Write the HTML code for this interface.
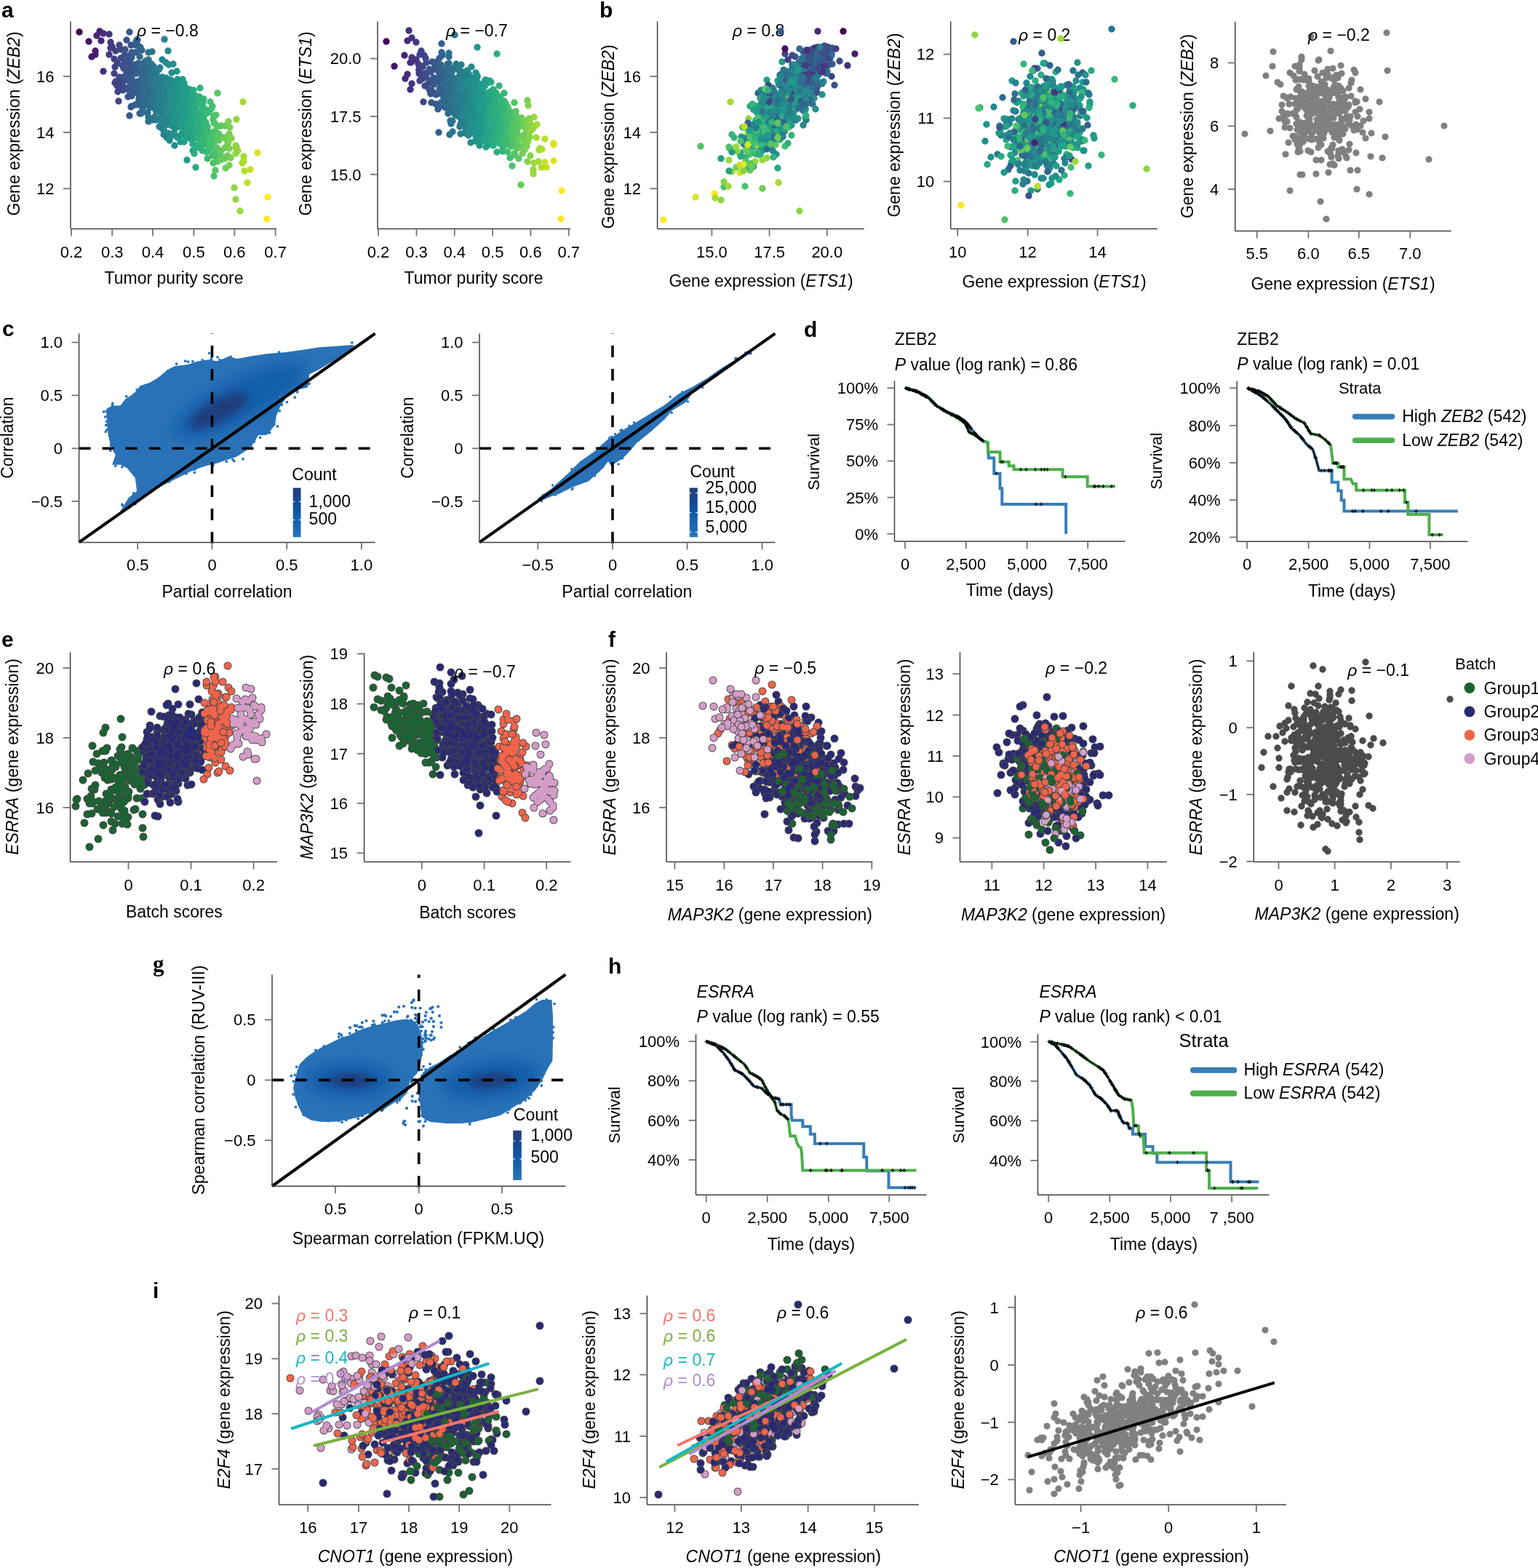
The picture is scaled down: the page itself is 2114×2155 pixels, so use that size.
<!DOCTYPE html>
<html><head><meta charset="utf-8"><title>Figure</title>
<style>html,body{margin:0;padding:0;background:#fff;}svg{display:block;}</style></head>
<body><svg width="2114" height="2155" viewBox="0 0 2114 2155" font-family='"Liberation Sans", Arial, Helvetica, sans-serif'>
<rect width="2114" height="2155" fill="#fff"/>
<defs><clipPath id="hc1"><polygon points="146.3,562 154.2,557.4 165.5,557.4 172.3,548.4 185.8,539.4 192.6,530.3 206.1,525.8 217.4,519 231,507.8 240,503.2 258.1,501 271.6,496.5 287.4,494.2 298.7,496.5 314.5,489.7 325.8,493.1 343.9,489.7 366.5,486.3 393.6,484 416.2,480.7 438.8,477.3 461.3,475.7 483.9,473.9 487.3,475 483.9,478.4 461.3,494.2 438.8,507.8 425.2,514.5 422.9,532.6 411.7,534.9 393.6,546.1 384.6,559.7 380,571 377.8,584.5 366.5,598.1 355.2,598.1 348.4,609.4 339.4,618.4 325.8,627.4 312.3,632 298.7,636.5 280.7,641 262.6,647.8 244.5,656.8 226.5,665.8 208.4,674.9 194.9,683.9 185.8,688.4 174.5,697.5 165.5,702 176.8,683.9 188.1,674.9 185.8,656.8 174.5,643.3 165.5,638.7 154.2,638.7 158.7,625.2 151.9,611.6 148.6,598.1 147.4,584.5 146.3,571"/></clipPath><filter id="hc1b0" x="-50%" y="-50%" width="200%" height="200%"><feGaussianBlur stdDeviation="9"/></filter><filter id="hc1b1" x="-50%" y="-50%" width="200%" height="200%"><feGaussianBlur stdDeviation="6"/></filter><linearGradient id="cb1" x1="0" y1="0" x2="0" y2="1"><stop offset="0" stop-color="#26397a"/><stop offset="0.45" stop-color="#0d56a3"/><stop offset="1" stop-color="#2a74ba"/></linearGradient><clipPath id="hc2"><polygon points="738.9,684.9 758.3,671.2 781.6,649.9 797.2,634.3 816.6,620.7 836,603.2 843.8,599.3 855.5,591.6 874.9,579.9 894.3,568.3 913.8,556.6 933.2,541 952.6,531.3 972.1,519.7 991.5,506.1 1010.9,494.4 1030.4,480.8 1030.4,484.7 1010.9,496.4 991.5,510 972.1,525.5 952.6,539.1 942.9,552.7 923.5,564.4 913.8,576 894.3,593.5 874.9,609.1 865.2,620.7 855.5,630.4 839.9,640.2 836,634.3 826.3,646 808.8,661.5 787.4,669.3 768,679 758.3,681.9 742.8,688.7"/></clipPath><filter id="hc2b0" x="-50%" y="-50%" width="200%" height="200%"><feGaussianBlur stdDeviation="4"/></filter><linearGradient id="cb2" x1="0" y1="0" x2="0" y2="1"><stop offset="0" stop-color="#26397a"/><stop offset="0.45" stop-color="#0d56a3"/><stop offset="1" stop-color="#2a74ba"/></linearGradient><clipPath id="hg"><polygon points="405.3,1484.4 408.6,1471.2 411.9,1462.4 420.7,1453.5 429.6,1446.9 440.6,1440.3 453.8,1433.7 467.1,1427.1 480.3,1422.7 493.5,1416 506.8,1411.6 524.4,1407.2 542.1,1402.8 557.5,1400.6 568.5,1402.8 575.2,1409.4 579.6,1422.7 581.8,1440.3 579.6,1453.5 577.4,1466.8 573,1475.6 564.1,1484.4 559.7,1502.1 550.9,1510.9 542.1,1515.3 528.8,1524.1 511.2,1528.5 493.5,1535.2 475.9,1539.6 458.2,1541.8 440.6,1541.8 427.4,1539.6 416.3,1533 409.7,1519.7 405.3,1506.5 403.1,1495.5"/><polygon points="577.4,1484.4 581.8,1473.4 590.6,1466.8 603.8,1460.2 617.1,1451.3 630.3,1444.7 643.5,1435.9 656.8,1429.3 674.4,1418.2 689.9,1409.4 705.3,1400.6 723,1389.6 736.2,1378.5 745,1374.1 758.3,1374.1 760,1396.2 760,1429.3 759.4,1458 753.9,1466.8 745,1484.4 736.2,1497.7 723,1510.9 705.3,1521.9 687.7,1533 670,1537.4 652.4,1541.8 634.7,1544 612.7,1544 590.6,1541.8 579.6,1535.2 577.4,1517.5 575.2,1502.1"/></clipPath><filter id="hgb0" x="-50%" y="-50%" width="200%" height="200%"><feGaussianBlur stdDeviation="8"/></filter><filter id="hgb1" x="-50%" y="-50%" width="200%" height="200%"><feGaussianBlur stdDeviation="5"/></filter><filter id="hgb2" x="-50%" y="-50%" width="200%" height="200%"><feGaussianBlur stdDeviation="8"/></filter><filter id="hgb3" x="-50%" y="-50%" width="200%" height="200%"><feGaussianBlur stdDeviation="5"/></filter><linearGradient id="cb3" x1="0" y1="0" x2="0" y2="1"><stop offset="0" stop-color="#26397a"/><stop offset="0.45" stop-color="#0d56a3"/><stop offset="1" stop-color="#2a74ba"/></linearGradient></defs>
<text x="2" y="24" font-size="30" font-weight="bold" >a</text>
<path d="M273 187h0M275 154h0" stroke="#2eb07e" stroke-width="9.4" stroke-linecap="round"/>
<path d="M261 145h0M260 154h0M258 183h0M261 150h0" stroke="#24a485" stroke-width="9.4" stroke-linecap="round"/>
<path d="M218 142h0M215 101h0M215 131h0M219 122h0M218 115h0M219 147h0" stroke="#297c8e" stroke-width="9.4" stroke-linecap="round"/>
<path d="M198 92h0M201 120h0M201 91h0M200 98h0" stroke="#2f6c8e" stroke-width="9.4" stroke-linecap="round"/>
<path d="M190 63h0M191 135h0M192 134h0" stroke="#33638d" stroke-width="9.4" stroke-linecap="round"/>
<path d="M236 135h0M234 128h0M233 159h0M234 139h0M232 129h0M234 147h0M236 145h0M232 148h0M233 113h0M235 120h0M236 137h0" stroke="#248c8c" stroke-width="9.4" stroke-linecap="round"/>
<path d="M169 124h0M169 118h0M171 87h0" stroke="#3d4d8a" stroke-width="9.4" stroke-linecap="round"/>
<path d="M258 154h0M257 170h0M256 174h0M257 169h0M256 163h0M256 182h0" stroke="#21a087" stroke-width="9.4" stroke-linecap="round"/>
<path d="M214 97h0M211 114h0M214 108h0M214 139h0M212 107h0M211 138h0M214 96h0M214 136h0" stroke="#2a788e" stroke-width="9.4" stroke-linecap="round"/>
<path d="M161 87h0" stroke="#404386" stroke-width="9.4" stroke-linecap="round"/>
<path d="M231 165h0M228 146h0M232 166h0M228 153h0M231 166h0M231 129h0M231 116h0" stroke="#25888d" stroke-width="9.4" stroke-linecap="round"/>
<path d="M239 182h0M239 161h0M236 132h0M240 151h0M237 153h0M238 151h0M238 139h0" stroke="#22908c" stroke-width="9.4" stroke-linecap="round"/>
<path d="M317 217h0M315 227h0M315 184h0" stroke="#7bd050" stroke-width="9.4" stroke-linecap="round"/>
<path d="M243 175h0M242 154h0M243 164h0M242 155h0M243 160h0M243 158h0" stroke="#21948b" stroke-width="9.4" stroke-linecap="round"/>
<path d="M223 163h0M226 121h0M224 152h0M223 165h0M224 148h0M225 124h0M224 135h0" stroke="#26838e" stroke-width="9.4" stroke-linecap="round"/>
<path d="M313 214h0M312 192h0" stroke="#71ce57" stroke-width="9.4" stroke-linecap="round"/>
<path d="M303 207h0M304 173h0" stroke="#5fc861" stroke-width="9.4" stroke-linecap="round"/>
<path d="M263 169h0M263 139h0M265 207h0" stroke="#28a883" stroke-width="9.4" stroke-linecap="round"/>
<path d="M284 186h0M284 209h0" stroke="#3dba74" stroke-width="9.4" stroke-linecap="round"/>
<path d="M253 150h0M251 171h0M253 127h0M251 132h0M252 170h0" stroke="#1f9d89" stroke-width="9.4" stroke-linecap="round"/>
<path d="M295 204h0" stroke="#4ec16b" stroke-width="9.4" stroke-linecap="round"/>
<path d="M142 46h0" stroke="#462f7b" stroke-width="9.4" stroke-linecap="round"/>
<path d="M221 119h0M221 113h0M220 136h0" stroke="#277f8e" stroke-width="9.4" stroke-linecap="round"/>
<path d="M208 101h0M209 132h0M207 127h0M208 124h0" stroke="#2c748e" stroke-width="9.4" stroke-linecap="round"/>
<path d="M173 95h0" stroke="#3b528a" stroke-width="9.4" stroke-linecap="round"/>
<path d="M194 119h0" stroke="#31688e" stroke-width="9.4" stroke-linecap="round"/>
<path d="M296 182h0" stroke="#57c466" stroke-width="9.4" stroke-linecap="round"/>
<path d="M203 123h0" stroke="#2e708e" stroke-width="9.4" stroke-linecap="round"/>
<path d="M280 170h0M280 167h0" stroke="#35b779" stroke-width="9.4" stroke-linecap="round"/>
<path d="M181 146h0" stroke="#375a8c" stroke-width="9.4" stroke-linecap="round"/>
<path d="M246 152h0M248 174h0M245 173h0M247 154h0" stroke="#20988a" stroke-width="9.4" stroke-linecap="round"/>
<path d="M335 221h0" stroke="#b0dd2e" stroke-width="9.4" stroke-linecap="round"/>
<path d="M267 211h0M268 145h0M267 150h0" stroke="#2bac80" stroke-width="9.4" stroke-linecap="round"/>
<path d="M278 197h0M278 187h0M275 181h0" stroke="#32b37b" stroke-width="9.4" stroke-linecap="round"/>
<path d="M166 107h0" stroke="#3e4888" stroke-width="9.4" stroke-linecap="round"/>
<path d="M325 164h0" stroke="#90d642" stroke-width="9.4" stroke-linecap="round"/>
<path d="M139 56h0" stroke="#482a79" stroke-width="9.4" stroke-linecap="round"/>
<path d="M154 64h0" stroke="#433980" stroke-width="9.4" stroke-linecap="round"/>
<path d="M180 126h0" stroke="#39568b" stroke-width="9.4" stroke-linecap="round"/>
<path d="M131 75h0" stroke="#471e6f" stroke-width="9.4" stroke-linecap="round"/>
<path d="M218 128h0M217 129h0M218 140h0M217 127h0M216 128h0" stroke="#297c8e" stroke-width="9.4" stroke-linecap="round"/>
<path d="M261 123h0M259 177h0M259 171h0" stroke="#24a485" stroke-width="9.4" stroke-linecap="round"/>
<path d="M253 165h0M253 165h0M252 161h0M252 173h0M251 142h0" stroke="#1f9d89" stroke-width="9.4" stroke-linecap="round"/>
<path d="M175 108h0M172 110h0M174 121h0" stroke="#3b528a" stroke-width="9.4" stroke-linecap="round"/>
<path d="M255 176h0M257 159h0M255 159h0M256 121h0M256 189h0M254 146h0" stroke="#21a087" stroke-width="9.4" stroke-linecap="round"/>
<path d="M225 163h0M227 129h0M226 149h0M224 136h0" stroke="#26838e" stroke-width="9.4" stroke-linecap="round"/>
<path d="M235 161h0M235 171h0M232 139h0M232 109h0M236 144h0M235 129h0M233 143h0M233 141h0" stroke="#248c8c" stroke-width="9.4" stroke-linecap="round"/>
<path d="M237 125h0M237 168h0M237 164h0M240 140h0M237 127h0M237 149h0M236 151h0M236 156h0M236 138h0M240 156h0M239 160h0" stroke="#22908c" stroke-width="9.4" stroke-linecap="round"/>
<path d="M272 199h0M274 184h0M273 154h0M271 165h0" stroke="#2eb07e" stroke-width="9.4" stroke-linecap="round"/>
<path d="M194 136h0M196 119h0M194 90h0" stroke="#31688e" stroke-width="9.4" stroke-linecap="round"/>
<path d="M268 185h0M268 133h0M270 153h0M268 145h0M267 162h0" stroke="#2bac80" stroke-width="9.4" stroke-linecap="round"/>
<path d="M279 147h0M281 198h0M283 168h0" stroke="#35b779" stroke-width="9.4" stroke-linecap="round"/>
<path d="M213 140h0M214 165h0M213 125h0M214 146h0M211 148h0M214 133h0" stroke="#2a788e" stroke-width="9.4" stroke-linecap="round"/>
<path d="M210 124h0M210 123h0M209 99h0M210 116h0M207 119h0M208 140h0" stroke="#2c748e" stroke-width="9.4" stroke-linecap="round"/>
<path d="M287 204h0M288 194h0" stroke="#3dba74" stroke-width="9.4" stroke-linecap="round"/>
<path d="M201 126h0M199 111h0M201 125h0M200 119h0M198 107h0" stroke="#2f6c8e" stroke-width="9.4" stroke-linecap="round"/>
<path d="M221 141h0M223 106h0M222 148h0M220 93h0" stroke="#277f8e" stroke-width="9.4" stroke-linecap="round"/>
<path d="M231 157h0M229 131h0M228 128h0M229 131h0M231 159h0" stroke="#25888d" stroke-width="9.4" stroke-linecap="round"/>
<path d="M188 100h0M186 144h0M185 89h0" stroke="#355f8c" stroke-width="9.4" stroke-linecap="round"/>
<path d="M278 184h0M275 160h0M278 161h0" stroke="#32b37b" stroke-width="9.4" stroke-linecap="round"/>
<path d="M262 176h0M265 198h0M264 180h0" stroke="#28a883" stroke-width="9.4" stroke-linecap="round"/>
<path d="M246 155h0M249 186h0M246 144h0M246 158h0M248 162h0M247 169h0M247 136h0" stroke="#20988a" stroke-width="9.4" stroke-linecap="round"/>
<path d="M293 164h0M294 169h0M296 185h0" stroke="#4ec16b" stroke-width="9.4" stroke-linecap="round"/>
<path d="M180 112h0M179 86h0M180 98h0" stroke="#39568b" stroke-width="9.4" stroke-linecap="round"/>
<path d="M181 79h0" stroke="#375a8c" stroke-width="9.4" stroke-linecap="round"/>
<path d="M203 140h0M205 138h0M204 90h0" stroke="#2e708e" stroke-width="9.4" stroke-linecap="round"/>
<path d="M158 114h0M157 101h0" stroke="#423e83" stroke-width="9.4" stroke-linecap="round"/>
<path d="M192 137h0M190 123h0M192 131h0M189 114h0" stroke="#33638d" stroke-width="9.4" stroke-linecap="round"/>
<path d="M168 115h0" stroke="#3d4d8a" stroke-width="9.4" stroke-linecap="round"/>
<path d="M290 197h0" stroke="#46be6f" stroke-width="9.4" stroke-linecap="round"/>
<path d="M164 106h0M164 118h0" stroke="#3e4888" stroke-width="9.4" stroke-linecap="round"/>
<path d="M159 112h0" stroke="#404386" stroke-width="9.4" stroke-linecap="round"/>
<path d="M285 176h0" stroke="#3dba74" stroke-width="9.4" stroke-linecap="round"/>
<path d="M235 120h0M234 139h0M236 153h0M235 124h0M234 155h0M234 160h0M235 153h0M236 156h0M235 110h0M235 140h0" stroke="#248c8c" stroke-width="9.4" stroke-linecap="round"/>
<path d="M256 128h0M258 126h0" stroke="#21a087" stroke-width="9.4" stroke-linecap="round"/>
<path d="M260 163h0M261 148h0M258 182h0M259 138h0M259 142h0M260 166h0M259 174h0" stroke="#24a485" stroke-width="9.4" stroke-linecap="round"/>
<path d="M243 132h0M244 121h0M241 165h0M243 175h0M243 137h0M244 138h0M244 111h0" stroke="#21948b" stroke-width="9.4" stroke-linecap="round"/>
<path d="M224 156h0M224 178h0M226 140h0" stroke="#26838e" stroke-width="9.4" stroke-linecap="round"/>
<path d="M183 128h0M181 72h0M183 92h0" stroke="#375a8c" stroke-width="9.4" stroke-linecap="round"/>
<path d="M207 126h0M209 108h0M208 88h0M210 131h0M210 92h0M209 94h0M209 110h0M206 131h0" stroke="#2c748e" stroke-width="9.4" stroke-linecap="round"/>
<path d="M223 127h0M222 134h0M221 152h0M219 144h0M219 145h0M219 174h0M220 125h0" stroke="#277f8e" stroke-width="9.4" stroke-linecap="round"/>
<path d="M185 126h0M189 55h0M186 62h0M187 58h0" stroke="#355f8c" stroke-width="9.4" stroke-linecap="round"/>
<path d="M200 107h0M201 102h0M200 124h0M200 84h0" stroke="#2f6c8e" stroke-width="9.4" stroke-linecap="round"/>
<path d="M247 138h0M248 155h0M249 126h0M248 141h0M246 164h0" stroke="#20988a" stroke-width="9.4" stroke-linecap="round"/>
<path d="M278 187h0M275 141h0M279 199h0M276 180h0" stroke="#32b37b" stroke-width="9.4" stroke-linecap="round"/>
<path d="M172 104h0" stroke="#3b528a" stroke-width="9.4" stroke-linecap="round"/>
<path d="M192 78h0M193 143h0" stroke="#33638d" stroke-width="9.4" stroke-linecap="round"/>
<path d="M313 197h0" stroke="#71ce57" stroke-width="9.4" stroke-linecap="round"/>
<path d="M228 108h0M231 139h0M228 162h0M230 125h0M232 126h0M229 151h0M231 126h0M231 183h0" stroke="#25888d" stroke-width="9.4" stroke-linecap="round"/>
<path d="M269 159h0M267 164h0M266 178h0M267 173h0M269 137h0M270 142h0M267 159h0" stroke="#2bac80" stroke-width="9.4" stroke-linecap="round"/>
<path d="M161 118h0" stroke="#404386" stroke-width="9.4" stroke-linecap="round"/>
<path d="M252 160h0M250 144h0M250 138h0M250 152h0M252 155h0" stroke="#1f9d89" stroke-width="9.4" stroke-linecap="round"/>
<path d="M240 143h0M237 142h0M236 128h0M240 200h0M238 123h0M238 147h0" stroke="#22908c" stroke-width="9.4" stroke-linecap="round"/>
<path d="M203 121h0M206 148h0M205 126h0M202 109h0" stroke="#2e708e" stroke-width="9.4" stroke-linecap="round"/>
<path d="M196 105h0" stroke="#31688e" stroke-width="9.4" stroke-linecap="round"/>
<path d="M265 165h0M264 172h0M265 152h0M262 179h0M263 141h0M265 184h0" stroke="#28a883" stroke-width="9.4" stroke-linecap="round"/>
<path d="M281 175h0M280 156h0" stroke="#35b779" stroke-width="9.4" stroke-linecap="round"/>
<path d="M178 94h0M178 90h0" stroke="#39568b" stroke-width="9.4" stroke-linecap="round"/>
<path d="M315 204h0" stroke="#7bd050" stroke-width="9.4" stroke-linecap="round"/>
<path d="M296 234h0" stroke="#57c466" stroke-width="9.4" stroke-linecap="round"/>
<path d="M158 92h0" stroke="#423e83" stroke-width="9.4" stroke-linecap="round"/>
<path d="M295 194h0" stroke="#4ec16b" stroke-width="9.4" stroke-linecap="round"/>
<path d="M273 156h0M272 203h0M273 143h0" stroke="#2eb07e" stroke-width="9.4" stroke-linecap="round"/>
<path d="M215 125h0" stroke="#297c8e" stroke-width="9.4" stroke-linecap="round"/>
<path d="M168 90h0" stroke="#3d4d8a" stroke-width="9.4" stroke-linecap="round"/>
<path d="M212 138h0M213 110h0M212 123h0" stroke="#2a788e" stroke-width="9.4" stroke-linecap="round"/>
<path d="M336 235h0" stroke="#b0dd2e" stroke-width="9.4" stroke-linecap="round"/>
<path d="M166 80h0" stroke="#3e4888" stroke-width="9.4" stroke-linecap="round"/>
<path d="M250 146h0M250 148h0M252 157h0M250 150h0M252 185h0M251 135h0M250 160h0M253 170h0M249 150h0M251 147h0M252 116h0" stroke="#1f9d89" stroke-width="9.4" stroke-linecap="round"/>
<path d="M289 151h0M290 184h0M291 203h0" stroke="#46be6f" stroke-width="9.4" stroke-linecap="round"/>
<path d="M236 136h0M238 173h0M237 164h0M237 164h0M237 142h0M237 120h0M236 168h0M240 175h0" stroke="#22908c" stroke-width="9.4" stroke-linecap="round"/>
<path d="M199 118h0M199 106h0M201 144h0M198 96h0M198 145h0M201 94h0M197 117h0M201 127h0" stroke="#2f6c8e" stroke-width="9.4" stroke-linecap="round"/>
<path d="M213 121h0M213 118h0M212 120h0M213 107h0" stroke="#2a788e" stroke-width="9.4" stroke-linecap="round"/>
<path d="M218 152h0M218 147h0M216 135h0" stroke="#297c8e" stroke-width="9.4" stroke-linecap="round"/>
<path d="M228 118h0M231 135h0M230 152h0M228 153h0M231 142h0M229 136h0M230 132h0" stroke="#25888d" stroke-width="9.4" stroke-linecap="round"/>
<path d="M245 164h0M241 129h0M241 131h0M241 125h0M241 186h0M242 151h0M244 151h0M241 128h0" stroke="#21948b" stroke-width="9.4" stroke-linecap="round"/>
<path d="M259 172h0" stroke="#24a485" stroke-width="9.4" stroke-linecap="round"/>
<path d="M335 215h0" stroke="#a6db35" stroke-width="9.4" stroke-linecap="round"/>
<path d="M281 158h0" stroke="#35b779" stroke-width="9.4" stroke-linecap="round"/>
<path d="M159 70h0" stroke="#404386" stroke-width="9.4" stroke-linecap="round"/>
<path d="M174 93h0M175 95h0M173 86h0M176 96h0" stroke="#3b528a" stroke-width="9.4" stroke-linecap="round"/>
<path d="M274 133h0M273 180h0M272 166h0M271 159h0M275 160h0" stroke="#2eb07e" stroke-width="9.4" stroke-linecap="round"/>
<path d="M191 138h0M193 65h0" stroke="#33638d" stroke-width="9.4" stroke-linecap="round"/>
<path d="M183 120h0M181 90h0" stroke="#375a8c" stroke-width="9.4" stroke-linecap="round"/>
<path d="M268 169h0M270 185h0M268 145h0" stroke="#2bac80" stroke-width="9.4" stroke-linecap="round"/>
<path d="M179 105h0" stroke="#39568b" stroke-width="9.4" stroke-linecap="round"/>
<path d="M195 106h0M197 87h0M195 138h0M195 109h0M194 113h0" stroke="#31688e" stroke-width="9.4" stroke-linecap="round"/>
<path d="M299 222h0M298 203h0M298 216h0" stroke="#57c466" stroke-width="9.4" stroke-linecap="round"/>
<path d="M315 193h0M316 175h0" stroke="#7bd050" stroke-width="9.4" stroke-linecap="round"/>
<path d="M185 94h0M185 124h0M186 72h0" stroke="#355f8c" stroke-width="9.4" stroke-linecap="round"/>
<path d="M245 152h0M246 155h0M249 173h0M248 128h0" stroke="#20988a" stroke-width="9.4" stroke-linecap="round"/>
<path d="M303 214h0" stroke="#5fc861" stroke-width="9.4" stroke-linecap="round"/>
<path d="M204 129h0M203 113h0M204 167h0M204 101h0M205 126h0M204 136h0" stroke="#2e708e" stroke-width="9.4" stroke-linecap="round"/>
<path d="M222 160h0" stroke="#277f8e" stroke-width="9.4" stroke-linecap="round"/>
<path d="M295 211h0" stroke="#4ec16b" stroke-width="9.4" stroke-linecap="round"/>
<path d="M235 164h0M234 120h0M235 149h0M232 164h0" stroke="#248c8c" stroke-width="9.4" stroke-linecap="round"/>
<path d="M224 133h0M227 132h0M227 150h0M223 149h0M227 161h0" stroke="#26838e" stroke-width="9.4" stroke-linecap="round"/>
<path d="M210 122h0M207 124h0M209 165h0" stroke="#2c748e" stroke-width="9.4" stroke-linecap="round"/>
<path d="M264 140h0M265 183h0M265 173h0M264 178h0" stroke="#28a883" stroke-width="9.4" stroke-linecap="round"/>
<path d="M279 177h0M277 172h0" stroke="#32b37b" stroke-width="9.4" stroke-linecap="round"/>
<path d="M327 207h0" stroke="#9bd83c" stroke-width="9.4" stroke-linecap="round"/>
<path d="M284 151h0M286 194h0" stroke="#3dba74" stroke-width="9.4" stroke-linecap="round"/>
<path d="M325 202h0" stroke="#90d642" stroke-width="9.4" stroke-linecap="round"/>
<path d="M255 157h0M253 114h0M254 132h0M255 130h0" stroke="#21a087" stroke-width="9.4" stroke-linecap="round"/>
<path d="M255 143h0M257 170h0M257 184h0M256 148h0M256 189h0" stroke="#21a087" stroke-width="9.4" stroke-linecap="round"/>
<path d="M206 94h0M204 128h0M202 129h0M203 140h0M202 123h0M204 161h0" stroke="#2e708e" stroke-width="9.4" stroke-linecap="round"/>
<path d="M278 139h0M278 161h0M276 195h0M278 182h0M278 182h0M275 121h0" stroke="#32b37b" stroke-width="9.4" stroke-linecap="round"/>
<path d="M262 157h0M266 183h0M266 136h0M265 173h0" stroke="#28a883" stroke-width="9.4" stroke-linecap="round"/>
<path d="M219 134h0M223 132h0M221 134h0M221 140h0M221 175h0" stroke="#277f8e" stroke-width="9.4" stroke-linecap="round"/>
<path d="M196 150h0M196 134h0M197 114h0" stroke="#31688e" stroke-width="9.4" stroke-linecap="round"/>
<path d="M164 62h0M166 68h0" stroke="#3e4888" stroke-width="9.4" stroke-linecap="round"/>
<path d="M233 154h0M236 131h0M236 154h0M236 100h0M232 145h0M233 135h0" stroke="#248c8c" stroke-width="9.4" stroke-linecap="round"/>
<path d="M229 135h0M229 123h0M230 163h0M229 189h0M230 151h0M229 110h0M230 124h0" stroke="#25888d" stroke-width="9.4" stroke-linecap="round"/>
<path d="M266 165h0M270 169h0M269 149h0M269 150h0M268 190h0" stroke="#2bac80" stroke-width="9.4" stroke-linecap="round"/>
<path d="M176 92h0" stroke="#3b528a" stroke-width="9.4" stroke-linecap="round"/>
<path d="M214 105h0M215 120h0M213 137h0M214 151h0M211 127h0M211 91h0M212 104h0" stroke="#2a788e" stroke-width="9.4" stroke-linecap="round"/>
<path d="M309 173h0" stroke="#67cb5c" stroke-width="9.4" stroke-linecap="round"/>
<path d="M192 69h0M192 99h0M190 87h0M189 97h0M189 121h0M191 130h0" stroke="#33638d" stroke-width="9.4" stroke-linecap="round"/>
<path d="M227 135h0M224 154h0M227 142h0M224 124h0M226 147h0M227 131h0" stroke="#26838e" stroke-width="9.4" stroke-linecap="round"/>
<path d="M260 156h0M260 183h0M262 191h0M259 182h0M261 186h0" stroke="#24a485" stroke-width="9.4" stroke-linecap="round"/>
<path d="M271 178h0M272 189h0M272 155h0" stroke="#2eb07e" stroke-width="9.4" stroke-linecap="round"/>
<path d="M179 114h0M177 124h0" stroke="#39568b" stroke-width="9.4" stroke-linecap="round"/>
<path d="M293 224h0" stroke="#4ec16b" stroke-width="9.4" stroke-linecap="round"/>
<path d="M237 186h0M238 125h0M238 149h0M236 152h0M239 120h0M236 138h0M237 141h0M237 127h0" stroke="#22908c" stroke-width="9.4" stroke-linecap="round"/>
<path d="M243 135h0M242 150h0M244 189h0M243 98h0M245 135h0M241 120h0M243 171h0M244 109h0M243 164h0" stroke="#21948b" stroke-width="9.4" stroke-linecap="round"/>
<path d="M324 211h0M324 200h0M324 203h0" stroke="#90d642" stroke-width="9.4" stroke-linecap="round"/>
<path d="M187 101h0M186 95h0" stroke="#355f8c" stroke-width="9.4" stroke-linecap="round"/>
<path d="M247 137h0M247 118h0M245 125h0" stroke="#20988a" stroke-width="9.4" stroke-linecap="round"/>
<path d="M281 179h0M283 181h0" stroke="#35b779" stroke-width="9.4" stroke-linecap="round"/>
<path d="M208 124h0" stroke="#2c748e" stroke-width="9.4" stroke-linecap="round"/>
<path d="M201 109h0M199 118h0M201 137h0M198 108h0M201 107h0M201 109h0" stroke="#2f6c8e" stroke-width="9.4" stroke-linecap="round"/>
<path d="M216 118h0M215 142h0M216 108h0" stroke="#297c8e" stroke-width="9.4" stroke-linecap="round"/>
<path d="M170 94h0" stroke="#3d4d8a" stroke-width="9.4" stroke-linecap="round"/>
<path d="M284 179h0" stroke="#3dba74" stroke-width="9.4" stroke-linecap="round"/>
<path d="M311 215h0" stroke="#71ce57" stroke-width="9.4" stroke-linecap="round"/>
<path d="M133 49h0" stroke="#482474" stroke-width="9.4" stroke-linecap="round"/>
<path d="M253 160h0" stroke="#1f9d89" stroke-width="9.4" stroke-linecap="round"/>
<path d="M162 113h0" stroke="#404386" stroke-width="9.4" stroke-linecap="round"/>
<path d="M304 207h0" stroke="#5fc861" stroke-width="9.4" stroke-linecap="round"/>
<path d="M174 55h0M176 133h0M174 97h0M174 82h0" stroke="#3b528a" stroke-width="9.4" stroke-linecap="round"/>
<path d="M280 190h0M280 136h0M282 194h0M280 161h0M281 178h0M282 189h0" stroke="#35b779" stroke-width="9.4" stroke-linecap="round"/>
<path d="M264 181h0M263 163h0M262 164h0M264 184h0M265 130h0" stroke="#28a883" stroke-width="9.4" stroke-linecap="round"/>
<path d="M183 113h0M181 100h0M183 126h0" stroke="#375a8c" stroke-width="9.4" stroke-linecap="round"/>
<path d="M272 177h0M271 163h0M273 164h0" stroke="#2eb07e" stroke-width="9.4" stroke-linecap="round"/>
<path d="M242 131h0M242 145h0M242 113h0M244 168h0M242 136h0M243 166h0" stroke="#21948b" stroke-width="9.4" stroke-linecap="round"/>
<path d="M269 170h0M267 163h0M268 132h0" stroke="#2bac80" stroke-width="9.4" stroke-linecap="round"/>
<path d="M204 116h0M203 138h0M202 155h0M204 82h0M206 112h0M204 72h0" stroke="#2e708e" stroke-width="9.4" stroke-linecap="round"/>
<path d="M171 76h0" stroke="#3d4d8a" stroke-width="9.4" stroke-linecap="round"/>
<path d="M189 123h0M192 156h0" stroke="#33638d" stroke-width="9.4" stroke-linecap="round"/>
<path d="M196 122h0M197 92h0M195 69h0M194 119h0M197 126h0" stroke="#31688e" stroke-width="9.4" stroke-linecap="round"/>
<path d="M237 168h0M238 139h0M239 164h0M237 130h0M237 140h0M238 130h0" stroke="#22908c" stroke-width="9.4" stroke-linecap="round"/>
<path d="M229 119h0M231 157h0M231 148h0M228 146h0M228 86h0M228 107h0M229 139h0M230 171h0" stroke="#25888d" stroke-width="9.4" stroke-linecap="round"/>
<path d="M207 118h0M207 112h0" stroke="#2c748e" stroke-width="9.4" stroke-linecap="round"/>
<path d="M247 139h0M246 150h0M247 162h0M248 166h0M249 154h0M248 195h0" stroke="#20988a" stroke-width="9.4" stroke-linecap="round"/>
<path d="M284 154h0M285 174h0M284 184h0" stroke="#3dba74" stroke-width="9.4" stroke-linecap="round"/>
<path d="M224 127h0M225 142h0M225 185h0M227 120h0M225 177h0M225 133h0M225 132h0M223 82h0M227 154h0M224 142h0M225 131h0M225 153h0" stroke="#26838e" stroke-width="9.4" stroke-linecap="round"/>
<path d="M309 203h0M310 203h0" stroke="#71ce57" stroke-width="9.4" stroke-linecap="round"/>
<path d="M233 150h0M235 161h0M234 186h0M233 130h0M235 168h0M234 132h0" stroke="#248c8c" stroke-width="9.4" stroke-linecap="round"/>
<path d="M250 144h0M250 171h0M249 160h0M250 183h0M251 156h0M252 154h0" stroke="#1f9d89" stroke-width="9.4" stroke-linecap="round"/>
<path d="M222 122h0M221 172h0M221 126h0M221 115h0M221 136h0M221 116h0" stroke="#277f8e" stroke-width="9.4" stroke-linecap="round"/>
<path d="M299 216h0M297 158h0" stroke="#57c466" stroke-width="9.4" stroke-linecap="round"/>
<path d="M180 99h0M178 98h0" stroke="#39568b" stroke-width="9.4" stroke-linecap="round"/>
<path d="M257 169h0" stroke="#21a087" stroke-width="9.4" stroke-linecap="round"/>
<path d="M276 172h0M279 151h0" stroke="#32b37b" stroke-width="9.4" stroke-linecap="round"/>
<path d="M333 224h0" stroke="#a6db35" stroke-width="9.4" stroke-linecap="round"/>
<path d="M213 130h0M213 130h0M211 163h0" stroke="#2a788e" stroke-width="9.4" stroke-linecap="round"/>
<path d="M152 66h0" stroke="#433980" stroke-width="9.4" stroke-linecap="round"/>
<path d="M260 168h0M260 157h0M259 145h0M261 160h0" stroke="#24a485" stroke-width="9.4" stroke-linecap="round"/>
<path d="M216 130h0M218 125h0M215 132h0M216 143h0" stroke="#297c8e" stroke-width="9.4" stroke-linecap="round"/>
<path d="M126 78h0" stroke="#46186a" stroke-width="9.4" stroke-linecap="round"/>
<path d="M309 218h0M305 219h0" stroke="#67cb5c" stroke-width="9.4" stroke-linecap="round"/>
<path d="M163 139h0" stroke="#3e4888" stroke-width="9.4" stroke-linecap="round"/>
<path d="M289 195h0M289 201h0M292 146h0M291 149h0M290 183h0M292 194h0" stroke="#46be6f" stroke-width="9.4" stroke-linecap="round"/>
<path d="M301 193h0" stroke="#5fc861" stroke-width="9.4" stroke-linecap="round"/>
<path d="M229 167h0M231 144h0M230 118h0" stroke="#25888d" stroke-width="9.4" stroke-linecap="round"/>
<path d="M209 140h0M208 100h0M206 136h0M207 139h0" stroke="#2c748e" stroke-width="9.4" stroke-linecap="round"/>
<path d="M215 137h0M218 96h0M217 116h0M217 164h0" stroke="#297c8e" stroke-width="9.4" stroke-linecap="round"/>
<path d="M246 113h0M248 146h0M246 136h0M246 146h0M248 145h0" stroke="#20988a" stroke-width="9.4" stroke-linecap="round"/>
<path d="M241 145h0M241 164h0M241 150h0M241 152h0M241 155h0M242 146h0M244 137h0M242 126h0M241 172h0" stroke="#21948b" stroke-width="9.4" stroke-linecap="round"/>
<path d="M296 171h0M294 159h0" stroke="#4ec16b" stroke-width="9.4" stroke-linecap="round"/>
<path d="M204 125h0M206 137h0M204 116h0" stroke="#2e708e" stroke-width="9.4" stroke-linecap="round"/>
<path d="M183 121h0M181 132h0" stroke="#375a8c" stroke-width="9.4" stroke-linecap="round"/>
<path d="M226 139h0M227 110h0M226 157h0M226 150h0M227 125h0M226 113h0M227 137h0" stroke="#26838e" stroke-width="9.4" stroke-linecap="round"/>
<path d="M233 124h0M233 132h0M233 193h0M236 129h0M234 152h0M232 122h0M236 124h0M236 157h0M232 89h0M236 142h0M232 119h0" stroke="#248c8c" stroke-width="9.4" stroke-linecap="round"/>
<path d="M266 124h0M268 175h0M269 132h0" stroke="#2bac80" stroke-width="9.4" stroke-linecap="round"/>
<path d="M240 142h0M239 134h0M240 158h0M240 172h0M236 129h0M240 150h0M238 88h0M236 145h0" stroke="#22908c" stroke-width="9.4" stroke-linecap="round"/>
<path d="M282 155h0M283 178h0M283 178h0" stroke="#35b779" stroke-width="9.4" stroke-linecap="round"/>
<path d="M286 207h0M285 184h0M286 155h0" stroke="#3dba74" stroke-width="9.4" stroke-linecap="round"/>
<path d="M175 77h0M173 91h0M174 104h0" stroke="#3b528a" stroke-width="9.4" stroke-linecap="round"/>
<path d="M263 177h0M264 192h0M264 137h0M264 144h0M263 157h0M263 168h0" stroke="#28a883" stroke-width="9.4" stroke-linecap="round"/>
<path d="M278 207h0M279 141h0M275 165h0" stroke="#32b37b" stroke-width="9.4" stroke-linecap="round"/>
<path d="M261 184h0M261 155h0" stroke="#24a485" stroke-width="9.4" stroke-linecap="round"/>
<path d="M222 142h0M220 138h0M220 130h0M219 163h0M222 155h0" stroke="#277f8e" stroke-width="9.4" stroke-linecap="round"/>
<path d="M301 184h0M299 174h0M299 187h0M296 170h0M297 182h0" stroke="#57c466" stroke-width="9.4" stroke-linecap="round"/>
<path d="M163 112h0" stroke="#404386" stroke-width="9.4" stroke-linecap="round"/>
<path d="M258 189h0M254 137h0M255 175h0M257 161h0" stroke="#21a087" stroke-width="9.4" stroke-linecap="round"/>
<path d="M195 88h0M194 156h0M196 99h0M197 97h0" stroke="#31688e" stroke-width="9.4" stroke-linecap="round"/>
<path d="M180 147h0" stroke="#39568b" stroke-width="9.4" stroke-linecap="round"/>
<path d="M199 127h0M200 127h0M199 126h0M199 143h0M198 116h0" stroke="#2f6c8e" stroke-width="9.4" stroke-linecap="round"/>
<path d="M152 58h0" stroke="#433980" stroke-width="9.4" stroke-linecap="round"/>
<path d="M188 120h0M188 55h0M187 101h0" stroke="#355f8c" stroke-width="9.4" stroke-linecap="round"/>
<path d="M272 142h0M273 174h0" stroke="#2eb07e" stroke-width="9.4" stroke-linecap="round"/>
<path d="M310 189h0" stroke="#71ce57" stroke-width="9.4" stroke-linecap="round"/>
<path d="M314 167h0" stroke="#7bd050" stroke-width="9.4" stroke-linecap="round"/>
<path d="M253 167h0M253 142h0M253 155h0" stroke="#1f9d89" stroke-width="9.4" stroke-linecap="round"/>
<path d="M307 189h0" stroke="#67cb5c" stroke-width="9.4" stroke-linecap="round"/>
<path d="M224 141h0M226 170h0M224 166h0M226 164h0M224 123h0M225 154h0" stroke="#26838e" stroke-width="9.4" stroke-linecap="round"/>
<path d="M279 178h0M277 142h0M275 165h0M277 160h0M275 182h0" stroke="#32b37b" stroke-width="9.4" stroke-linecap="round"/>
<path d="M265 154h0M264 142h0M264 173h0M264 134h0M264 168h0M264 160h0" stroke="#28a883" stroke-width="9.4" stroke-linecap="round"/>
<path d="M310 231h0" stroke="#71ce57" stroke-width="9.4" stroke-linecap="round"/>
<path d="M257 158h0M253 195h0M257 135h0" stroke="#21a087" stroke-width="9.4" stroke-linecap="round"/>
<path d="M209 138h0M207 117h0" stroke="#2c748e" stroke-width="9.4" stroke-linecap="round"/>
<path d="M203 87h0M203 155h0" stroke="#2e708e" stroke-width="9.4" stroke-linecap="round"/>
<path d="M200 122h0M201 129h0M202 122h0" stroke="#2f6c8e" stroke-width="9.4" stroke-linecap="round"/>
<path d="M162 111h0M162 126h0" stroke="#404386" stroke-width="9.4" stroke-linecap="round"/>
<path d="M220 150h0M222 142h0M220 145h0M222 132h0M221 147h0M220 139h0M220 126h0" stroke="#277f8e" stroke-width="9.4" stroke-linecap="round"/>
<path d="M230 147h0M232 110h0M229 157h0M231 147h0M231 158h0M230 145h0" stroke="#25888d" stroke-width="9.4" stroke-linecap="round"/>
<path d="M241 148h0M242 158h0M241 159h0M241 146h0" stroke="#21948b" stroke-width="9.4" stroke-linecap="round"/>
<path d="M181 108h0" stroke="#375a8c" stroke-width="9.4" stroke-linecap="round"/>
<path d="M318 190h0" stroke="#86d349" stroke-width="9.4" stroke-linecap="round"/>
<path d="M246 116h0M246 134h0M247 123h0M248 138h0M246 139h0M246 149h0" stroke="#20988a" stroke-width="9.4" stroke-linecap="round"/>
<path d="M285 218h0M287 194h0M286 194h0" stroke="#3dba74" stroke-width="9.4" stroke-linecap="round"/>
<path d="M271 176h0M274 167h0M273 185h0M272 175h0M271 167h0" stroke="#2eb07e" stroke-width="9.4" stroke-linecap="round"/>
<path d="M189 112h0M187 122h0" stroke="#355f8c" stroke-width="9.4" stroke-linecap="round"/>
<path d="M180 62h0" stroke="#39568b" stroke-width="9.4" stroke-linecap="round"/>
<path d="M252 132h0M253 135h0M249 174h0M251 109h0M253 174h0" stroke="#1f9d89" stroke-width="9.4" stroke-linecap="round"/>
<path d="M269 149h0M267 149h0" stroke="#2bac80" stroke-width="9.4" stroke-linecap="round"/>
<path d="M219 147h0M215 154h0M218 121h0M218 151h0M215 153h0M218 129h0M217 148h0M217 126h0" stroke="#297c8e" stroke-width="9.4" stroke-linecap="round"/>
<path d="M195 114h0M197 120h0M197 102h0M196 89h0" stroke="#31688e" stroke-width="9.4" stroke-linecap="round"/>
<path d="M261 134h0M258 177h0M258 168h0M259 153h0M261 139h0" stroke="#24a485" stroke-width="9.4" stroke-linecap="round"/>
<path d="M293 198h0M294 181h0M295 214h0" stroke="#4ec16b" stroke-width="9.4" stroke-linecap="round"/>
<path d="M314 187h0" stroke="#7bd050" stroke-width="9.4" stroke-linecap="round"/>
<path d="M212 113h0M214 108h0M212 161h0M214 131h0M214 149h0" stroke="#2a788e" stroke-width="9.4" stroke-linecap="round"/>
<path d="M190 144h0M192 113h0" stroke="#33638d" stroke-width="9.4" stroke-linecap="round"/>
<path d="M150 75h0" stroke="#433980" stroke-width="9.4" stroke-linecap="round"/>
<path d="M237 163h0M237 136h0M240 113h0M240 172h0M236 173h0M237 166h0M240 142h0M238 145h0M239 166h0" stroke="#22908c" stroke-width="9.4" stroke-linecap="round"/>
<path d="M234 144h0M234 143h0M235 146h0M233 146h0M236 121h0" stroke="#248c8c" stroke-width="9.4" stroke-linecap="round"/>
<path d="M289 195h0M290 189h0M289 140h0M292 214h0" stroke="#46be6f" stroke-width="9.4" stroke-linecap="round"/>
<path d="M282 173h0" stroke="#35b779" stroke-width="9.4" stroke-linecap="round"/>
<path d="M172 68h0" stroke="#3b528a" stroke-width="9.4" stroke-linecap="round"/>
<path d="M297 189h0" stroke="#57c466" stroke-width="9.4" stroke-linecap="round"/>
<path d="M157 81h0" stroke="#423e83" stroke-width="9.4" stroke-linecap="round"/>
<path d="M142 98h0" stroke="#462f7b" stroke-width="9.4" stroke-linecap="round"/>
<path d="M109 44h0" stroke="#440154" stroke-width="9.4" stroke-linecap="round"/>
<path d="M137 43h0" stroke="#482474" stroke-width="9.4" stroke-linecap="round"/>
<path d="M150 47h0" stroke="#44347e" stroke-width="9.4" stroke-linecap="round"/>
<path d="M178 44h0M178 159h0" stroke="#39568b" stroke-width="9.4" stroke-linecap="round"/>
<path d="M226 54h0" stroke="#26838e" stroke-width="9.4" stroke-linecap="round"/>
<path d="M231 70h0" stroke="#25888d" stroke-width="9.4" stroke-linecap="round"/>
<path d="M122 57h0" stroke="#461364" stroke-width="9.4" stroke-linecap="round"/>
<path d="M131 70h0" stroke="#471e6f" stroke-width="9.4" stroke-linecap="round"/>
<path d="M209 71h0" stroke="#2c748e" stroke-width="9.4" stroke-linecap="round"/>
<path d="M334 140h0" stroke="#a6db35" stroke-width="9.4" stroke-linecap="round"/>
<path d="M299 128h0" stroke="#57c466" stroke-width="9.4" stroke-linecap="round"/>
<path d="M368 271h0M367 301h0" stroke="#fde725" stroke-width="9.4" stroke-linecap="round"/>
<path d="M330 290h0" stroke="#9bd83c" stroke-width="9.4" stroke-linecap="round"/>
<path d="M324 274h0M322 258h0" stroke="#90d642" stroke-width="9.4" stroke-linecap="round"/>
<path d="M257 220h0" stroke="#21a087" stroke-width="9.4" stroke-linecap="round"/>
<path d="M269 230h0" stroke="#2bac80" stroke-width="9.4" stroke-linecap="round"/>
<path d="M294 242h0" stroke="#4ec16b" stroke-width="9.4" stroke-linecap="round"/>
<path d="M340 251h0" stroke="#bbdf2b" stroke-width="9.4" stroke-linecap="round"/>
<path d="M354 210h0" stroke="#dce328" stroke-width="9.4" stroke-linecap="round"/>
<path d="M344 233h0" stroke="#c6e02a" stroke-width="9.4" stroke-linecap="round"/>
<line x1="97" y1="29.4" x2="97" y2="314.5" stroke="#3f3f3f" stroke-width="1.5" />
<line x1="97" y1="314.5" x2="380" y2="314.5" stroke="#3f3f3f" stroke-width="1.5" />
<line x1="98" y1="314.5" x2="98" y2="324.5" stroke="#737373" stroke-width="1.8" />
<text x="98" y="353.5" font-size="22" text-anchor="middle" >0.2</text>
<line x1="154.2" y1="314.5" x2="154.2" y2="324.5" stroke="#737373" stroke-width="1.8" />
<text x="154.2" y="353.5" font-size="22" text-anchor="middle" >0.3</text>
<line x1="210" y1="314.5" x2="210" y2="324.5" stroke="#737373" stroke-width="1.8" />
<text x="210" y="353.5" font-size="22" text-anchor="middle" >0.4</text>
<line x1="266.4" y1="314.5" x2="266.4" y2="324.5" stroke="#737373" stroke-width="1.8" />
<text x="266.4" y="353.5" font-size="22" text-anchor="middle" >0.5</text>
<line x1="322.3" y1="314.5" x2="322.3" y2="324.5" stroke="#737373" stroke-width="1.8" />
<text x="322.3" y="353.5" font-size="22" text-anchor="middle" >0.6</text>
<line x1="378.6" y1="314.5" x2="378.6" y2="324.5" stroke="#737373" stroke-width="1.8" />
<text x="378.6" y="353.5" font-size="22" text-anchor="middle" >0.7</text>
<line x1="87" y1="259.2" x2="97" y2="259.2" stroke="#737373" stroke-width="1.8" />
<text x="74.5" y="267" font-size="22" text-anchor="end" >12</text>
<line x1="87" y1="182" x2="97" y2="182" stroke="#737373" stroke-width="1.8" />
<text x="74.5" y="189.8" font-size="22" text-anchor="end" >14</text>
<line x1="87" y1="105" x2="97" y2="105" stroke="#737373" stroke-width="1.8" />
<text x="74.5" y="112.8" font-size="22" text-anchor="end" >16</text>
<text x="188" y="50.4" font-size="23" ><tspan font-style="italic">ρ</tspan> = −0.8</text>
<text x="239" y="390" font-size="23" text-anchor="middle" >Tumor purity score</text>
<text x="27" y="170" font-size="23" text-anchor="middle" transform="rotate(-90 27 170)" >Gene expression (<tspan font-style="italic">ZEB2</tspan>)</text>
<path d="M614 139h0M614 103h0M615 120h0M613 117h0M616 117h0M614 107h0M617 119h0" stroke="#2f6c8e" stroke-width="9.4" stroke-linecap="round"/>
<path d="M674 139h0M674 148h0M676 125h0M676 191h0M675 169h0M676 148h0M674 141h0" stroke="#28a883" stroke-width="9.4" stroke-linecap="round"/>
<path d="M734 161h0" stroke="#9bd83c" stroke-width="9.4" stroke-linecap="round"/>
<path d="M638 164h0M637 136h0M639 115h0M638 123h0M637 127h0M639 117h0M638 157h0" stroke="#26838e" stroke-width="9.4" stroke-linecap="round"/>
<path d="M651 114h0M653 173h0M650 149h0" stroke="#22908c" stroke-width="9.4" stroke-linecap="round"/>
<path d="M688 172h0" stroke="#32b37b" stroke-width="9.4" stroke-linecap="round"/>
<path d="M690 139h0M693 158h0M690 163h0" stroke="#35b779" stroke-width="9.4" stroke-linecap="round"/>
<path d="M678 168h0M680 143h0M678 154h0M680 163h0M677 139h0M677 162h0" stroke="#2bac80" stroke-width="9.4" stroke-linecap="round"/>
<path d="M599 143h0" stroke="#375a8c" stroke-width="9.4" stroke-linecap="round"/>
<path d="M627 88h0M628 153h0M626 114h0M628 151h0M627 140h0" stroke="#2a788e" stroke-width="9.4" stroke-linecap="round"/>
<path d="M646 127h0M649 152h0M648 155h0M648 182h0M646 160h0M648 166h0M647 196h0M648 155h0" stroke="#248c8c" stroke-width="9.4" stroke-linecap="round"/>
<path d="M685 170h0M684 170h0M682 179h0M683 141h0M684 173h0" stroke="#2eb07e" stroke-width="9.4" stroke-linecap="round"/>
<path d="M761 221h0" stroke="#dce328" stroke-width="9.4" stroke-linecap="round"/>
<path d="M624 133h0M622 181h0" stroke="#2c748e" stroke-width="9.4" stroke-linecap="round"/>
<path d="M633 184h0M635 104h0M635 150h0M634 89h0M633 129h0" stroke="#277f8e" stroke-width="9.4" stroke-linecap="round"/>
<path d="M618 121h0M617 73h0M620 115h0M619 107h0M621 140h0M617 78h0M620 102h0M620 103h0M620 133h0M619 112h0" stroke="#2e708e" stroke-width="9.4" stroke-linecap="round"/>
<path d="M633 118h0M633 112h0M632 155h0M630 145h0" stroke="#297c8e" stroke-width="9.4" stroke-linecap="round"/>
<path d="M606 141h0M608 130h0M605 106h0M608 98h0M608 117h0" stroke="#33638d" stroke-width="9.4" stroke-linecap="round"/>
<path d="M672 194h0M670 137h0M673 176h0M670 184h0M673 157h0" stroke="#24a485" stroke-width="9.4" stroke-linecap="round"/>
<path d="M658 120h0M659 167h0M661 140h0M658 162h0M660 116h0M658 159h0M660 146h0M658 129h0" stroke="#20988a" stroke-width="9.4" stroke-linecap="round"/>
<path d="M693 193h0" stroke="#3dba74" stroke-width="9.4" stroke-linecap="round"/>
<path d="M644 141h0M641 147h0M644 186h0M644 129h0" stroke="#25888d" stroke-width="9.4" stroke-linecap="round"/>
<path d="M737 189h0" stroke="#a6db35" stroke-width="9.4" stroke-linecap="round"/>
<path d="M699 190h0M698 153h0M698 164h0" stroke="#46be6f" stroke-width="9.4" stroke-linecap="round"/>
<path d="M590 123h0M592 129h0" stroke="#3b528a" stroke-width="9.4" stroke-linecap="round"/>
<path d="M666 119h0M669 189h0" stroke="#21a087" stroke-width="9.4" stroke-linecap="round"/>
<path d="M724 176h0M723 196h0" stroke="#7bd050" stroke-width="9.4" stroke-linecap="round"/>
<path d="M727 163h0M728 166h0" stroke="#86d349" stroke-width="9.4" stroke-linecap="round"/>
<path d="M662 150h0M664 162h0M664 145h0" stroke="#1f9d89" stroke-width="9.4" stroke-linecap="round"/>
<path d="M611 140h0M612 114h0" stroke="#31688e" stroke-width="9.4" stroke-linecap="round"/>
<path d="M714 166h0" stroke="#67cb5c" stroke-width="9.4" stroke-linecap="round"/>
<path d="M596 127h0" stroke="#39568b" stroke-width="9.4" stroke-linecap="round"/>
<path d="M712 203h0M709 173h0" stroke="#5fc861" stroke-width="9.4" stroke-linecap="round"/>
<path d="M704 196h0M702 180h0" stroke="#4ec16b" stroke-width="9.4" stroke-linecap="round"/>
<path d="M601 144h0" stroke="#355f8c" stroke-width="9.4" stroke-linecap="round"/>
<path d="M579 108h0" stroke="#404386" stroke-width="9.4" stroke-linecap="round"/>
<path d="M705 173h0" stroke="#57c466" stroke-width="9.4" stroke-linecap="round"/>
<path d="M681 175h0M682 162h0M683 152h0M681 130h0M683 177h0M685 188h0" stroke="#2eb07e" stroke-width="9.4" stroke-linecap="round"/>
<path d="M695 186h0M695 181h0M696 183h0M696 171h0M694 171h0" stroke="#3dba74" stroke-width="9.4" stroke-linecap="round"/>
<path d="M618 113h0M620 136h0M621 122h0M618 152h0" stroke="#2e708e" stroke-width="9.4" stroke-linecap="round"/>
<path d="M673 191h0M676 137h0M675 150h0" stroke="#28a883" stroke-width="9.4" stroke-linecap="round"/>
<path d="M719 173h0M717 162h0M719 192h0" stroke="#71ce57" stroke-width="9.4" stroke-linecap="round"/>
<path d="M612 134h0M610 106h0" stroke="#31688e" stroke-width="9.4" stroke-linecap="round"/>
<path d="M664 145h0M662 187h0M663 155h0M662 155h0M663 150h0" stroke="#1f9d89" stroke-width="9.4" stroke-linecap="round"/>
<path d="M646 134h0M648 151h0M648 175h0M648 92h0M646 167h0" stroke="#248c8c" stroke-width="9.4" stroke-linecap="round"/>
<path d="M600 89h0M598 92h0M597 95h0" stroke="#375a8c" stroke-width="9.4" stroke-linecap="round"/>
<path d="M631 111h0M630 157h0M633 131h0M629 129h0M631 139h0M630 146h0M630 127h0M632 152h0M630 141h0M631 152h0" stroke="#297c8e" stroke-width="9.4" stroke-linecap="round"/>
<path d="M639 140h0M640 122h0M640 156h0M638 145h0" stroke="#26838e" stroke-width="9.4" stroke-linecap="round"/>
<path d="M687 133h0M686 164h0M685 181h0M688 156h0M687 172h0M689 187h0" stroke="#32b37b" stroke-width="9.4" stroke-linecap="round"/>
<path d="M691 160h0M691 141h0M693 139h0M691 204h0M693 162h0M692 150h0" stroke="#35b779" stroke-width="9.4" stroke-linecap="round"/>
<path d="M628 137h0M626 154h0M628 133h0M626 125h0M627 110h0" stroke="#2a788e" stroke-width="9.4" stroke-linecap="round"/>
<path d="M654 187h0M654 136h0M654 128h0M656 106h0M656 158h0M653 145h0M654 110h0" stroke="#21948b" stroke-width="9.4" stroke-linecap="round"/>
<path d="M712 168h0M711 204h0M712 174h0" stroke="#5fc861" stroke-width="9.4" stroke-linecap="round"/>
<path d="M615 112h0M614 118h0M616 133h0M616 128h0" stroke="#2f6c8e" stroke-width="9.4" stroke-linecap="round"/>
<path d="M564 123h0M564 86h0" stroke="#462f7b" stroke-width="9.4" stroke-linecap="round"/>
<path d="M604 95h0" stroke="#355f8c" stroke-width="9.4" stroke-linecap="round"/>
<path d="M651 154h0M651 126h0M649 128h0M653 136h0" stroke="#22908c" stroke-width="9.4" stroke-linecap="round"/>
<path d="M678 127h0M680 165h0M678 169h0M681 167h0" stroke="#2bac80" stroke-width="9.4" stroke-linecap="round"/>
<path d="M622 123h0M621 98h0M624 124h0" stroke="#2c748e" stroke-width="9.4" stroke-linecap="round"/>
<path d="M633 135h0M634 168h0M633 149h0M635 144h0M634 98h0" stroke="#277f8e" stroke-width="9.4" stroke-linecap="round"/>
<path d="M751 230h0" stroke="#c6e02a" stroke-width="9.4" stroke-linecap="round"/>
<path d="M641 148h0M642 154h0M643 121h0M644 167h0M643 128h0" stroke="#25888d" stroke-width="9.4" stroke-linecap="round"/>
<path d="M608 76h0" stroke="#33638d" stroke-width="9.4" stroke-linecap="round"/>
<path d="M665 129h0M668 175h0M668 158h0M665 128h0M666 128h0M669 149h0M669 159h0" stroke="#21a087" stroke-width="9.4" stroke-linecap="round"/>
<path d="M585 80h0" stroke="#3e4888" stroke-width="9.4" stroke-linecap="round"/>
<path d="M706 189h0M709 153h0M707 211h0" stroke="#57c466" stroke-width="9.4" stroke-linecap="round"/>
<path d="M576 101h0" stroke="#423e83" stroke-width="9.4" stroke-linecap="round"/>
<path d="M700 162h0" stroke="#46be6f" stroke-width="9.4" stroke-linecap="round"/>
<path d="M589 114h0" stroke="#3d4d8a" stroke-width="9.4" stroke-linecap="round"/>
<path d="M670 132h0" stroke="#24a485" stroke-width="9.4" stroke-linecap="round"/>
<path d="M596 113h0" stroke="#39568b" stroke-width="9.4" stroke-linecap="round"/>
<path d="M560 56h0" stroke="#482a79" stroke-width="9.4" stroke-linecap="round"/>
<path d="M749 191h0" stroke="#bbdf2b" stroke-width="9.4" stroke-linecap="round"/>
<path d="M662 164h0M661 160h0" stroke="#1f9d89" stroke-width="9.4" stroke-linecap="round"/>
<path d="M608 128h0M606 99h0M606 116h0M607 119h0" stroke="#33638d" stroke-width="9.4" stroke-linecap="round"/>
<path d="M698 147h0M698 173h0" stroke="#46be6f" stroke-width="9.4" stroke-linecap="round"/>
<path d="M668 174h0M665 170h0M667 110h0M667 139h0M665 167h0M668 148h0M666 160h0M666 163h0M666 139h0" stroke="#21a087" stroke-width="9.4" stroke-linecap="round"/>
<path d="M602 150h0M604 101h0M604 95h0" stroke="#355f8c" stroke-width="9.4" stroke-linecap="round"/>
<path d="M654 138h0M655 120h0M655 146h0M654 117h0M657 133h0M653 194h0M655 186h0M654 100h0M655 136h0M655 147h0" stroke="#21948b" stroke-width="9.4" stroke-linecap="round"/>
<path d="M628 153h0M626 108h0M627 156h0M628 151h0" stroke="#2a788e" stroke-width="9.4" stroke-linecap="round"/>
<path d="M633 142h0M631 148h0M631 146h0M632 174h0M630 125h0" stroke="#297c8e" stroke-width="9.4" stroke-linecap="round"/>
<path d="M659 131h0M659 149h0M657 138h0M659 144h0" stroke="#20988a" stroke-width="9.4" stroke-linecap="round"/>
<path d="M690 151h0M691 139h0M689 196h0M690 181h0M690 144h0M690 147h0M692 178h0M689 174h0" stroke="#35b779" stroke-width="9.4" stroke-linecap="round"/>
<path d="M687 175h0M687 162h0M688 195h0M688 149h0" stroke="#32b37b" stroke-width="9.4" stroke-linecap="round"/>
<path d="M637 140h0M638 153h0M640 137h0M639 157h0M639 168h0M640 144h0" stroke="#26838e" stroke-width="9.4" stroke-linecap="round"/>
<path d="M615 118h0M613 114h0M614 138h0M616 98h0M616 126h0M614 131h0" stroke="#2f6c8e" stroke-width="9.4" stroke-linecap="round"/>
<path d="M677 137h0M675 141h0M674 126h0M676 159h0" stroke="#28a883" stroke-width="9.4" stroke-linecap="round"/>
<path d="M732 175h0" stroke="#90d642" stroke-width="9.4" stroke-linecap="round"/>
<path d="M702 201h0M705 176h0" stroke="#4ec16b" stroke-width="9.4" stroke-linecap="round"/>
<path d="M649 178h0M648 150h0M646 157h0M647 166h0M645 157h0M647 141h0M645 137h0" stroke="#248c8c" stroke-width="9.4" stroke-linecap="round"/>
<path d="M670 114h0M669 173h0M673 159h0M673 177h0" stroke="#24a485" stroke-width="9.4" stroke-linecap="round"/>
<path d="M708 174h0M706 168h0" stroke="#57c466" stroke-width="9.4" stroke-linecap="round"/>
<path d="M642 126h0M643 134h0" stroke="#25888d" stroke-width="9.4" stroke-linecap="round"/>
<path d="M586 86h0" stroke="#3d4d8a" stroke-width="9.4" stroke-linecap="round"/>
<path d="M636 142h0M637 115h0M634 163h0" stroke="#277f8e" stroke-width="9.4" stroke-linecap="round"/>
<path d="M682 162h0M681 157h0M684 173h0M682 183h0" stroke="#2eb07e" stroke-width="9.4" stroke-linecap="round"/>
<path d="M596 116h0M596 107h0" stroke="#39568b" stroke-width="9.4" stroke-linecap="round"/>
<path d="M729 214h0M728 188h0" stroke="#86d349" stroke-width="9.4" stroke-linecap="round"/>
<path d="M677 181h0M677 139h0M677 139h0M678 165h0" stroke="#2bac80" stroke-width="9.4" stroke-linecap="round"/>
<path d="M649 139h0M652 117h0M652 145h0M653 178h0M649 139h0" stroke="#22908c" stroke-width="9.4" stroke-linecap="round"/>
<path d="M695 172h0M694 181h0" stroke="#3dba74" stroke-width="9.4" stroke-linecap="round"/>
<path d="M610 121h0M612 148h0M612 110h0" stroke="#31688e" stroke-width="9.4" stroke-linecap="round"/>
<path d="M721 175h0" stroke="#71ce57" stroke-width="9.4" stroke-linecap="round"/>
<path d="M590 95h0" stroke="#3b528a" stroke-width="9.4" stroke-linecap="round"/>
<path d="M575 88h0" stroke="#423e83" stroke-width="9.4" stroke-linecap="round"/>
<path d="M599 130h0M600 130h0" stroke="#375a8c" stroke-width="9.4" stroke-linecap="round"/>
<path d="M581 105h0" stroke="#3e4888" stroke-width="9.4" stroke-linecap="round"/>
<path d="M619 138h0" stroke="#2e708e" stroke-width="9.4" stroke-linecap="round"/>
<path d="M566 85h0" stroke="#44347e" stroke-width="9.4" stroke-linecap="round"/>
<path d="M738 171h0" stroke="#a6db35" stroke-width="9.4" stroke-linecap="round"/>
<path d="M721 206h0" stroke="#7bd050" stroke-width="9.4" stroke-linecap="round"/>
<path d="M662 154h0M662 116h0M661 145h0M662 171h0M662 137h0M661 158h0M664 145h0" stroke="#1f9d89" stroke-width="9.4" stroke-linecap="round"/>
<path d="M680 149h0M679 135h0M680 148h0M681 147h0M677 168h0" stroke="#2bac80" stroke-width="9.4" stroke-linecap="round"/>
<path d="M641 134h0M643 133h0M643 153h0M644 153h0M644 129h0M645 134h0" stroke="#25888d" stroke-width="9.4" stroke-linecap="round"/>
<path d="M658 143h0M658 136h0M658 130h0M659 125h0M659 156h0M660 126h0M657 146h0M657 164h0M658 140h0M660 186h0M657 156h0M658 148h0M658 176h0" stroke="#20988a" stroke-width="9.4" stroke-linecap="round"/>
<path d="M632 127h0M632 144h0M629 135h0M631 149h0M630 160h0M629 114h0" stroke="#297c8e" stroke-width="9.4" stroke-linecap="round"/>
<path d="M651 165h0M651 135h0M651 153h0M651 136h0M651 149h0M653 159h0" stroke="#22908c" stroke-width="9.4" stroke-linecap="round"/>
<path d="M614 114h0M615 88h0M617 87h0" stroke="#2f6c8e" stroke-width="9.4" stroke-linecap="round"/>
<path d="M712 186h0M713 218h0" stroke="#5fc861" stroke-width="9.4" stroke-linecap="round"/>
<path d="M607 72h0M607 116h0M607 103h0M608 111h0M607 103h0M607 110h0M606 100h0" stroke="#33638d" stroke-width="9.4" stroke-linecap="round"/>
<path d="M695 186h0M695 155h0" stroke="#3dba74" stroke-width="9.4" stroke-linecap="round"/>
<path d="M674 153h0M675 199h0M673 111h0M674 158h0M676 139h0" stroke="#28a883" stroke-width="9.4" stroke-linecap="round"/>
<path d="M655 170h0M656 178h0M653 106h0M655 168h0" stroke="#21948b" stroke-width="9.4" stroke-linecap="round"/>
<path d="M665 150h0M668 195h0M668 154h0M668 145h0" stroke="#21a087" stroke-width="9.4" stroke-linecap="round"/>
<path d="M636 116h0M633 107h0M634 128h0M635 115h0" stroke="#277f8e" stroke-width="9.4" stroke-linecap="round"/>
<path d="M728 180h0" stroke="#86d349" stroke-width="9.4" stroke-linecap="round"/>
<path d="M576 97h0" stroke="#423e83" stroke-width="9.4" stroke-linecap="round"/>
<path d="M672 160h0M672 174h0M671 161h0M669 128h0M672 185h0M672 198h0" stroke="#24a485" stroke-width="9.4" stroke-linecap="round"/>
<path d="M619 133h0M620 107h0M620 137h0" stroke="#2e708e" stroke-width="9.4" stroke-linecap="round"/>
<path d="M733 176h0M730 179h0M730 172h0" stroke="#90d642" stroke-width="9.4" stroke-linecap="round"/>
<path d="M698 179h0" stroke="#46be6f" stroke-width="9.4" stroke-linecap="round"/>
<path d="M704 162h0M704 172h0M702 169h0" stroke="#4ec16b" stroke-width="9.4" stroke-linecap="round"/>
<path d="M685 175h0M688 169h0M689 175h0M687 176h0" stroke="#32b37b" stroke-width="9.4" stroke-linecap="round"/>
<path d="M622 154h0M622 94h0" stroke="#2c748e" stroke-width="9.4" stroke-linecap="round"/>
<path d="M647 154h0M647 111h0M648 115h0M645 127h0M647 142h0M647 129h0" stroke="#248c8c" stroke-width="9.4" stroke-linecap="round"/>
<path d="M692 149h0M692 158h0M690 138h0M692 157h0M692 146h0M691 177h0" stroke="#35b779" stroke-width="9.4" stroke-linecap="round"/>
<path d="M761 199h0" stroke="#dce328" stroke-width="9.4" stroke-linecap="round"/>
<path d="M638 160h0M641 154h0" stroke="#26838e" stroke-width="9.4" stroke-linecap="round"/>
<path d="M556 76h0" stroke="#482474" stroke-width="9.4" stroke-linecap="round"/>
<path d="M725 138h0M724 180h0" stroke="#7bd050" stroke-width="9.4" stroke-linecap="round"/>
<path d="M682 190h0M681 132h0M682 128h0M683 167h0M683 142h0" stroke="#2eb07e" stroke-width="9.4" stroke-linecap="round"/>
<path d="M566 115h0" stroke="#44347e" stroke-width="9.4" stroke-linecap="round"/>
<path d="M733 176h0" stroke="#9bd83c" stroke-width="9.4" stroke-linecap="round"/>
<path d="M610 122h0" stroke="#31688e" stroke-width="9.4" stroke-linecap="round"/>
<path d="M744 230h0" stroke="#b0dd2e" stroke-width="9.4" stroke-linecap="round"/>
<path d="M703 176h0M701 153h0M703 186h0" stroke="#4ec16b" stroke-width="9.4" stroke-linecap="round"/>
<path d="M691 170h0M693 128h0M690 160h0M691 208h0M693 188h0M693 171h0" stroke="#35b779" stroke-width="9.4" stroke-linecap="round"/>
<path d="M634 136h0M633 160h0M635 118h0M634 147h0M633 146h0" stroke="#277f8e" stroke-width="9.4" stroke-linecap="round"/>
<path d="M650 129h0M649 133h0M650 134h0M651 168h0" stroke="#22908c" stroke-width="9.4" stroke-linecap="round"/>
<path d="M661 159h0M658 170h0M660 193h0M660 135h0" stroke="#20988a" stroke-width="9.4" stroke-linecap="round"/>
<path d="M621 151h0M624 116h0M622 136h0M624 111h0M623 149h0M623 122h0" stroke="#2c748e" stroke-width="9.4" stroke-linecap="round"/>
<path d="M673 182h0M675 154h0M674 128h0M673 138h0M674 156h0M673 183h0" stroke="#28a883" stroke-width="9.4" stroke-linecap="round"/>
<path d="M639 183h0M640 134h0M640 148h0" stroke="#26838e" stroke-width="9.4" stroke-linecap="round"/>
<path d="M726 194h0" stroke="#86d349" stroke-width="9.4" stroke-linecap="round"/>
<path d="M646 112h0M648 159h0M648 121h0M647 173h0" stroke="#248c8c" stroke-width="9.4" stroke-linecap="round"/>
<path d="M631 132h0M631 130h0M631 123h0M631 138h0M633 171h0M630 124h0" stroke="#297c8e" stroke-width="9.4" stroke-linecap="round"/>
<path d="M671 139h0M670 187h0M673 137h0M673 186h0" stroke="#24a485" stroke-width="9.4" stroke-linecap="round"/>
<path d="M657 124h0M653 152h0M655 112h0M653 156h0M655 144h0M653 130h0M657 156h0M656 158h0M654 145h0M653 119h0M657 148h0M653 181h0" stroke="#21948b" stroke-width="9.4" stroke-linecap="round"/>
<path d="M715 201h0M715 170h0" stroke="#67cb5c" stroke-width="9.4" stroke-linecap="round"/>
<path d="M678 146h0M679 173h0M678 168h0M678 200h0M679 164h0M679 193h0M678 189h0M680 167h0" stroke="#2bac80" stroke-width="9.4" stroke-linecap="round"/>
<path d="M606 89h0M607 104h0M606 108h0" stroke="#33638d" stroke-width="9.4" stroke-linecap="round"/>
<path d="M626 158h0M626 135h0M629 149h0" stroke="#2a788e" stroke-width="9.4" stroke-linecap="round"/>
<path d="M682 159h0M684 164h0" stroke="#2eb07e" stroke-width="9.4" stroke-linecap="round"/>
<path d="M686 118h0M689 166h0M688 184h0" stroke="#32b37b" stroke-width="9.4" stroke-linecap="round"/>
<path d="M664 173h0M664 134h0M662 163h0M664 136h0" stroke="#1f9d89" stroke-width="9.4" stroke-linecap="round"/>
<path d="M749 223h0" stroke="#c6e02a" stroke-width="9.4" stroke-linecap="round"/>
<path d="M605 125h0M604 99h0M604 80h0" stroke="#355f8c" stroke-width="9.4" stroke-linecap="round"/>
<path d="M698 165h0M701 217h0M698 209h0M697 195h0M699 180h0M700 164h0" stroke="#46be6f" stroke-width="9.4" stroke-linecap="round"/>
<path d="M667 161h0M668 188h0M668 143h0M665 161h0M665 165h0M668 154h0" stroke="#21a087" stroke-width="9.4" stroke-linecap="round"/>
<path d="M722 167h0" stroke="#7bd050" stroke-width="9.4" stroke-linecap="round"/>
<path d="M745 205h0" stroke="#bbdf2b" stroke-width="9.4" stroke-linecap="round"/>
<path d="M694 160h0" stroke="#3dba74" stroke-width="9.4" stroke-linecap="round"/>
<path d="M713 162h0M710 194h0M711 179h0" stroke="#5fc861" stroke-width="9.4" stroke-linecap="round"/>
<path d="M719 186h0" stroke="#71ce57" stroke-width="9.4" stroke-linecap="round"/>
<path d="M644 132h0M645 123h0M641 151h0M641 160h0" stroke="#25888d" stroke-width="9.4" stroke-linecap="round"/>
<path d="M619 122h0M618 185h0" stroke="#2e708e" stroke-width="9.4" stroke-linecap="round"/>
<path d="M583 76h0" stroke="#3e4888" stroke-width="9.4" stroke-linecap="round"/>
<path d="M612 141h0" stroke="#31688e" stroke-width="9.4" stroke-linecap="round"/>
<path d="M614 108h0" stroke="#2f6c8e" stroke-width="9.4" stroke-linecap="round"/>
<path d="M593 124h0M594 85h0" stroke="#39568b" stroke-width="9.4" stroke-linecap="round"/>
<path d="M707 195h0M707 181h0" stroke="#57c466" stroke-width="9.4" stroke-linecap="round"/>
<path d="M617 144h0M616 107h0M613 122h0" stroke="#2f6c8e" stroke-width="9.4" stroke-linecap="round"/>
<path d="M634 143h0M635 150h0" stroke="#277f8e" stroke-width="9.4" stroke-linecap="round"/>
<path d="M620 145h0M619 117h0M620 137h0M619 129h0M618 118h0M618 153h0M618 152h0M617 117h0M620 115h0M620 151h0" stroke="#2e708e" stroke-width="9.4" stroke-linecap="round"/>
<path d="M699 195h0M699 191h0" stroke="#46be6f" stroke-width="9.4" stroke-linecap="round"/>
<path d="M704 163h0M701 178h0" stroke="#4ec16b" stroke-width="9.4" stroke-linecap="round"/>
<path d="M666 163h0M667 164h0M667 177h0M668 129h0" stroke="#21a087" stroke-width="9.4" stroke-linecap="round"/>
<path d="M652 168h0M649 148h0M652 112h0M650 139h0M652 138h0M653 163h0M652 122h0M651 141h0M650 170h0" stroke="#22908c" stroke-width="9.4" stroke-linecap="round"/>
<path d="M632 131h0M631 111h0M631 105h0M631 111h0" stroke="#297c8e" stroke-width="9.4" stroke-linecap="round"/>
<path d="M708 213h0" stroke="#57c466" stroke-width="9.4" stroke-linecap="round"/>
<path d="M674 169h0M675 167h0M675 179h0M675 170h0" stroke="#28a883" stroke-width="9.4" stroke-linecap="round"/>
<path d="M642 128h0M642 141h0M641 122h0M644 126h0M642 97h0M642 156h0M644 135h0" stroke="#25888d" stroke-width="9.4" stroke-linecap="round"/>
<path d="M584 101h0M584 118h0" stroke="#3e4888" stroke-width="9.4" stroke-linecap="round"/>
<path d="M629 135h0M628 116h0M627 131h0M627 148h0" stroke="#2a788e" stroke-width="9.4" stroke-linecap="round"/>
<path d="M669 152h0M670 131h0M671 138h0M672 151h0M671 150h0M670 187h0M672 152h0" stroke="#24a485" stroke-width="9.4" stroke-linecap="round"/>
<path d="M660 140h0M658 127h0M660 138h0M657 138h0M659 145h0M659 137h0M660 127h0M660 170h0M659 128h0M661 128h0M661 163h0M659 173h0M660 189h0" stroke="#20988a" stroke-width="9.4" stroke-linecap="round"/>
<path d="M712 188h0M711 176h0" stroke="#5fc861" stroke-width="9.4" stroke-linecap="round"/>
<path d="M622 121h0M623 137h0M624 130h0M623 114h0" stroke="#2c748e" stroke-width="9.4" stroke-linecap="round"/>
<path d="M648 136h0M648 162h0M648 128h0M648 170h0" stroke="#248c8c" stroke-width="9.4" stroke-linecap="round"/>
<path d="M718 211h0" stroke="#71ce57" stroke-width="9.4" stroke-linecap="round"/>
<path d="M593 111h0M593 141h0M597 111h0" stroke="#39568b" stroke-width="9.4" stroke-linecap="round"/>
<path d="M655 150h0M653 154h0M656 119h0M656 137h0M654 143h0M654 159h0M655 133h0" stroke="#21948b" stroke-width="9.4" stroke-linecap="round"/>
<path d="M692 179h0M692 189h0M692 172h0M692 166h0M689 166h0M690 159h0" stroke="#35b779" stroke-width="9.4" stroke-linecap="round"/>
<path d="M640 141h0M637 143h0" stroke="#26838e" stroke-width="9.4" stroke-linecap="round"/>
<path d="M662 151h0M663 146h0M665 186h0M664 170h0M663 154h0" stroke="#1f9d89" stroke-width="9.4" stroke-linecap="round"/>
<path d="M716 201h0M714 173h0" stroke="#67cb5c" stroke-width="9.4" stroke-linecap="round"/>
<path d="M694 183h0M696 166h0M695 142h0" stroke="#3dba74" stroke-width="9.4" stroke-linecap="round"/>
<path d="M734 224h0" stroke="#9bd83c" stroke-width="9.4" stroke-linecap="round"/>
<path d="M686 139h0" stroke="#32b37b" stroke-width="9.4" stroke-linecap="round"/>
<path d="M742 204h0" stroke="#b0dd2e" stroke-width="9.4" stroke-linecap="round"/>
<path d="M680 163h0M680 172h0M678 144h0M680 140h0" stroke="#2bac80" stroke-width="9.4" stroke-linecap="round"/>
<path d="M733 233h0" stroke="#90d642" stroke-width="9.4" stroke-linecap="round"/>
<path d="M603 106h0" stroke="#355f8c" stroke-width="9.4" stroke-linecap="round"/>
<path d="M586 106h0" stroke="#3d4d8a" stroke-width="9.4" stroke-linecap="round"/>
<path d="M610 115h0" stroke="#31688e" stroke-width="9.4" stroke-linecap="round"/>
<path d="M592 99h0" stroke="#3b528a" stroke-width="9.4" stroke-linecap="round"/>
<path d="M643 153h0M642 132h0M641 109h0M644 101h0M643 147h0M643 146h0M641 144h0M642 142h0M643 155h0M644 146h0M643 151h0" stroke="#25888d" stroke-width="9.4" stroke-linecap="round"/>
<path d="M656 145h0M655 142h0M656 104h0M655 132h0M656 147h0M655 155h0" stroke="#21948b" stroke-width="9.4" stroke-linecap="round"/>
<path d="M668 142h0M668 135h0M668 183h0M669 145h0M668 202h0M667 138h0M666 112h0M668 138h0" stroke="#21a087" stroke-width="9.4" stroke-linecap="round"/>
<path d="M724 201h0" stroke="#7bd050" stroke-width="9.4" stroke-linecap="round"/>
<path d="M669 153h0M669 192h0M671 150h0M669 178h0M671 143h0M670 152h0M671 154h0M672 182h0M673 155h0M671 160h0" stroke="#24a485" stroke-width="9.4" stroke-linecap="round"/>
<path d="M663 176h0" stroke="#1f9d89" stroke-width="9.4" stroke-linecap="round"/>
<path d="M634 163h0M633 127h0M635 119h0M633 113h0" stroke="#277f8e" stroke-width="9.4" stroke-linecap="round"/>
<path d="M629 121h0M630 96h0" stroke="#297c8e" stroke-width="9.4" stroke-linecap="round"/>
<path d="M708 181h0M708 156h0M709 174h0M707 141h0" stroke="#57c466" stroke-width="9.4" stroke-linecap="round"/>
<path d="M616 156h0M616 115h0M614 93h0" stroke="#2f6c8e" stroke-width="9.4" stroke-linecap="round"/>
<path d="M624 146h0M623 94h0M623 128h0M623 121h0M621 99h0M622 144h0M621 120h0" stroke="#2c748e" stroke-width="9.4" stroke-linecap="round"/>
<path d="M653 146h0M649 107h0M652 162h0M653 156h0M651 153h0M652 143h0M653 158h0M651 180h0M651 181h0" stroke="#22908c" stroke-width="9.4" stroke-linecap="round"/>
<path d="M726 170h0M726 145h0" stroke="#86d349" stroke-width="9.4" stroke-linecap="round"/>
<path d="M572 82h0" stroke="#433980" stroke-width="9.4" stroke-linecap="round"/>
<path d="M681 166h0M684 189h0M685 172h0M683 209h0" stroke="#2eb07e" stroke-width="9.4" stroke-linecap="round"/>
<path d="M714 188h0M717 167h0" stroke="#67cb5c" stroke-width="9.4" stroke-linecap="round"/>
<path d="M600 85h0M600 112h0M599 95h0" stroke="#375a8c" stroke-width="9.4" stroke-linecap="round"/>
<path d="M691 171h0" stroke="#35b779" stroke-width="9.4" stroke-linecap="round"/>
<path d="M710 201h0" stroke="#5fc861" stroke-width="9.4" stroke-linecap="round"/>
<path d="M577 111h0M580 91h0M579 70h0" stroke="#404386" stroke-width="9.4" stroke-linecap="round"/>
<path d="M696 191h0M695 157h0M693 166h0M694 184h0M694 170h0" stroke="#3dba74" stroke-width="9.4" stroke-linecap="round"/>
<path d="M640 129h0M639 137h0M640 180h0M637 117h0M641 146h0" stroke="#26838e" stroke-width="9.4" stroke-linecap="round"/>
<path d="M719 165h0M720 188h0" stroke="#71ce57" stroke-width="9.4" stroke-linecap="round"/>
<path d="M608 126h0" stroke="#33638d" stroke-width="9.4" stroke-linecap="round"/>
<path d="M645 163h0M646 153h0M645 164h0M645 149h0" stroke="#248c8c" stroke-width="9.4" stroke-linecap="round"/>
<path d="M627 146h0M628 131h0" stroke="#2a788e" stroke-width="9.4" stroke-linecap="round"/>
<path d="M703 196h0M704 201h0" stroke="#4ec16b" stroke-width="9.4" stroke-linecap="round"/>
<path d="M675 113h0M674 189h0M674 161h0" stroke="#28a883" stroke-width="9.4" stroke-linecap="round"/>
<path d="M687 167h0M689 176h0M688 154h0" stroke="#32b37b" stroke-width="9.4" stroke-linecap="round"/>
<path d="M604 147h0M602 97h0" stroke="#355f8c" stroke-width="9.4" stroke-linecap="round"/>
<path d="M591 97h0M592 128h0" stroke="#3b528a" stroke-width="9.4" stroke-linecap="round"/>
<path d="M610 135h0" stroke="#31688e" stroke-width="9.4" stroke-linecap="round"/>
<path d="M582 140h0" stroke="#3e4888" stroke-width="9.4" stroke-linecap="round"/>
<path d="M658 150h0M658 178h0M658 143h0" stroke="#20988a" stroke-width="9.4" stroke-linecap="round"/>
<path d="M678 123h0M677 163h0M678 128h0" stroke="#2bac80" stroke-width="9.4" stroke-linecap="round"/>
<path d="M576 95h0" stroke="#423e83" stroke-width="9.4" stroke-linecap="round"/>
<path d="M620 170h0" stroke="#2e708e" stroke-width="9.4" stroke-linecap="round"/>
<path d="M700 156h0" stroke="#46be6f" stroke-width="9.4" stroke-linecap="round"/>
<path d="M681 168h0M682 172h0M682 163h0M681 153h0M684 175h0M684 172h0" stroke="#2eb07e" stroke-width="9.4" stroke-linecap="round"/>
<path d="M625 141h0M626 110h0M629 153h0M626 129h0M626 138h0" stroke="#2a788e" stroke-width="9.4" stroke-linecap="round"/>
<path d="M615 132h0M616 122h0M616 116h0" stroke="#2f6c8e" stroke-width="9.4" stroke-linecap="round"/>
<path d="M659 200h0M660 167h0M660 182h0M660 165h0M660 157h0M659 197h0M658 153h0M661 137h0M659 130h0M658 148h0" stroke="#20988a" stroke-width="9.4" stroke-linecap="round"/>
<path d="M661 146h0M664 146h0M662 138h0M662 151h0M663 119h0M662 118h0M661 173h0M661 117h0" stroke="#1f9d89" stroke-width="9.4" stroke-linecap="round"/>
<path d="M679 179h0M680 164h0M678 174h0M679 145h0M680 168h0" stroke="#2bac80" stroke-width="9.4" stroke-linecap="round"/>
<path d="M619 166h0M620 123h0M617 109h0" stroke="#2e708e" stroke-width="9.4" stroke-linecap="round"/>
<path d="M581 108h0M581 92h0" stroke="#3e4888" stroke-width="9.4" stroke-linecap="round"/>
<path d="M647 132h0M647 158h0M645 117h0M649 155h0M647 152h0M648 131h0M645 137h0M646 182h0M647 146h0M646 165h0M646 150h0" stroke="#248c8c" stroke-width="9.4" stroke-linecap="round"/>
<path d="M641 121h0M644 147h0M644 103h0M643 149h0M644 122h0" stroke="#25888d" stroke-width="9.4" stroke-linecap="round"/>
<path d="M631 97h0M630 122h0M632 134h0M631 142h0" stroke="#297c8e" stroke-width="9.4" stroke-linecap="round"/>
<path d="M654 133h0M656 185h0M655 142h0M655 123h0M657 169h0" stroke="#21948b" stroke-width="9.4" stroke-linecap="round"/>
<path d="M622 166h0M623 123h0M624 130h0M625 48h0" stroke="#2c748e" stroke-width="9.4" stroke-linecap="round"/>
<path d="M634 123h0M636 122h0M636 128h0M634 140h0M634 139h0M634 156h0" stroke="#277f8e" stroke-width="9.4" stroke-linecap="round"/>
<path d="M611 133h0M609 143h0M611 143h0" stroke="#31688e" stroke-width="9.4" stroke-linecap="round"/>
<path d="M699 158h0" stroke="#46be6f" stroke-width="9.4" stroke-linecap="round"/>
<path d="M708 184h0M707 176h0M707 172h0M708 158h0" stroke="#57c466" stroke-width="9.4" stroke-linecap="round"/>
<path d="M651 178h0M650 178h0M649 171h0" stroke="#22908c" stroke-width="9.4" stroke-linecap="round"/>
<path d="M607 106h0M605 100h0M607 103h0" stroke="#33638d" stroke-width="9.4" stroke-linecap="round"/>
<path d="M668 110h0M668 165h0" stroke="#21a087" stroke-width="9.4" stroke-linecap="round"/>
<path d="M672 151h0M670 130h0M671 168h0" stroke="#24a485" stroke-width="9.4" stroke-linecap="round"/>
<path d="M674 174h0M675 168h0M673 157h0M674 145h0M674 129h0" stroke="#28a883" stroke-width="9.4" stroke-linecap="round"/>
<path d="M692 195h0M690 195h0" stroke="#35b779" stroke-width="9.4" stroke-linecap="round"/>
<path d="M741 206h0" stroke="#a6db35" stroke-width="9.4" stroke-linecap="round"/>
<path d="M702 195h0" stroke="#4ec16b" stroke-width="9.4" stroke-linecap="round"/>
<path d="M761 197h0" stroke="#dce328" stroke-width="9.4" stroke-linecap="round"/>
<path d="M637 159h0M639 174h0M641 102h0M637 124h0" stroke="#26838e" stroke-width="9.4" stroke-linecap="round"/>
<path d="M603 93h0M604 121h0" stroke="#355f8c" stroke-width="9.4" stroke-linecap="round"/>
<path d="M688 178h0M686 197h0M689 140h0M689 173h0M686 148h0" stroke="#32b37b" stroke-width="9.4" stroke-linecap="round"/>
<path d="M566 79h0" stroke="#44347e" stroke-width="9.4" stroke-linecap="round"/>
<path d="M597 112h0" stroke="#375a8c" stroke-width="9.4" stroke-linecap="round"/>
<path d="M725 222h0" stroke="#86d349" stroke-width="9.4" stroke-linecap="round"/>
<path d="M696 162h0M695 192h0M696 199h0" stroke="#3dba74" stroke-width="9.4" stroke-linecap="round"/>
<path d="M560 102h0" stroke="#482a79" stroke-width="9.4" stroke-linecap="round"/>
<path d="M730 179h0" stroke="#90d642" stroke-width="9.4" stroke-linecap="round"/>
<path d="M531 57h0" stroke="#440154" stroke-width="9.4" stroke-linecap="round"/>
<path d="M562 42h0" stroke="#462f7b" stroke-width="9.4" stroke-linecap="round"/>
<path d="M566 52h0" stroke="#44347e" stroke-width="9.4" stroke-linecap="round"/>
<path d="M572 58h0" stroke="#433980" stroke-width="9.4" stroke-linecap="round"/>
<path d="M607 60h0" stroke="#33638d" stroke-width="9.4" stroke-linecap="round"/>
<path d="M656 65h0" stroke="#21948b" stroke-width="9.4" stroke-linecap="round"/>
<path d="M683 74h0" stroke="#2eb07e" stroke-width="9.4" stroke-linecap="round"/>
<path d="M577 75h0" stroke="#404386" stroke-width="9.4" stroke-linecap="round"/>
<path d="M542 91h0" stroke="#461364" stroke-width="9.4" stroke-linecap="round"/>
<path d="M557 108h0" stroke="#482a79" stroke-width="9.4" stroke-linecap="round"/>
<path d="M603 182h0" stroke="#355f8c" stroke-width="9.4" stroke-linecap="round"/>
<path d="M642 117h0M642 133h0" stroke="#25888d" stroke-width="9.4" stroke-linecap="round"/>
<path d="M772 262h0M771 301h0" stroke="#fde725" stroke-width="9.4" stroke-linecap="round"/>
<path d="M716 254h0" stroke="#67cb5c" stroke-width="9.4" stroke-linecap="round"/>
<path d="M733 239h0" stroke="#9bd83c" stroke-width="9.4" stroke-linecap="round"/>
<path d="M704 228h0" stroke="#4ec16b" stroke-width="9.4" stroke-linecap="round"/>
<path d="M740 222h0" stroke="#a6db35" stroke-width="9.4" stroke-linecap="round"/>
<line x1="519" y1="29.4" x2="519" y2="314.5" stroke="#3f3f3f" stroke-width="1.5" />
<line x1="519" y1="314.5" x2="784" y2="314.5" stroke="#3f3f3f" stroke-width="1.5" />
<line x1="520" y1="314.5" x2="520" y2="324.5" stroke="#737373" stroke-width="1.8" />
<text x="520" y="353.5" font-size="22" text-anchor="middle" >0.2</text>
<line x1="572.5" y1="314.5" x2="572.5" y2="324.5" stroke="#737373" stroke-width="1.8" />
<text x="572.5" y="353.5" font-size="22" text-anchor="middle" >0.3</text>
<line x1="624.8" y1="314.5" x2="624.8" y2="324.5" stroke="#737373" stroke-width="1.8" />
<text x="624.8" y="353.5" font-size="22" text-anchor="middle" >0.4</text>
<line x1="677.1" y1="314.5" x2="677.1" y2="324.5" stroke="#737373" stroke-width="1.8" />
<text x="677.1" y="353.5" font-size="22" text-anchor="middle" >0.5</text>
<line x1="729.4" y1="314.5" x2="729.4" y2="324.5" stroke="#737373" stroke-width="1.8" />
<text x="729.4" y="353.5" font-size="22" text-anchor="middle" >0.6</text>
<line x1="781.7" y1="314.5" x2="781.7" y2="324.5" stroke="#737373" stroke-width="1.8" />
<text x="781.7" y="353.5" font-size="22" text-anchor="middle" >0.7</text>
<line x1="509" y1="239.7" x2="519" y2="239.7" stroke="#737373" stroke-width="1.8" />
<text x="496.5" y="247.5" font-size="22" text-anchor="end" >15.0</text>
<line x1="509" y1="160.1" x2="519" y2="160.1" stroke="#737373" stroke-width="1.8" />
<text x="496.5" y="167.9" font-size="22" text-anchor="end" >17.5</text>
<line x1="509" y1="80.5" x2="519" y2="80.5" stroke="#737373" stroke-width="1.8" />
<text x="496.5" y="88.3" font-size="22" text-anchor="end" >20.0</text>
<text x="613" y="50.4" font-size="23" ><tspan font-style="italic">ρ</tspan> = −0.7</text>
<text x="651" y="390" font-size="23" text-anchor="middle" >Tumor purity score</text>
<text x="428" y="170" font-size="23" text-anchor="middle" transform="rotate(-90 428 170)" >Gene expression (<tspan font-style="italic">ETS1</tspan>)</text>
<text x="824" y="24" font-size="30" font-weight="bold" >b</text>
<path d="M1060 185h0M1051 183h0M1040 206h0M1082 164h0M1073 151h0M1039 165h0" stroke="#2bac80" stroke-width="9.4" stroke-linecap="round"/>
<path d="M1104 117h0M1122 85h0" stroke="#3e4888" stroke-width="9.4" stroke-linecap="round"/>
<path d="M1079 173h0M1039 189h0" stroke="#57c466" stroke-width="9.4" stroke-linecap="round"/>
<path d="M1096 124h0M1036 196h0M1077 153h0M1057 163h0M1072 146h0" stroke="#1f9d89" stroke-width="9.4" stroke-linecap="round"/>
<path d="M1048 170h0M1041 212h0M1059 153h0M1052 185h0M1065 172h0M1095 116h0M1062 165h0M1083 164h0" stroke="#20988a" stroke-width="9.4" stroke-linecap="round"/>
<path d="M1143 105h0M1124 72h0M1133 67h0" stroke="#404386" stroke-width="9.4" stroke-linecap="round"/>
<path d="M1127 115h0" stroke="#39568b" stroke-width="9.4" stroke-linecap="round"/>
<path d="M1052 122h0M1113 99h0M1112 126h0M1130 115h0M1144 66h0M1123 100h0M1076 100h0" stroke="#2e708e" stroke-width="9.4" stroke-linecap="round"/>
<path d="M1061 164h0M1081 119h0M1089 94h0M1055 149h0M1114 110h0M1109 125h0M1102 142h0M1045 158h0" stroke="#26838e" stroke-width="9.4" stroke-linecap="round"/>
<path d="M1072 134h0M1132 112h0M1076 115h0" stroke="#21948b" stroke-width="9.4" stroke-linecap="round"/>
<path d="M1107 137h0M1108 165h0M1097 128h0M1072 129h0M1097 119h0M1078 126h0M1073 107h0M1077 114h0M1098 104h0M1079 102h0M1123 120h0M1137 75h0M1093 141h0" stroke="#2a788e" stroke-width="9.4" stroke-linecap="round"/>
<path d="M1089 134h0M1069 148h0M1105 106h0M1108 105h0M1060 161h0M1071 116h0" stroke="#2c748e" stroke-width="9.4" stroke-linecap="round"/>
<path d="M1087 131h0M1081 162h0M1028 187h0M1084 162h0M1037 145h0M1042 209h0M1061 162h0" stroke="#2eb07e" stroke-width="9.4" stroke-linecap="round"/>
<path d="M1038 222h0" stroke="#9bd83c" stroke-width="9.4" stroke-linecap="round"/>
<path d="M1113 74h0" stroke="#3d4d8a" stroke-width="9.4" stroke-linecap="round"/>
<path d="M1076 138h0M1061 148h0M1079 123h0M1096 91h0M1083 117h0" stroke="#22908c" stroke-width="9.4" stroke-linecap="round"/>
<path d="M1117 67h0M1087 108h0M1074 174h0M1056 177h0" stroke="#277f8e" stroke-width="9.4" stroke-linecap="round"/>
<path d="M1049 152h0M1073 173h0M1044 166h0M1049 180h0M1060 134h0M1079 145h0" stroke="#24a485" stroke-width="9.4" stroke-linecap="round"/>
<path d="M1083 113h0M1117 101h0" stroke="#375a8c" stroke-width="9.4" stroke-linecap="round"/>
<path d="M1077 147h0M1084 139h0M1043 189h0M1041 155h0" stroke="#32b37b" stroke-width="9.4" stroke-linecap="round"/>
<path d="M1084 152h0M1045 194h0M1086 148h0M1097 163h0" stroke="#28a883" stroke-width="9.4" stroke-linecap="round"/>
<path d="M1045 167h0M1049 199h0M1064 176h0" stroke="#46be6f" stroke-width="9.4" stroke-linecap="round"/>
<path d="M1037 172h0M1103 117h0M1065 188h0M1075 147h0M1104 172h0M1082 121h0M1076 161h0M1060 127h0" stroke="#25888d" stroke-width="9.4" stroke-linecap="round"/>
<path d="M1062 194h0M1054 217h0" stroke="#90d642" stroke-width="9.4" stroke-linecap="round"/>
<path d="M1052 147h0M1084 153h0M1047 156h0" stroke="#5fc861" stroke-width="9.4" stroke-linecap="round"/>
<path d="M1018 210h0M1061 158h0M991 218h0M1068 179h0M1051 176h0" stroke="#21a087" stroke-width="9.4" stroke-linecap="round"/>
<path d="M1003 204h0M1033 189h0M1060 123h0" stroke="#35b779" stroke-width="9.4" stroke-linecap="round"/>
<path d="M1116 108h0M1042 207h0M1086 146h0M1080 132h0" stroke="#297c8e" stroke-width="9.4" stroke-linecap="round"/>
<path d="M1096 121h0M1123 71h0" stroke="#433980" stroke-width="9.4" stroke-linecap="round"/>
<path d="M1051 175h0M1014 209h0M1054 155h0" stroke="#86d349" stroke-width="9.4" stroke-linecap="round"/>
<path d="M1089 138h0M1082 107h0M1108 96h0M1074 162h0" stroke="#248c8c" stroke-width="9.4" stroke-linecap="round"/>
<path d="M1040 189h0" stroke="#4ec16b" stroke-width="9.4" stroke-linecap="round"/>
<path d="M1056 202h0M1126 94h0M1095 110h0M1132 78h0M1106 126h0M1080 133h0M1118 93h0" stroke="#31688e" stroke-width="9.4" stroke-linecap="round"/>
<path d="M1122 127h0M1093 136h0M1092 139h0M1072 103h0M1052 128h0" stroke="#2f6c8e" stroke-width="9.4" stroke-linecap="round"/>
<path d="M1030 178h0" stroke="#67cb5c" stroke-width="9.4" stroke-linecap="round"/>
<path d="M1025 204h0M1012 230h0" stroke="#71ce57" stroke-width="9.4" stroke-linecap="round"/>
<path d="M1085 115h0M1096 136h0M1116 76h0" stroke="#355f8c" stroke-width="9.4" stroke-linecap="round"/>
<path d="M1100 110h0M1116 96h0M1057 153h0" stroke="#33638d" stroke-width="9.4" stroke-linecap="round"/>
<path d="M1075 148h0M1060 152h0" stroke="#3dba74" stroke-width="9.4" stroke-linecap="round"/>
<path d="M1093 78h0M1082 130h0M1104 71h0M1078 181h0" stroke="#3b528a" stroke-width="9.4" stroke-linecap="round"/>
<path d="M1092 92h0" stroke="#423e83" stroke-width="9.4" stroke-linecap="round"/>
<path d="M1131 65h0" stroke="#44347e" stroke-width="9.4" stroke-linecap="round"/>
<path d="M1017 237h0" stroke="#d1e229" stroke-width="9.4" stroke-linecap="round"/>
<path d="M1091 155h0M1115 142h0M1072 155h0M1066 175h0M1053 150h0M1086 156h0M1040 191h0" stroke="#1f9d89" stroke-width="9.4" stroke-linecap="round"/>
<path d="M1141 80h0M1114 105h0M1143 74h0" stroke="#3d4d8a" stroke-width="9.4" stroke-linecap="round"/>
<path d="M1094 148h0M1093 138h0M1087 128h0M1089 121h0M1089 155h0M1100 127h0M1067 212h0M1083 127h0M1006 209h0M1072 164h0M1076 138h0" stroke="#21948b" stroke-width="9.4" stroke-linecap="round"/>
<path d="M1078 166h0M1109 121h0M1064 152h0M1103 89h0" stroke="#2f6c8e" stroke-width="9.4" stroke-linecap="round"/>
<path d="M1069 231h0M1031 146h0M1062 156h0M1061 181h0M1084 131h0M1106 136h0M1046 173h0" stroke="#28a883" stroke-width="9.4" stroke-linecap="round"/>
<path d="M1051 149h0M1103 98h0M1079 153h0M1117 106h0M1083 99h0M1094 108h0M1088 141h0M1092 129h0" stroke="#277f8e" stroke-width="9.4" stroke-linecap="round"/>
<path d="M1093 151h0M1051 160h0M1090 124h0M1054 110h0M1103 93h0" stroke="#21a087" stroke-width="9.4" stroke-linecap="round"/>
<path d="M1054 162h0M1075 179h0M1047 198h0M1053 172h0M1038 173h0M1070 157h0M1087 168h0M1087 137h0" stroke="#20988a" stroke-width="9.4" stroke-linecap="round"/>
<path d="M1025 216h0M1086 166h0M1083 113h0M1027 176h0M1080 169h0M1045 213h0" stroke="#2eb07e" stroke-width="9.4" stroke-linecap="round"/>
<path d="M1095 131h0M1079 74h0M1127 85h0M1103 122h0" stroke="#404386" stroke-width="9.4" stroke-linecap="round"/>
<path d="M1045 168h0M1116 117h0M1109 95h0M1076 116h0M1076 133h0M1106 131h0M1076 164h0M1112 133h0M1089 115h0" stroke="#25888d" stroke-width="9.4" stroke-linecap="round"/>
<path d="M1069 181h0M1092 97h0M1075 144h0" stroke="#22908c" stroke-width="9.4" stroke-linecap="round"/>
<path d="M1137 73h0M1122 116h0M1132 87h0M1082 146h0" stroke="#3e4888" stroke-width="9.4" stroke-linecap="round"/>
<path d="M1094 165h0M1087 146h0" stroke="#31688e" stroke-width="9.4" stroke-linecap="round"/>
<path d="M1107 106h0M1109 97h0M1098 86h0M1085 103h0" stroke="#375a8c" stroke-width="9.4" stroke-linecap="round"/>
<path d="M1089 89h0M1086 148h0M1085 120h0M1063 147h0M1042 128h0M1140 69h0" stroke="#33638d" stroke-width="9.4" stroke-linecap="round"/>
<path d="M1097 148h0M1125 78h0M1101 84h0M1092 109h0M1137 98h0M1073 158h0" stroke="#2e708e" stroke-width="9.4" stroke-linecap="round"/>
<path d="M1085 143h0M1045 135h0M1072 141h0M1089 157h0M1099 119h0M1062 158h0M1078 159h0M1066 159h0" stroke="#24a485" stroke-width="9.4" stroke-linecap="round"/>
<path d="M982 266h0" stroke="#fde725" stroke-width="9.4" stroke-linecap="round"/>
<path d="M1073 148h0M1125 90h0M1120 108h0M1080 129h0M1096 92h0M1069 172h0" stroke="#26838e" stroke-width="9.4" stroke-linecap="round"/>
<path d="M1081 158h0M1063 157h0M1066 157h0" stroke="#2bac80" stroke-width="9.4" stroke-linecap="round"/>
<path d="M1116 79h0M1075 149h0M1135 77h0M1107 78h0M1086 163h0M1107 85h0M1126 74h0" stroke="#355f8c" stroke-width="9.4" stroke-linecap="round"/>
<path d="M1078 166h0M1114 106h0M1123 104h0M1109 132h0" stroke="#2c748e" stroke-width="9.4" stroke-linecap="round"/>
<path d="M1057 144h0M1060 138h0" stroke="#35b779" stroke-width="9.4" stroke-linecap="round"/>
<path d="M1121 119h0" stroke="#3b528a" stroke-width="9.4" stroke-linecap="round"/>
<path d="M1081 119h0M1077 139h0M1078 165h0M1068 139h0M1097 119h0M1121 113h0M1080 139h0M1081 164h0M1084 135h0M1091 90h0" stroke="#2a788e" stroke-width="9.4" stroke-linecap="round"/>
<path d="M1079 119h0M1076 146h0M1109 92h0M1070 146h0M1068 146h0M1069 166h0M1118 127h0M1139 88h0M1109 91h0M1089 119h0" stroke="#248c8c" stroke-width="9.4" stroke-linecap="round"/>
<path d="M983 272h0" stroke="#a6db35" stroke-width="9.4" stroke-linecap="round"/>
<path d="M1061 170h0" stroke="#46be6f" stroke-width="9.4" stroke-linecap="round"/>
<path d="M1085 144h0" stroke="#5fc861" stroke-width="9.4" stroke-linecap="round"/>
<path d="M1093 121h0" stroke="#297c8e" stroke-width="9.4" stroke-linecap="round"/>
<path d="M1078 174h0M1025 222h0" stroke="#4ec16b" stroke-width="9.4" stroke-linecap="round"/>
<path d="M1031 225h0" stroke="#86d349" stroke-width="9.4" stroke-linecap="round"/>
<path d="M1081 124h0M1072 192h0M1090 110h0M1069 164h0" stroke="#32b37b" stroke-width="9.4" stroke-linecap="round"/>
<path d="M1065 156h0M1006 236h0" stroke="#90d642" stroke-width="9.4" stroke-linecap="round"/>
<path d="M1027 229h0" stroke="#7bd050" stroke-width="9.4" stroke-linecap="round"/>
<path d="M1071 159h0" stroke="#423e83" stroke-width="9.4" stroke-linecap="round"/>
<path d="M1126 86h0" stroke="#482a79" stroke-width="9.4" stroke-linecap="round"/>
<path d="M1102 97h0" stroke="#39568b" stroke-width="9.4" stroke-linecap="round"/>
<path d="M1040 197h0" stroke="#3dba74" stroke-width="9.4" stroke-linecap="round"/>
<path d="M1097 93h0M1104 152h0M1101 92h0M1128 67h0M1097 95h0M1101 141h0" stroke="#2e708e" stroke-width="9.4" stroke-linecap="round"/>
<path d="M1072 154h0M1049 181h0M1049 164h0M1063 216h0M1088 186h0" stroke="#32b37b" stroke-width="9.4" stroke-linecap="round"/>
<path d="M1100 111h0M1092 135h0M1068 148h0M1060 200h0M1082 175h0M1139 77h0M1062 133h0M1094 143h0M1107 149h0" stroke="#248c8c" stroke-width="9.4" stroke-linecap="round"/>
<path d="M1114 113h0M1056 135h0M1061 137h0M1096 107h0M1064 188h0M1048 187h0M1058 153h0M1054 201h0" stroke="#2bac80" stroke-width="9.4" stroke-linecap="round"/>
<path d="M1076 144h0M1111 118h0M1104 115h0M1089 166h0M1111 97h0M1131 76h0M1117 143h0" stroke="#2f6c8e" stroke-width="9.4" stroke-linecap="round"/>
<path d="M1072 141h0M1083 155h0M1067 135h0M1059 184h0M1074 160h0M1082 134h0" stroke="#24a485" stroke-width="9.4" stroke-linecap="round"/>
<path d="M1058 163h0M1067 130h0M1064 125h0M1056 188h0M1097 92h0M1070 114h0M1058 121h0M1075 164h0" stroke="#21948b" stroke-width="9.4" stroke-linecap="round"/>
<path d="M1104 144h0M1066 156h0M1121 118h0M1086 159h0M1075 173h0M1121 150h0M1072 133h0M1047 162h0M1081 131h0M1059 173h0M1125 100h0" stroke="#22908c" stroke-width="9.4" stroke-linecap="round"/>
<path d="M1054 131h0M1077 137h0M1074 173h0M1108 122h0M1097 128h0M1037 170h0M1046 180h0M1121 66h0M1086 127h0" stroke="#20988a" stroke-width="9.4" stroke-linecap="round"/>
<path d="M1083 168h0M1057 162h0M1114 137h0M1095 141h0M1060 130h0M1046 135h0" stroke="#297c8e" stroke-width="9.4" stroke-linecap="round"/>
<path d="M1121 123h0M1073 158h0M1077 120h0M1142 77h0M1065 144h0M1109 82h0M1101 123h0M1052 190h0M1099 130h0M1073 169h0M1100 129h0M1089 104h0M1076 188h0M1098 147h0M1103 122h0" stroke="#2a788e" stroke-width="9.4" stroke-linecap="round"/>
<path d="M1009 189h0M1066 162h0M1052 156h0M1058 165h0M1040 176h0" stroke="#2eb07e" stroke-width="9.4" stroke-linecap="round"/>
<path d="M1042 189h0M1061 173h0M1082 138h0" stroke="#25888d" stroke-width="9.4" stroke-linecap="round"/>
<path d="M1076 182h0M1066 166h0" stroke="#46be6f" stroke-width="9.4" stroke-linecap="round"/>
<path d="M1045 145h0M1076 106h0M1114 76h0M1094 117h0M1055 177h0M1077 161h0" stroke="#2c748e" stroke-width="9.4" stroke-linecap="round"/>
<path d="M1100 129h0M1108 98h0M1123 65h0M1117 72h0" stroke="#31688e" stroke-width="9.4" stroke-linecap="round"/>
<path d="M1108 142h0M1074 144h0M1102 124h0M1092 119h0M1120 123h0M1080 107h0M1087 111h0" stroke="#277f8e" stroke-width="9.4" stroke-linecap="round"/>
<path d="M1031 234h0" stroke="#67cb5c" stroke-width="9.4" stroke-linecap="round"/>
<path d="M1066 199h0M1063 178h0M1024 230h0" stroke="#5fc861" stroke-width="9.4" stroke-linecap="round"/>
<path d="M1114 70h0M1112 105h0" stroke="#404386" stroke-width="9.4" stroke-linecap="round"/>
<path d="M1112 125h0" stroke="#39568b" stroke-width="9.4" stroke-linecap="round"/>
<path d="M1090 110h0M1108 128h0M1088 127h0" stroke="#375a8c" stroke-width="9.4" stroke-linecap="round"/>
<path d="M1111 132h0M1054 175h0M1109 75h0M1101 148h0M1108 102h0" stroke="#33638d" stroke-width="9.4" stroke-linecap="round"/>
<path d="M1131 81h0M1090 141h0" stroke="#355f8c" stroke-width="9.4" stroke-linecap="round"/>
<path d="M1038 211h0" stroke="#71ce57" stroke-width="9.4" stroke-linecap="round"/>
<path d="M1120 66h0" stroke="#462f7b" stroke-width="9.4" stroke-linecap="round"/>
<path d="M1049 166h0M1104 92h0M1075 134h0M1073 157h0" stroke="#26838e" stroke-width="9.4" stroke-linecap="round"/>
<path d="M1068 145h0M1085 169h0M1057 173h0M1073 177h0M1055 190h0M1084 152h0M1056 156h0" stroke="#28a883" stroke-width="9.4" stroke-linecap="round"/>
<path d="M1036 151h0M1019 188h0M1074 140h0M1101 115h0M1076 171h0" stroke="#21a087" stroke-width="9.4" stroke-linecap="round"/>
<path d="M1081 141h0M1067 173h0M1055 185h0M1078 135h0M1035 207h0" stroke="#1f9d89" stroke-width="9.4" stroke-linecap="round"/>
<path d="M1070 150h0" stroke="#4ec16b" stroke-width="9.4" stroke-linecap="round"/>
<path d="M1041 199h0" stroke="#c6e02a" stroke-width="9.4" stroke-linecap="round"/>
<path d="M1036 229h0M1029 189h0" stroke="#3dba74" stroke-width="9.4" stroke-linecap="round"/>
<path d="M1147 117h0M1065 164h0" stroke="#3b528a" stroke-width="9.4" stroke-linecap="round"/>
<path d="M1020 228h0M1067 130h0" stroke="#57c466" stroke-width="9.4" stroke-linecap="round"/>
<path d="M1037 183h0" stroke="#35b779" stroke-width="9.4" stroke-linecap="round"/>
<path d="M1136 68h0" stroke="#461364" stroke-width="9.4" stroke-linecap="round"/>
<path d="M1027 230h0M1062 156h0M1093 142h0M1049 196h0M1064 157h0M1047 134h0" stroke="#3dba74" stroke-width="9.4" stroke-linecap="round"/>
<path d="M1135 64h0M1125 65h0" stroke="#433980" stroke-width="9.4" stroke-linecap="round"/>
<path d="M1138 90h0M1154 84h0" stroke="#3e4888" stroke-width="9.4" stroke-linecap="round"/>
<path d="M1110 102h0M1119 79h0M1130 72h0M1095 113h0" stroke="#404386" stroke-width="9.4" stroke-linecap="round"/>
<path d="M1071 117h0M1105 144h0M1080 136h0M1045 148h0M1076 165h0M1073 154h0M1109 117h0M1113 107h0M1062 207h0M1056 203h0" stroke="#248c8c" stroke-width="9.4" stroke-linecap="round"/>
<path d="M1103 96h0M1077 109h0M1089 130h0M1106 84h0" stroke="#2c748e" stroke-width="9.4" stroke-linecap="round"/>
<path d="M1122 81h0M1082 98h0M1074 188h0M1068 145h0M1102 116h0M1023 190h0M1046 193h0" stroke="#26838e" stroke-width="9.4" stroke-linecap="round"/>
<path d="M1093 100h0M1099 106h0" stroke="#2f6c8e" stroke-width="9.4" stroke-linecap="round"/>
<path d="M1115 89h0M1126 81h0M1093 99h0M1094 104h0M1105 144h0" stroke="#355f8c" stroke-width="9.4" stroke-linecap="round"/>
<path d="M1066 171h0M1119 109h0M1077 145h0M1074 156h0M1089 123h0M1075 185h0M1099 128h0M1065 128h0" stroke="#277f8e" stroke-width="9.4" stroke-linecap="round"/>
<path d="M1058 151h0M1063 181h0M1088 158h0M1066 143h0M1079 114h0M1047 159h0M1092 144h0M1040 190h0M1112 99h0" stroke="#21948b" stroke-width="9.4" stroke-linecap="round"/>
<path d="M1057 171h0" stroke="#90d642" stroke-width="9.4" stroke-linecap="round"/>
<path d="M1028 182h0" stroke="#a6db35" stroke-width="9.4" stroke-linecap="round"/>
<path d="M1086 143h0M1075 156h0M1091 121h0M1048 196h0" stroke="#28a883" stroke-width="9.4" stroke-linecap="round"/>
<path d="M1110 123h0M1127 70h0M1089 126h0M1123 93h0M1104 87h0" stroke="#3b528a" stroke-width="9.4" stroke-linecap="round"/>
<path d="M1049 159h0M1081 151h0M1085 174h0M1087 154h0M1052 167h0M1119 135h0M1084 159h0M1056 186h0M1069 166h0M1114 124h0M1068 162h0" stroke="#22908c" stroke-width="9.4" stroke-linecap="round"/>
<path d="M1062 164h0M1103 140h0M1110 133h0M1080 134h0M1074 117h0M1067 146h0" stroke="#1f9d89" stroke-width="9.4" stroke-linecap="round"/>
<path d="M1114 121h0M1096 131h0M1143 76h0M1057 146h0M1070 153h0" stroke="#2e708e" stroke-width="9.4" stroke-linecap="round"/>
<path d="M1078 155h0M1065 148h0M1047 155h0M1052 190h0M1047 167h0M1047 153h0" stroke="#35b779" stroke-width="9.4" stroke-linecap="round"/>
<path d="M1002 235h0M1082 154h0M1083 116h0M1056 156h0M1051 157h0" stroke="#24a485" stroke-width="9.4" stroke-linecap="round"/>
<path d="M1109 102h0M1058 130h0M1111 70h0" stroke="#39568b" stroke-width="9.4" stroke-linecap="round"/>
<path d="M1115 99h0M1086 112h0M1065 175h0M1104 82h0M1096 125h0M1104 134h0M1087 154h0" stroke="#2a788e" stroke-width="9.4" stroke-linecap="round"/>
<path d="M1098 107h0M1110 105h0M1073 129h0M1066 153h0M1086 116h0M1095 119h0M1063 178h0M1067 150h0" stroke="#25888d" stroke-width="9.4" stroke-linecap="round"/>
<path d="M1070 165h0M1077 116h0M1067 130h0M1060 183h0" stroke="#297c8e" stroke-width="9.4" stroke-linecap="round"/>
<path d="M1070 173h0M1097 125h0M1061 178h0M1076 140h0M1075 85h0" stroke="#20988a" stroke-width="9.4" stroke-linecap="round"/>
<path d="M1106 105h0M1107 94h0M1073 156h0" stroke="#375a8c" stroke-width="9.4" stroke-linecap="round"/>
<path d="M1116 91h0M1092 109h0M1116 120h0" stroke="#31688e" stroke-width="9.4" stroke-linecap="round"/>
<path d="M1070 184h0M1056 137h0M1076 122h0M1094 100h0M1034 208h0" stroke="#21a087" stroke-width="9.4" stroke-linecap="round"/>
<path d="M995 257h0M1038 207h0" stroke="#46be6f" stroke-width="9.4" stroke-linecap="round"/>
<path d="M1080 145h0M1037 192h0M1037 194h0M1079 127h0M1037 193h0M1090 119h0M1115 94h0" stroke="#2bac80" stroke-width="9.4" stroke-linecap="round"/>
<path d="M1037 188h0" stroke="#71ce57" stroke-width="9.4" stroke-linecap="round"/>
<path d="M1108 69h0" stroke="#3d4d8a" stroke-width="9.4" stroke-linecap="round"/>
<path d="M1002 202h0M1082 143h0" stroke="#4ec16b" stroke-width="9.4" stroke-linecap="round"/>
<path d="M1052 169h0" stroke="#7bd050" stroke-width="9.4" stroke-linecap="round"/>
<path d="M1092 131h0M1094 142h0" stroke="#33638d" stroke-width="9.4" stroke-linecap="round"/>
<path d="M1091 125h0M1066 158h0M1091 128h0" stroke="#2eb07e" stroke-width="9.4" stroke-linecap="round"/>
<path d="M1116 93h0" stroke="#44347e" stroke-width="9.4" stroke-linecap="round"/>
<path d="M1033 204h0" stroke="#32b37b" stroke-width="9.4" stroke-linecap="round"/>
<path d="M1124 93h0" stroke="#423e83" stroke-width="9.4" stroke-linecap="round"/>
<path d="M1002 220h0M1048 220h0" stroke="#9bd83c" stroke-width="9.4" stroke-linecap="round"/>
<path d="M1017 227h0" stroke="#c6e02a" stroke-width="9.4" stroke-linecap="round"/>
<path d="M1063 135h0" stroke="#33638d" stroke-width="9.4" stroke-linecap="round"/>
<path d="M1104 126h0M1087 149h0M1078 157h0M1080 161h0M1077 146h0M1071 143h0" stroke="#21948b" stroke-width="9.4" stroke-linecap="round"/>
<path d="M1073 134h0M1110 127h0M1095 125h0M1048 187h0M1086 162h0M1080 151h0M1049 133h0M1119 117h0M1058 161h0" stroke="#22908c" stroke-width="9.4" stroke-linecap="round"/>
<path d="M1070 145h0M1066 168h0M1055 162h0" stroke="#2eb07e" stroke-width="9.4" stroke-linecap="round"/>
<path d="M1075 120h0M1080 153h0M1096 113h0M1091 123h0M1096 107h0M1089 148h0M1076 115h0M1107 102h0" stroke="#2f6c8e" stroke-width="9.4" stroke-linecap="round"/>
<path d="M1119 88h0M1136 101h0M1108 110h0M1105 144h0M1113 69h0" stroke="#31688e" stroke-width="9.4" stroke-linecap="round"/>
<path d="M1099 141h0M1105 115h0M1105 117h0M1095 91h0M1102 114h0" stroke="#2a788e" stroke-width="9.4" stroke-linecap="round"/>
<path d="M1107 113h0M1077 151h0M1075 132h0M1034 172h0M1072 180h0M1077 163h0M1047 205h0M1030 193h0M1030 199h0M1079 155h0M1022 198h0M1067 152h0" stroke="#25888d" stroke-width="9.4" stroke-linecap="round"/>
<path d="M1078 174h0M1053 165h0M1054 149h0M1066 158h0" stroke="#32b37b" stroke-width="9.4" stroke-linecap="round"/>
<path d="M1067 184h0M1043 189h0M1072 162h0M1046 199h0" stroke="#3dba74" stroke-width="9.4" stroke-linecap="round"/>
<path d="M1106 132h0M1062 121h0M1094 128h0" stroke="#2e708e" stroke-width="9.4" stroke-linecap="round"/>
<path d="M1106 102h0M1061 154h0M1123 111h0M1092 108h0M1086 128h0M1102 80h0" stroke="#2c748e" stroke-width="9.4" stroke-linecap="round"/>
<path d="M1031 212h0M1090 147h0M1084 175h0M1031 196h0M1051 181h0M1082 145h0" stroke="#46be6f" stroke-width="9.4" stroke-linecap="round"/>
<path d="M1055 168h0M1031 184h0M1096 107h0M1065 175h0M1100 103h0" stroke="#20988a" stroke-width="9.4" stroke-linecap="round"/>
<path d="M1099 94h0M1084 140h0M1092 105h0M1125 103h0M1058 154h0M1050 161h0M1086 155h0M1075 154h0M1107 114h0" stroke="#277f8e" stroke-width="9.4" stroke-linecap="round"/>
<path d="M1059 196h0M1022 235h0M995 250h0" stroke="#86d349" stroke-width="9.4" stroke-linecap="round"/>
<path d="M1130 92h0M1117 101h0M1092 139h0" stroke="#355f8c" stroke-width="9.4" stroke-linecap="round"/>
<path d="M1098 130h0M1064 167h0M1097 121h0" stroke="#2bac80" stroke-width="9.4" stroke-linecap="round"/>
<path d="M1074 126h0M1082 139h0M1105 92h0M1075 137h0M1068 165h0M1097 108h0M1065 191h0M1102 117h0" stroke="#248c8c" stroke-width="9.4" stroke-linecap="round"/>
<path d="M1123 127h0M1128 99h0M1123 120h0M1133 63h0M1082 146h0M1099 144h0" stroke="#3b528a" stroke-width="9.4" stroke-linecap="round"/>
<path d="M1089 110h0M1076 134h0M1127 65h0" stroke="#26838e" stroke-width="9.4" stroke-linecap="round"/>
<path d="M1069 111h0M1067 185h0M1087 122h0M1081 148h0M1066 147h0M1088 172h0M1066 172h0" stroke="#1f9d89" stroke-width="9.4" stroke-linecap="round"/>
<path d="M1030 178h0M1088 138h0M1034 143h0M1006 185h0M1040 194h0M1038 211h0" stroke="#35b779" stroke-width="9.4" stroke-linecap="round"/>
<path d="M1093 137h0M1047 173h0" stroke="#28a883" stroke-width="9.4" stroke-linecap="round"/>
<path d="M1027 208h0M1064 157h0" stroke="#67cb5c" stroke-width="9.4" stroke-linecap="round"/>
<path d="M1100 94h0M1081 149h0M1122 107h0M1041 182h0" stroke="#297c8e" stroke-width="9.4" stroke-linecap="round"/>
<path d="M1060 163h0M1038 150h0M1080 116h0" stroke="#21a087" stroke-width="9.4" stroke-linecap="round"/>
<path d="M1129 85h0M1144 88h0M1058 166h0M1067 161h0M1116 82h0" stroke="#375a8c" stroke-width="9.4" stroke-linecap="round"/>
<path d="M1089 76h0M1100 114h0" stroke="#3d4d8a" stroke-width="9.4" stroke-linecap="round"/>
<path d="M1066 181h0" stroke="#71ce57" stroke-width="9.4" stroke-linecap="round"/>
<path d="M1011 203h0M1031 188h0" stroke="#57c466" stroke-width="9.4" stroke-linecap="round"/>
<path d="M1112 90h0M1149 67h0M1083 82h0" stroke="#423e83" stroke-width="9.4" stroke-linecap="round"/>
<path d="M1055 145h0M1082 139h0" stroke="#24a485" stroke-width="9.4" stroke-linecap="round"/>
<path d="M1131 99h0M1102 95h0" stroke="#433980" stroke-width="9.4" stroke-linecap="round"/>
<path d="M1022 226h0" stroke="#e7e427" stroke-width="9.4" stroke-linecap="round"/>
<path d="M1077 138h0M1079 110h0M1111 115h0" stroke="#39568b" stroke-width="9.4" stroke-linecap="round"/>
<path d="M1012 202h0M1001 256h0" stroke="#9bd83c" stroke-width="9.4" stroke-linecap="round"/>
<path d="M1057 194h0" stroke="#7bd050" stroke-width="9.4" stroke-linecap="round"/>
<path d="M1032 225h0M1024 256h0" stroke="#4ec16b" stroke-width="9.4" stroke-linecap="round"/>
<path d="M1029 163h0" stroke="#90d642" stroke-width="9.4" stroke-linecap="round"/>
<path d="M1110 69h0M1086 127h0" stroke="#462f7b" stroke-width="9.4" stroke-linecap="round"/>
<path d="M1138 80h0M1100 104h0" stroke="#3e4888" stroke-width="9.4" stroke-linecap="round"/>
<path d="M1096 143h0M1081 140h0M1081 143h0M1099 138h0M1100 103h0M1068 138h0M1055 174h0M1107 161h0M1051 161h0M1093 145h0" stroke="#21948b" stroke-width="9.4" stroke-linecap="round"/>
<path d="M1066 180h0M1042 183h0" stroke="#2bac80" stroke-width="9.4" stroke-linecap="round"/>
<path d="M1071 167h0M1095 115h0M1110 108h0M1077 96h0" stroke="#2c748e" stroke-width="9.4" stroke-linecap="round"/>
<path d="M1052 192h0M1046 191h0M1107 151h0M1060 182h0M1081 149h0M1093 121h0M1130 130h0M1097 118h0M1061 184h0M1085 118h0M1095 163h0M1057 118h0M1103 128h0" stroke="#22908c" stroke-width="9.4" stroke-linecap="round"/>
<path d="M1056 117h0M1028 175h0M1139 65h0M1135 72h0" stroke="#3d4d8a" stroke-width="9.4" stroke-linecap="round"/>
<path d="M1074 156h0M1053 164h0M1048 207h0M1088 141h0M1099 96h0M1057 171h0" stroke="#24a485" stroke-width="9.4" stroke-linecap="round"/>
<path d="M1069 136h0M1068 154h0M1095 131h0M1046 124h0M1129 114h0M1097 128h0M1074 134h0" stroke="#277f8e" stroke-width="9.4" stroke-linecap="round"/>
<path d="M1045 144h0M1041 155h0M1059 187h0M1097 135h0M1078 177h0M1060 144h0M1063 148h0" stroke="#21a087" stroke-width="9.4" stroke-linecap="round"/>
<path d="M1109 118h0M1087 138h0M1073 114h0M1104 97h0M1085 150h0M1082 118h0M1075 185h0M1083 149h0" stroke="#26838e" stroke-width="9.4" stroke-linecap="round"/>
<path d="M1085 122h0M1115 114h0M1101 139h0" stroke="#355f8c" stroke-width="9.4" stroke-linecap="round"/>
<path d="M1050 174h0M1079 201h0M1037 197h0" stroke="#46be6f" stroke-width="9.4" stroke-linecap="round"/>
<path d="M1105 116h0M1112 105h0M1111 103h0M1119 79h0M1115 94h0M1065 159h0M1077 168h0M1111 137h0M1123 116h0M1109 84h0M1094 115h0M1064 172h0" stroke="#31688e" stroke-width="9.4" stroke-linecap="round"/>
<path d="M1081 174h0M1039 208h0M1083 136h0M1018 194h0M1040 178h0M1042 162h0" stroke="#4ec16b" stroke-width="9.4" stroke-linecap="round"/>
<path d="M1116 72h0" stroke="#3e4888" stroke-width="9.4" stroke-linecap="round"/>
<path d="M1082 127h0M1018 215h0M1059 146h0" stroke="#28a883" stroke-width="9.4" stroke-linecap="round"/>
<path d="M1052 122h0" stroke="#67cb5c" stroke-width="9.4" stroke-linecap="round"/>
<path d="M1028 169h0M1113 137h0M1106 114h0M1061 156h0M1122 72h0" stroke="#33638d" stroke-width="9.4" stroke-linecap="round"/>
<path d="M1100 125h0M1070 143h0M1097 149h0M1089 134h0" stroke="#2a788e" stroke-width="9.4" stroke-linecap="round"/>
<path d="M1056 124h0M1021 175h0M1042 211h0M1083 197h0M1048 168h0M1037 187h0M1108 159h0" stroke="#2eb07e" stroke-width="9.4" stroke-linecap="round"/>
<path d="M1078 125h0M1085 147h0M1067 143h0M1056 168h0M1039 176h0" stroke="#297c8e" stroke-width="9.4" stroke-linecap="round"/>
<path d="M1097 95h0M1030 179h0" stroke="#1f9d89" stroke-width="9.4" stroke-linecap="round"/>
<path d="M1057 140h0M1110 107h0" stroke="#404386" stroke-width="9.4" stroke-linecap="round"/>
<path d="M1058 196h0M1092 89h0M1066 135h0M1049 139h0M1079 144h0M1062 153h0M1108 137h0M1076 143h0M1093 117h0" stroke="#248c8c" stroke-width="9.4" stroke-linecap="round"/>
<path d="M1112 79h0" stroke="#3b528a" stroke-width="9.4" stroke-linecap="round"/>
<path d="M1062 158h0M1072 130h0M1074 105h0M1079 139h0M1081 118h0M1085 124h0M1048 141h0M1058 194h0" stroke="#25888d" stroke-width="9.4" stroke-linecap="round"/>
<path d="M1046 167h0M1054 180h0" stroke="#35b779" stroke-width="9.4" stroke-linecap="round"/>
<path d="M1082 104h0M1099 67h0M1054 205h0M1064 188h0M1108 143h0M1100 112h0M1102 103h0M1102 114h0M1102 147h0" stroke="#2f6c8e" stroke-width="9.4" stroke-linecap="round"/>
<path d="M1079 67h0" stroke="#450d5f" stroke-width="9.4" stroke-linecap="round"/>
<path d="M1132 91h0M1116 99h0M1107 90h0M1107 103h0" stroke="#433980" stroke-width="9.4" stroke-linecap="round"/>
<path d="M1117 94h0M1110 112h0" stroke="#39568b" stroke-width="9.4" stroke-linecap="round"/>
<path d="M1033 228h0M1069 189h0" stroke="#71ce57" stroke-width="9.4" stroke-linecap="round"/>
<path d="M1087 111h0M1077 151h0M1055 186h0M1091 113h0M1043 168h0" stroke="#20988a" stroke-width="9.4" stroke-linecap="round"/>
<path d="M1023 174h0" stroke="#c6e02a" stroke-width="9.4" stroke-linecap="round"/>
<path d="M1048 153h0M1104 106h0M1069 138h0" stroke="#2e708e" stroke-width="9.4" stroke-linecap="round"/>
<path d="M1069 169h0" stroke="#5fc861" stroke-width="9.4" stroke-linecap="round"/>
<path d="M1059 198h0" stroke="#57c466" stroke-width="9.4" stroke-linecap="round"/>
<path d="M1061 168h0" stroke="#32b37b" stroke-width="9.4" stroke-linecap="round"/>
<path d="M1028 199h0" stroke="#d1e229" stroke-width="9.4" stroke-linecap="round"/>
<path d="M1087 137h0" stroke="#375a8c" stroke-width="9.4" stroke-linecap="round"/>
<line x1="903.6" y1="29.4" x2="903.6" y2="314.5" stroke="#3f3f3f" stroke-width="1.5" />
<line x1="903.6" y1="314.5" x2="1187.6" y2="314.5" stroke="#3f3f3f" stroke-width="1.5" />
<line x1="978.4" y1="314.5" x2="978.4" y2="324.5" stroke="#737373" stroke-width="1.8" />
<text x="978.4" y="353.5" font-size="22" text-anchor="middle" >15.0</text>
<line x1="1057.6" y1="314.5" x2="1057.6" y2="324.5" stroke="#737373" stroke-width="1.8" />
<text x="1057.6" y="353.5" font-size="22" text-anchor="middle" >17.5</text>
<line x1="1136.8" y1="314.5" x2="1136.8" y2="324.5" stroke="#737373" stroke-width="1.8" />
<text x="1136.8" y="353.5" font-size="22" text-anchor="middle" >20.0</text>
<line x1="893.6" y1="259.2" x2="903.6" y2="259.2" stroke="#737373" stroke-width="1.8" />
<text x="881.1" y="267" font-size="22" text-anchor="end" >12</text>
<line x1="893.6" y1="182" x2="903.6" y2="182" stroke="#737373" stroke-width="1.8" />
<text x="881.1" y="189.8" font-size="22" text-anchor="end" >14</text>
<line x1="893.6" y1="105" x2="903.6" y2="105" stroke="#737373" stroke-width="1.8" />
<text x="881.1" y="112.8" font-size="22" text-anchor="end" >16</text>
<text x="1007" y="50.4" font-size="23" ><tspan font-style="italic">ρ</tspan> = 0.8</text>
<text x="1046" y="394" font-size="23" text-anchor="middle" >Gene expression (<tspan font-style="italic">ETS1</tspan>)</text>
<text x="844" y="188" font-size="23" text-anchor="middle" transform="rotate(-90 844 188)" >Gene expression (<tspan font-style="italic">ZEB2</tspan>)</text>
<path d="M912 302h0" stroke="#fde725" stroke-width="9.4" stroke-linecap="round"/>
<path d="M956 271h0" stroke="#dce328" stroke-width="9.4" stroke-linecap="round"/>
<path d="M991 275h0M1099 290h0" stroke="#90d642" stroke-width="9.4" stroke-linecap="round"/>
<path d="M1070 251h0M1004 140h0" stroke="#a6db35" stroke-width="9.4" stroke-linecap="round"/>
<path d="M1048 259h0" stroke="#71ce57" stroke-width="9.4" stroke-linecap="round"/>
<path d="M963 201h0" stroke="#4ec16b" stroke-width="9.4" stroke-linecap="round"/>
<path d="M1073 43h0" stroke="#375a8c" stroke-width="9.4" stroke-linecap="round"/>
<path d="M1159 43h0" stroke="#440154" stroke-width="9.4" stroke-linecap="round"/>
<path d="M1175 74h0" stroke="#471e6f" stroke-width="9.4" stroke-linecap="round"/>
<path d="M1165 90h0" stroke="#462f7b" stroke-width="9.4" stroke-linecap="round"/>
<path d="M1124 43h0" stroke="#482a79" stroke-width="9.4" stroke-linecap="round"/>
<path d="M1424 124h0M1467 191h0M1392 222h0M1441 231h0" stroke="#4ec16b" stroke-width="9.4" stroke-linecap="round"/>
<path d="M1390 223h0M1436 217h0M1431 169h0M1467 168h0M1395 262h0M1468 160h0M1463 241h0" stroke="#2bac80" stroke-width="9.4" stroke-linecap="round"/>
<path d="M1406 253h0M1431 150h0M1417 143h0M1489 153h0M1371 212h0M1417 159h0M1467 151h0" stroke="#297c8e" stroke-width="9.4" stroke-linecap="round"/>
<path d="M1422 176h0M1445 171h0M1473 185h0" stroke="#355f8c" stroke-width="9.4" stroke-linecap="round"/>
<path d="M1484 182h0M1451 185h0M1447 112h0M1465 175h0" stroke="#277f8e" stroke-width="9.4" stroke-linecap="round"/>
<path d="M1439 200h0M1393 202h0M1472 178h0M1419 169h0M1397 195h0M1415 225h0M1417 199h0M1478 140h0M1433 209h0M1395 200h0M1445 195h0M1425 147h0M1484 121h0M1446 187h0" stroke="#25888d" stroke-width="9.4" stroke-linecap="round"/>
<path d="M1431 201h0M1415 132h0M1409 203h0M1466 177h0M1444 133h0M1439 145h0M1446 130h0M1389 202h0M1428 190h0M1471 130h0M1475 97h0M1440 126h0M1459 150h0M1416 138h0M1478 180h0" stroke="#2a788e" stroke-width="9.4" stroke-linecap="round"/>
<path d="M1441 130h0M1391 111h0M1473 172h0M1396 249h0M1417 167h0M1436 178h0M1415 186h0M1443 201h0" stroke="#21a087" stroke-width="9.4" stroke-linecap="round"/>
<path d="M1434 214h0M1455 192h0M1429 169h0M1433 166h0M1416 198h0M1422 173h0M1411 165h0M1459 119h0M1500 97h0M1449 195h0M1436 153h0" stroke="#28a883" stroke-width="9.4" stroke-linecap="round"/>
<path d="M1390 186h0M1422 127h0M1488 100h0M1415 217h0M1439 166h0" stroke="#39568b" stroke-width="9.4" stroke-linecap="round"/>
<path d="M1421 189h0M1426 260h0M1427 179h0M1383 167h0M1458 163h0M1433 130h0M1456 131h0M1442 210h0M1434 245h0M1422 128h0M1422 156h0" stroke="#26838e" stroke-width="9.4" stroke-linecap="round"/>
<path d="M1532 109h0M1462 182h0M1466 212h0M1398 140h0M1471 266h0M1449 138h0M1454 185h0M1461 152h0M1441 133h0M1437 117h0M1438 202h0" stroke="#35b779" stroke-width="9.4" stroke-linecap="round"/>
<path d="M1434 119h0M1439 172h0M1455 125h0M1440 134h0M1492 103h0M1415 187h0M1453 169h0M1477 168h0M1418 189h0M1399 226h0M1433 142h0M1415 144h0" stroke="#21948b" stroke-width="9.4" stroke-linecap="round"/>
<path d="M1456 165h0M1485 159h0M1433 193h0M1432 217h0M1386 233h0M1441 171h0M1446 149h0M1422 214h0M1424 194h0M1432 134h0" stroke="#2f6c8e" stroke-width="9.4" stroke-linecap="round"/>
<path d="M1416 171h0M1395 210h0M1400 139h0M1459 191h0M1407 202h0M1354 194h0M1480 170h0M1427 141h0M1479 111h0M1449 159h0M1440 118h0M1454 169h0" stroke="#248c8c" stroke-width="9.4" stroke-linecap="round"/>
<path d="M1425 189h0M1398 192h0M1477 126h0M1467 155h0M1473 166h0M1471 178h0M1397 192h0M1443 163h0M1449 171h0M1503 186h0" stroke="#20988a" stroke-width="9.4" stroke-linecap="round"/>
<path d="M1444 199h0M1473 189h0M1431 149h0" stroke="#2e708e" stroke-width="9.4" stroke-linecap="round"/>
<path d="M1466 216h0M1420 178h0M1446 177h0M1423 148h0M1475 152h0" stroke="#22908c" stroke-width="9.4" stroke-linecap="round"/>
<path d="M1446 126h0M1453 130h0M1487 153h0M1459 120h0M1435 178h0M1456 176h0" stroke="#32b37b" stroke-width="9.4" stroke-linecap="round"/>
<path d="M1466 143h0M1411 166h0M1407 168h0M1375 180h0" stroke="#2eb07e" stroke-width="9.4" stroke-linecap="round"/>
<path d="M1432 73h0" stroke="#375a8c" stroke-width="9.4" stroke-linecap="round"/>
<path d="M1445 252h0M1426 223h0M1436 192h0M1422 224h0M1383 192h0" stroke="#24a485" stroke-width="9.4" stroke-linecap="round"/>
<path d="M1422 173h0M1425 137h0M1455 159h0M1457 133h0M1434 129h0M1417 176h0" stroke="#2c748e" stroke-width="9.4" stroke-linecap="round"/>
<path d="M1422 240h0M1412 220h0M1411 227h0M1439 163h0M1490 207h0M1449 154h0M1422 226h0M1447 179h0" stroke="#1f9d89" stroke-width="9.4" stroke-linecap="round"/>
<path d="M1422 186h0M1425 184h0" stroke="#33638d" stroke-width="9.4" stroke-linecap="round"/>
<path d="M1445 131h0M1428 169h0" stroke="#31688e" stroke-width="9.4" stroke-linecap="round"/>
<path d="M1446 143h0M1385 201h0M1429 183h0M1411 201h0" stroke="#3dba74" stroke-width="9.4" stroke-linecap="round"/>
<path d="M1468 157h0M1420 161h0M1413 228h0" stroke="#57c466" stroke-width="9.4" stroke-linecap="round"/>
<path d="M1406 172h0M1429 131h0" stroke="#3b528a" stroke-width="9.4" stroke-linecap="round"/>
<path d="M1463 176h0M1473 219h0M1416 189h0" stroke="#3e4888" stroke-width="9.4" stroke-linecap="round"/>
<path d="M1420 188h0" stroke="#7bd050" stroke-width="9.4" stroke-linecap="round"/>
<path d="M1465 188h0" stroke="#46be6f" stroke-width="9.4" stroke-linecap="round"/>
<path d="M1436 180h0M1418 162h0M1433 152h0M1479 174h0M1453 206h0M1441 130h0M1428 170h0M1429 199h0" stroke="#25888d" stroke-width="9.4" stroke-linecap="round"/>
<path d="M1443 175h0M1441 177h0M1400 203h0M1442 176h0M1413 193h0M1442 143h0M1488 113h0M1407 200h0M1498 140h0M1456 123h0M1446 158h0" stroke="#21a087" stroke-width="9.4" stroke-linecap="round"/>
<path d="M1376 186h0M1449 139h0M1417 121h0M1436 152h0M1388 185h0M1436 87h0M1472 135h0" stroke="#2a788e" stroke-width="9.4" stroke-linecap="round"/>
<path d="M1418 215h0M1493 113h0M1435 145h0" stroke="#2e708e" stroke-width="9.4" stroke-linecap="round"/>
<path d="M1418 120h0M1461 187h0M1484 145h0M1442 254h0M1457 146h0M1458 156h0M1390 214h0M1434 180h0M1380 163h0M1362 216h0M1478 145h0M1443 231h0" stroke="#21948b" stroke-width="9.4" stroke-linecap="round"/>
<path d="M1484 136h0M1481 203h0M1468 138h0M1441 173h0M1483 183h0M1422 197h0M1393 201h0M1413 147h0M1430 173h0" stroke="#24a485" stroke-width="9.4" stroke-linecap="round"/>
<path d="M1454 161h0M1454 189h0M1413 193h0M1432 146h0M1445 224h0M1453 190h0M1403 190h0M1468 154h0M1477 144h0" stroke="#22908c" stroke-width="9.4" stroke-linecap="round"/>
<path d="M1460 157h0M1456 247h0M1433 142h0M1471 179h0M1411 123h0M1389 213h0M1451 140h0M1402 179h0M1403 193h0M1474 166h0M1426 212h0" stroke="#28a883" stroke-width="9.4" stroke-linecap="round"/>
<path d="M1484 191h0M1447 211h0M1431 162h0M1451 242h0M1383 186h0M1456 175h0M1451 210h0" stroke="#248c8c" stroke-width="9.4" stroke-linecap="round"/>
<path d="M1432 156h0M1443 197h0" stroke="#33638d" stroke-width="9.4" stroke-linecap="round"/>
<path d="M1399 220h0M1465 131h0" stroke="#57c466" stroke-width="9.4" stroke-linecap="round"/>
<path d="M1456 134h0M1411 170h0M1466 144h0M1466 159h0M1458 147h0M1444 149h0M1455 195h0M1466 117h0M1410 179h0M1469 164h0M1411 123h0M1456 147h0M1463 218h0M1456 191h0M1408 235h0M1402 234h0M1463 158h0M1448 132h0" stroke="#277f8e" stroke-width="9.4" stroke-linecap="round"/>
<path d="M1448 118h0M1485 151h0M1464 224h0M1446 198h0M1403 162h0M1470 174h0M1454 122h0M1465 201h0M1431 158h0M1476 161h0M1447 159h0M1425 178h0M1438 152h0M1424 174h0M1429 151h0" stroke="#26838e" stroke-width="9.4" stroke-linecap="round"/>
<path d="M1446 176h0M1487 194h0M1430 125h0M1431 176h0M1477 147h0" stroke="#2c748e" stroke-width="9.4" stroke-linecap="round"/>
<path d="M1496 128h0M1436 123h0M1427 225h0M1433 183h0M1457 127h0M1426 94h0" stroke="#31688e" stroke-width="9.4" stroke-linecap="round"/>
<path d="M1433 132h0M1432 149h0M1421 140h0M1405 188h0M1446 126h0M1426 173h0M1495 128h0M1448 224h0M1466 198h0M1467 138h0M1419 190h0M1435 148h0" stroke="#297c8e" stroke-width="9.4" stroke-linecap="round"/>
<path d="M1421 182h0M1459 130h0M1442 130h0M1431 103h0M1436 193h0M1397 174h0M1459 182h0M1437 178h0" stroke="#2bac80" stroke-width="9.4" stroke-linecap="round"/>
<path d="M1450 137h0M1440 210h0M1406 194h0M1399 193h0M1410 200h0" stroke="#375a8c" stroke-width="9.4" stroke-linecap="round"/>
<path d="M1435 167h0M1405 213h0M1470 126h0" stroke="#355f8c" stroke-width="9.4" stroke-linecap="round"/>
<path d="M1417 130h0M1451 99h0M1427 160h0M1416 172h0M1482 174h0" stroke="#32b37b" stroke-width="9.4" stroke-linecap="round"/>
<path d="M1425 229h0M1373 183h0M1450 205h0M1402 195h0M1426 216h0M1396 187h0M1451 161h0M1456 204h0M1434 197h0" stroke="#20988a" stroke-width="9.4" stroke-linecap="round"/>
<path d="M1438 166h0M1444 136h0M1498 143h0M1470 214h0M1460 153h0M1432 135h0M1447 211h0M1431 155h0" stroke="#1f9d89" stroke-width="9.4" stroke-linecap="round"/>
<path d="M1408 201h0M1423 111h0M1464 144h0M1401 191h0M1425 198h0" stroke="#2eb07e" stroke-width="9.4" stroke-linecap="round"/>
<path d="M1442 191h0M1484 190h0M1467 186h0" stroke="#3dba74" stroke-width="9.4" stroke-linecap="round"/>
<path d="M1394 182h0M1472 230h0" stroke="#46be6f" stroke-width="9.4" stroke-linecap="round"/>
<path d="M1471 139h0" stroke="#3e4888" stroke-width="9.4" stroke-linecap="round"/>
<path d="M1413 192h0" stroke="#a6db35" stroke-width="9.4" stroke-linecap="round"/>
<path d="M1433 133h0M1454 201h0" stroke="#2f6c8e" stroke-width="9.4" stroke-linecap="round"/>
<path d="M1449 177h0M1460 152h0" stroke="#4ec16b" stroke-width="9.4" stroke-linecap="round"/>
<path d="M1478 222h0M1394 139h0" stroke="#9bd83c" stroke-width="9.4" stroke-linecap="round"/>
<path d="M1427 159h0" stroke="#471e6f" stroke-width="9.4" stroke-linecap="round"/>
<path d="M1445 127h0" stroke="#5fc861" stroke-width="9.4" stroke-linecap="round"/>
<path d="M1420 97h0" stroke="#3d4d8a" stroke-width="9.4" stroke-linecap="round"/>
<path d="M1478 171h0" stroke="#39568b" stroke-width="9.4" stroke-linecap="round"/>
<path d="M1464 168h0" stroke="#433980" stroke-width="9.4" stroke-linecap="round"/>
<path d="M1408 150h0" stroke="#3b528a" stroke-width="9.4" stroke-linecap="round"/>
<path d="M1422 94h0" stroke="#423e83" stroke-width="9.4" stroke-linecap="round"/>
<path d="M1376 215h0M1450 210h0M1407 149h0M1450 190h0M1475 203h0M1465 170h0M1456 192h0M1464 177h0M1404 128h0M1441 176h0" stroke="#2bac80" stroke-width="9.4" stroke-linecap="round"/>
<path d="M1395 188h0M1433 216h0M1461 154h0M1414 128h0M1440 156h0M1466 141h0M1458 119h0M1464 172h0M1428 189h0M1398 141h0M1451 188h0M1471 154h0M1450 165h0M1449 128h0M1444 206h0" stroke="#1f9d89" stroke-width="9.4" stroke-linecap="round"/>
<path d="M1422 182h0M1430 193h0M1454 166h0M1445 204h0" stroke="#4ec16b" stroke-width="9.4" stroke-linecap="round"/>
<path d="M1426 123h0M1439 176h0M1382 174h0M1396 114h0M1442 144h0M1419 156h0M1431 129h0M1409 182h0" stroke="#26838e" stroke-width="9.4" stroke-linecap="round"/>
<path d="M1400 189h0M1409 151h0M1426 173h0" stroke="#32b37b" stroke-width="9.4" stroke-linecap="round"/>
<path d="M1426 179h0M1460 166h0" stroke="#57c466" stroke-width="9.4" stroke-linecap="round"/>
<path d="M1419 228h0M1426 208h0M1421 133h0M1473 180h0M1419 196h0M1417 177h0M1431 180h0" stroke="#2eb07e" stroke-width="9.4" stroke-linecap="round"/>
<path d="M1432 188h0M1410 174h0M1426 119h0" stroke="#31688e" stroke-width="9.4" stroke-linecap="round"/>
<path d="M1417 172h0M1441 234h0M1415 121h0M1430 150h0M1357 226h0M1431 144h0M1435 207h0M1347 148h0" stroke="#28a883" stroke-width="9.4" stroke-linecap="round"/>
<path d="M1412 249h0M1488 177h0M1474 136h0M1432 177h0M1469 198h0M1431 148h0M1412 212h0M1419 210h0M1422 196h0" stroke="#2a788e" stroke-width="9.4" stroke-linecap="round"/>
<path d="M1432 209h0M1455 168h0" stroke="#39568b" stroke-width="9.4" stroke-linecap="round"/>
<path d="M1443 161h0M1463 185h0M1411 205h0M1489 207h0M1473 196h0" stroke="#22908c" stroke-width="9.4" stroke-linecap="round"/>
<path d="M1407 247h0M1420 171h0M1435 191h0M1427 213h0M1422 218h0M1435 170h0M1468 159h0M1428 213h0M1456 196h0M1433 213h0M1374 173h0M1366 147h0M1417 150h0" stroke="#25888d" stroke-width="9.4" stroke-linecap="round"/>
<path d="M1380 237h0M1409 146h0M1446 193h0M1438 188h0M1450 216h0M1442 152h0M1403 202h0M1420 186h0M1418 142h0M1422 199h0M1489 123h0M1476 174h0M1415 227h0M1479 186h0M1461 193h0" stroke="#20988a" stroke-width="9.4" stroke-linecap="round"/>
<path d="M1391 184h0M1437 154h0M1426 146h0M1410 145h0M1445 196h0M1423 176h0M1471 140h0" stroke="#46be6f" stroke-width="9.4" stroke-linecap="round"/>
<path d="M1420 210h0M1389 228h0M1457 184h0M1455 153h0M1495 172h0" stroke="#355f8c" stroke-width="9.4" stroke-linecap="round"/>
<path d="M1439 225h0M1449 178h0M1404 169h0M1434 87h0M1427 151h0M1405 169h0" stroke="#24a485" stroke-width="9.4" stroke-linecap="round"/>
<path d="M1452 185h0M1450 188h0M1465 133h0M1422 160h0M1451 184h0M1433 133h0M1409 152h0M1425 165h0M1460 163h0M1481 86h0" stroke="#21948b" stroke-width="9.4" stroke-linecap="round"/>
<path d="M1455 208h0M1411 122h0M1432 185h0M1437 218h0M1455 147h0M1435 124h0M1456 172h0M1409 199h0" stroke="#21a087" stroke-width="9.4" stroke-linecap="round"/>
<path d="M1413 147h0M1476 149h0M1458 142h0" stroke="#2f6c8e" stroke-width="9.4" stroke-linecap="round"/>
<path d="M1439 227h0M1426 137h0M1429 169h0M1400 225h0M1470 170h0M1420 207h0M1442 229h0" stroke="#277f8e" stroke-width="9.4" stroke-linecap="round"/>
<path d="M1454 167h0M1453 157h0M1445 160h0M1443 137h0M1416 105h0M1447 164h0M1470 141h0M1385 164h0M1430 168h0M1435 157h0" stroke="#248c8c" stroke-width="9.4" stroke-linecap="round"/>
<path d="M1448 198h0M1414 189h0M1452 188h0" stroke="#33638d" stroke-width="9.4" stroke-linecap="round"/>
<path d="M1412 155h0M1450 185h0M1444 217h0" stroke="#3dba74" stroke-width="9.4" stroke-linecap="round"/>
<path d="M1387 170h0M1450 157h0M1433 153h0M1395 129h0M1427 157h0M1414 238h0M1433 122h0" stroke="#2e708e" stroke-width="9.4" stroke-linecap="round"/>
<path d="M1406 171h0M1437 222h0M1458 166h0M1471 123h0M1433 142h0M1429 160h0M1480 180h0M1407 155h0" stroke="#2c748e" stroke-width="9.4" stroke-linecap="round"/>
<path d="M1424 135h0M1419 203h0M1476 161h0" stroke="#297c8e" stroke-width="9.4" stroke-linecap="round"/>
<path d="M1420 176h0M1464 174h0M1440 184h0" stroke="#375a8c" stroke-width="9.4" stroke-linecap="round"/>
<path d="M1514 213h0M1409 213h0M1415 199h0M1406 147h0M1407 88h0M1423 160h0" stroke="#35b779" stroke-width="9.4" stroke-linecap="round"/>
<path d="M1460 151h0" stroke="#423e83" stroke-width="9.4" stroke-linecap="round"/>
<path d="M1450 142h0M1412 204h0" stroke="#67cb5c" stroke-width="9.4" stroke-linecap="round"/>
<path d="M1424 163h0M1461 170h0" stroke="#44347e" stroke-width="9.4" stroke-linecap="round"/>
<path d="M1429 143h0" stroke="#71ce57" stroke-width="9.4" stroke-linecap="round"/>
<path d="M1403 206h0" stroke="#5fc861" stroke-width="9.4" stroke-linecap="round"/>
<path d="M1387 188h0M1437 188h0M1415 139h0" stroke="#2f6c8e" stroke-width="9.4" stroke-linecap="round"/>
<path d="M1481 198h0M1447 177h0M1451 186h0M1414 164h0M1446 109h0M1468 150h0M1356 171h0M1422 213h0M1451 123h0M1427 140h0M1494 162h0" stroke="#21948b" stroke-width="9.4" stroke-linecap="round"/>
<path d="M1436 141h0M1447 200h0M1452 228h0M1446 215h0M1404 176h0M1447 202h0M1489 157h0M1406 163h0M1444 212h0M1422 142h0M1453 131h0M1445 178h0" stroke="#21a087" stroke-width="9.4" stroke-linecap="round"/>
<path d="M1447 170h0M1394 181h0M1456 129h0M1443 90h0M1461 178h0M1473 151h0M1409 124h0" stroke="#355f8c" stroke-width="9.4" stroke-linecap="round"/>
<path d="M1414 185h0M1435 212h0M1444 156h0M1470 189h0M1478 188h0M1425 163h0" stroke="#46be6f" stroke-width="9.4" stroke-linecap="round"/>
<path d="M1487 128h0M1427 161h0M1443 160h0M1470 162h0" stroke="#3dba74" stroke-width="9.4" stroke-linecap="round"/>
<path d="M1471 202h0" stroke="#67cb5c" stroke-width="9.4" stroke-linecap="round"/>
<path d="M1408 178h0M1429 156h0M1423 141h0M1438 189h0M1423 165h0M1425 195h0M1456 180h0M1476 133h0M1465 151h0" stroke="#2a788e" stroke-width="9.4" stroke-linecap="round"/>
<path d="M1454 96h0M1408 173h0M1417 214h0M1447 208h0M1482 103h0M1443 174h0M1460 162h0M1455 178h0M1473 171h0M1473 172h0M1396 153h0M1409 215h0M1428 177h0M1433 175h0" stroke="#2c748e" stroke-width="9.4" stroke-linecap="round"/>
<path d="M1438 168h0M1443 189h0M1425 161h0M1445 169h0M1439 175h0M1497 130h0M1400 164h0M1387 170h0M1435 139h0" stroke="#297c8e" stroke-width="9.4" stroke-linecap="round"/>
<path d="M1413 184h0" stroke="#57c466" stroke-width="9.4" stroke-linecap="round"/>
<path d="M1416 184h0M1403 164h0M1410 230h0M1458 166h0M1442 109h0M1444 135h0M1464 150h0M1443 178h0M1427 208h0M1481 168h0M1425 222h0M1407 159h0M1486 133h0" stroke="#22908c" stroke-width="9.4" stroke-linecap="round"/>
<path d="M1417 262h0M1496 228h0M1504 190h0M1392 220h0M1445 183h0M1424 225h0M1423 166h0M1437 119h0" stroke="#1f9d89" stroke-width="9.4" stroke-linecap="round"/>
<path d="M1393 192h0M1411 114h0M1488 192h0M1388 183h0M1458 179h0M1429 224h0M1418 197h0M1432 127h0" stroke="#26838e" stroke-width="9.4" stroke-linecap="round"/>
<path d="M1407 132h0M1428 151h0M1435 199h0M1450 179h0M1414 189h0M1467 184h0M1446 245h0M1433 178h0M1475 119h0" stroke="#20988a" stroke-width="9.4" stroke-linecap="round"/>
<path d="M1419 97h0M1491 193h0" stroke="#35b779" stroke-width="9.4" stroke-linecap="round"/>
<path d="M1391 163h0M1457 160h0M1473 145h0M1442 202h0M1393 152h0M1438 184h0M1409 224h0M1475 185h0M1422 210h0M1422 240h0M1420 148h0M1411 152h0M1404 165h0M1435 195h0" stroke="#25888d" stroke-width="9.4" stroke-linecap="round"/>
<path d="M1430 124h0M1426 192h0M1444 166h0M1407 181h0M1433 171h0M1459 195h0M1431 245h0M1431 163h0M1444 191h0M1421 146h0" stroke="#248c8c" stroke-width="9.4" stroke-linecap="round"/>
<path d="M1461 180h0M1408 158h0" stroke="#5fc861" stroke-width="9.4" stroke-linecap="round"/>
<path d="M1453 142h0M1459 201h0M1426 167h0" stroke="#28a883" stroke-width="9.4" stroke-linecap="round"/>
<path d="M1451 140h0M1429 157h0M1481 187h0M1448 205h0M1384 173h0M1462 200h0" stroke="#24a485" stroke-width="9.4" stroke-linecap="round"/>
<path d="M1423 144h0M1420 175h0M1432 192h0M1431 200h0M1458 157h0M1419 179h0M1459 234h0" stroke="#2e708e" stroke-width="9.4" stroke-linecap="round"/>
<path d="M1434 136h0M1434 180h0M1444 132h0M1457 133h0M1460 133h0M1486 155h0M1434 176h0" stroke="#2bac80" stroke-width="9.4" stroke-linecap="round"/>
<path d="M1397 173h0M1434 134h0M1408 182h0" stroke="#4ec16b" stroke-width="9.4" stroke-linecap="round"/>
<path d="M1445 141h0M1462 185h0M1429 165h0M1471 156h0" stroke="#32b37b" stroke-width="9.4" stroke-linecap="round"/>
<path d="M1378 134h0M1429 208h0M1402 201h0M1450 155h0M1438 108h0M1394 137h0M1409 214h0" stroke="#31688e" stroke-width="9.4" stroke-linecap="round"/>
<path d="M1438 168h0M1374 175h0" stroke="#375a8c" stroke-width="9.4" stroke-linecap="round"/>
<path d="M1426 256h0" stroke="#bbdf2b" stroke-width="9.4" stroke-linecap="round"/>
<path d="M1452 145h0M1497 148h0M1407 143h0" stroke="#2eb07e" stroke-width="9.4" stroke-linecap="round"/>
<path d="M1478 175h0M1454 158h0M1440 188h0M1410 183h0M1435 194h0M1422 228h0M1408 226h0" stroke="#277f8e" stroke-width="9.4" stroke-linecap="round"/>
<path d="M1469 116h0M1488 153h0M1440 236h0" stroke="#33638d" stroke-width="9.4" stroke-linecap="round"/>
<path d="M1449 127h0" stroke="#433980" stroke-width="9.4" stroke-linecap="round"/>
<path d="M1414 269h0" stroke="#3b528a" stroke-width="9.4" stroke-linecap="round"/>
<path d="M1422 196h0" stroke="#482474" stroke-width="9.4" stroke-linecap="round"/>
<path d="M1423 164h0" stroke="#404386" stroke-width="9.4" stroke-linecap="round"/>
<line x1="1306.7" y1="29.4" x2="1306.7" y2="314.5" stroke="#3f3f3f" stroke-width="1.5" />
<line x1="1306.7" y1="314.5" x2="1590.8" y2="314.5" stroke="#3f3f3f" stroke-width="1.5" />
<line x1="1316.2" y1="314.5" x2="1316.2" y2="324.5" stroke="#737373" stroke-width="1.8" />
<text x="1316.2" y="353.5" font-size="22" text-anchor="middle" >10</text>
<line x1="1412.6" y1="314.5" x2="1412.6" y2="324.5" stroke="#737373" stroke-width="1.8" />
<text x="1412.6" y="353.5" font-size="22" text-anchor="middle" >12</text>
<line x1="1508.6" y1="314.5" x2="1508.6" y2="324.5" stroke="#737373" stroke-width="1.8" />
<text x="1508.6" y="353.5" font-size="22" text-anchor="middle" >14</text>
<line x1="1296.7" y1="249.4" x2="1306.7" y2="249.4" stroke="#737373" stroke-width="1.8" />
<text x="1284.2" y="257.2" font-size="22" text-anchor="end" >10</text>
<line x1="1296.7" y1="162.4" x2="1306.7" y2="162.4" stroke="#737373" stroke-width="1.8" />
<text x="1284.2" y="170.2" font-size="22" text-anchor="end" >11</text>
<line x1="1296.7" y1="74.6" x2="1306.7" y2="74.6" stroke="#737373" stroke-width="1.8" />
<text x="1284.2" y="82.4" font-size="22" text-anchor="end" >12</text>
<text x="1400" y="56" font-size="23" ><tspan font-style="italic">ρ</tspan> = 0.2</text>
<text x="1449" y="395" font-size="23" text-anchor="middle" >Gene expression (<tspan font-style="italic">ETS1</tspan>)</text>
<text x="1237" y="172" font-size="23" text-anchor="middle" transform="rotate(-90 1237 172)" >Gene expression (<tspan font-style="italic">ZEB2</tspan>)</text>
<path d="M1321 282h0" stroke="#fde725" stroke-width="9.4" stroke-linecap="round"/>
<path d="M1340 48h0M1576 232h0" stroke="#90d642" stroke-width="9.4" stroke-linecap="round"/>
<path d="M1381 302h0M1345 149h0" stroke="#4ec16b" stroke-width="9.4" stroke-linecap="round"/>
<path d="M1528 40h0" stroke="#2c748e" stroke-width="9.4" stroke-linecap="round"/>
<path d="M1557 145h0" stroke="#2bac80" stroke-width="9.4" stroke-linecap="round"/>
<path d="M1393 57h0" stroke="#375a8c" stroke-width="9.4" stroke-linecap="round"/>
<path d="M1458 53h0" stroke="#a6db35" stroke-width="9.4" stroke-linecap="round"/>
<path d="M1799 134h0M1794 149h0M1857 132h0M1835 176h0M1840 218h0M1806 132h0M1816 112h0M1850 215h0M1809 220h0M1849 177h0M1816 220h0M1816 141h0M1832 199h0M1840 134h0M1865 177h0M1807 149h0M1863 141h0M1796 159h0M1793 187h0M1756 113h0M1840 211h0M1857 114h0M1784 171h0M1808 172h0M1810 141h0M1774 133h0M1819 139h0M1825 208h0M1803 184h0M1789 139h0M1821 143h0M1833 162h0M1778 104h0M1814 161h0M1832 126h0M1740 104h0M1826 145h0M1864 171h0M1782 123h0M1853 147h0M1809 133h0M1834 189h0M1813 139h0M1786 95h0M1770 157h0M1882 163h0M1780 157h0M1810 124h0M1856 234h0M1825 102h0M1822 139h0M1762 153h0M1800 143h0M1781 110h0M1768 134h0M1827 134h0M1840 118h0M1796 146h0M1799 126h0M1829 107h0M1841 140h0M1788 171h0M1849 135h0M1843 90h0M1817 166h0M1787 134h0M1833 143h0M1836 128h0M1865 178h0M1801 153h0M1861 96h0M1807 130h0M1832 179h0M1814 127h0M1819 153h0M1858 110h0M1798 207h0M1840 156h0M1810 120h0M1816 199h0M1797 177h0M1823 140h0M1762 144h0M1810 164h0M1845 150h0M1840 207h0M1773 176h0M1786 90h0M1806 175h0M1869 150h0M1805 155h0M1817 126h0M1810 143h0M1826 143h0M1792 110h0M1824 145h0M1830 216h0M1846 183h0M1793 102h0M1842 123h0M1870 173h0M1839 214h0M1836 183h0M1750 71h0M1854 121h0M1870 123h0M1851 217h0M1831 204h0M1840 180h0M1900 217h0M1798 148h0M1806 191h0M1848 145h0M1824 164h0M1758 163h0M1824 134h0M1827 142h0M1792 146h0M1828 170h0M1824 158h0M1767 212h0M1832 225h0M1877 190h0M1866 160h0M1786 89h0M1781 135h0M1819 190h0M1825 173h0M1780 192h0M1797 153h0M1855 165h0M1824 158h0M1846 151h0M1817 120h0M1846 137h0M1803 192h0M1803 124h0M1791 185h0M1764 132h0M1806 150h0M1780 91h0M1804 156h0M1821 159h0M1822 166h0M1828 128h0M1806 143h0M1816 164h0M1849 133h0M1813 82h0M1818 100h0M1749 91h0M1787 168h0M1848 164h0M1793 145h0M1787 208h0M1844 101h0M1783 198h0M1845 146h0M1814 197h0M1800 147h0M1760 116h0M1854 144h0M1766 175h0M1783 171h0M1839 127h0M1782 151h0M1831 154h0M1816 123h0M1809 239h0M1787 141h0M1799 108h0M1825 95h0M1790 126h0M1835 183h0M1824 123h0M1832 94h0M1823 178h0M1833 182h0M1828 162h0M1840 173h0M1828 226h0M1826 237h0M1791 195h0M1769 167h0M1818 140h0M1844 178h0M1791 144h0M1773 100h0M1802 50h0M1827 127h0M1841 193h0M1808 119h0M1784 149h0M1815 143h0M1836 126h0M1815 128h0M1845 205h0M1803 191h0M1841 150h0M1863 139h0M1789 78h0M1793 130h0M1835 171h0M1904 188h0M1831 182h0M1816 199h0M1854 206h0M1814 173h0M1772 143h0M1790 176h0M1855 162h0M1770 156h0M1777 156h0M1840 174h0M1821 146h0M1851 161h0M1787 240h0M1796 142h0M1807 150h0M1782 170h0M1810 148h0M1812 178h0M1841 155h0M1815 185h0M1806 130h0M1831 146h0M1848 210h0M1846 184h0M1825 133h0M1806 139h0M1804 148h0M1780 187h0M1819 179h0M1816 150h0M1863 154h0M1823 157h0M1838 187h0M1854 170h0M1765 162h0M1799 191h0M1810 191h0M1820 183h0M1785 201h0M1841 144h0M1842 134h0M1831 128h0M1836 185h0M1786 175h0M1849 153h0M1800 168h0M1764 156h0M1820 167h0M1829 212h0M1798 109h0M1771 196h0M1785 203h0M1813 127h0M1746 180h0M1846 125h0M1845 149h0M1812 143h0M1847 174h0M1812 203h0M1785 190h0M1835 155h0M1833 162h0M1791 192h0M1777 187h0M1789 180h0M1850 164h0M1808 139h0M1896 140h0M1799 165h0M1834 110h0M1826 133h0M1811 105h0M1840 190h0M1793 132h0M1815 119h0M1784 209h0M1756 113h0M1819 142h0M1785 119h0M1780 143h0M1833 120h0M1812 169h0M1828 175h0M1865 140h0M1822 132h0M1830 203h0M1784 109h0M1840 120h0M1841 125h0M1788 175h0M1835 117h0M1826 140h0M1811 123h0M1819 158h0M1885 183h0M1799 176h0M1808 175h0M1820 126h0M1812 181h0M1766 167h0M1835 148h0M1843 169h0M1866 234h0M1801 175h0M1782 161h0M1835 105h0M1788 128h0M1817 189h0M1806 191h0M1822 172h0M1805 146h0M1837 186h0M1791 136h0M1884 215h0M1839 149h0M1799 112h0M1790 240h0M1812 156h0M1804 145h0M1794 136h0M1856 160h0M1844 163h0M1787 141h0M1833 155h0M1817 153h0M1839 107h0M1799 118h0M1877 136h0M1819 177h0M1873 182h0M1804 118h0M1855 198h0M1814 121h0M1864 210h0M1812 83h0M1787 109h0M1787 169h0M1799 168h0M1834 227h0M1828 159h0M1821 116h0M1847 141h0M1863 173h0M1789 82h0M1845 142h0M1882 154h0M1800 163h0M1801 133h0M1829 70h0M1824 142h0M1802 209h0M1815 148h0M1863 100h0M1843 121h0M1795 169h0M1769 135h0M1786 200h0M1822 135h0M1795 181h0M1794 169h0M1838 179h0M1809 178h0M1807 97h0M1823 107h0M1858 173h0M1826 154h0M1837 103h0M1820 166h0M1861 179h0M1783 178h0M1786 98h0M1803 148h0M1874 166h0M1861 178h0M1787 181h0M1805 121h0M1711 184h0M1985 173h0M1964 219h0M1906 45h0M1907 97h0M1823 301h0M1815 277h0M1773 262h0M1882 267h0M1865 260h0" stroke="#808080" stroke-width="9.2" stroke-linecap="round"/>
<line x1="1697.7" y1="29.7" x2="1697.7" y2="317.4" stroke="#3f3f3f" stroke-width="1.5" />
<line x1="1697.7" y1="317.4" x2="1994.7" y2="317.4" stroke="#3f3f3f" stroke-width="1.5" />
<line x1="1727.7" y1="317.4" x2="1727.7" y2="327.4" stroke="#737373" stroke-width="1.8" />
<text x="1727.7" y="356.4" font-size="22" text-anchor="middle" >5.5</text>
<line x1="1798.4" y1="317.4" x2="1798.4" y2="327.4" stroke="#737373" stroke-width="1.8" />
<text x="1798.4" y="356.4" font-size="22" text-anchor="middle" >6.0</text>
<line x1="1867.8" y1="317.4" x2="1867.8" y2="327.4" stroke="#737373" stroke-width="1.8" />
<text x="1867.8" y="356.4" font-size="22" text-anchor="middle" >6.5</text>
<line x1="1938.3" y1="317.4" x2="1938.3" y2="327.4" stroke="#737373" stroke-width="1.8" />
<text x="1938.3" y="356.4" font-size="22" text-anchor="middle" >7.0</text>
<line x1="1687.7" y1="260" x2="1697.7" y2="260" stroke="#737373" stroke-width="1.8" />
<text x="1675.2" y="267.8" font-size="22" text-anchor="end" >4</text>
<line x1="1687.7" y1="173.3" x2="1697.7" y2="173.3" stroke="#737373" stroke-width="1.8" />
<text x="1675.2" y="181.1" font-size="22" text-anchor="end" >6</text>
<line x1="1687.7" y1="86.4" x2="1697.7" y2="86.4" stroke="#737373" stroke-width="1.8" />
<text x="1675.2" y="94.2" font-size="22" text-anchor="end" >8</text>
<text x="1798" y="56" font-size="23" ><tspan font-style="italic">ρ</tspan> = −0.2</text>
<text x="1846" y="398" font-size="23" text-anchor="middle" >Gene expression (<tspan font-style="italic">ETS1</tspan>)</text>
<text x="1640" y="173.5" font-size="23" text-anchor="middle" transform="rotate(-90 1640 173.5)" >Gene expression (<tspan font-style="italic">ZEB2</tspan>)</text>
<text x="3" y="462" font-size="30" font-weight="bold" >c</text>
<polygon points="146.3,562 154.2,557.4 165.5,557.4 172.3,548.4 185.8,539.4 192.6,530.3 206.1,525.8 217.4,519 231,507.8 240,503.2 258.1,501 271.6,496.5 287.4,494.2 298.7,496.5 314.5,489.7 325.8,493.1 343.9,489.7 366.5,486.3 393.6,484 416.2,480.7 438.8,477.3 461.3,475.7 483.9,473.9 487.3,475 483.9,478.4 461.3,494.2 438.8,507.8 425.2,514.5 422.9,532.6 411.7,534.9 393.6,546.1 384.6,559.7 380,571 377.8,584.5 366.5,598.1 355.2,598.1 348.4,609.4 339.4,618.4 325.8,627.4 312.3,632 298.7,636.5 280.7,641 262.6,647.8 244.5,656.8 226.5,665.8 208.4,674.9 194.9,683.9 185.8,688.4 174.5,697.5 165.5,702 176.8,683.9 188.1,674.9 185.8,656.8 174.5,643.3 165.5,638.7 154.2,638.7 158.7,625.2 151.9,611.6 148.6,598.1 147.4,584.5 146.3,571" fill="#2a72b8"/>
<g clip-path="url(#hc1)"><ellipse cx="330" cy="550" rx="100" ry="28" transform="rotate(-27 330 550)" fill="#0f58a6" opacity="0.75" filter="url(#hc1b0)"/><ellipse cx="301" cy="564" rx="45" ry="14" transform="rotate(-28 301 564)" fill="#233a78" opacity="0.95" filter="url(#hc1b1)"/></g>
<path d="M229.8 658.2h0M476.2 478h0M287.9 497.7h0M448.1 498.7h0M369.4 594.7h0M374 579.8h0M264.9 496.7h0M254.7 496.2h0M405.2 546.2h0M150 562h0M357.5 601.4h0M384.9 545.2h0M154.5 556.8h0M349.5 606.8h0M377 583.1h0M168 693.3h0M467.3 484h0M184.8 541.3h0M212.3 669.5h0M460.2 493.9h0M187.1 541.3h0M296.8 498.8h0M370.8 594.6h0M144.8 572.8h0M171 552.8h0M235.6 657.6h0M240.9 505.7h0M150.4 564.9h0M381.8 555.4h0M319.9 631.3h0M292.8 639.2h0M387.5 556.3h0M258.6 497.2h0M152.4 612h0M163 561.7h0M408.8 538.7h0M342 609.8h0M183.9 651.8h0M188.1 535.9h0M292.7 634.3h0M154.9 554.4h0M478.3 476.9h0M278.4 494.9h0M334 630.9h0M341.8 616.6h0M365.4 488.4h0M186.9 684.1h0M157.7 620.7h0M256 651.1h0M267.3 649.3h0M483.9 470.8h0M199.2 531.5h0M145.7 584.2h0M290.6 494.3h0M202.9 678.8h0M287.7 485.3h0M142.5 565.8h0M267.7 644.9h0M173.7 544.7h0M151.8 619.2h0M200.8 676.1h0M317.1 490.5h0M183.6 650.4h0M356.5 596.1h0M275.2 500.7h0M394.4 552.7h0M207.3 675.5h0M311.3 634.4h0M158.8 640.3h0M167.9 641.8h0M167.4 702.7h0M184.3 690.5h0M376.7 560.6h0M180.5 692.6h0M455 495.4h0M146.5 579.3h0M151.9 564.6h0M422.1 528.6h0M344.8 612.5h0M155.2 616.3h0M302 494.6h0M147.8 584.7h0M384.3 564.7h0M425 527.3h0M146.9 590.7h0M298.9 498.4h0M479.2 477.2h0M166 559h0M321.8 633.7h0M242.6 500.1h0M369.8 491.2h0M149.8 562.8h0M381.5 585.8h0M383.5 484.1h0M286.8 496.7h0M230.1 510.3h0M145.3 593.3h0M146.1 565.6h0M188.9 685.4h0M308 630.7h0M185.9 692.7h0M177.3 697.8h0M232.5 661.9h0M175.8 549h0M476.7 485h0M181.7 683.5h0M168.3 694.5h0M290.3 492.4h0M183.6 678h0M299 490.8h0" stroke="#2a72b8" stroke-width="3.8" stroke-linecap="round"/>
<line x1="291.5" y1="747" x2="291.5" y2="458.4" stroke="#000" stroke-width="3.6" stroke-dasharray="16 16"/>
<line x1="108.6" y1="616.3" x2="515.6" y2="616.3" stroke="#000" stroke-width="3.6" stroke-dasharray="16 16"/>
<line x1="108.6" y1="745.4" x2="515.6" y2="458.4" stroke="#000" stroke-width="4.2" />
<line x1="108.6" y1="458.4" x2="108.6" y2="745.4" stroke="#3f3f3f" stroke-width="1.5" />
<line x1="108.6" y1="745.4" x2="515.6" y2="745.4" stroke="#3f3f3f" stroke-width="1.5" />
<line x1="189.2" y1="745.4" x2="189.2" y2="755.4" stroke="#737373" stroke-width="1.8" />
<text x="189.2" y="784.4" font-size="22" text-anchor="middle" >0.5</text>
<line x1="291.5" y1="745.4" x2="291.5" y2="755.4" stroke="#737373" stroke-width="1.8" />
<text x="291.5" y="784.4" font-size="22" text-anchor="middle" >0</text>
<line x1="394.2" y1="745.4" x2="394.2" y2="755.4" stroke="#737373" stroke-width="1.8" />
<text x="394.2" y="784.4" font-size="22" text-anchor="middle" >0.5</text>
<line x1="496.9" y1="745.4" x2="496.9" y2="755.4" stroke="#737373" stroke-width="1.8" />
<text x="496.9" y="784.4" font-size="22" text-anchor="middle" >1.0</text>
<line x1="98.6" y1="688.9" x2="108.6" y2="688.9" stroke="#737373" stroke-width="1.8" />
<text x="86.1" y="696.7" font-size="22" text-anchor="end" >−0.5</text>
<line x1="98.6" y1="616.3" x2="108.6" y2="616.3" stroke="#737373" stroke-width="1.8" />
<text x="86.1" y="624.1" font-size="22" text-anchor="end" >0</text>
<line x1="98.6" y1="543.4" x2="108.6" y2="543.4" stroke="#737373" stroke-width="1.8" />
<text x="86.1" y="551.2" font-size="22" text-anchor="end" >0.5</text>
<line x1="98.6" y1="470.6" x2="108.6" y2="470.6" stroke="#737373" stroke-width="1.8" />
<text x="86.1" y="478.4" font-size="22" text-anchor="end" >1.0</text>
<text x="401.3" y="659.5" font-size="23" >Count</text>
<rect x="402.7" y="670.5" width="10.8" height="67.8" fill="url(#cb1)"/>
<line x1="402.7" y1="689.5" x2="405.2" y2="689.5" stroke="#fff" stroke-width="1.2" />
<line x1="411" y1="689.5" x2="413.5" y2="689.5" stroke="#fff" stroke-width="1.2" />
<line x1="402.7" y1="714.5" x2="405.2" y2="714.5" stroke="#fff" stroke-width="1.2" />
<line x1="411" y1="714.5" x2="413.5" y2="714.5" stroke="#fff" stroke-width="1.2" />
<text x="424.6" y="696.6" font-size="23" >1,000</text>
<text x="424.6" y="721.3" font-size="23" >500</text>
<text x="312" y="821.4" font-size="23" text-anchor="middle" >Partial correlation</text>
<text x="18" y="601.6" font-size="23" text-anchor="middle" transform="rotate(-90 18 601.6)" >Correlation</text>
<polygon points="738.9,684.9 758.3,671.2 781.6,649.9 797.2,634.3 816.6,620.7 836,603.2 843.8,599.3 855.5,591.6 874.9,579.9 894.3,568.3 913.8,556.6 933.2,541 952.6,531.3 972.1,519.7 991.5,506.1 1010.9,494.4 1030.4,480.8 1030.4,484.7 1010.9,496.4 991.5,510 972.1,525.5 952.6,539.1 942.9,552.7 923.5,564.4 913.8,576 894.3,593.5 874.9,609.1 865.2,620.7 855.5,630.4 839.9,640.2 836,634.3 826.3,646 808.8,661.5 787.4,669.3 768,679 758.3,681.9 742.8,688.7" fill="#2a72b8"/>
<g clip-path="url(#hc2)"><ellipse cx="842" cy="616" rx="30" ry="6" transform="rotate(-35 842 616)" fill="#1a60aa" opacity="0.5" filter="url(#hc2b0)"/></g>
<path d="M974.5 521.9h0M850.1 637.9h0M921.2 545.5h0M1019.7 491.6h0M965.7 528.4h0M1027.5 483.9h0M845.4 596.4h0M759.6 666.9h0M763.4 680.3h0M773.7 659.9h0M855.8 629.8h0M854.2 629.9h0M744.6 688.7h0M1032.1 485.7h0M926.7 548.1h0M1030.5 485.7h0M877.9 604.9h0M748.4 679.9h0M921.5 565.4h0M839.2 601.7h0M854.7 590.7h0M828.8 641.7h0M984.2 516.2h0M840.1 636.5h0M787.2 671.1h0M746.3 680.4h0M837.7 601.6h0M1011.3 492.2h0M1024.4 484.8h0M965.7 532.5h0M852.9 591.8h0M860.2 623.6h0M871.4 580.8h0M1010.5 493.1h0M841.1 600.1h0M937.7 538.6h0M817.7 654.1h0M1013.2 492.8h0M786.1 672.8h0M785.8 644.5h0M923.3 567.4h0M945.5 552h0M864.9 585.2h0M1007 499.1h0M742.5 686.6h0" stroke="#2a72b8" stroke-width="3.4" stroke-linecap="round"/>
<line x1="842" y1="747" x2="842" y2="458.4" stroke="#000" stroke-width="3.6" stroke-dasharray="16 16"/>
<line x1="659" y1="616.3" x2="1065.4" y2="616.3" stroke="#000" stroke-width="3.6" stroke-dasharray="16 16"/>
<line x1="659" y1="745.4" x2="1065.4" y2="458.4" stroke="#000" stroke-width="4.2" />
<line x1="659" y1="458.4" x2="659" y2="745.4" stroke="#3f3f3f" stroke-width="1.5" />
<line x1="659" y1="745.4" x2="1065.4" y2="745.4" stroke="#3f3f3f" stroke-width="1.5" />
<line x1="739.3" y1="745.4" x2="739.3" y2="755.4" stroke="#737373" stroke-width="1.8" />
<text x="739.3" y="784.4" font-size="22" text-anchor="middle" >−0.5</text>
<line x1="842" y1="745.4" x2="842" y2="755.4" stroke="#737373" stroke-width="1.8" />
<text x="842" y="784.4" font-size="22" text-anchor="middle" >0</text>
<line x1="944.6" y1="745.4" x2="944.6" y2="755.4" stroke="#737373" stroke-width="1.8" />
<text x="944.6" y="784.4" font-size="22" text-anchor="middle" >0.5</text>
<line x1="1047.6" y1="745.4" x2="1047.6" y2="755.4" stroke="#737373" stroke-width="1.8" />
<text x="1047.6" y="784.4" font-size="22" text-anchor="middle" >1.0</text>
<line x1="649" y1="688.9" x2="659" y2="688.9" stroke="#737373" stroke-width="1.8" />
<text x="636.5" y="696.7" font-size="22" text-anchor="end" >−0.5</text>
<line x1="649" y1="616.3" x2="659" y2="616.3" stroke="#737373" stroke-width="1.8" />
<text x="636.5" y="624.1" font-size="22" text-anchor="end" >0</text>
<line x1="649" y1="543.4" x2="659" y2="543.4" stroke="#737373" stroke-width="1.8" />
<text x="636.5" y="551.2" font-size="22" text-anchor="end" >0.5</text>
<line x1="649" y1="470.6" x2="659" y2="470.6" stroke="#737373" stroke-width="1.8" />
<text x="636.5" y="478.4" font-size="22" text-anchor="end" >1.0</text>
<text x="948.5" y="655.6" font-size="23" >Count</text>
<rect x="947.8" y="670.5" width="11" height="67.8" fill="url(#cb2)"/>
<line x1="947.8" y1="677.5" x2="950.3" y2="677.5" stroke="#fff" stroke-width="1.2" />
<line x1="956.3" y1="677.5" x2="958.8" y2="677.5" stroke="#fff" stroke-width="1.2" />
<line x1="947.8" y1="704.5" x2="950.3" y2="704.5" stroke="#fff" stroke-width="1.2" />
<line x1="956.3" y1="704.5" x2="958.8" y2="704.5" stroke="#fff" stroke-width="1.2" />
<line x1="947.8" y1="731.5" x2="950.3" y2="731.5" stroke="#fff" stroke-width="1.2" />
<line x1="956.3" y1="731.5" x2="958.8" y2="731.5" stroke="#fff" stroke-width="1.2" />
<text x="969.6" y="677.6" font-size="23" >25,000</text>
<text x="969.6" y="704.5" font-size="23" >15,000</text>
<text x="969.6" y="731.5" font-size="23" >5,000</text>
<text x="861.8" y="821.4" font-size="23" text-anchor="middle" >Partial correlation</text>
<text x="568" y="601.6" font-size="23" text-anchor="middle" transform="rotate(-90 568 601.6)" >Correlation</text>
<text x="1105" y="462.8" font-size="30" font-weight="bold" >d</text>
<polyline points="1244,533.2 1261.2,537.9 1276.2,546.1 1285.8,557 1299.4,565.2 1315.8,572 1328.1,580.2 1336.3,591.1 1344.5,600.7 1351.3,606.2 1357.3,608.1 1359,629.4 1366.3,629.4 1366.3,650.7 1374.5,650.7 1374.5,671.2 1377.3,671.2 1377.3,693 1465.2,693 1465.2,733.7" fill="none" stroke="#377eb8" stroke-width="4" stroke-linejoin="miter"/>
<polyline points="1244,533.2 1261.2,538.7 1277.6,548 1288.5,558.4 1302.1,566.6 1315.8,574.2 1326.7,581.6 1332.2,593.9 1343.1,599.9 1351.3,606.2 1358.1,608.1 1358.1,621.2 1374.5,621.2 1374.5,634.8 1386.8,634.8 1386.8,640.3 1393.6,640.3 1393.6,645.2 1460.6,645.2 1460.6,655.3 1494.7,655.3 1494.7,668.4 1532.9,668.4" fill="none" stroke="#4daf4a" stroke-width="4" stroke-linejoin="miter"/>
<polyline points="1244,533.2 1261.2,537.9 1276.2,546.1 1285.8,557 1299.4,565.2 1315.8,572 1328.1,580.2 1336.3,591.1" fill="none" stroke="#111" stroke-width="2.4" opacity="0.85"/>
<polyline points="1244,533.2 1261.2,538.7 1277.6,548 1288.5,558.4 1302.1,566.6 1315.8,574.2 1326.7,581.6 1332.2,593.9 1343.1,599.9" fill="none" stroke="#111" stroke-width="2.4" opacity="0.85"/>
<path d="M1248.5 535.1h5m-2.5 -2.5v5M1258.8 537.9h5m-2.5 -2.5v5M1294.9 564h5m-2.5 -2.5v5M1255.6 537h5m-2.5 -2.5v5M1293.4 563.1h5m-2.5 -2.5v5M1301.6 567.2h5m-2.5 -2.5v5M1245.4 534.3h5m-2.5 -2.5v5M1328.7 584.3h5m-2.5 -2.5v5M1284.9 558h5m-2.5 -2.5v5M1295 564h5m-2.5 -2.5v5M1316.7 574.3h5m-2.5 -2.5v5M1336.5 594.3h5m-2.5 -2.5v5M1261.6 539.5h5m-2.5 -2.5v5M1263.9 540.7h5m-2.5 -2.5v5M1314.3 572.7h5m-2.5 -2.5v5M1338.1 596.2h5m-2.5 -2.5v5M1268.4 543.2h5m-2.5 -2.5v5M1294.2 563.5h5m-2.5 -2.5v5M1246.6 534.6h5m-2.5 -2.5v5M1242.6 533.5h5m-2.5 -2.5v5M1341.4 600h5m-2.5 -2.5v5M1327.7 583h5m-2.5 -2.5v5M1321.2 577.3h5m-2.5 -2.5v5M1248.4 535.1h5m-2.5 -2.5v5M1321.5 577.5h5m-2.5 -2.5v5M1323.6 578.9h5m-2.5 -2.5v5M1280.4 553.7h5m-2.5 -2.5v5M1331.3 587.9h5m-2.5 -2.5v5M1348.5 605.9h5m-2.5 -2.5v5M1272 545.2h5m-2.5 -2.5v5M1246.2 534.5h5m-2.5 -2.5v5M1276 548.7h5m-2.5 -2.5v5M1319 575.8h5m-2.5 -2.5v5M1339 597.2h5m-2.5 -2.5v5M1342.8 601.3h5m-2.5 -2.5v5M1331.6 588.2h5m-2.5 -2.5v5M1311.7 571.4h5m-2.5 -2.5v5M1267.6 542.8h5m-2.5 -2.5v5M1278.6 551.7h5m-2.5 -2.5v5M1267.4 542.6h5m-2.5 -2.5v5M1307.3 569.5h5m-2.5 -2.5v5M1253.8 536.6h5m-2.5 -2.5v5M1330.3 586.5h5m-2.5 -2.5v5M1315.5 573.5h5m-2.5 -2.5v5M1330.2 586.4h5m-2.5 -2.5v5M1322.6 578.2h5m-2.5 -2.5v5M1317.7 575h5m-2.5 -2.5v5M1278.3 551.4h5m-2.5 -2.5v5M1339.6 597.9h5m-2.5 -2.5v5M1327.8 583.1h5m-2.5 -2.5v5M1257.2 537.5h5m-2.5 -2.5v5M1270.1 544.1h5m-2.5 -2.5v5M1254 536.6h5m-2.5 -2.5v5M1319 575.8h5m-2.5 -2.5v5M1292.6 562.6h5m-2.5 -2.5v5M1270.5 544.3h5m-2.5 -2.5v5M1322.2 578h5m-2.5 -2.5v5M1255.8 537.1h5m-2.5 -2.5v5M1347.5 605.1h5m-2.5 -2.5v5M1344.1 602.4h5m-2.5 -2.5v5M1366.9 650.7h5m-2.5 -2.5v5M1428.5 693h5m-2.5 -2.5v5M1421.3 693h5m-2.5 -2.5v5" stroke="#000" stroke-width="1.1"/>
<path d="M1277.5 550.3h5m-2.5 -2.5v5M1280.6 553.2h5m-2.5 -2.5v5M1344.2 602.6h5m-2.5 -2.5v5M1251.7 536.5h5m-2.5 -2.5v5M1338.1 598.5h5m-2.5 -2.5v5M1297.4 565.2h5m-2.5 -2.5v5M1304.2 569.1h5m-2.5 -2.5v5M1299.1 566.3h5m-2.5 -2.5v5M1327.4 588.7h5m-2.5 -2.5v5M1265.1 542.3h5m-2.5 -2.5v5M1269.9 545h5m-2.5 -2.5v5M1255.5 537.7h5m-2.5 -2.5v5M1292.7 562.4h5m-2.5 -2.5v5M1246.6 534.9h5m-2.5 -2.5v5M1345.5 603.6h5m-2.5 -2.5v5M1291.5 561.7h5m-2.5 -2.5v5M1282.1 554.7h5m-2.5 -2.5v5M1341.3 600.4h5m-2.5 -2.5v5M1333.1 595.8h5m-2.5 -2.5v5M1268.3 544.2h5m-2.5 -2.5v5M1251.2 536.3h5m-2.5 -2.5v5M1323.3 580.9h5m-2.5 -2.5v5M1282.9 555.4h5m-2.5 -2.5v5M1329.6 593.8h5m-2.5 -2.5v5M1284.8 557.3h5m-2.5 -2.5v5M1277.3 550.1h5m-2.5 -2.5v5M1293.8 563.1h5m-2.5 -2.5v5M1246.9 535h5m-2.5 -2.5v5M1263.2 541.3h5m-2.5 -2.5v5M1260.3 539.6h5m-2.5 -2.5v5M1322.1 580.1h5m-2.5 -2.5v5M1277.3 550.1h5m-2.5 -2.5v5M1329 592.3h5m-2.5 -2.5v5M1343.4 602h5m-2.5 -2.5v5M1297.8 565.4h5m-2.5 -2.5v5M1264.6 542.1h5m-2.5 -2.5v5M1243.3 533.8h5m-2.5 -2.5v5M1344.8 603.1h5m-2.5 -2.5v5M1256.7 538.1h5m-2.5 -2.5v5M1325.2 583.7h5m-2.5 -2.5v5M1244 534h5m-2.5 -2.5v5M1339.8 599.4h5m-2.5 -2.5v5M1305.3 569.7h5m-2.5 -2.5v5M1316.6 576.4h5m-2.5 -2.5v5M1312 573.4h5m-2.5 -2.5v5M1270.2 545.2h5m-2.5 -2.5v5M1256.5 538h5m-2.5 -2.5v5M1330.4 594.3h5m-2.5 -2.5v5M1304.7 569.4h5m-2.5 -2.5v5M1306.4 570.3h5m-2.5 -2.5v5M1255.7 537.8h5m-2.5 -2.5v5M1343.2 601.8h5m-2.5 -2.5v5M1320.8 579.3h5m-2.5 -2.5v5M1289.7 560.6h5m-2.5 -2.5v5M1247.5 535.2h5m-2.5 -2.5v5M1295 563.8h5m-2.5 -2.5v5M1346.5 604.4h5m-2.5 -2.5v5M1326 585.7h5m-2.5 -2.5v5M1244.3 534.1h5m-2.5 -2.5v5M1325.3 584.1h5m-2.5 -2.5v5M1507.8 668.4h5m-2.5 -2.5v5M1400.5 645.2h5m-2.5 -2.5v5M1502.8 668.4h5m-2.5 -2.5v5M1525.4 668.4h5m-2.5 -2.5v5M1428.7 645.2h5m-2.5 -2.5v5M1373.7 634.8h5m-2.5 -2.5v5M1420.5 645.2h5m-2.5 -2.5v5M1513.9 668.4h5m-2.5 -2.5v5M1436.8 645.2h5m-2.5 -2.5v5M1407.9 645.2h5m-2.5 -2.5v5M1433 645.2h5m-2.5 -2.5v5M1501.2 668.4h5m-2.5 -2.5v5M1461.9 655.3h5m-2.5 -2.5v5M1375.8 634.8h5m-2.5 -2.5v5" stroke="#000" stroke-width="1.1"/>
<line x1="1229.5" y1="523.4" x2="1229.5" y2="744.1" stroke="#3f3f3f" stroke-width="1.5" />
<line x1="1229.5" y1="744.1" x2="1546.6" y2="744.1" stroke="#3f3f3f" stroke-width="1.5" />
<line x1="1244" y1="744.1" x2="1244" y2="754.1" stroke="#737373" stroke-width="1.8" />
<text x="1244" y="783.1" font-size="22" text-anchor="middle" >0</text>
<line x1="1327.8" y1="744.1" x2="1327.8" y2="754.1" stroke="#737373" stroke-width="1.8" />
<text x="1327.8" y="783.1" font-size="22" text-anchor="middle" >2,500</text>
<line x1="1411.7" y1="744.1" x2="1411.7" y2="754.1" stroke="#737373" stroke-width="1.8" />
<text x="1411.7" y="783.1" font-size="22" text-anchor="middle" >5,000</text>
<line x1="1495.2" y1="744.1" x2="1495.2" y2="754.1" stroke="#737373" stroke-width="1.8" />
<text x="1495.2" y="783.1" font-size="22" text-anchor="middle" >7,500</text>
<line x1="1219.5" y1="733.7" x2="1229.5" y2="733.7" stroke="#737373" stroke-width="1.8" />
<text x="1207" y="741.5" font-size="22" text-anchor="end" >0%</text>
<line x1="1219.5" y1="683.7" x2="1229.5" y2="683.7" stroke="#737373" stroke-width="1.8" />
<text x="1207" y="691.5" font-size="22" text-anchor="end" >25%</text>
<line x1="1219.5" y1="633.5" x2="1229.5" y2="633.5" stroke="#737373" stroke-width="1.8" />
<text x="1207" y="641.3" font-size="22" text-anchor="end" >50%</text>
<line x1="1219.5" y1="583.5" x2="1229.5" y2="583.5" stroke="#737373" stroke-width="1.8" />
<text x="1207" y="591.3" font-size="22" text-anchor="end" >75%</text>
<line x1="1219.5" y1="533.2" x2="1229.5" y2="533.2" stroke="#737373" stroke-width="1.8" />
<text x="1207" y="541" font-size="22" text-anchor="end" >100%</text>
<text x="1229.8" y="474.2" font-size="23" >ZEB2</text>
<text x="1229.8" y="508.7" font-size="23" ><tspan font-style="italic">P</tspan> value (log rank) = 0.86</text>
<text x="1126" y="634.9" font-size="22" text-anchor="middle" transform="rotate(-90 1126 634.9)" >Survival</text>
<text x="1388" y="819" font-size="23" text-anchor="middle" >Time (days)</text>
<polyline points="1714.2,533.3 1722.9,537.7 1734.6,544.9 1746.2,555.1 1757.9,566.8 1766.6,575.5 1775.3,588.6 1787,598.8 1795.7,610.4 1804.4,617.7 1808.8,630.8 1813.1,646.8 1830.6,646.8 1830.6,662.8 1839.3,662.8 1839.3,674.4 1843.7,674.4 1843.7,687.5 1847.5,687.5 1847.5,702.6 2003.7,702.6" fill="none" stroke="#377eb8" stroke-width="4" stroke-linejoin="miter"/>
<polyline points="1714.2,533.3 1731.7,538.2 1743.3,544.9 1754.9,557.4 1769.5,566.8 1781.1,575.5 1792.8,581.3 1801.5,595.9 1813.1,598.2 1821.9,604.6 1829.1,611.9 1832.1,636.6 1839.3,636.6 1839.3,641.8 1847.5,641.8 1847.5,658.4 1856.8,658.4 1859.7,665.1 1864.1,665.1 1864.1,673.8 1931,673.8 1931,690.4 1935.3,690.4 1935.3,707 1964.4,707 1964.4,734.9 1983.4,734.9" fill="none" stroke="#4daf4a" stroke-width="4" stroke-linejoin="miter"/>
<polyline points="1714.2,533.3 1722.9,537.7 1734.6,544.9 1746.2,555.1 1757.9,566.8 1766.6,575.5 1775.3,588.6 1787,598.8 1795.7,610.4 1804.4,617.7 1808.8,630.8 1813.1,646.8" fill="none" stroke="#111" stroke-width="2.4" opacity="0.85"/>
<polyline points="1714.2,533.3 1731.7,538.2 1743.3,544.9 1754.9,557.4 1769.5,566.8 1781.1,575.5 1792.8,581.3 1801.5,595.9 1813.1,598.2 1821.9,604.6 1829.1,611.9" fill="none" stroke="#111" stroke-width="2.4" opacity="0.85"/>
<path d="M1751.3 562.7h5m-2.5 -2.5v5M1747.7 559.1h5m-2.5 -2.5v5M1797.9 614.4h5m-2.5 -2.5v5M1770.9 585.7h5m-2.5 -2.5v5M1721.9 538.6h5m-2.5 -2.5v5M1714.3 534.6h5m-2.5 -2.5v5M1756.4 567.8h5m-2.5 -2.5v5M1776.7 592h5m-2.5 -2.5v5M1777.6 592.8h5m-2.5 -2.5v5M1758.7 570.1h5m-2.5 -2.5v5M1761.6 573h5m-2.5 -2.5v5M1749.6 561h5m-2.5 -2.5v5M1733 545.7h5m-2.5 -2.5v5M1752.5 563.9h5m-2.5 -2.5v5M1786.6 601.7h5m-2.5 -2.5v5M1748.7 560.1h5m-2.5 -2.5v5M1813.6 646.8h5m-2.5 -2.5v5M1775.8 591.2h5m-2.5 -2.5v5M1733.4 546.1h5m-2.5 -2.5v5M1766.6 579.3h5m-2.5 -2.5v5M1735.1 547.6h5m-2.5 -2.5v5M1729.6 543.4h5m-2.5 -2.5v5M1726.7 541.5h5m-2.5 -2.5v5M1734.4 547h5m-2.5 -2.5v5M1736.5 548.8h5m-2.5 -2.5v5M1823.4 646.8h5m-2.5 -2.5v5M1718.6 536.7h5m-2.5 -2.5v5M1765.7 577.9h5m-2.5 -2.5v5M1785.9 600.7h5m-2.5 -2.5v5M1721.6 538.4h5m-2.5 -2.5v5M1752.3 563.7h5m-2.5 -2.5v5M1760.8 572.2h5m-2.5 -2.5v5M1767.6 580.7h5m-2.5 -2.5v5M1788.7 604.4h5m-2.5 -2.5v5M1770.8 585.6h5m-2.5 -2.5v5M1771.8 587h5m-2.5 -2.5v5M1747.3 558.7h5m-2.5 -2.5v5M1719.2 537h5m-2.5 -2.5v5M1787 602.2h5m-2.5 -2.5v5M1772.1 587.5h5m-2.5 -2.5v5M1771.1 585.9h5m-2.5 -2.5v5M1778.1 593.2h5m-2.5 -2.5v5M1818 646.8h5m-2.5 -2.5v5M1796.8 613.4h5m-2.5 -2.5v5M1769 582.8h5m-2.5 -2.5v5M1738.6 550.6h5m-2.5 -2.5v5M1733.8 546.4h5m-2.5 -2.5v5M1778 593.1h5m-2.5 -2.5v5M1799.7 615.8h5m-2.5 -2.5v5M1788.2 603.8h5m-2.5 -2.5v5M1797.4 613.9h5m-2.5 -2.5v5M1722.5 538.9h5m-2.5 -2.5v5M1723.2 539.4h5m-2.5 -2.5v5M1776.3 591.7h5m-2.5 -2.5v5M1798.6 614.9h5m-2.5 -2.5v5M1737.9 550h5m-2.5 -2.5v5M1826.3 646.8h5m-2.5 -2.5v5M1767.3 580.3h5m-2.5 -2.5v5M1720 537.5h5m-2.5 -2.5v5M1780.7 595.5h5m-2.5 -2.5v5M1827.9 646.8h5m-2.5 -2.5v5M1825.8 646.8h5m-2.5 -2.5v5M1824.1 646.8h5m-2.5 -2.5v5M1764.9 576.7h5m-2.5 -2.5v5M1805.8 629.4h5m-2.5 -2.5v5M1753.4 564.8h5m-2.5 -2.5v5M1805.5 628.4h5m-2.5 -2.5v5M1771.6 586.7h5m-2.5 -2.5v5M1758.4 569.8h5m-2.5 -2.5v5M1717.7 536.3h5m-2.5 -2.5v5M1895.7 702.6h5m-2.5 -2.5v5M1943.9 702.6h5m-2.5 -2.5v5M1860.1 702.6h5m-2.5 -2.5v5M1905.8 702.6h5m-2.5 -2.5v5M1870.9 702.6h5m-2.5 -2.5v5M1856.7 702.6h5m-2.5 -2.5v5" stroke="#000" stroke-width="1.1"/>
<path d="M1757.3 560.5h5m-2.5 -2.5v5M1736.1 542.2h5m-2.5 -2.5v5M1790.5 581.7h5m-2.5 -2.5v5M1796.5 591.7h5m-2.5 -2.5v5M1756.2 559.8h5m-2.5 -2.5v5M1725.3 537.1h5m-2.5 -2.5v5M1752.5 557.5h5m-2.5 -2.5v5M1731.6 539.6h5m-2.5 -2.5v5M1793.9 587.3h5m-2.5 -2.5v5M1823.6 608.8h5m-2.5 -2.5v5M1720.7 535.8h5m-2.5 -2.5v5M1770.8 569.6h5m-2.5 -2.5v5M1776.4 573.8h5m-2.5 -2.5v5M1718.1 535.1h5m-2.5 -2.5v5M1842.9 641.8h5m-2.5 -2.5v5M1729.6 538.5h5m-2.5 -2.5v5M1729.7 538.5h5m-2.5 -2.5v5M1721.8 536.2h5m-2.5 -2.5v5M1761.8 563.4h5m-2.5 -2.5v5M1796.4 591.4h5m-2.5 -2.5v5M1781.6 577h5m-2.5 -2.5v5M1768.1 567.6h5m-2.5 -2.5v5M1745.7 550.2h5m-2.5 -2.5v5M1818.9 604.2h5m-2.5 -2.5v5M1746.1 550.7h5m-2.5 -2.5v5M1771.2 569.9h5m-2.5 -2.5v5M1797.3 593h5m-2.5 -2.5v5M1715.2 534.3h5m-2.5 -2.5v5M1734.7 541.4h5m-2.5 -2.5v5M1772.8 571.1h5m-2.5 -2.5v5M1748.6 553.3h5m-2.5 -2.5v5M1739.4 544.1h5m-2.5 -2.5v5M1839.9 641.8h5m-2.5 -2.5v5M1713.8 533.9h5m-2.5 -2.5v5M1752.7 557.6h5m-2.5 -2.5v5M1736.8 542.6h5m-2.5 -2.5v5M1742.4 546.6h5m-2.5 -2.5v5M1834.7 636.6h5m-2.5 -2.5v5M1759.8 562.2h5m-2.5 -2.5v5M1790 581.2h5m-2.5 -2.5v5M1793.2 586.2h5m-2.5 -2.5v5M1830.9 636.6h5m-2.5 -2.5v5M1833.1 636.6h5m-2.5 -2.5v5M1757.6 560.7h5m-2.5 -2.5v5M1796.1 591h5m-2.5 -2.5v5M1727.3 537.7h5m-2.5 -2.5v5M1796.2 591.2h5m-2.5 -2.5v5M1745.3 549.7h5m-2.5 -2.5v5M1713.4 533.8h5m-2.5 -2.5v5M1810.7 598.2h5m-2.5 -2.5v5M1844.3 641.8h5m-2.5 -2.5v5M1799.5 596h5m-2.5 -2.5v5M1812.4 599.5h5m-2.5 -2.5v5M1834.3 636.6h5m-2.5 -2.5v5M1758.1 561.1h5m-2.5 -2.5v5M1824 609.2h5m-2.5 -2.5v5M1776.8 574.1h5m-2.5 -2.5v5M1779.9 576.1h5m-2.5 -2.5v5M1722.9 536.5h5m-2.5 -2.5v5M1749.4 554.2h5m-2.5 -2.5v5M1764.8 565.3h5m-2.5 -2.5v5M1784.7 578.5h5m-2.5 -2.5v5M1743.8 548.2h5m-2.5 -2.5v5M1841.2 641.8h5m-2.5 -2.5v5M1823 608.2h5m-2.5 -2.5v5M1733.3 540.6h5m-2.5 -2.5v5M1728.5 538h5m-2.5 -2.5v5M1719.4 535.5h5m-2.5 -2.5v5M1740.3 544.6h5m-2.5 -2.5v5M1811.2 598.6h5m-2.5 -2.5v5M1886.3 673.8h5m-2.5 -2.5v5M1930.8 690.4h5m-2.5 -2.5v5M1926.8 673.8h5m-2.5 -2.5v5M1976 734.9h5m-2.5 -2.5v5M1910.7 673.8h5m-2.5 -2.5v5M1883 673.8h5m-2.5 -2.5v5M1921.1 673.8h5m-2.5 -2.5v5M1903.7 673.8h5m-2.5 -2.5v5M1871.6 673.8h5m-2.5 -2.5v5M1966.1 734.9h5m-2.5 -2.5v5" stroke="#000" stroke-width="1.1"/>
<line x1="1700.2" y1="523.7" x2="1700.2" y2="744.2" stroke="#3f3f3f" stroke-width="1.5" />
<line x1="1700.2" y1="744.2" x2="2017.4" y2="744.2" stroke="#3f3f3f" stroke-width="1.5" />
<line x1="1714.2" y1="744.2" x2="1714.2" y2="754.2" stroke="#737373" stroke-width="1.8" />
<text x="1714.2" y="783.2" font-size="22" text-anchor="middle" >0</text>
<line x1="1798.6" y1="744.2" x2="1798.6" y2="754.2" stroke="#737373" stroke-width="1.8" />
<text x="1798.6" y="783.2" font-size="22" text-anchor="middle" >2,500</text>
<line x1="1882.4" y1="744.2" x2="1882.4" y2="754.2" stroke="#737373" stroke-width="1.8" />
<text x="1882.4" y="783.2" font-size="22" text-anchor="middle" >5,000</text>
<line x1="1965.9" y1="744.2" x2="1965.9" y2="754.2" stroke="#737373" stroke-width="1.8" />
<text x="1965.9" y="783.2" font-size="22" text-anchor="middle" >7,500</text>
<line x1="1690.2" y1="738.4" x2="1700.2" y2="738.4" stroke="#737373" stroke-width="1.8" />
<text x="1677.7" y="746.2" font-size="22" text-anchor="end" >20%</text>
<line x1="1690.2" y1="687.2" x2="1700.2" y2="687.2" stroke="#737373" stroke-width="1.8" />
<text x="1677.7" y="695" font-size="22" text-anchor="end" >40%</text>
<line x1="1690.2" y1="636" x2="1700.2" y2="636" stroke="#737373" stroke-width="1.8" />
<text x="1677.7" y="643.8" font-size="22" text-anchor="end" >60%</text>
<line x1="1690.2" y1="584.8" x2="1700.2" y2="584.8" stroke="#737373" stroke-width="1.8" />
<text x="1677.7" y="592.6" font-size="22" text-anchor="end" >80%</text>
<line x1="1690.2" y1="533.3" x2="1700.2" y2="533.3" stroke="#737373" stroke-width="1.8" />
<text x="1677.7" y="541.1" font-size="22" text-anchor="end" >100%</text>
<text x="1700.2" y="474.2" font-size="23" >ZEB2</text>
<text x="1700.2" y="508" font-size="23" ><tspan font-style="italic">P</tspan> value (log rank) = 0.01</text>
<text x="1839.9" y="540.6" font-size="22" >Strata</text>
<line x1="1862.6" y1="572.6" x2="1913.5" y2="572.6" stroke="#377eb8" stroke-width="7.6" stroke-linecap="round"/>
<line x1="1862.6" y1="605.2" x2="1913.5" y2="605.2" stroke="#4daf4a" stroke-width="7.6" stroke-linecap="round"/>
<text x="1927.2" y="579.5" font-size="23" >High <tspan font-style="italic">ZEB2</tspan> (542)</text>
<text x="1927.2" y="612.7" font-size="23" >Low <tspan font-style="italic">ZEB2</tspan> (542)</text>
<text x="1597" y="633.7" font-size="22" text-anchor="middle" transform="rotate(-90 1597 633.7)" >Survival</text>
<text x="1858.2" y="819.9" font-size="23" text-anchor="middle" >Time (days)</text>
<text x="2" y="888.7" font-size="30" font-weight="bold" >e</text>
<path d="M146 1114h0M166 1083h0M126 1118h0M171 1098h0M173 1131h0M153 1085h0M180 1040h0M197 1150h0M153 1045h0M167 1077h0M193 1084h0M177 1063h0M172 1081h0M195 1066h0M135 1049h0M171 1069h0M181 1059h0M123 1104h0M146 1091h0M168 1103h0M104 1108h0M170 1098h0M131 1059h0M149 1091h0M180 1049h0M170 1037h0M197 1033h0M160 1099h0M167 1027h0M196 1119h0M182 1028h0M196 1138h0M161 1106h0M180 1073h0M134 1112h0M135 1153h0M184 1113h0M163 1071h0M176 1123h0M172 1056h0M167 1043h0M143 1048h0M179 1064h0M180 1072h0M149 1096h0M142 1007h0M188 1032h0M149 1066h0M192 1056h0M143 1055h0M168 1132h0M143 1062h0M157 1098h0M123 1164h0M167 1044h0M144 1109h0M148 1072h0M120 1119h0M172 1086h0M128 1047h0M162 1069h0M167 1065h0M142 1134h0M159 1054h0M149 1104h0M131 1079h0M148 1115h0M158 1070h0M179 1055h0M162 1122h0M178 1062h0M171 1101h0M195 1028h0M160 1069h0M125 1094h0M166 988h0M173 1049h0M196 1075h0M174 1048h0M130 1085h0M162 1039h0M188 1097h0" stroke="#474747" stroke-width="11" stroke-linecap="round"/>
<path d="M146 1114h0M166 1083h0M126 1118h0M171 1098h0M173 1131h0M153 1085h0M180 1040h0M197 1150h0M153 1045h0M167 1077h0M193 1084h0M177 1063h0M172 1081h0M195 1066h0M135 1049h0M171 1069h0M181 1059h0M123 1104h0M146 1091h0M168 1103h0M104 1108h0M170 1098h0M131 1059h0M149 1091h0M180 1049h0M170 1037h0M197 1033h0M160 1099h0M167 1027h0M196 1119h0M182 1028h0M196 1138h0M161 1106h0M180 1073h0M134 1112h0M135 1153h0M184 1113h0M163 1071h0M176 1123h0M172 1056h0M167 1043h0M143 1048h0M179 1064h0M180 1072h0M149 1096h0M142 1007h0M188 1032h0M149 1066h0M192 1056h0M143 1055h0M168 1132h0M143 1062h0M157 1098h0M123 1164h0M167 1044h0M144 1109h0M148 1072h0M120 1119h0M172 1086h0M128 1047h0M162 1069h0M167 1065h0M142 1134h0M159 1054h0M149 1104h0M131 1079h0M148 1115h0M158 1070h0M179 1055h0M162 1122h0M178 1062h0M171 1101h0M195 1028h0M160 1069h0M125 1094h0M166 988h0M173 1049h0M196 1075h0M174 1048h0M130 1085h0M162 1039h0M188 1097h0" stroke="#1b6332" stroke-width="9.2" stroke-linecap="round"/>
<path d="M147 1028h0M145 1101h0M163 1089h0M176 1094h0M188 1076h0M141 1032h0M105 1099h0M145 1117h0M155 1086h0M192 1058h0M167 1048h0M185 1078h0M106 1098h0M145 1000h0M188 1071h0M183 1066h0M167 1112h0M114 1072h0M152 1097h0M145 1032h0M169 1040h0M154 1058h0M165 1092h0M127 1104h0M136 1101h0M178 1069h0M189 1077h0M139 1104h0M177 1069h0M120 1098h0M196 1074h0M147 1058h0M158 1050h0M177 1088h0M168 1013h0M153 1071h0M176 1036h0M133 1036h0M171 1116h0M150 1069h0M175 1046h0M138 1054h0M152 1060h0M155 1052h0M186 1112h0M157 1109h0M182 1053h0M175 1133h0M198 1079h0M126 1100h0M168 1065h0M140 1062h0M186 1061h0M176 1097h0M169 1103h0M156 1069h0M144 1069h0M126 1084h0M194 1060h0M164 1074h0M170 1116h0M178 1072h0M190 1044h0M195 1097h0M165 1065h0M186 1047h0M127 1025h0M159 1082h0M151 1091h0M153 1118h0M116 1131h0M172 1122h0M171 1127h0M171 1054h0M163 1078h0M164 1069h0M153 1129h0M155 1141h0M158 1132h0M165 1030h0M121 1063h0M171 1114h0M168 1073h0" stroke="#474747" stroke-width="11" stroke-linecap="round"/>
<path d="M147 1028h0M145 1101h0M163 1089h0M176 1094h0M188 1076h0M141 1032h0M105 1099h0M145 1117h0M155 1086h0M192 1058h0M167 1048h0M185 1078h0M106 1098h0M145 1000h0M188 1071h0M183 1066h0M167 1112h0M114 1072h0M152 1097h0M145 1032h0M169 1040h0M154 1058h0M165 1092h0M127 1104h0M136 1101h0M178 1069h0M189 1077h0M139 1104h0M177 1069h0M120 1098h0M196 1074h0M147 1058h0M158 1050h0M177 1088h0M168 1013h0M153 1071h0M176 1036h0M133 1036h0M171 1116h0M150 1069h0M175 1046h0M138 1054h0M152 1060h0M155 1052h0M186 1112h0M157 1109h0M182 1053h0M175 1133h0M198 1079h0M126 1100h0M168 1065h0M140 1062h0M186 1061h0M176 1097h0M169 1103h0M156 1069h0M144 1069h0M126 1084h0M194 1060h0M164 1074h0M170 1116h0M178 1072h0M190 1044h0M195 1097h0M165 1065h0M186 1047h0M127 1025h0M159 1082h0M151 1091h0M153 1118h0M116 1131h0M172 1122h0M171 1127h0M171 1054h0M163 1078h0M164 1069h0M153 1129h0M155 1141h0M158 1132h0M165 1030h0M121 1063h0M171 1114h0M168 1073h0" stroke="#1b6332" stroke-width="9.2" stroke-linecap="round"/>
<path d="M180 1065h0M141 1117h0M145 1105h0M190 1038h0M151 1062h0M259 1054h0M245 1077h0M240 1066h0M249 1051h0M234 1061h0M278 987h0M243 1012h0M250 1025h0M235 1048h0M222 1041h0M236 1066h0M230 1026h0M218 1064h0M257 1037h0M237 1024h0M244 1051h0M235 1068h0M220 1015h0M203 1091h0M252 1058h0M251 1056h0M219 1059h0M240 1035h0M217 1122h0M271 1030h0M240 996h0M248 998h0M278 992h0M225 1040h0M248 1023h0M244 1044h0M231 1078h0M238 1023h0M268 992h0M222 1032h0M223 1040h0M279 992h0M262 1014h0M250 999h0M257 1035h0M240 1077h0M231 1023h0M235 1012h0M246 1049h0M227 1031h0M200 1031h0M234 1103h0M245 968h0M235 1014h0M254 1030h0M245 1059h0M261 1062h0M241 947h0M234 1042h0M252 1009h0M259 1040h0M228 1045h0M218 1025h0M270 1042h0M226 1040h0M247 1034h0M227 1025h0M244 1008h0M271 1022h0M278 979h0M207 1058h0M204 1057h0M208 1044h0M252 1033h0M275 996h0M245 1102h0M232 1080h0M258 1079h0M216 1007h0M254 1005h0M270 1036h0M268 1010h0" stroke="#474747" stroke-width="11" stroke-linecap="round"/>
<path d="M180 1065h0M141 1117h0M145 1105h0M190 1038h0M151 1062h0" stroke="#1b6332" stroke-width="9.2" stroke-linecap="round"/>
<path d="M259 1054h0M245 1077h0M240 1066h0M249 1051h0M234 1061h0M278 987h0M243 1012h0M250 1025h0M235 1048h0M222 1041h0M236 1066h0M230 1026h0M218 1064h0M257 1037h0M237 1024h0M244 1051h0M235 1068h0M220 1015h0M203 1091h0M252 1058h0M251 1056h0M219 1059h0M240 1035h0M217 1122h0M271 1030h0M240 996h0M248 998h0M278 992h0M225 1040h0M248 1023h0M244 1044h0M231 1078h0M238 1023h0M268 992h0M222 1032h0M223 1040h0M279 992h0M262 1014h0M250 999h0M257 1035h0M240 1077h0M231 1023h0M235 1012h0M246 1049h0M227 1031h0M200 1031h0M234 1103h0M245 968h0M235 1014h0M254 1030h0M245 1059h0M261 1062h0M241 947h0M234 1042h0M252 1009h0M259 1040h0M228 1045h0M218 1025h0M270 1042h0M226 1040h0M247 1034h0M227 1025h0M244 1008h0M271 1022h0M278 979h0M207 1058h0M204 1057h0M208 1044h0M252 1033h0M275 996h0M245 1102h0M232 1080h0M258 1079h0M216 1007h0M254 1005h0M270 1036h0M268 1010h0" stroke="#292a74" stroke-width="9.2" stroke-linecap="round"/>
<path d="M255 1070h0M226 1046h0M231 998h0M217 1026h0M261 968h0M268 1032h0M237 1004h0M237 1030h0M244 1022h0M223 1033h0M251 1007h0M250 993h0M249 1026h0M240 1022h0M244 1032h0M234 1027h0M205 1068h0M198 1025h0M197 1033h0M226 1029h0M234 1035h0M231 1052h0M218 1065h0M276 1043h0M214 1063h0M249 1004h0M224 1028h0M268 1055h0M258 1048h0M240 997h0M202 1006h0M256 1002h0M261 968h0M253 1043h0M231 1024h0M253 1041h0M220 984h0M244 1018h0M247 1017h0M232 1025h0M214 1059h0M232 1035h0M217 1099h0M209 1055h0M263 1046h0M234 1013h0M225 1003h0M225 1030h0M248 1053h0M230 1063h0M221 1020h0M244 1035h0M241 1036h0M216 1068h0M212 1036h0M268 1012h0M231 1014h0M266 1042h0M252 1026h0M236 1068h0M232 1028h0M276 1014h0M222 1047h0M228 1012h0M218 1072h0M234 993h0M215 1030h0M240 1015h0M208 1037h0M250 1043h0M246 1041h0M243 1004h0M223 1038h0M268 1009h0M209 1052h0M234 1011h0M219 1022h0M253 1057h0M232 983h0M241 1003h0M253 1003h0M205 1037h0M255 1024h0" stroke="#474747" stroke-width="11" stroke-linecap="round"/>
<path d="M255 1070h0M226 1046h0M231 998h0M217 1026h0M261 968h0M268 1032h0M237 1004h0M237 1030h0M244 1022h0M223 1033h0M251 1007h0M250 993h0M249 1026h0M240 1022h0M244 1032h0M234 1027h0M205 1068h0M198 1025h0M197 1033h0M226 1029h0M234 1035h0M231 1052h0M218 1065h0M276 1043h0M214 1063h0M249 1004h0M224 1028h0M268 1055h0M258 1048h0M240 997h0M202 1006h0M256 1002h0M261 968h0M253 1043h0M231 1024h0M253 1041h0M220 984h0M244 1018h0M247 1017h0M232 1025h0M214 1059h0M232 1035h0M217 1099h0M209 1055h0M263 1046h0M234 1013h0M225 1003h0M225 1030h0M248 1053h0M230 1063h0M221 1020h0M244 1035h0M241 1036h0M216 1068h0M212 1036h0M268 1012h0M231 1014h0M266 1042h0M252 1026h0M236 1068h0M232 1028h0M276 1014h0M222 1047h0M228 1012h0M218 1072h0M234 993h0M215 1030h0M240 1015h0M208 1037h0M250 1043h0M246 1041h0M243 1004h0M223 1038h0M268 1009h0M209 1052h0M234 1011h0M219 1022h0M253 1057h0M232 983h0M241 1003h0M253 1003h0M205 1037h0M255 1024h0" stroke="#292a74" stroke-width="9.2" stroke-linecap="round"/>
<path d="M213 1020h0M208 978h0M228 1037h0M272 1043h0M222 1038h0M248 1024h0M215 1016h0M252 1055h0M245 1038h0M265 1027h0M242 1004h0M238 1003h0M207 1039h0M245 1000h0M256 1020h0M242 1026h0M242 1087h0M251 1048h0M258 1050h0M216 1029h0M236 1030h0M248 1054h0M243 1028h0M215 1045h0M250 1016h0M245 1042h0M254 1042h0M277 983h0M247 1034h0M217 1015h0M248 1049h0M235 1039h0M221 1047h0M203 1071h0M243 1011h0M221 1073h0M227 1030h0M239 1085h0M238 1014h0M243 1028h0M267 990h0M236 982h0M270 1035h0M219 1040h0M220 1072h0M225 1049h0M228 1035h0M277 1014h0M243 1010h0M254 1012h0M278 989h0M248 1044h0M276 1011h0M226 1063h0M267 1023h0M244 1098h0M224 1041h0M263 1020h0M238 1044h0M220 1050h0M202 1091h0M280 1030h0M218 1056h0M239 1026h0M275 1004h0M253 1037h0M222 1043h0M231 1026h0M223 1061h0M243 1004h0M235 982h0M206 1037h0M202 1060h0M264 1015h0M207 1017h0M210 1013h0M232 1068h0M217 1033h0M205 1065h0M214 1054h0M255 1018h0M219 1027h0" stroke="#474747" stroke-width="11" stroke-linecap="round"/>
<path d="M213 1020h0M208 978h0M228 1037h0M272 1043h0M222 1038h0M248 1024h0M215 1016h0M252 1055h0M245 1038h0M265 1027h0M242 1004h0M238 1003h0M207 1039h0M245 1000h0M256 1020h0M242 1026h0M242 1087h0M251 1048h0M258 1050h0M216 1029h0M236 1030h0M248 1054h0M243 1028h0M215 1045h0M250 1016h0M245 1042h0M254 1042h0M277 983h0M247 1034h0M217 1015h0M248 1049h0M235 1039h0M221 1047h0M203 1071h0M243 1011h0M221 1073h0M227 1030h0M239 1085h0M238 1014h0M243 1028h0M267 990h0M236 982h0M270 1035h0M219 1040h0M220 1072h0M225 1049h0M228 1035h0M277 1014h0M243 1010h0M254 1012h0M278 989h0M248 1044h0M276 1011h0M226 1063h0M267 1023h0M244 1098h0M224 1041h0M263 1020h0M238 1044h0M220 1050h0M202 1091h0M280 1030h0M218 1056h0M239 1026h0M275 1004h0M253 1037h0M222 1043h0M231 1026h0M223 1061h0M243 1004h0M235 982h0M206 1037h0M202 1060h0M264 1015h0M207 1017h0M210 1013h0M232 1068h0M217 1033h0M205 1065h0M214 1054h0M255 1018h0M219 1027h0" stroke="#292a74" stroke-width="9.2" stroke-linecap="round"/>
<path d="M233 1041h0M233 1056h0M222 1044h0M238 1058h0M238 989h0M272 1056h0M249 1012h0M273 1014h0M198 1050h0M215 1068h0M229 1048h0M238 1041h0M251 1040h0M196 1057h0M209 1043h0M255 1036h0M212 1033h0M217 1023h0M213 1057h0M225 1020h0M207 1045h0M208 1060h0M260 1011h0M209 1017h0M243 1038h0M241 1076h0M227 1018h0M205 1022h0M204 1076h0M275 1019h0M213 1032h0M230 1095h0M243 1011h0M263 1004h0M253 1006h0M228 1000h0M228 1063h0M264 997h0M273 961h0M223 1095h0M266 1030h0M250 1010h0M242 1049h0M210 1091h0M206 1039h0M247 1025h0M236 1052h0M224 1033h0M247 1006h0M196 1027h0M276 1006h0M276 1047h0M211 1053h0M234 1092h0M233 1062h0M223 1036h0M225 1026h0M248 1029h0M277 1016h0M238 1082h0M239 1065h0M240 1061h0M220 1056h0M252 1042h0M225 985h0M213 1020h0M252 1053h0M214 1061h0M224 1053h0M227 1053h0M233 1049h0M199 1102h0M214 1015h0M233 1019h0M251 1012h0M234 1033h0M232 1025h0M216 1052h0M237 1083h0M228 1035h0M252 1027h0M260 1057h0M236 1091h0" stroke="#474747" stroke-width="11" stroke-linecap="round"/>
<path d="M233 1041h0M233 1056h0M222 1044h0M238 1058h0M238 989h0M272 1056h0M249 1012h0M273 1014h0M198 1050h0M215 1068h0M229 1048h0M238 1041h0M251 1040h0M196 1057h0M209 1043h0M255 1036h0M212 1033h0M217 1023h0M213 1057h0M225 1020h0M207 1045h0M208 1060h0M260 1011h0M209 1017h0M243 1038h0M241 1076h0M227 1018h0M205 1022h0M204 1076h0M275 1019h0M213 1032h0M230 1095h0M243 1011h0M263 1004h0M253 1006h0M228 1000h0M228 1063h0M264 997h0M273 961h0M223 1095h0M266 1030h0M250 1010h0M242 1049h0M210 1091h0M206 1039h0M247 1025h0M236 1052h0M224 1033h0M247 1006h0M196 1027h0M276 1006h0M276 1047h0M211 1053h0M234 1092h0M233 1062h0M223 1036h0M225 1026h0M248 1029h0M277 1016h0M238 1082h0M239 1065h0M240 1061h0M220 1056h0M252 1042h0M225 985h0M213 1020h0M252 1053h0M214 1061h0M224 1053h0M227 1053h0M233 1049h0M199 1102h0M214 1015h0M233 1019h0M251 1012h0M234 1033h0M232 1025h0M216 1052h0M237 1083h0M228 1035h0M252 1027h0M260 1057h0M236 1091h0" stroke="#292a74" stroke-width="9.2" stroke-linecap="round"/>
<path d="M213 1016h0M269 1046h0M220 1047h0M269 1037h0M230 995h0M218 1080h0M231 1010h0M220 1105h0M233 1013h0M249 1042h0M230 1094h0M226 1038h0M236 1037h0M246 1071h0M237 1026h0M250 1029h0M251 1016h0M244 1067h0M254 1046h0M237 1059h0M264 1019h0M246 1044h0M257 1051h0M232 1002h0M203 1063h0M226 1012h0M238 1013h0M246 1049h0M236 1081h0M272 1014h0M206 1031h0M250 999h0M232 1027h0M221 1031h0M237 1050h0M252 1046h0M270 939h0M205 1020h0M211 1079h0M235 1027h0M202 1039h0M219 1087h0M267 1028h0M235 1021h0M236 993h0M263 982h0M196 1061h0M240 1041h0M236 1047h0M243 1026h0M213 1023h0M227 1065h0M234 1040h0M254 1041h0M220 1061h0M251 1041h0M242 986h0M247 986h0M255 989h0M215 1086h0M230 1030h0M237 974h0M244 1021h0M265 1039h0M241 1017h0M231 1043h0M232 1046h0M243 1025h0M255 1014h0M243 1036h0M224 1040h0M229 1063h0M218 1044h0M216 1025h0M225 1037h0M223 1045h0M255 1062h0M209 1018h0M238 1063h0M209 1029h0M255 1035h0M244 1011h0" stroke="#474747" stroke-width="11" stroke-linecap="round"/>
<path d="M213 1016h0M269 1046h0M220 1047h0M269 1037h0M230 995h0M218 1080h0M231 1010h0M220 1105h0M233 1013h0M249 1042h0M230 1094h0M226 1038h0M236 1037h0M246 1071h0M237 1026h0M250 1029h0M251 1016h0M244 1067h0M254 1046h0M237 1059h0M264 1019h0M246 1044h0M257 1051h0M232 1002h0M203 1063h0M226 1012h0M238 1013h0M246 1049h0M236 1081h0M272 1014h0M206 1031h0M250 999h0M232 1027h0M221 1031h0M237 1050h0M252 1046h0M270 939h0M205 1020h0M211 1079h0M235 1027h0M202 1039h0M219 1087h0M267 1028h0M235 1021h0M236 993h0M263 982h0M196 1061h0M240 1041h0M236 1047h0M243 1026h0M213 1023h0M227 1065h0M234 1040h0M254 1041h0M220 1061h0M251 1041h0M242 986h0M247 986h0M255 989h0M215 1086h0M230 1030h0M237 974h0M244 1021h0M265 1039h0M241 1017h0M231 1043h0M232 1046h0M243 1025h0M255 1014h0M243 1036h0M224 1040h0M229 1063h0M218 1044h0M216 1025h0M225 1037h0M223 1045h0M255 1062h0M209 1018h0M238 1063h0M209 1029h0M255 1035h0M244 1011h0" stroke="#292a74" stroke-width="9.2" stroke-linecap="round"/>
<path d="M266 995h0M250 1036h0M213 1121h0M238 1085h0M222 1065h0M225 1063h0M213 1037h0M230 987h0M239 1016h0M242 1035h0M230 1003h0M233 1041h0M239 1012h0M235 1026h0M231 1085h0M230 1013h0M238 989h0M232 1045h0M254 1007h0M247 1016h0M216 1050h0M237 1043h0M244 1006h0M230 1053h0M231 1050h0M235 1014h0M251 1004h0M241 993h0M224 1054h0M236 1068h0M265 994h0M215 1082h0M252 1037h0M231 1042h0M259 981h0M251 1027h0M238 1064h0M234 1036h0M202 1016h0M225 1084h0M213 1078h0M245 1004h0M230 1034h0M237 1059h0M238 1038h0M215 1042h0M239 1062h0M249 1043h0M203 1012h0M231 1028h0M239 1004h0M198 1052h0M256 1039h0M265 1013h0M280 1038h0M207 1038h0M235 1042h0M229 1045h0M261 1030h0M244 1054h0M239 998h0M251 1065h0M226 1033h0M259 1055h0M229 1014h0M262 1028h0M241 1027h0M242 1019h0M211 1036h0M201 1045h0M201 1041h0M248 1020h0M237 1045h0M268 1027h0M229 1043h0M206 1065h0M245 1044h0M208 1013h0M238 1069h0M231 994h0M264 1035h0M258 1009h0M258 1024h0" stroke="#474747" stroke-width="11" stroke-linecap="round"/>
<path d="M266 995h0M250 1036h0M213 1121h0M238 1085h0M222 1065h0M225 1063h0M213 1037h0M230 987h0M239 1016h0M242 1035h0M230 1003h0M233 1041h0M239 1012h0M235 1026h0M231 1085h0M230 1013h0M238 989h0M232 1045h0M254 1007h0M247 1016h0M216 1050h0M237 1043h0M244 1006h0M230 1053h0M231 1050h0M235 1014h0M251 1004h0M241 993h0M224 1054h0M236 1068h0M265 994h0M215 1082h0M252 1037h0M231 1042h0M259 981h0M251 1027h0M238 1064h0M234 1036h0M202 1016h0M225 1084h0M213 1078h0M245 1004h0M230 1034h0M237 1059h0M238 1038h0M215 1042h0M239 1062h0M249 1043h0M203 1012h0M231 1028h0M239 1004h0M198 1052h0M256 1039h0M265 1013h0M280 1038h0M207 1038h0M235 1042h0M229 1045h0M261 1030h0M244 1054h0M239 998h0M251 1065h0M226 1033h0M259 1055h0M229 1014h0M262 1028h0M241 1027h0M242 1019h0M211 1036h0M201 1045h0M201 1041h0M248 1020h0M237 1045h0M268 1027h0M229 1043h0M206 1065h0M245 1044h0M208 1013h0M238 1069h0M231 994h0M264 1035h0M258 1009h0M258 1024h0" stroke="#292a74" stroke-width="9.2" stroke-linecap="round"/>
<path d="M226 1043h0M266 1007h0M235 992h0M240 1035h0M247 1030h0M243 1044h0M206 997h0M252 998h0M200 1022h0M248 1028h0M235 1082h0M239 1021h0M212 1089h0M260 1039h0M233 1011h0M256 1039h0M220 1058h0M220 1094h0M238 1015h0M260 1013h0M207 1059h0M224 1030h0M225 1079h0M231 1060h0M226 1033h0M261 1001h0M253 1027h0M237 1064h0M256 1037h0M260 995h0M223 1055h0M220 1035h0M253 1016h0M279 1029h0M251 1027h0M223 1085h0M255 1040h0M218 1041h0M257 1009h0M242 999h0M208 1058h0M226 1027h0M245 1033h0M216 1063h0M250 1047h0M244 1032h0M230 1037h0M246 1048h0M229 969h0M242 1032h0M214 1027h0M269 1026h0M231 967h0M263 1078h0M241 1041h0M273 1013h0M236 1004h0M240 1034h0M236 1059h0M244 992h0M218 1026h0M266 1027h0M244 1037h0M238 1040h0M272 1014h0M278 1058h0M205 1045h0M216 1059h0M255 1014h0M264 1014h0M240 1059h0M238 1000h0M259 1005h0M245 1053h0M221 1067h0M250 1045h0M245 1022h0M216 1012h0M257 1048h0M270 1038h0M236 1022h0M240 1034h0" stroke="#474747" stroke-width="11" stroke-linecap="round"/>
<path d="M226 1043h0M266 1007h0M235 992h0M240 1035h0M247 1030h0M243 1044h0M206 997h0M252 998h0M200 1022h0M248 1028h0M235 1082h0M239 1021h0M212 1089h0M260 1039h0M233 1011h0M256 1039h0M220 1058h0M220 1094h0M238 1015h0M260 1013h0M207 1059h0M224 1030h0M225 1079h0M231 1060h0M226 1033h0M261 1001h0M253 1027h0M237 1064h0M256 1037h0M260 995h0M223 1055h0M220 1035h0M253 1016h0M279 1029h0M251 1027h0M223 1085h0M255 1040h0M218 1041h0M257 1009h0M242 999h0M208 1058h0M226 1027h0M245 1033h0M216 1063h0M250 1047h0M244 1032h0M230 1037h0M246 1048h0M229 969h0M242 1032h0M214 1027h0M269 1026h0M231 967h0M263 1078h0M241 1041h0M273 1013h0M236 1004h0M240 1034h0M236 1059h0M244 992h0M218 1026h0M266 1027h0M244 1037h0M238 1040h0M272 1014h0M278 1058h0M205 1045h0M216 1059h0M255 1014h0M264 1014h0M240 1059h0M238 1000h0M259 1005h0M245 1053h0M221 1067h0M250 1045h0M245 1022h0M216 1012h0M257 1048h0M270 1038h0M236 1022h0M240 1034h0" stroke="#292a74" stroke-width="9.2" stroke-linecap="round"/>
<path d="M252 1029h0M259 1027h0M257 1033h0M216 1000h0M215 1019h0M224 1048h0M274 986h0M206 1001h0M232 1024h0M222 1033h0M218 1055h0M257 1022h0M245 1025h0M256 993h0M233 1059h0M227 1079h0M217 1055h0M243 1022h0M240 1082h0M217 1048h0M250 1048h0M256 1053h0M235 1031h0M210 1017h0M250 1062h0M220 1036h0M234 1040h0M215 1028h0M297 994h0M289 1041h0M306 937h0M301 1005h0M285 1064h0M281 966h0M289 972h0M299 958h0M305 1030h0M290 989h0M292 961h0M318 998h0M291 989h0M298 1005h0M290 1010h0M295 958h0M285 1024h0M286 1000h0M299 981h0M290 999h0M296 974h0M310 1053h0M290 967h0M291 1035h0M287 1007h0M282 1013h0M290 986h0M282 1008h0M294 1012h0M290 980h0M284 942h0M296 1016h0M307 1015h0M305 1013h0M293 1035h0M296 1034h0M284 1016h0M293 979h0M303 1012h0M304 1021h0M311 998h0M303 1020h0M313 915h0M300 953h0M313 993h0M296 1048h0M310 1012h0M296 1026h0M284 1028h0M299 1062h0M290 1016h0M295 1017h0M302 1017h0M304 1034h0M303 986h0" stroke="#474747" stroke-width="11" stroke-linecap="round"/>
<path d="M252 1029h0M259 1027h0M257 1033h0M216 1000h0M215 1019h0M224 1048h0M274 986h0M206 1001h0M232 1024h0M222 1033h0M218 1055h0M257 1022h0M245 1025h0M256 993h0M233 1059h0M227 1079h0M217 1055h0M243 1022h0M240 1082h0M217 1048h0M250 1048h0M256 1053h0M235 1031h0M210 1017h0M250 1062h0M220 1036h0M234 1040h0M215 1028h0" stroke="#292a74" stroke-width="9.2" stroke-linecap="round"/>
<path d="M297 994h0M289 1041h0M306 937h0M301 1005h0M285 1064h0M281 966h0M289 972h0M299 958h0M305 1030h0M290 989h0M292 961h0M318 998h0M291 989h0M298 1005h0M290 1010h0M295 958h0M285 1024h0M286 1000h0M299 981h0M290 999h0M296 974h0M310 1053h0M290 967h0M291 1035h0M287 1007h0M282 1013h0M290 986h0M282 1008h0M294 1012h0M290 980h0M284 942h0M296 1016h0M307 1015h0M305 1013h0M293 1035h0M296 1034h0M284 1016h0M293 979h0M303 1012h0M304 1021h0M311 998h0M303 1020h0M313 915h0M300 953h0M313 993h0M296 1048h0M310 1012h0M296 1026h0M284 1028h0M299 1062h0M290 1016h0M295 1017h0M302 1017h0M304 1034h0M303 986h0" stroke="#f0644a" stroke-width="9.2" stroke-linecap="round"/>
<path d="M307 1021h0M316 1059h0M309 1026h0M287 978h0M297 964h0M291 1034h0M283 1008h0M306 980h0M285 976h0M290 1015h0M312 987h0M315 1007h0M287 1055h0M306 970h0M291 1003h0M305 985h0M296 1006h0M291 1027h0M304 1012h0M288 992h0M290 1038h0M298 954h0M284 937h0M280 1071h0M293 974h0M306 1010h0M317 976h0M309 991h0M289 1007h0M290 975h0M285 1000h0M296 956h0M307 987h0M295 1042h0M296 1004h0M319 993h0M299 1015h0M283 1039h0M293 943h0M300 1000h0M297 1000h0M304 1044h0M313 978h0M281 1007h0M300 966h0M314 945h0M301 1017h0M288 1023h0M293 966h0M296 968h0M308 987h0M293 979h0M296 1008h0M281 1004h0M313 995h0M301 1060h0M291 979h0M281 981h0M296 1026h0M306 1012h0M312 986h0M318 972h0M292 1000h0M292 1014h0M285 990h0M301 994h0M288 1030h0M303 1007h0M300 1009h0M301 978h0M286 1040h0M309 1019h0M294 1011h0M283 1002h0M296 930h0M298 1004h0M297 968h0M307 973h0M310 958h0M291 950h0M295 983h0M310 1023h0" stroke="#474747" stroke-width="11" stroke-linecap="round"/>
<path d="M307 1021h0M316 1059h0M309 1026h0M287 978h0M297 964h0M291 1034h0M283 1008h0M306 980h0M285 976h0M290 1015h0M312 987h0M315 1007h0M287 1055h0M306 970h0M291 1003h0M305 985h0M296 1006h0M291 1027h0M304 1012h0M288 992h0M290 1038h0M298 954h0M284 937h0M280 1071h0M293 974h0M306 1010h0M317 976h0M309 991h0M289 1007h0M290 975h0M285 1000h0M296 956h0M307 987h0M295 1042h0M296 1004h0M319 993h0M299 1015h0M283 1039h0M293 943h0M300 1000h0M297 1000h0M304 1044h0M313 978h0M281 1007h0M300 966h0M314 945h0M301 1017h0M288 1023h0M293 966h0M296 968h0M308 987h0M293 979h0M296 1008h0M281 1004h0M313 995h0M301 1060h0M291 979h0M281 981h0M296 1026h0M306 1012h0M312 986h0M318 972h0M292 1000h0M292 1014h0M285 990h0M301 994h0M288 1030h0M303 1007h0M300 1009h0M301 978h0M286 1040h0M309 1019h0M294 1011h0M283 1002h0M296 930h0M298 1004h0M297 968h0M307 973h0M310 958h0M291 950h0M295 983h0M310 1023h0" stroke="#f0644a" stroke-width="9.2" stroke-linecap="round"/>
<path d="M307 1006h0M318 950h0M296 937h0M311 958h0M294 930h0M303 977h0M304 1021h0M290 998h0M290 992h0M308 969h0M303 972h0M295 1025h0M294 965h0M333 964h0M344 996h0M349 969h0M350 1012h0M347 1011h0M333 973h0M339 989h0M353 1014h0M334 972h0M325 960h0M359 976h0M341 963h0M328 973h0M340 973h0M326 1014h0M334 1040h0M335 1003h0M353 1073h0M328 1008h0M324 1022h0M342 992h0M351 1012h0M328 995h0M347 1017h0M340 1001h0M347 959h0M360 1020h0M341 1037h0M337 961h0M343 976h0M331 996h0M339 1005h0M357 988h0M340 1004h0M359 972h0M343 1002h0M341 1010h0M345 982h0M359 1015h0M331 982h0M320 1024h0M325 1008h0M331 991h0M341 1012h0M351 971h0M330 997h0M326 990h0M352 1043h0M355 982h0M330 993h0M350 1043h0M338 989h0M333 987h0M338 1012h0M328 1022h0M317 1029h0M321 995h0M330 994h0M344 1000h0M345 947h0M352 996h0M329 991h0M340 1033h0M320 988h0M327 973h0M354 1017h0M338 945h0M366 1009h0M349 992h0M333 1004h0" stroke="#474747" stroke-width="11" stroke-linecap="round"/>
<path d="M307 1006h0M318 950h0M296 937h0M311 958h0M294 930h0M303 977h0M304 1021h0M290 998h0M290 992h0M308 969h0M303 972h0M295 1025h0M294 965h0" stroke="#f0644a" stroke-width="9.2" stroke-linecap="round"/>
<path d="M333 964h0M344 996h0M349 969h0M350 1012h0M347 1011h0M333 973h0M339 989h0M353 1014h0M334 972h0M325 960h0M359 976h0M341 963h0M328 973h0M340 973h0M326 1014h0M334 1040h0M335 1003h0M353 1073h0M328 1008h0M324 1022h0M342 992h0M351 1012h0M328 995h0M347 1017h0M340 1001h0M347 959h0M360 1020h0M341 1037h0M337 961h0M343 976h0M331 996h0M339 1005h0M357 988h0M340 1004h0M359 972h0M343 1002h0M341 1010h0M345 982h0M359 1015h0M331 982h0M320 1024h0M325 1008h0M331 991h0M341 1012h0M351 971h0M330 997h0M326 990h0M352 1043h0M355 982h0M330 993h0M350 1043h0M338 989h0M333 987h0M338 1012h0M328 1022h0M317 1029h0M321 995h0M330 994h0M344 1000h0M345 947h0M352 996h0M329 991h0M340 1033h0M320 988h0M327 973h0M354 1017h0M338 945h0M366 1009h0M349 992h0M333 1004h0" stroke="#d49dc8" stroke-width="9.2" stroke-linecap="round"/>
<line x1="96.6" y1="896.4" x2="96.6" y2="1184.6" stroke="#3f3f3f" stroke-width="1.5" />
<line x1="96.6" y1="1184.6" x2="381" y2="1184.6" stroke="#3f3f3f" stroke-width="1.5" />
<line x1="176.5" y1="1184.6" x2="176.5" y2="1194.6" stroke="#737373" stroke-width="1.8" />
<text x="176.5" y="1223.6" font-size="22" text-anchor="middle" >0</text>
<line x1="262.5" y1="1184.6" x2="262.5" y2="1194.6" stroke="#737373" stroke-width="1.8" />
<text x="262.5" y="1223.6" font-size="22" text-anchor="middle" >0.1</text>
<line x1="348.6" y1="1184.6" x2="348.6" y2="1194.6" stroke="#737373" stroke-width="1.8" />
<text x="348.6" y="1223.6" font-size="22" text-anchor="middle" >0.2</text>
<line x1="86.6" y1="1109.9" x2="96.6" y2="1109.9" stroke="#737373" stroke-width="1.8" />
<text x="74.1" y="1117.7" font-size="22" text-anchor="end" >16</text>
<line x1="86.6" y1="1014" x2="96.6" y2="1014" stroke="#737373" stroke-width="1.8" />
<text x="74.1" y="1021.8" font-size="22" text-anchor="end" >18</text>
<line x1="86.6" y1="918" x2="96.6" y2="918" stroke="#737373" stroke-width="1.8" />
<text x="74.1" y="925.8" font-size="22" text-anchor="end" >20</text>
<text x="225" y="927.3" font-size="23" ><tspan font-style="italic">ρ</tspan> = 0.6</text>
<text x="239.4" y="1260.7" font-size="23" text-anchor="middle" >Batch scores</text>
<text x="24.5" y="1040" font-size="23" text-anchor="middle" transform="rotate(-90 24.5 1040)" ><tspan font-style="italic">ESRRA</tspan> (gene expression)</text>
<path d="M557 1001h0M573 984h0M586 1000h0M515 928h0M595 1064h0M541 991h0M554 1022h0M555 957h0M544 973h0M561 976h0M537 966h0M562 985h0M576 991h0M562 999h0M549 1025h0M565 986h0M580 1004h0M587 1019h0M548 995h0M568 967h0M541 993h0M575 1021h0M513 945h0M538 945h0M550 1010h0M567 1015h0M543 1001h0M582 995h0M540 965h0M574 969h0M531 973h0M547 986h0M572 1010h0M580 979h0M544 992h0M531 989h0M579 1007h0M543 980h0M576 991h0M597 1026h0M582 967h0M531 931h0M595 1036h0M593 1008h0M553 1006h0M557 994h0M600 1041h0M574 1005h0M577 995h0M592 1007h0M579 1030h0M585 1048h0M599 1054h0M570 971h0M570 1000h0M560 988h0M595 982h0M539 998h0M588 999h0M553 1000h0M524 963h0M590 1048h0M577 1009h0M574 1000h0M560 987h0M567 1024h0M552 990h0M598 996h0M599 1017h0M566 976h0M567 981h0M574 994h0M588 1016h0M573 996h0M557 1007h0M562 977h0M574 992h0M564 968h0M558 942h0M596 995h0M577 989h0" stroke="#474747" stroke-width="11" stroke-linecap="round"/>
<path d="M557 1001h0M573 984h0M586 1000h0M515 928h0M595 1064h0M541 991h0M554 1022h0M555 957h0M544 973h0M561 976h0M537 966h0M562 985h0M576 991h0M562 999h0M549 1025h0M565 986h0M580 1004h0M587 1019h0M548 995h0M568 967h0M541 993h0M575 1021h0M513 945h0M538 945h0M550 1010h0M567 1015h0M543 1001h0M582 995h0M540 965h0M574 969h0M531 973h0M547 986h0M572 1010h0M580 979h0M544 992h0M531 989h0M579 1007h0M543 980h0M576 991h0M597 1026h0M582 967h0M531 931h0M595 1036h0M593 1008h0M553 1006h0M557 994h0M600 1041h0M574 1005h0M577 995h0M592 1007h0M579 1030h0M585 1048h0M599 1054h0M570 971h0M570 1000h0M560 988h0M595 982h0M539 998h0M588 999h0M553 1000h0M524 963h0M590 1048h0M577 1009h0M574 1000h0M560 987h0M567 1024h0M552 990h0M598 996h0M599 1017h0M566 976h0M567 981h0M574 994h0M588 1016h0M573 996h0M557 1007h0M562 977h0M574 992h0M564 968h0M558 942h0M596 995h0M577 989h0" stroke="#1b6332" stroke-width="9.2" stroke-linecap="round"/>
<path d="M589 1004h0M547 964h0M587 978h0M568 1001h0M562 1018h0M552 1013h0M553 964h0M557 978h0M570 985h0M566 1029h0M514 972h0M579 1035h0M573 1022h0M566 1005h0M549 997h0M549 949h0M576 1027h0M532 985h0M561 1006h0M567 993h0M533 957h0M596 1030h0M593 1046h0M594 1021h0M584 997h0M561 1014h0M549 962h0M557 1010h0M582 1018h0M569 1005h0M535 933h0M587 991h0M592 1003h0M563 1013h0M577 1024h0M590 1024h0M519 930h0M555 959h0M548 979h0M564 1008h0M539 1014h0M538 986h0M573 987h0M587 995h0M539 968h0M587 1022h0M590 998h0M591 1013h0M598 996h0M558 983h0M594 995h0M533 966h0M549 993h0M576 975h0M586 1028h0M536 960h0M524 976h0M577 1009h0M575 994h0M584 1016h0M566 1015h0M538 995h0M594 1035h0M586 1006h0M572 991h0M588 1010h0M574 1031h0M519 961h0M565 973h0M545 1004h0M541 997h0M554 967h0M563 995h0M595 990h0M528 977h0M585 1036h0M562 992h0M589 1010h0M577 994h0M619 1035h0M629 1018h0M654 1026h0" stroke="#474747" stroke-width="11" stroke-linecap="round"/>
<path d="M589 1004h0M547 964h0M587 978h0M568 1001h0M562 1018h0M552 1013h0M553 964h0M557 978h0M570 985h0M566 1029h0M514 972h0M579 1035h0M573 1022h0M566 1005h0M549 997h0M549 949h0M576 1027h0M532 985h0M561 1006h0M567 993h0M533 957h0M596 1030h0M593 1046h0M594 1021h0M584 997h0M561 1014h0M549 962h0M557 1010h0M582 1018h0M569 1005h0M535 933h0M587 991h0M592 1003h0M563 1013h0M577 1024h0M590 1024h0M519 930h0M555 959h0M548 979h0M564 1008h0M539 1014h0M538 986h0M573 987h0M587 995h0M539 968h0M587 1022h0M590 998h0M591 1013h0M598 996h0M558 983h0M594 995h0M533 966h0M549 993h0M576 975h0M586 1028h0M536 960h0M524 976h0M577 1009h0M575 994h0M584 1016h0M566 1015h0M538 995h0M594 1035h0M586 1006h0M572 991h0M588 1010h0M574 1031h0M519 961h0M565 973h0M545 1004h0M541 997h0M554 967h0M563 995h0M595 990h0M528 977h0M585 1036h0M562 992h0M589 1010h0M577 994h0" stroke="#1b6332" stroke-width="9.2" stroke-linecap="round"/>
<path d="M619 1035h0M629 1018h0M654 1026h0" stroke="#292a74" stroke-width="9.2" stroke-linecap="round"/>
<path d="M626 1048h0M679 1072h0M612 992h0M646 1007h0M649 1034h0M661 995h0M640 1028h0M624 986h0M643 982h0M604 1006h0M659 999h0M602 988h0M678 1067h0M660 988h0M603 941h0M652 1032h0M604 957h0M616 969h0M648 1021h0M620 940h0M617 999h0M614 1010h0M621 998h0M681 1050h0M650 1034h0M622 1007h0M671 1074h0M680 1030h0M638 1049h0M665 1005h0M667 1017h0M645 1028h0M636 1021h0M671 1056h0M656 1026h0M636 964h0M628 995h0M640 1025h0M663 985h0M657 1038h0M626 1012h0M636 954h0M644 999h0M630 974h0M638 995h0M616 980h0M620 980h0M647 999h0M646 960h0M633 1039h0M643 1079h0M636 1018h0M657 1066h0M647 1015h0M629 1036h0M657 1026h0M667 1006h0M640 1027h0M652 1043h0M608 967h0M619 1017h0M635 1012h0M654 1029h0M640 1048h0M620 973h0M628 1033h0M635 985h0M634 998h0M641 1043h0M678 1054h0M646 995h0M631 1014h0M657 969h0M656 1053h0M614 962h0M626 1046h0M614 1000h0M648 994h0M661 1081h0M635 1003h0M670 1067h0M626 1038h0" stroke="#474747" stroke-width="11" stroke-linecap="round"/>
<path d="M626 1048h0M679 1072h0M612 992h0M646 1007h0M649 1034h0M661 995h0M640 1028h0M624 986h0M643 982h0M604 1006h0M659 999h0M602 988h0M678 1067h0M660 988h0M603 941h0M652 1032h0M604 957h0M616 969h0M648 1021h0M620 940h0M617 999h0M614 1010h0M621 998h0M681 1050h0M650 1034h0M622 1007h0M671 1074h0M680 1030h0M638 1049h0M665 1005h0M667 1017h0M645 1028h0M636 1021h0M671 1056h0M656 1026h0M636 964h0M628 995h0M640 1025h0M663 985h0M657 1038h0M626 1012h0M636 954h0M644 999h0M630 974h0M638 995h0M616 980h0M620 980h0M647 999h0M646 960h0M633 1039h0M643 1079h0M636 1018h0M657 1066h0M647 1015h0M629 1036h0M657 1026h0M667 1006h0M640 1027h0M652 1043h0M608 967h0M619 1017h0M635 1012h0M654 1029h0M640 1048h0M620 973h0M628 1033h0M635 985h0M634 998h0M641 1043h0M678 1054h0M646 995h0M631 1014h0M657 969h0M656 1053h0M614 962h0M626 1046h0M614 1000h0M648 994h0M661 1081h0M635 1003h0M670 1067h0M626 1038h0" stroke="#292a74" stroke-width="9.2" stroke-linecap="round"/>
<path d="M633 1027h0M639 1027h0M645 1031h0M680 1062h0M614 1016h0M654 1095h0M642 980h0M669 981h0M608 977h0M612 1000h0M681 1073h0M671 1031h0M666 1028h0M637 1036h0M666 1040h0M641 995h0M614 986h0M637 1013h0M634 1006h0M615 1014h0M627 1005h0M624 999h0M653 1044h0M664 1036h0M667 1012h0M667 1008h0M615 1052h0M654 1064h0M660 1003h0M650 1011h0M618 985h0M647 1057h0M644 1016h0M620 983h0M662 1020h0M605 1006h0M653 1040h0M630 998h0M608 984h0M629 971h0M637 1072h0M660 1046h0M659 997h0M670 1069h0M658 1026h0M629 967h0M630 1033h0M644 1009h0M632 956h0M601 1017h0M669 1090h0M658 1001h0M643 1030h0M639 1015h0M628 1003h0M665 1001h0M644 1025h0M652 997h0M642 995h0M667 1036h0M652 996h0M629 997h0M638 1015h0M635 929h0M642 1070h0M646 1050h0M630 1034h0M626 1015h0M640 1010h0M597 986h0M650 961h0M649 1035h0M672 1069h0M614 993h0M640 1026h0M638 1026h0M651 998h0M664 1025h0M651 993h0M663 1061h0M638 996h0" stroke="#474747" stroke-width="11" stroke-linecap="round"/>
<path d="M633 1027h0M639 1027h0M645 1031h0M680 1062h0M614 1016h0M654 1095h0M642 980h0M669 981h0M608 977h0M612 1000h0M681 1073h0M671 1031h0M666 1028h0M637 1036h0M666 1040h0M641 995h0M614 986h0M637 1013h0M634 1006h0M615 1014h0M627 1005h0M624 999h0M653 1044h0M664 1036h0M667 1012h0M667 1008h0M615 1052h0M654 1064h0M660 1003h0M650 1011h0M618 985h0M647 1057h0M644 1016h0M620 983h0M662 1020h0M605 1006h0M653 1040h0M630 998h0M608 984h0M629 971h0M637 1072h0M660 1046h0M659 997h0M670 1069h0M658 1026h0M629 967h0M630 1033h0M644 1009h0M632 956h0M601 1017h0M669 1090h0M658 1001h0M643 1030h0M639 1015h0M628 1003h0M665 1001h0M644 1025h0M652 997h0M642 995h0M667 1036h0M652 996h0M629 997h0M638 1015h0M635 929h0M642 1070h0M646 1050h0M630 1034h0M626 1015h0M640 1010h0M597 986h0M650 961h0M649 1035h0M672 1069h0M614 993h0M640 1026h0M638 1026h0M651 998h0M664 1025h0M651 993h0M663 1061h0M638 996h0" stroke="#292a74" stroke-width="9.2" stroke-linecap="round"/>
<path d="M661 1031h0M657 1045h0M637 1054h0M642 1018h0M600 1014h0M608 969h0M664 1022h0M665 1022h0M620 924h0M603 951h0M660 1085h0M668 1021h0M648 1016h0M673 1035h0M670 1052h0M600 958h0M660 1107h0M626 1040h0M632 992h0M667 1031h0M606 963h0M654 1036h0M630 1021h0M671 1018h0M626 1000h0M622 1047h0M663 1008h0M635 1040h0M665 1011h0M647 1015h0M625 988h0M656 1000h0M628 1033h0M655 1009h0M642 1018h0M658 1036h0M617 996h0M624 1015h0M684 1049h0M647 1014h0M635 1028h0M618 968h0M627 1002h0M645 1049h0M611 979h0M639 1000h0M633 1048h0M607 981h0M640 1025h0M669 1031h0M629 1011h0M635 1000h0M646 1015h0M625 1064h0M598 979h0M640 1000h0M629 987h0M624 969h0M673 1032h0M642 981h0M622 977h0M623 1014h0M678 1064h0M659 996h0M650 1004h0M654 1073h0M628 1033h0M626 972h0M667 1032h0M657 1075h0M619 986h0M639 988h0M655 1009h0M637 1014h0M650 1028h0M623 1016h0M671 1053h0M675 1035h0M624 934h0M605 917h0M628 1010h0M661 1071h0" stroke="#474747" stroke-width="11" stroke-linecap="round"/>
<path d="M661 1031h0M657 1045h0M637 1054h0M642 1018h0M600 1014h0M608 969h0M664 1022h0M665 1022h0M620 924h0M603 951h0M660 1085h0M668 1021h0M648 1016h0M673 1035h0M670 1052h0M600 958h0M660 1107h0M626 1040h0M632 992h0M667 1031h0M606 963h0M654 1036h0M630 1021h0M671 1018h0M626 1000h0M622 1047h0M663 1008h0M635 1040h0M665 1011h0M647 1015h0M625 988h0M656 1000h0M628 1033h0M655 1009h0M642 1018h0M658 1036h0M617 996h0M624 1015h0M684 1049h0M647 1014h0M635 1028h0M618 968h0M627 1002h0M645 1049h0M611 979h0M639 1000h0M633 1048h0M607 981h0M640 1025h0M669 1031h0M629 1011h0M635 1000h0M646 1015h0M625 1064h0M598 979h0M640 1000h0M629 987h0M624 969h0M673 1032h0M642 981h0M622 977h0M623 1014h0M678 1064h0M659 996h0M650 1004h0M654 1073h0M628 1033h0M626 972h0M667 1032h0M657 1075h0M619 986h0M639 988h0M655 1009h0M637 1014h0M650 1028h0M623 1016h0M671 1053h0M675 1035h0M624 934h0M605 917h0M628 1010h0M661 1071h0" stroke="#292a74" stroke-width="9.2" stroke-linecap="round"/>
<path d="M645 1021h0M638 1021h0M644 1025h0M604 1031h0M639 1016h0M637 1030h0M624 1001h0M659 1072h0M624 1001h0M624 1035h0M657 1051h0M655 1044h0M641 1031h0M645 1034h0M649 1037h0M648 1038h0M616 1015h0M660 1046h0M673 1051h0M649 971h0M633 985h0M668 1054h0M655 1064h0M622 970h0M637 1013h0M626 994h0M664 1003h0M608 1041h0M670 1055h0M623 997h0M647 983h0M629 1009h0M649 1020h0M668 1038h0M655 1028h0M610 987h0M634 1025h0M643 1037h0M668 1048h0M627 988h0M630 975h0M621 996h0M639 1021h0M656 994h0M616 981h0M674 1022h0M670 1042h0M659 1042h0M655 1014h0M678 1050h0M614 963h0M627 1028h0M676 1035h0M610 991h0M647 1048h0M636 1021h0M617 1025h0M617 1006h0M635 1018h0M646 948h0M652 1052h0M654 1009h0M641 1028h0M641 1005h0M655 1036h0M624 1024h0M608 951h0M660 1001h0M649 1069h0M653 1029h0M671 1049h0M610 1034h0M672 1036h0M619 985h0M647 1019h0M616 984h0M665 987h0M655 1039h0M616 962h0M658 971h0M605 1065h0M629 1012h0" stroke="#474747" stroke-width="11" stroke-linecap="round"/>
<path d="M645 1021h0M638 1021h0M644 1025h0M604 1031h0M639 1016h0M637 1030h0M624 1001h0M659 1072h0M624 1001h0M624 1035h0M657 1051h0M655 1044h0M641 1031h0M645 1034h0M649 1037h0M648 1038h0M616 1015h0M660 1046h0M673 1051h0M649 971h0M633 985h0M668 1054h0M655 1064h0M622 970h0M637 1013h0M626 994h0M664 1003h0M608 1041h0M670 1055h0M623 997h0M647 983h0M629 1009h0M649 1020h0M668 1038h0M655 1028h0M610 987h0M634 1025h0M643 1037h0M668 1048h0M627 988h0M630 975h0M621 996h0M639 1021h0M656 994h0M616 981h0M674 1022h0M670 1042h0M659 1042h0M655 1014h0M678 1050h0M614 963h0M627 1028h0M676 1035h0M610 991h0M647 1048h0M636 1021h0M617 1025h0M617 1006h0M635 1018h0M646 948h0M652 1052h0M654 1009h0M641 1028h0M641 1005h0M655 1036h0M624 1024h0M608 951h0M660 1001h0M649 1069h0M653 1029h0M671 1049h0M610 1034h0M672 1036h0M619 985h0M647 1019h0M616 984h0M665 987h0M655 1039h0M616 962h0M658 971h0M605 1065h0M629 1012h0" stroke="#292a74" stroke-width="9.2" stroke-linecap="round"/>
<path d="M645 982h0M672 1031h0M659 1046h0M676 1005h0M605 963h0M659 1073h0M618 975h0M646 1025h0M678 1039h0M652 1056h0M669 1023h0M610 986h0M612 1018h0M629 1015h0M626 965h0M642 975h0M632 1048h0M611 978h0M645 1027h0M606 1001h0M623 994h0M647 979h0M618 982h0M639 1040h0M656 1025h0M676 1031h0M669 1007h0M661 1033h0M652 1020h0M609 983h0M619 980h0M618 1048h0M626 966h0M636 1003h0M616 995h0M629 1035h0M667 1029h0M629 952h0M612 1008h0M633 1053h0M636 999h0M631 1006h0M679 1047h0M662 1073h0M681 1035h0M625 985h0M658 1145h0M646 1014h0M637 992h0M619 1022h0M645 1076h0M680 1044h0M663 974h0M613 983h0M675 982h0M656 1018h0M644 1023h0M621 1020h0M624 964h0M633 1045h0M668 1053h0M657 1039h0M619 989h0M653 1023h0M643 1057h0M601 1015h0M604 939h0M636 1009h0M616 995h0M638 1022h0M639 1006h0M617 1016h0M637 981h0M625 979h0M618 997h0M636 986h0M625 1007h0M617 1007h0M633 982h0M640 1016h0M647 1042h0" stroke="#474747" stroke-width="11" stroke-linecap="round"/>
<path d="M645 982h0M672 1031h0M659 1046h0M676 1005h0M605 963h0M659 1073h0M618 975h0M646 1025h0M678 1039h0M652 1056h0M669 1023h0M610 986h0M612 1018h0M629 1015h0M626 965h0M642 975h0M632 1048h0M611 978h0M645 1027h0M606 1001h0M623 994h0M647 979h0M618 982h0M639 1040h0M656 1025h0M676 1031h0M669 1007h0M661 1033h0M652 1020h0M609 983h0M619 980h0M618 1048h0M626 966h0M636 1003h0M616 995h0M629 1035h0M667 1029h0M629 952h0M612 1008h0M633 1053h0M636 999h0M631 1006h0M679 1047h0M662 1073h0M681 1035h0M625 985h0M658 1145h0M646 1014h0M637 992h0M619 1022h0M645 1076h0M680 1044h0M663 974h0M613 983h0M675 982h0M656 1018h0M644 1023h0M621 1020h0M624 964h0M633 1045h0M668 1053h0M657 1039h0M619 989h0M653 1023h0M643 1057h0M601 1015h0M604 939h0M636 1009h0M616 995h0M638 1022h0M639 1006h0M617 1016h0M637 981h0M625 979h0M618 997h0M636 986h0M625 1007h0M617 1007h0M633 982h0M640 1016h0M647 1042h0" stroke="#292a74" stroke-width="9.2" stroke-linecap="round"/>
<path d="M597 937h0M629 1011h0M667 1024h0M604 945h0M642 1050h0M627 1012h0M665 1008h0M669 1045h0M645 1031h0M627 1008h0M601 991h0M626 1012h0M619 986h0M640 1012h0M676 996h0M599 973h0M646 974h0M642 1012h0M636 963h0M646 1023h0M634 976h0M681 1042h0M621 955h0M642 1037h0M624 1014h0M662 1021h0M682 1074h0M655 986h0M644 1022h0M641 1000h0M653 996h0M628 988h0M679 1065h0M682 1083h0M664 1078h0M659 1054h0M630 1026h0M683 1070h0M607 975h0M622 1037h0M626 1047h0M630 1001h0M620 950h0M600 1007h0M665 1037h0M668 1038h0M645 988h0M601 959h0M638 1024h0M621 974h0M662 1029h0M675 1020h0M651 973h0M650 1082h0M677 1082h0M681 1083h0M612 1025h0M651 1020h0M612 989h0M622 953h0M668 998h0M614 985h0M636 1015h0M670 1020h0M651 1012h0M601 996h0M638 994h0M635 1024h0M619 1000h0M677 1048h0M642 1032h0M642 1033h0M665 1033h0M645 1021h0M609 1023h0M641 970h0M651 977h0M645 974h0M666 1004h0M662 1034h0M653 1051h0M637 1040h0" stroke="#474747" stroke-width="11" stroke-linecap="round"/>
<path d="M597 937h0M629 1011h0M667 1024h0M604 945h0M642 1050h0M627 1012h0M665 1008h0M669 1045h0M645 1031h0M627 1008h0M601 991h0M626 1012h0M619 986h0M640 1012h0M676 996h0M599 973h0M646 974h0M642 1012h0M636 963h0M646 1023h0M634 976h0M681 1042h0M621 955h0M642 1037h0M624 1014h0M662 1021h0M682 1074h0M655 986h0M644 1022h0M641 1000h0M653 996h0M628 988h0M679 1065h0M682 1083h0M664 1078h0M659 1054h0M630 1026h0M683 1070h0M607 975h0M622 1037h0M626 1047h0M630 1001h0M620 950h0M600 1007h0M665 1037h0M668 1038h0M645 988h0M601 959h0M638 1024h0M621 974h0M662 1029h0M675 1020h0M651 973h0M650 1082h0M677 1082h0M681 1083h0M612 1025h0M651 1020h0M612 989h0M622 953h0M668 998h0M614 985h0M636 1015h0M670 1020h0M651 1012h0M601 996h0M638 994h0M635 1024h0M619 1000h0M677 1048h0M642 1032h0M642 1033h0M665 1033h0M645 1021h0M609 1023h0M641 970h0M651 977h0M645 974h0M666 1004h0M662 1034h0M653 1051h0M637 1040h0" stroke="#292a74" stroke-width="9.2" stroke-linecap="round"/>
<path d="M642 1063h0M683 1058h0M602 1031h0M668 1034h0M652 1017h0M625 1017h0M641 1030h0M656 1029h0M608 974h0M645 1028h0M655 981h0M620 1023h0M645 1035h0M675 1055h0M646 1025h0M621 994h0M604 971h0M600 992h0M665 992h0M637 1062h0M639 1007h0M636 1011h0M624 1039h0M683 1088h0M658 1027h0M677 1014h0M613 983h0M656 1030h0M657 1038h0M615 1008h0M621 1011h0M622 984h0M666 1007h0M647 1006h0M625 1022h0M658 1015h0M626 977h0M645 1068h0M640 1007h0M621 1015h0M664 1032h0M643 1052h0M613 1022h0M637 1016h0M677 1060h0M673 1055h0M663 1058h0M647 1010h0M613 965h0M641 1042h0M615 989h0M605 1000h0M651 1018h0M648 993h0M599 976h0M629 1010h0M642 1046h0M604 958h0M667 994h0M624 1054h0M651 1009h0M657 1034h0M619 1033h0M650 978h0M644 1005h0M651 969h0M631 1030h0M664 1048h0M658 1071h0M678 1044h0M667 1082h0M610 1000h0M628 976h0M652 1011h0M665 1010h0M625 1001h0M642 997h0M649 1026h0M639 1049h0M665 1023h0M618 1000h0M653 1048h0" stroke="#474747" stroke-width="11" stroke-linecap="round"/>
<path d="M642 1063h0M683 1058h0M602 1031h0M668 1034h0M652 1017h0M625 1017h0M641 1030h0M656 1029h0M608 974h0M645 1028h0M655 981h0M620 1023h0M645 1035h0M675 1055h0M646 1025h0M621 994h0M604 971h0M600 992h0M665 992h0M637 1062h0M639 1007h0M636 1011h0M624 1039h0M683 1088h0M658 1027h0M677 1014h0M613 983h0M656 1030h0M657 1038h0M615 1008h0M621 1011h0M622 984h0M666 1007h0M647 1006h0M625 1022h0M658 1015h0M626 977h0M645 1068h0M640 1007h0M621 1015h0M664 1032h0M643 1052h0M613 1022h0M637 1016h0M677 1060h0M673 1055h0M663 1058h0M647 1010h0M613 965h0M641 1042h0M615 989h0M605 1000h0M651 1018h0M648 993h0M599 976h0M629 1010h0M642 1046h0M604 958h0M667 994h0M624 1054h0M651 1009h0M657 1034h0M619 1033h0M650 978h0M644 1005h0M651 969h0M631 1030h0M664 1048h0M658 1071h0M678 1044h0M667 1082h0M610 1000h0M628 976h0M652 1011h0M665 1010h0M625 1001h0M642 997h0M649 1026h0M639 1049h0M665 1023h0M618 1000h0M653 1048h0" stroke="#292a74" stroke-width="9.2" stroke-linecap="round"/>
<path d="M623 1032h0M652 993h0M620 1044h0M635 1034h0M663 1025h0M619 983h0M643 1012h0M657 1070h0M639 986h0M635 1015h0M642 1057h0M621 972h0M659 1034h0M659 1080h0M682 1121h0M648 1027h0M667 1055h0M630 1001h0M653 1023h0M620 1021h0M647 1011h0M634 1005h0M664 1064h0M630 987h0M638 1009h0M700 1068h0M706 1003h0M693 1036h0M693 1027h0M701 1030h0M692 995h0M718 1117h0M705 1035h0M710 1053h0M721 1063h0M718 1034h0M725 1052h0M693 1088h0M720 1058h0M698 1054h0M700 1024h0M704 1104h0M703 1038h0M702 1049h0M706 1039h0M719 1054h0M690 1095h0M686 1026h0M688 1044h0M705 1074h0M703 1031h0M706 1056h0M723 1026h0M703 1027h0M687 1070h0M707 1037h0M722 1065h0M724 1067h0M702 1056h0M704 1029h0M706 1074h0M709 1046h0M701 1089h0M697 1042h0M719 1094h0M719 1094h0M703 1054h0M696 1076h0M696 1022h0M690 1071h0M689 1005h0M699 1031h0M695 1045h0M705 1039h0M697 1044h0M692 989h0M698 1038h0M715 1075h0M706 1046h0M700 1059h0M717 1064h0" stroke="#474747" stroke-width="11" stroke-linecap="round"/>
<path d="M623 1032h0M652 993h0M620 1044h0M635 1034h0M663 1025h0M619 983h0M643 1012h0M657 1070h0M639 986h0M635 1015h0M642 1057h0M621 972h0M659 1034h0M659 1080h0M682 1121h0M648 1027h0M667 1055h0M630 1001h0M653 1023h0M620 1021h0M647 1011h0M634 1005h0M664 1064h0M630 987h0M638 1009h0" stroke="#292a74" stroke-width="9.2" stroke-linecap="round"/>
<path d="M700 1068h0M706 1003h0M693 1036h0M693 1027h0M701 1030h0M692 995h0M718 1117h0M705 1035h0M710 1053h0M721 1063h0M718 1034h0M725 1052h0M693 1088h0M720 1058h0M698 1054h0M700 1024h0M704 1104h0M703 1038h0M702 1049h0M706 1039h0M719 1054h0M690 1095h0M686 1026h0M688 1044h0M705 1074h0M703 1031h0M706 1056h0M723 1026h0M703 1027h0M687 1070h0M707 1037h0M722 1065h0M724 1067h0M702 1056h0M704 1029h0M706 1074h0M709 1046h0M701 1089h0M697 1042h0M719 1094h0M719 1094h0M703 1054h0M696 1076h0M696 1022h0M690 1071h0M689 1005h0M699 1031h0M695 1045h0M705 1039h0M697 1044h0M692 989h0M698 1038h0M715 1075h0M706 1046h0M700 1059h0M717 1064h0" stroke="#f0644a" stroke-width="9.2" stroke-linecap="round"/>
<path d="M697 1064h0M701 1064h0M692 1026h0M725 1068h0M705 1036h0M716 1068h0M699 1052h0M709 1068h0M692 1015h0M696 1009h0M699 1053h0M693 1025h0M710 1092h0M711 1089h0M715 1043h0M692 1088h0M696 981h0M702 1028h0M709 1015h0M689 1046h0M699 1083h0M713 1081h0M703 1074h0M701 1031h0M690 1070h0M699 1070h0M710 1019h0M713 1089h0M684 1056h0M706 1022h0M698 989h0M692 1086h0M722 1124h0M709 1074h0M690 1039h0M691 1046h0M704 1067h0M686 1073h0M700 1030h0M707 1068h0M688 1059h0M704 1052h0M707 1019h0M695 1043h0M706 991h0M709 1064h0M706 1040h0M695 1100h0M711 1074h0M698 1050h0M704 1070h0M702 1071h0M702 1065h0M714 1084h0M713 1072h0M707 1053h0M703 1043h0M708 1082h0M697 1054h0M700 1070h0M707 1033h0M709 1013h0M694 1042h0M695 1037h0M698 1056h0M696 1036h0M693 1051h0M704 1084h0M710 1026h0M707 999h0M713 1043h0M707 1055h0M718 1050h0M719 1021h0M697 1060h0M693 1028h0M695 1043h0M698 1102h0M710 1065h0M707 1041h0M704 1044h0M695 1049h0" stroke="#474747" stroke-width="11" stroke-linecap="round"/>
<path d="M697 1064h0M701 1064h0M692 1026h0M725 1068h0M705 1036h0M716 1068h0M699 1052h0M709 1068h0M692 1015h0M696 1009h0M699 1053h0M693 1025h0M710 1092h0M711 1089h0M715 1043h0M692 1088h0M696 981h0M702 1028h0M709 1015h0M689 1046h0M699 1083h0M713 1081h0M703 1074h0M701 1031h0M690 1070h0M699 1070h0M710 1019h0M713 1089h0M684 1056h0M706 1022h0M698 989h0M692 1086h0M722 1124h0M709 1074h0M690 1039h0M691 1046h0M704 1067h0M686 1073h0M700 1030h0M707 1068h0M688 1059h0M704 1052h0M707 1019h0M695 1043h0M706 991h0M709 1064h0M706 1040h0M695 1100h0M711 1074h0M698 1050h0M704 1070h0M702 1071h0M702 1065h0M714 1084h0M713 1072h0M707 1053h0M703 1043h0M708 1082h0M697 1054h0M700 1070h0M707 1033h0M709 1013h0M694 1042h0M695 1037h0M698 1056h0M696 1036h0M693 1051h0M704 1084h0M710 1026h0M707 999h0M713 1043h0M707 1055h0M718 1050h0M719 1021h0M697 1060h0M693 1028h0M695 1043h0M698 1102h0M710 1065h0M707 1041h0M704 1044h0M695 1049h0" stroke="#f0644a" stroke-width="9.2" stroke-linecap="round"/>
<path d="M697 1079h0M700 1044h0M704 1048h0M715 1046h0M704 1009h0M707 1053h0M694 1019h0M717 1049h0M710 988h0M709 1043h0M685 975h0M710 1081h0M727 1072h0M750 1076h0M742 1061h0M761 1086h0M755 1066h0M755 1050h0M733 1059h0M743 1088h0M755 1088h0M736 1071h0M744 1086h0M760 1110h0M743 1099h0M747 1093h0M761 1127h0M750 1023h0M724 1054h0M746 1092h0M744 1096h0M749 1057h0M756 1114h0M760 1107h0M746 1060h0M735 1078h0M756 1069h0M747 1079h0M762 1087h0M748 1095h0M758 1076h0M733 1071h0M742 1074h0M745 1089h0M733 1051h0M749 1081h0M739 1066h0M739 1102h0M734 1110h0M743 1064h0M721 1084h0M756 1102h0M750 1075h0M752 1056h0M761 1093h0M748 1088h0M740 1069h0M762 1076h0M739 1077h0M746 1118h0M725 1057h0M736 1093h0M743 1037h0M753 1098h0M751 1078h0M757 1086h0M736 1073h0M736 1025h0M746 1086h0M733 1054h0M738 1077h0M744 1087h0M745 1065h0M722 1064h0M749 1086h0M733 1096h0M754 1075h0M737 1007h0M729 1077h0M752 1070h0M740 1090h0M748 1010h0" stroke="#474747" stroke-width="11" stroke-linecap="round"/>
<path d="M697 1079h0M700 1044h0M704 1048h0M715 1046h0M704 1009h0M707 1053h0M694 1019h0M717 1049h0M710 988h0M709 1043h0M685 975h0M710 1081h0" stroke="#f0644a" stroke-width="9.2" stroke-linecap="round"/>
<path d="M727 1072h0M750 1076h0M742 1061h0M761 1086h0M755 1066h0M755 1050h0M733 1059h0M743 1088h0M755 1088h0M736 1071h0M744 1086h0M760 1110h0M743 1099h0M747 1093h0M761 1127h0M750 1023h0M724 1054h0M746 1092h0M744 1096h0M749 1057h0M756 1114h0M760 1107h0M746 1060h0M735 1078h0M756 1069h0M747 1079h0M762 1087h0M748 1095h0M758 1076h0M733 1071h0M742 1074h0M745 1089h0M733 1051h0M749 1081h0M739 1066h0M739 1102h0M734 1110h0M743 1064h0M721 1084h0M756 1102h0M750 1075h0M752 1056h0M761 1093h0M748 1088h0M740 1069h0M762 1076h0M739 1077h0M746 1118h0M725 1057h0M736 1093h0M743 1037h0M753 1098h0M751 1078h0M757 1086h0M736 1073h0M736 1025h0M746 1086h0M733 1054h0M738 1077h0M744 1087h0M745 1065h0M722 1064h0M749 1086h0M733 1096h0M754 1075h0M737 1007h0M729 1077h0M752 1070h0M740 1090h0M748 1010h0" stroke="#d49dc8" stroke-width="9.2" stroke-linecap="round"/>
<line x1="500.6" y1="897.5" x2="500.6" y2="1184.6" stroke="#3f3f3f" stroke-width="1.5" />
<line x1="500.6" y1="1184.6" x2="784.3" y2="1184.6" stroke="#3f3f3f" stroke-width="1.5" />
<line x1="579.8" y1="1184.6" x2="579.8" y2="1194.6" stroke="#737373" stroke-width="1.8" />
<text x="579.8" y="1223.6" font-size="22" text-anchor="middle" >0</text>
<line x1="665.6" y1="1184.6" x2="665.6" y2="1194.6" stroke="#737373" stroke-width="1.8" />
<text x="665.6" y="1223.6" font-size="22" text-anchor="middle" >0.1</text>
<line x1="751.2" y1="1184.6" x2="751.2" y2="1194.6" stroke="#737373" stroke-width="1.8" />
<text x="751.2" y="1223.6" font-size="22" text-anchor="middle" >0.2</text>
<line x1="490.6" y1="1172.5" x2="500.6" y2="1172.5" stroke="#737373" stroke-width="1.8" />
<text x="478.1" y="1180.3" font-size="22" text-anchor="end" >15</text>
<line x1="490.6" y1="1104.1" x2="500.6" y2="1104.1" stroke="#737373" stroke-width="1.8" />
<text x="478.1" y="1111.9" font-size="22" text-anchor="end" >16</text>
<line x1="490.6" y1="1035.8" x2="500.6" y2="1035.8" stroke="#737373" stroke-width="1.8" />
<text x="478.1" y="1043.6" font-size="22" text-anchor="end" >17</text>
<line x1="490.6" y1="967.4" x2="500.6" y2="967.4" stroke="#737373" stroke-width="1.8" />
<text x="478.1" y="975.2" font-size="22" text-anchor="end" >18</text>
<line x1="490.6" y1="898.6" x2="500.6" y2="898.6" stroke="#737373" stroke-width="1.8" />
<text x="478.1" y="906.4" font-size="22" text-anchor="end" >19</text>
<text x="623.9" y="930.6" font-size="23" ><tspan font-style="italic">ρ</tspan> = −0.7</text>
<text x="642.7" y="1261.9" font-size="23" text-anchor="middle" >Batch scores</text>
<text x="430" y="1040.5" font-size="23" text-anchor="middle" transform="rotate(-90 430 1040.5)" ><tspan font-style="italic">MAP3K2</tspan> (gene expression)</text>
<text x="836" y="888.7" font-size="30" font-weight="bold" >f</text>
<path d="M1103 1071h0M1087 1131h0M1081 1018h0M1101 1046h0M1097 1029h0M1100 1050h0M1146 1049h0M1091 1151h0M1117 1054h0M1097 1049h0M1108 1049h0M1124 1076h0M1070 964h0M1101 1033h0M1067 1036h0M1085 1037h0M1176 1081h0M1100 1085h0M1093 1101h0M1120 1046h0M1140 1051h0M1157 1087h0M1051 1024h0M1124 1052h0M1055 1059h0M1137 1077h0M1082 1030h0M1079 1061h0M1081 1060h0M1113 1112h0M1136 1097h0M1079 1057h0M1080 1017h0M1064 985h0M1046 1002h0M1068 1017h0M1073 1112h0M1096 1045h0M1090 1076h0M1066 1059h0M1125 1023h0M1141 1061h0M1092 1045h0M1097 1023h0M1096 1088h0M1102 1024h0M1095 1036h0M1105 1067h0M1075 1095h0M1125 1083h0M1108 1062h0M1072 1069h0M1152 1113h0M1049 1062h0M1136 1101h0M1073 1045h0M1117 1123h0M1072 982h0M1086 1022h0M1060 973h0M1094 1011h0M1031 995h0M1074 1011h0M1100 998h0M1056 1004h0M1014 978h0M1078 1013h0M1104 1012h0M1045 1015h0M1021 1007h0M1092 1016h0M1074 971h0" stroke="#474747" stroke-width="11" stroke-linecap="round"/>
<path d="M1103 1071h0M1087 1131h0M1081 1018h0M1101 1046h0M1097 1029h0M1100 1050h0M1146 1049h0M1091 1151h0M1117 1054h0M1097 1049h0M1108 1049h0M1124 1076h0M1070 964h0M1101 1033h0M1067 1036h0M1085 1037h0M1176 1081h0M1100 1085h0M1093 1101h0M1120 1046h0M1140 1051h0M1157 1087h0M1051 1024h0M1124 1052h0M1055 1059h0M1137 1077h0M1082 1030h0M1079 1061h0M1081 1060h0M1113 1112h0M1136 1097h0M1079 1057h0M1080 1017h0M1064 985h0M1046 1002h0M1068 1017h0M1073 1112h0M1096 1045h0M1090 1076h0M1066 1059h0M1125 1023h0M1141 1061h0M1092 1045h0M1097 1023h0M1096 1088h0M1102 1024h0M1095 1036h0M1105 1067h0M1075 1095h0" stroke="#292a74" stroke-width="9.2" stroke-linecap="round"/>
<path d="M1125 1083h0M1108 1062h0M1072 1069h0M1152 1113h0M1049 1062h0M1136 1101h0M1073 1045h0M1117 1123h0" stroke="#1b6332" stroke-width="9.2" stroke-linecap="round"/>
<path d="M1072 982h0M1086 1022h0M1060 973h0M1094 1011h0M1031 995h0M1074 1011h0M1100 998h0M1056 1004h0M1014 978h0M1078 1013h0M1104 1012h0M1045 1015h0M1021 1007h0M1092 1016h0M1074 971h0" stroke="#f0644a" stroke-width="9.2" stroke-linecap="round"/>
<path d="M1006 1024h0M1063 1031h0M1077 998h0M1050 995h0M1045 1013h0M1019 958h0M1080 986h0M1055 1029h0M1040 1006h0M1038 987h0M1107 990h0M1010 1029h0M1028 974h0M1103 1024h0M1035 1045h0M1076 974h0M1057 997h0M1056 978h0M1069 1020h0M1093 1038h0M1067 1020h0M1147 1015h0M1128 1093h0M1080 1054h0M1156 1035h0M1154 1081h0M1109 1036h0M1132 1043h0M1092 1053h0M1078 1039h0M1083 1011h0M1126 1121h0M1099 1082h0M1083 1053h0M1084 1070h0M1078 1036h0M1102 1082h0M1068 1023h0M1086 1022h0M1092 983h0M1136 1025h0M1103 1013h0M1110 1107h0M1090 1023h0M1132 1124h0M1093 1079h0M1137 1081h0M1082 1064h0M1007 1025h0M1134 1060h0M1093 1020h0M1102 1048h0M1067 955h0M1088 1061h0M1130 1075h0M1122 1089h0M1098 1038h0M1063 1058h0M1080 1073h0M1084 1093h0M1110 1048h0M1111 1082h0M1117 1045h0M1055 1091h0M1121 1041h0M1063 1035h0M1072 1030h0M1104 1069h0M1143 1075h0M1104 1062h0M1117 1091h0M1114 1095h0" stroke="#474747" stroke-width="11" stroke-linecap="round"/>
<path d="M1006 1024h0M1063 1031h0M1077 998h0M1050 995h0M1045 1013h0M1019 958h0M1080 986h0M1055 1029h0M1040 1006h0M1038 987h0M1107 990h0M1010 1029h0M1028 974h0M1103 1024h0M1035 1045h0M1076 974h0M1057 997h0M1056 978h0M1069 1020h0M1093 1038h0M1067 1020h0" stroke="#f0644a" stroke-width="9.2" stroke-linecap="round"/>
<path d="M1147 1015h0M1128 1093h0M1080 1054h0M1156 1035h0M1154 1081h0M1109 1036h0M1132 1043h0M1092 1053h0M1078 1039h0M1083 1011h0M1126 1121h0M1099 1082h0M1083 1053h0M1084 1070h0M1078 1036h0M1102 1082h0M1068 1023h0M1086 1022h0M1092 983h0M1136 1025h0M1103 1013h0M1110 1107h0M1090 1023h0M1132 1124h0M1093 1079h0M1137 1081h0M1082 1064h0M1007 1025h0M1134 1060h0M1093 1020h0M1102 1048h0M1067 955h0M1088 1061h0M1130 1075h0M1122 1089h0M1098 1038h0M1063 1058h0M1080 1073h0M1084 1093h0M1110 1048h0M1111 1082h0M1117 1045h0M1055 1091h0M1121 1041h0M1063 1035h0M1072 1030h0M1104 1069h0" stroke="#292a74" stroke-width="9.2" stroke-linecap="round"/>
<path d="M1143 1075h0M1104 1062h0M1117 1091h0M1114 1095h0" stroke="#1b6332" stroke-width="9.2" stroke-linecap="round"/>
<path d="M1092 1030h0M1123 1071h0M1104 1060h0M1131 1057h0M1111 1087h0M1098 1003h0M1096 1031h0M1132 1101h0M1108 971h0M1125 993h0M1066 1035h0M1093 1070h0M1124 1104h0M1115 986h0M1094 1017h0M1101 1054h0M1050 1030h0M1146 1142h0M1092 1002h0M1088 1052h0M1058 1007h0M1090 1048h0M1132 1095h0M1108 1057h0M1070 1074h0M1155 1084h0M1061 994h0M1124 1072h0M1106 1057h0M1123 999h0M1095 1075h0M1142 1037h0M1129 1062h0M1064 1087h0M1076 1042h0M1127 1023h0M1056 1026h0M1047 1006h0M1029 1064h0M1092 1035h0M1072 1045h0M1058 1011h0M1082 1114h0M1109 1067h0M1057 1046h0M1067 1046h0M1097 1057h0M1124 1076h0M1052 1087h0M1058 1070h0M1079 1089h0M1078 1095h0M1119 1029h0M1152 1133h0M1098 1053h0M1121 1068h0M1079 1074h0M1089 1132h0M1111 1058h0M1065 1055h0M1120 1087h0M1071 1058h0M1040 1014h0M1039 1000h0M1086 1011h0M1048 950h0M1084 1029h0M1065 1025h0M1076 1022h0M1081 996h0M1075 1028h0M1030 1009h0" stroke="#474747" stroke-width="11" stroke-linecap="round"/>
<path d="M1092 1030h0M1123 1071h0M1104 1060h0M1131 1057h0M1111 1087h0M1098 1003h0M1096 1031h0M1132 1101h0M1108 971h0M1125 993h0M1066 1035h0M1093 1070h0M1124 1104h0M1115 986h0M1094 1017h0M1101 1054h0M1050 1030h0M1146 1142h0M1092 1002h0M1088 1052h0M1058 1007h0M1090 1048h0M1132 1095h0M1108 1057h0M1070 1074h0M1155 1084h0M1061 994h0M1124 1072h0M1106 1057h0M1123 999h0M1095 1075h0M1142 1037h0M1129 1062h0M1064 1087h0M1076 1042h0M1127 1023h0M1056 1026h0M1047 1006h0M1029 1064h0M1092 1035h0M1072 1045h0M1058 1011h0M1082 1114h0M1109 1067h0M1057 1046h0M1067 1046h0M1097 1057h0M1124 1076h0M1052 1087h0M1058 1070h0M1079 1089h0M1078 1095h0M1119 1029h0M1152 1133h0M1098 1053h0M1121 1068h0" stroke="#292a74" stroke-width="9.2" stroke-linecap="round"/>
<path d="M1079 1074h0M1089 1132h0M1111 1058h0M1065 1055h0M1120 1087h0" stroke="#1b6332" stroke-width="9.2" stroke-linecap="round"/>
<path d="M1071 1058h0M1040 1014h0M1039 1000h0M1086 1011h0M1048 950h0M1084 1029h0M1065 1025h0M1076 1022h0M1081 996h0M1075 1028h0M1030 1009h0" stroke="#f0644a" stroke-width="9.2" stroke-linecap="round"/>
<path d="M1127 1076h0M1118 1114h0M1133 1091h0M1072 1042h0M1142 1154h0M1106 1062h0M1138 1101h0M1119 1075h0M1036 1013h0M1138 1142h0M1077 1002h0M1123 1005h0M1121 1081h0M1108 1081h0M1046 1014h0M1059 1028h0M1079 1055h0M1069 1046h0M1114 1050h0M1047 986h0M1080 1066h0M1073 1012h0M1061 999h0M1068 1078h0M1057 1037h0M1127 1044h0M1090 1003h0M1114 1114h0M1052 1019h0M1102 1032h0M1106 1125h0M1082 1018h0M1131 1077h0M1134 1056h0M1051 1090h0M1113 1073h0M1105 1052h0M1114 1102h0M1114 1069h0M1161 1091h0M1113 1125h0M1075 1064h0M1052 1036h0M1046 1034h0M1067 1067h0M1160 1132h0M1128 1014h0M1117 1076h0M1141 1112h0M1110 1087h0M1113 1083h0M1084 1043h0M1110 1120h0M1130 1073h0M1091 1074h0M1129 1082h0M1081 1042h0M1050 1044h0M1048 999h0M1070 1030h0M1073 1023h0M1084 1071h0M1052 1016h0M1028 1044h0M999 1046h0M990 1003h0M1037 1029h0M1037 976h0M1108 1015h0M1016 985h0M1038 1016h0M1081 1034h0" stroke="#474747" stroke-width="11" stroke-linecap="round"/>
<path d="M1127 1076h0M1118 1114h0M1133 1091h0M1072 1042h0M1142 1154h0" stroke="#1b6332" stroke-width="9.2" stroke-linecap="round"/>
<path d="M1106 1062h0M1138 1101h0M1119 1075h0M1036 1013h0M1138 1142h0M1077 1002h0M1123 1005h0M1121 1081h0M1108 1081h0M1046 1014h0M1059 1028h0M1079 1055h0M1069 1046h0M1114 1050h0M1047 986h0M1080 1066h0M1073 1012h0M1061 999h0M1068 1078h0M1057 1037h0M1127 1044h0M1090 1003h0M1114 1114h0M1052 1019h0M1102 1032h0M1106 1125h0M1082 1018h0M1131 1077h0M1134 1056h0M1051 1090h0M1113 1073h0M1105 1052h0M1114 1102h0M1114 1069h0M1161 1091h0M1113 1125h0M1075 1064h0M1052 1036h0M1046 1034h0M1067 1067h0M1160 1132h0M1128 1014h0M1117 1076h0M1141 1112h0M1110 1087h0M1113 1083h0M1084 1043h0M1110 1120h0M1130 1073h0M1091 1074h0M1129 1082h0M1081 1042h0M1050 1044h0" stroke="#292a74" stroke-width="9.2" stroke-linecap="round"/>
<path d="M1048 999h0M1070 1030h0M1073 1023h0M1084 1071h0M1052 1016h0M1028 1044h0M999 1046h0M990 1003h0M1037 1029h0M1037 976h0M1108 1015h0M1016 985h0M1038 1016h0M1081 1034h0" stroke="#f0644a" stroke-width="9.2" stroke-linecap="round"/>
<path d="M1060 993h0M1060 971h0M1041 1077h0M1044 1040h0M1065 997h0M1020 962h0M1054 1033h0M1054 1005h0M1038 1041h0M1115 1008h0M1076 996h0M1029 1051h0M1066 993h0M1065 1024h0M1116 1105h0M1114 1070h0M1119 1036h0M1129 1087h0M1069 1028h0M1070 1071h0M1084 1099h0M1081 1056h0M1127 1021h0M1090 1116h0M1044 998h0M1132 1089h0M1118 1100h0M1115 1070h0M1126 1082h0M1072 1045h0M1179 1086h0M1075 1040h0M1110 1117h0M1085 1088h0M1111 1058h0M1081 1010h0M1059 1091h0M1137 1025h0M1101 1076h0M1055 1067h0M1088 1053h0M1088 1122h0M1058 1096h0M1058 1030h0M1084 1052h0M1045 1073h0M1069 1035h0M1067 1048h0M1126 1074h0M1069 1061h0M1080 1017h0M1065 1080h0M1062 1048h0M1114 1087h0M1057 1075h0M1078 1048h0M1118 1035h0M1055 1060h0M1042 1076h0M1129 1048h0M1148 1055h0M1073 995h0M1153 1112h0M1101 1099h0M1051 1039h0M1122 1106h0M1112 1107h0M1095 1109h0M1142 1113h0M1096 1090h0M1129 1092h0M1131 1108h0" stroke="#474747" stroke-width="11" stroke-linecap="round"/>
<path d="M1060 993h0M1060 971h0M1041 1077h0M1044 1040h0M1065 997h0M1020 962h0M1054 1033h0M1054 1005h0M1038 1041h0M1115 1008h0M1076 996h0M1029 1051h0M1066 993h0M1065 1024h0" stroke="#f0644a" stroke-width="9.2" stroke-linecap="round"/>
<path d="M1116 1105h0M1114 1070h0M1119 1036h0M1129 1087h0M1069 1028h0M1070 1071h0M1084 1099h0M1081 1056h0M1127 1021h0M1090 1116h0M1044 998h0M1132 1089h0M1118 1100h0M1115 1070h0M1126 1082h0M1072 1045h0M1179 1086h0M1075 1040h0M1110 1117h0M1085 1088h0M1111 1058h0M1081 1010h0M1059 1091h0M1137 1025h0M1101 1076h0M1055 1067h0M1088 1053h0M1088 1122h0M1058 1096h0M1058 1030h0M1084 1052h0M1045 1073h0M1069 1035h0M1067 1048h0M1126 1074h0M1069 1061h0M1080 1017h0M1065 1080h0M1062 1048h0M1114 1087h0M1057 1075h0M1078 1048h0M1118 1035h0M1055 1060h0M1042 1076h0M1129 1048h0M1148 1055h0M1073 995h0M1153 1112h0" stroke="#292a74" stroke-width="9.2" stroke-linecap="round"/>
<path d="M1101 1099h0M1051 1039h0M1122 1106h0M1112 1107h0M1095 1109h0M1142 1113h0M1096 1090h0M1129 1092h0M1131 1108h0" stroke="#1b6332" stroke-width="9.2" stroke-linecap="round"/>
<path d="M1074 1021h0M1025 1024h0M1052 1041h0M1067 1027h0M1048 1041h0M1037 1020h0M1070 1012h0M1072 1009h0M1058 1061h0M1040 999h0M1065 1004h0M1062 1038h0M1088 1023h0M1044 1019h0M1067 998h0M1080 1060h0M1053 1022h0M1088 1045h0M1124 1057h0M1104 1048h0M1090 1114h0M1101 1049h0M1085 1046h0M1079 1038h0M1106 1019h0M1098 1103h0M1062 1018h0M1127 1070h0M1091 1119h0M1071 1043h0M1077 1074h0M1019 1021h0M1114 1052h0M1075 1073h0M1068 1065h0M1067 1075h0M1078 1007h0M1051 1119h0M1088 1085h0M1116 1078h0M1060 1016h0M1055 1048h0M1096 1066h0M1072 1089h0M1110 1078h0M1118 1038h0M1125 1045h0M1099 1038h0M1097 1038h0M1075 1066h0M1027 1035h0M1089 1020h0M1120 1045h0M1056 1000h0M1124 1033h0M1104 1030h0M1070 978h0M1128 1081h0M1129 1005h0M1068 1092h0M1098 1059h0M1045 969h0M1113 1049h0M1097 1088h0M1086 1095h0M1088 1094h0M1093 1058h0M1084 1039h0M1095 1081h0M1129 1070h0M1123 1075h0M1083 1115h0" stroke="#474747" stroke-width="11" stroke-linecap="round"/>
<path d="M1074 1021h0M1025 1024h0M1052 1041h0M1067 1027h0M1048 1041h0M1037 1020h0M1070 1012h0M1072 1009h0M1058 1061h0M1040 999h0M1065 1004h0M1062 1038h0M1088 1023h0M1044 1019h0M1067 998h0M1080 1060h0" stroke="#f0644a" stroke-width="9.2" stroke-linecap="round"/>
<path d="M1053 1022h0M1088 1045h0M1124 1057h0M1104 1048h0M1090 1114h0M1101 1049h0M1085 1046h0M1079 1038h0M1106 1019h0M1098 1103h0M1062 1018h0M1127 1070h0M1091 1119h0M1071 1043h0M1077 1074h0M1019 1021h0M1114 1052h0M1075 1073h0M1068 1065h0M1067 1075h0M1078 1007h0M1051 1119h0M1088 1085h0M1116 1078h0M1060 1016h0M1055 1048h0M1096 1066h0M1072 1089h0M1110 1078h0M1118 1038h0M1125 1045h0M1099 1038h0M1097 1038h0M1075 1066h0M1027 1035h0M1089 1020h0M1120 1045h0M1056 1000h0M1124 1033h0M1104 1030h0M1070 978h0M1128 1081h0M1129 1005h0M1068 1092h0M1098 1059h0M1045 969h0M1113 1049h0" stroke="#292a74" stroke-width="9.2" stroke-linecap="round"/>
<path d="M1097 1088h0M1086 1095h0M1088 1094h0M1093 1058h0M1084 1039h0M1095 1081h0M1129 1070h0M1123 1075h0M1083 1115h0" stroke="#1b6332" stroke-width="9.2" stroke-linecap="round"/>
<path d="M1052 1062h0M1109 1071h0M1146 1083h0M1131 1059h0M1086 1071h0M1079 1089h0M1088 1027h0M1094 1046h0M1090 994h0M1045 985h0M1108 1093h0M1167 1132h0M1122 1105h0M1071 1050h0M1117 1092h0M1117 1040h0M1106 1063h0M1036 992h0M1071 1067h0M1074 1067h0M1109 991h0M1099 1027h0M1020 1006h0M1115 1072h0M1111 1019h0M1086 1072h0M1088 1043h0M1102 1065h0M1094 1002h0M1093 1065h0M1076 1051h0M1029 1025h0M1153 1043h0M1084 1075h0M1101 1065h0M1070 1021h0M1070 1024h0M1090 1010h0M1102 1065h0M1122 1143h0M1133 1060h0M1151 1105h0M1103 1041h0M1074 1026h0M1099 1069h0M1080 1107h0M1085 1058h0M1114 1056h0M1151 1076h0M1079 1050h0M1056 1044h0M1104 1040h0M1053 1020h0M1118 1031h0M1111 1049h0M1086 1028h0M1142 1147h0M1090 1066h0M1101 1052h0M1093 1111h0M1087 1111h0M1125 1098h0M1064 1021h0M1061 941h0M1099 1033h0M1138 1044h0M1045 1040h0M1052 964h0M1094 1046h0M1068 994h0M1063 1021h0M1083 1016h0" stroke="#474747" stroke-width="11" stroke-linecap="round"/>
<path d="M1052 1062h0M1109 1071h0M1146 1083h0M1131 1059h0M1086 1071h0M1079 1089h0M1088 1027h0M1094 1046h0M1090 994h0M1045 985h0M1108 1093h0M1167 1132h0M1122 1105h0M1071 1050h0M1117 1092h0M1117 1040h0M1106 1063h0M1036 992h0M1071 1067h0M1074 1067h0M1109 991h0M1099 1027h0M1020 1006h0M1115 1072h0M1111 1019h0M1086 1072h0M1088 1043h0M1102 1065h0M1094 1002h0M1093 1065h0M1076 1051h0M1029 1025h0M1153 1043h0M1084 1075h0M1101 1065h0M1070 1021h0M1070 1024h0M1090 1010h0M1102 1065h0M1122 1143h0M1133 1060h0M1151 1105h0M1103 1041h0M1074 1026h0M1099 1069h0M1080 1107h0M1085 1058h0M1114 1056h0M1151 1076h0M1079 1050h0M1056 1044h0M1104 1040h0M1053 1020h0M1118 1031h0M1111 1049h0M1086 1028h0" stroke="#292a74" stroke-width="9.2" stroke-linecap="round"/>
<path d="M1142 1147h0M1090 1066h0M1101 1052h0M1093 1111h0M1087 1111h0M1125 1098h0" stroke="#1b6332" stroke-width="9.2" stroke-linecap="round"/>
<path d="M1064 1021h0M1061 941h0M1099 1033h0M1138 1044h0M1045 1040h0M1052 964h0M1094 1046h0M1068 994h0M1063 1021h0M1083 1016h0" stroke="#f0644a" stroke-width="9.2" stroke-linecap="round"/>
<path d="M1124 1047h0M1036 1081h0M1093 1079h0M1091 1038h0M1096 1102h0M1082 1059h0M1093 1050h0M1099 1079h0M1091 971h0M1129 1068h0M1114 1023h0M1086 992h0M1079 1084h0M1108 1079h0M1082 1054h0M1079 1037h0M1072 1031h0M1090 1057h0M1110 991h0M1090 1019h0M1097 1057h0M1106 1038h0M1128 1073h0M1112 1029h0M1061 1050h0M1132 1062h0M1123 1131h0M1109 1079h0M1044 1060h0M1086 1057h0M1047 1025h0M1096 1092h0M1065 1036h0M1120 1156h0M1176 1094h0M1118 1090h0M1124 1025h0M1082 1036h0M1138 1055h0M1046 1018h0M1123 1061h0M1134 1081h0M1111 1108h0M1097 1118h0M1057 1064h0M1104 1049h0M1042 1008h0M1043 1074h0M1066 1079h0M1132 1102h0M1056 1066h0M1082 1044h0M1036 990h0M1073 1026h0M1028 1032h0M1091 1024h0M1022 1007h0M1043 1012h0M1043 1011h0M1088 1074h0M1080 1003h0M1032 1032h0M1016 997h0M1074 1005h0M1001 961h0M1095 989h0M1122 1057h0M1026 1040h0M1056 1017h0M1097 1054h0M1153 1108h0M1099 1080h0" stroke="#474747" stroke-width="11" stroke-linecap="round"/>
<path d="M1124 1047h0M1036 1081h0M1093 1079h0M1091 1038h0M1096 1102h0M1082 1059h0M1093 1050h0M1099 1079h0M1091 971h0M1129 1068h0M1114 1023h0M1086 992h0M1079 1084h0M1108 1079h0M1082 1054h0M1079 1037h0M1072 1031h0M1090 1057h0M1110 991h0M1090 1019h0M1097 1057h0M1106 1038h0M1128 1073h0M1112 1029h0M1061 1050h0M1132 1062h0M1123 1131h0M1109 1079h0M1044 1060h0M1086 1057h0M1047 1025h0M1096 1092h0M1065 1036h0M1120 1156h0M1176 1094h0M1118 1090h0M1124 1025h0M1082 1036h0M1138 1055h0M1046 1018h0M1123 1061h0M1134 1081h0M1111 1108h0M1097 1118h0M1057 1064h0M1104 1049h0M1042 1008h0M1043 1074h0M1066 1079h0M1132 1102h0M1056 1066h0M1082 1044h0" stroke="#292a74" stroke-width="9.2" stroke-linecap="round"/>
<path d="M1036 990h0M1073 1026h0M1028 1032h0M1091 1024h0M1022 1007h0M1043 1012h0M1043 1011h0M1088 1074h0M1080 1003h0M1032 1032h0M1016 997h0M1074 1005h0M1001 961h0M1095 989h0M1122 1057h0M1026 1040h0M1056 1017h0" stroke="#f0644a" stroke-width="9.2" stroke-linecap="round"/>
<path d="M1097 1054h0M1153 1108h0M1099 1080h0" stroke="#1b6332" stroke-width="9.2" stroke-linecap="round"/>
<path d="M1077 974h0M1108 1031h0M1140 1114h0M1045 1084h0M1090 1087h0M1076 1009h0M1078 1037h0M1052 972h0M1067 1044h0M1159 1058h0M1088 1083h0M1148 1099h0M1165 1107h0M1123 1091h0M1071 1054h0M1081 977h0M1144 1079h0M1141 1087h0M1088 1041h0M1073 997h0M1057 1088h0M1084 1041h0M1082 1086h0M1089 1024h0M1085 1074h0M1104 1040h0M1039 1051h0M1069 1032h0M1107 1056h0M1071 1018h0M1051 1085h0M1116 1049h0M1104 1062h0M1090 1012h0M1101 1058h0M1116 1085h0M1121 1108h0M1125 1097h0M1135 1075h0M1096 1080h0M1182 1083h0M1087 1072h0M1012 1023h0M1077 1052h0M1063 1068h0M1048 1059h0M1126 1050h0M1090 1059h0M1114 1106h0M1147 1135h0M1160 1084h0M1096 1060h0M1068 998h0M1069 978h0M1106 1042h0M1061 991h0M1046 1034h0M1101 1053h0M1092 1068h0M1010 964h0M1066 974h0M1107 1006h0M1047 1025h0M1041 1009h0M1074 1013h0M1059 1001h0M1118 1059h0M1088 962h0M1026 982h0M1083 992h0M1044 1005h0M1065 976h0" stroke="#474747" stroke-width="11" stroke-linecap="round"/>
<path d="M1077 974h0M1108 1031h0M1140 1114h0M1045 1084h0M1090 1087h0M1076 1009h0M1078 1037h0M1052 972h0M1067 1044h0M1159 1058h0M1088 1083h0M1148 1099h0M1165 1107h0M1123 1091h0M1071 1054h0M1081 977h0M1144 1079h0M1141 1087h0M1088 1041h0M1073 997h0M1057 1088h0M1084 1041h0M1082 1086h0M1089 1024h0M1085 1074h0M1104 1040h0M1039 1051h0M1069 1032h0M1107 1056h0M1071 1018h0M1051 1085h0M1116 1049h0M1104 1062h0M1090 1012h0M1101 1058h0M1116 1085h0M1121 1108h0M1125 1097h0M1135 1075h0M1096 1080h0M1182 1083h0M1087 1072h0M1012 1023h0M1077 1052h0M1063 1068h0M1048 1059h0M1126 1050h0M1090 1059h0" stroke="#292a74" stroke-width="9.2" stroke-linecap="round"/>
<path d="M1114 1106h0M1147 1135h0M1160 1084h0M1096 1060h0" stroke="#1b6332" stroke-width="9.2" stroke-linecap="round"/>
<path d="M1068 998h0M1069 978h0M1106 1042h0M1061 991h0M1046 1034h0M1101 1053h0M1092 1068h0M1010 964h0M1066 974h0M1107 1006h0M1047 1025h0M1041 1009h0M1074 1013h0M1059 1001h0M1118 1059h0M1088 962h0M1026 982h0M1083 992h0M1044 1005h0M1065 976h0" stroke="#f0644a" stroke-width="9.2" stroke-linecap="round"/>
<path d="M1114 1033h0M1053 1074h0M1135 1050h0M1095 1106h0M1083 1081h0M1101 1053h0M1093 1015h0M1097 1010h0M1120 1147h0M1119 1136h0M1070 1059h0M1116 1053h0M1107 1097h0M1104 1050h0M1117 1060h0M1049 1050h0M1156 1096h0M1120 1066h0M1067 1071h0M1079 1024h0M1099 1060h0M1151 1083h0M1056 1031h0M1097 1047h0M1085 1038h0M1075 1075h0M1056 1008h0M1089 1045h0M1129 1081h0M1074 1047h0M1086 1065h0M1075 1063h0M1094 1072h0M1114 1104h0M1115 1116h0M1124 1046h0M1072 981h0M1098 1024h0M1147 1066h0M1080 1024h0M1084 1021h0M1071 1063h0M1096 1018h0M1016 1026h0M1086 991h0M1067 1064h0M1039 1013h0M1035 980h0M1068 1063h0M1028 1052h0M1045 1009h0M1108 1030h0M1081 1056h0M1082 1013h0M1091 1038h0M1083 1000h0M1076 999h0M1066 1058h0M1030 1007h0M1123 998h0M1059 1023h0M1030 1041h0M1103 1117h0M1135 1098h0M1115 1091h0M1171 1111h0M1070 1073h0M1096 1025h0M1095 1081h0M1131 1072h0M1145 1104h0M1119 1083h0" stroke="#474747" stroke-width="11" stroke-linecap="round"/>
<path d="M1114 1033h0M1053 1074h0M1135 1050h0M1095 1106h0M1083 1081h0M1101 1053h0M1093 1015h0M1097 1010h0M1120 1147h0M1119 1136h0M1070 1059h0M1116 1053h0M1107 1097h0M1104 1050h0M1117 1060h0M1049 1050h0M1156 1096h0M1120 1066h0M1067 1071h0M1079 1024h0M1099 1060h0M1151 1083h0M1056 1031h0M1097 1047h0M1085 1038h0M1075 1075h0M1056 1008h0M1089 1045h0M1129 1081h0M1074 1047h0M1086 1065h0M1075 1063h0M1094 1072h0M1114 1104h0M1115 1116h0M1124 1046h0M1072 981h0M1098 1024h0M1147 1066h0M1080 1024h0M1084 1021h0M1071 1063h0M1096 1018h0" stroke="#292a74" stroke-width="9.2" stroke-linecap="round"/>
<path d="M1016 1026h0M1086 991h0M1067 1064h0M1039 1013h0M1035 980h0M1068 1063h0M1028 1052h0M1045 1009h0M1108 1030h0M1081 1056h0M1082 1013h0M1091 1038h0M1083 1000h0M1076 999h0M1066 1058h0M1030 1007h0M1123 998h0M1059 1023h0M1030 1041h0" stroke="#f0644a" stroke-width="9.2" stroke-linecap="round"/>
<path d="M1103 1117h0M1135 1098h0M1115 1091h0M1171 1111h0M1070 1073h0M1096 1025h0M1095 1081h0M1131 1072h0M1145 1104h0M1119 1083h0" stroke="#1b6332" stroke-width="9.2" stroke-linecap="round"/>
<path d="M1066 977h0M1083 989h0M1053 987h0M1034 998h0M1049 1049h0M1056 986h0M1015 972h0M1040 972h0M1070 1009h0M1070 1015h0M1079 1020h0M1046 982h0M1049 1049h0M1082 1022h0M1118 1006h0M1039 1060h0M1052 986h0M1108 1097h0M1111 1119h0M1040 1012h0M1059 1051h0M1077 1054h0M1128 1099h0M1113 1086h0M1071 1010h0M1119 1067h0M1101 1044h0M1050 1001h0M1132 1065h0M1097 1040h0M1089 1080h0M1126 1069h0M1094 1029h0M1112 1096h0M1103 1101h0M1130 1109h0M1110 1038h0M1119 1063h0M1129 1048h0M1075 1041h0M1088 1086h0M1160 1048h0M1096 1003h0M1056 1044h0M1144 1078h0M1097 1006h0M1084 987h0M1105 1040h0M1111 1032h0M1065 1047h0M1068 1054h0M1090 1035h0M1079 1038h0M1096 1089h0M1088 1089h0M1126 1065h0M1086 1017h0M1123 1051h0M1047 1020h0M1069 1014h0M1124 1093h0M1126 1030h0M1043 1024h0M1123 1075h0M1081 1078h0M1159 1116h0M1152 1105h0M1145 1080h0M1100 1104h0M1125 1116h0M1123 1066h0M1117 1037h0" stroke="#474747" stroke-width="11" stroke-linecap="round"/>
<path d="M1066 977h0M1083 989h0M1053 987h0M1034 998h0M1049 1049h0M1056 986h0M1015 972h0M1040 972h0M1070 1009h0M1070 1015h0M1079 1020h0M1046 982h0M1049 1049h0M1082 1022h0M1118 1006h0M1039 1060h0M1052 986h0" stroke="#f0644a" stroke-width="9.2" stroke-linecap="round"/>
<path d="M1108 1097h0M1111 1119h0M1040 1012h0M1059 1051h0M1077 1054h0M1128 1099h0M1113 1086h0M1071 1010h0M1119 1067h0M1101 1044h0M1050 1001h0M1132 1065h0M1097 1040h0M1089 1080h0M1126 1069h0M1094 1029h0M1112 1096h0M1103 1101h0M1130 1109h0M1110 1038h0M1119 1063h0M1129 1048h0M1075 1041h0M1088 1086h0M1160 1048h0M1096 1003h0M1056 1044h0M1144 1078h0M1097 1006h0M1084 987h0M1105 1040h0M1111 1032h0M1065 1047h0M1068 1054h0M1090 1035h0M1079 1038h0M1096 1089h0M1088 1089h0M1126 1065h0M1086 1017h0M1123 1051h0M1047 1020h0M1069 1014h0M1124 1093h0M1126 1030h0M1043 1024h0M1123 1075h0" stroke="#292a74" stroke-width="9.2" stroke-linecap="round"/>
<path d="M1081 1078h0M1159 1116h0M1152 1105h0M1145 1080h0M1100 1104h0M1125 1116h0M1123 1066h0M1117 1037h0" stroke="#1b6332" stroke-width="9.2" stroke-linecap="round"/>
<path d="M1107 1084h0M1073 1019h0M1105 1063h0M1072 1013h0M1072 1051h0M1080 1025h0M1050 974h0M1142 1056h0M1073 1061h0M1093 1073h0M1175 1070h0M1093 1045h0M1070 1037h0M1017 984h0M1142 1066h0M1034 1022h0M1129 1036h0M1148 1080h0M1065 1021h0M1056 1095h0M1107 984h0M1084 1093h0M1085 1034h0M1082 1129h0M1119 1039h0M1058 1050h0M1069 1045h0M1082 1085h0M1079 1103h0M1062 1065h0M1106 1038h0M1059 1058h0M1138 1042h0M1078 1069h0M1090 1050h0M1087 1063h0M1128 1094h0M1145 1056h0M1084 1141h0M1039 1089h0M1152 1062h0M1083 1063h0M1097 1152h0M1037 1059h0M1107 1054h0M1049 1012h0M1114 1065h0M1095 1048h0M1038 987h0M1053 1097h0M1092 1025h0M1087 1080h0M1082 1035h0M1063 971h0M1120 1038h0M1024 1061h0M1038 1023h0M1096 1017h0M987 1008h0M1121 1061h0M1048 984h0M1096 995h0M1054 997h0M1055 1038h0M1107 1002h0M1056 1048h0M1036 1018h0M1042 1026h0M1003 988h0M1070 1039h0M1099 1115h0M1086 1106h0M1100 1057h0" stroke="#474747" stroke-width="11" stroke-linecap="round"/>
<path d="M1107 1084h0M1073 1019h0M1105 1063h0M1072 1013h0M1072 1051h0M1080 1025h0M1050 974h0M1142 1056h0M1073 1061h0M1093 1073h0M1175 1070h0M1093 1045h0M1070 1037h0M1017 984h0M1142 1066h0M1034 1022h0M1129 1036h0M1148 1080h0M1065 1021h0M1056 1095h0M1107 984h0M1084 1093h0M1085 1034h0M1082 1129h0M1119 1039h0M1058 1050h0M1069 1045h0M1082 1085h0M1079 1103h0M1062 1065h0M1106 1038h0M1059 1058h0M1138 1042h0M1078 1069h0M1090 1050h0M1087 1063h0M1128 1094h0M1145 1056h0M1084 1141h0M1039 1089h0M1152 1062h0M1083 1063h0M1097 1152h0M1037 1059h0M1107 1054h0M1049 1012h0M1114 1065h0M1095 1048h0M1038 987h0M1053 1097h0M1092 1025h0M1087 1080h0M1082 1035h0" stroke="#292a74" stroke-width="9.2" stroke-linecap="round"/>
<path d="M1063 971h0M1120 1038h0M1024 1061h0M1038 1023h0M1096 1017h0M987 1008h0M1121 1061h0M1048 984h0M1096 995h0M1054 997h0M1055 1038h0M1107 1002h0M1056 1048h0M1036 1018h0M1042 1026h0M1003 988h0" stroke="#f0644a" stroke-width="9.2" stroke-linecap="round"/>
<path d="M1070 1039h0M1099 1115h0M1086 1106h0M1100 1057h0" stroke="#1b6332" stroke-width="9.2" stroke-linecap="round"/>
<path d="M1029 1031h0M1039 1017h0M1026 959h0M979 1028h0M1006 984h0M1037 1002h0M1036 999h0M1146 1079h0" stroke="#474747" stroke-width="11" stroke-linecap="round"/>
<path d="M1029 1031h0M1039 1017h0M1026 959h0M979 1028h0M1006 984h0M1037 1002h0M1036 999h0" stroke="#d49dc8" stroke-width="9.2" stroke-linecap="round"/>
<path d="M1146 1079h0" stroke="#1b6332" stroke-width="9.2" stroke-linecap="round"/>
<path d="M1106 1097h0M1117 1121h0M1124 1110h0M1106 1100h0M1014 1005h0M1039 958h0M1039 935h0M1028 1000h0" stroke="#474747" stroke-width="11" stroke-linecap="round"/>
<path d="M1106 1097h0M1117 1121h0M1124 1110h0M1106 1100h0" stroke="#1b6332" stroke-width="9.2" stroke-linecap="round"/>
<path d="M1014 1005h0M1039 958h0M1039 935h0M1028 1000h0" stroke="#d49dc8" stroke-width="9.2" stroke-linecap="round"/>
<path d="M1036 1019h0M1008 954h0M1012 992h0M1023 988h0M1025 1000h0M981 971h0M1027 1021h0M1077 1036h0M1099 1094h0" stroke="#474747" stroke-width="11" stroke-linecap="round"/>
<path d="M1036 1019h0M1008 954h0M1012 992h0M1023 988h0M1025 1000h0M981 971h0M1027 1021h0" stroke="#d49dc8" stroke-width="9.2" stroke-linecap="round"/>
<path d="M1077 1036h0M1099 1094h0" stroke="#1b6332" stroke-width="9.2" stroke-linecap="round"/>
<path d="M1049 1016h0M1032 994h0M1009 990h0M1026 997h0M1092 1090h0M1129 1064h0M1119 1082h0M1149 1087h0" stroke="#474747" stroke-width="11" stroke-linecap="round"/>
<path d="M1049 1016h0M1032 994h0M1009 990h0M1026 997h0" stroke="#d49dc8" stroke-width="9.2" stroke-linecap="round"/>
<path d="M1092 1090h0M1129 1064h0M1119 1082h0M1149 1087h0" stroke="#1b6332" stroke-width="9.2" stroke-linecap="round"/>
<path d="M1032 976h0M1026 998h0M1023 999h0M1015 1015h0M1075 1088h0M1134 1105h0M1095 1104h0M1109 1085h0" stroke="#474747" stroke-width="11" stroke-linecap="round"/>
<path d="M1032 976h0M1026 998h0M1023 999h0M1015 1015h0" stroke="#d49dc8" stroke-width="9.2" stroke-linecap="round"/>
<path d="M1075 1088h0M1134 1105h0M1095 1104h0M1109 1085h0" stroke="#1b6332" stroke-width="9.2" stroke-linecap="round"/>
<path d="M1083 1104h0M1088 1109h0M1144 1059h0M1016 978h0M981 1014h0M1007 960h0M996 995h0M1045 983h0M1022 1017h0" stroke="#474747" stroke-width="11" stroke-linecap="round"/>
<path d="M1083 1104h0M1088 1109h0M1144 1059h0" stroke="#1b6332" stroke-width="9.2" stroke-linecap="round"/>
<path d="M1016 978h0M981 1014h0M1007 960h0M996 995h0M1045 983h0M1022 1017h0" stroke="#d49dc8" stroke-width="9.2" stroke-linecap="round"/>
<path d="M1133 1089h0M1133 1078h0M1112 1121h0M1014 957h0M1055 1030h0M1000 998h0M1000 994h0M1012 974h0" stroke="#474747" stroke-width="11" stroke-linecap="round"/>
<path d="M1133 1089h0M1133 1078h0M1112 1121h0" stroke="#1b6332" stroke-width="9.2" stroke-linecap="round"/>
<path d="M1014 957h0M1055 1030h0M1000 998h0M1000 994h0M1012 974h0" stroke="#d49dc8" stroke-width="9.2" stroke-linecap="round"/>
<path d="M1019 980h0M966 970h0M1018 988h0M1018 984h0M1016 977h0M983 988h0M1026 1028h0M1145 1132h0" stroke="#474747" stroke-width="11" stroke-linecap="round"/>
<path d="M1019 980h0M966 970h0M1018 988h0M1018 984h0M1016 977h0M983 988h0M1026 1028h0" stroke="#d49dc8" stroke-width="9.2" stroke-linecap="round"/>
<path d="M1145 1132h0" stroke="#1b6332" stroke-width="9.2" stroke-linecap="round"/>
<path d="M1024 987h0M1029 968h0M1020 973h0M999 975h0M1019 1036h0M1007 965h0M1010 1041h0M999 972h0M1092 1089h0" stroke="#474747" stroke-width="11" stroke-linecap="round"/>
<path d="M1024 987h0M1029 968h0M1020 973h0M999 975h0M1019 1036h0M1007 965h0M1010 1041h0M999 972h0" stroke="#d49dc8" stroke-width="9.2" stroke-linecap="round"/>
<path d="M1092 1089h0" stroke="#1b6332" stroke-width="9.2" stroke-linecap="round"/>
<path d="M1019 954h0M1037 1041h0M1020 1008h0M1017 990h0M993 975h0M1012 954h0M1103 1071h0M1131 1121h0" stroke="#474747" stroke-width="11" stroke-linecap="round"/>
<path d="M1019 954h0M1037 1041h0M1020 1008h0M1017 990h0M993 975h0M1012 954h0" stroke="#d49dc8" stroke-width="9.2" stroke-linecap="round"/>
<path d="M1103 1071h0M1131 1121h0" stroke="#1b6332" stroke-width="9.2" stroke-linecap="round"/>
<path d="M989 986h0M1015 996h0M980 935h0M1014 982h0M1031 977h0M1121 1112h0M1140 1116h0M1132 1116h0" stroke="#474747" stroke-width="11" stroke-linecap="round"/>
<path d="M989 986h0M1015 996h0M980 935h0M1014 982h0M1031 977h0" stroke="#d49dc8" stroke-width="9.2" stroke-linecap="round"/>
<path d="M1121 1112h0M1140 1116h0M1132 1116h0" stroke="#1b6332" stroke-width="9.2" stroke-linecap="round"/>
<path d="M1019 999h0M1041 1025h0M992 1000h0M1034 996h0M1008 1002h0M1017 1059h0M1004 947h0M1144 1134h0M1168 1095h0" stroke="#474747" stroke-width="11" stroke-linecap="round"/>
<path d="M1019 999h0M1041 1025h0M992 1000h0M1034 996h0M1008 1002h0M1017 1059h0M1004 947h0" stroke="#d49dc8" stroke-width="9.2" stroke-linecap="round"/>
<path d="M1144 1134h0M1168 1095h0" stroke="#1b6332" stroke-width="9.2" stroke-linecap="round"/>
<line x1="916" y1="896.4" x2="916" y2="1184.6" stroke="#3f3f3f" stroke-width="1.5" />
<line x1="916" y1="1184.6" x2="1199.4" y2="1184.6" stroke="#3f3f3f" stroke-width="1.5" />
<line x1="927.4" y1="1184.6" x2="927.4" y2="1194.6" stroke="#737373" stroke-width="1.8" />
<text x="927.4" y="1223.6" font-size="22" text-anchor="middle" >15</text>
<line x1="995.4" y1="1184.6" x2="995.4" y2="1194.6" stroke="#737373" stroke-width="1.8" />
<text x="995.4" y="1223.6" font-size="22" text-anchor="middle" >16</text>
<line x1="1062.9" y1="1184.6" x2="1062.9" y2="1194.6" stroke="#737373" stroke-width="1.8" />
<text x="1062.9" y="1223.6" font-size="22" text-anchor="middle" >17</text>
<line x1="1130.6" y1="1184.6" x2="1130.6" y2="1194.6" stroke="#737373" stroke-width="1.8" />
<text x="1130.6" y="1223.6" font-size="22" text-anchor="middle" >18</text>
<line x1="1198.3" y1="1184.6" x2="1198.3" y2="1194.6" stroke="#737373" stroke-width="1.8" />
<text x="1198.3" y="1223.6" font-size="22" text-anchor="middle" >19</text>
<line x1="906" y1="1109.9" x2="916" y2="1109.9" stroke="#737373" stroke-width="1.8" />
<text x="893.5" y="1117.7" font-size="22" text-anchor="end" >16</text>
<line x1="906" y1="1014" x2="916" y2="1014" stroke="#737373" stroke-width="1.8" />
<text x="893.5" y="1021.8" font-size="22" text-anchor="end" >18</text>
<line x1="906" y1="918" x2="916" y2="918" stroke="#737373" stroke-width="1.8" />
<text x="893.5" y="925.8" font-size="22" text-anchor="end" >20</text>
<text x="1037.3" y="926.2" font-size="23" ><tspan font-style="italic">ρ</tspan> = −0.5</text>
<text x="1058.3" y="1265.2" font-size="23" text-anchor="middle" ><tspan font-style="italic">MAP3K2</tspan> (gene expression)</text>
<text x="846" y="1040.5" font-size="23" text-anchor="middle" transform="rotate(-90 846 1040.5)" ><tspan font-style="italic">ESRRA</tspan> (gene expression)</text>
<path d="M1476 1073h0M1443 1049h0M1512 1026h0M1431 1025h0M1429 1088h0M1398 1063h0M1437 1060h0M1464 1057h0M1427 1066h0M1432 1017h0M1415 1034h0M1429 1025h0M1433 1042h0M1444 1088h0M1405 1032h0M1427 1049h0M1457 1065h0M1401 1046h0M1398 1077h0M1500 1052h0M1408 1088h0M1505 1027h0M1453 1088h0M1459 1109h0M1468 1058h0M1443 1005h0M1406 1004h0M1435 1056h0M1461 1094h0M1441 1062h0M1438 1058h0M1462 1042h0M1433 1113h0M1500 1035h0M1453 1033h0M1431 1071h0M1448 1093h0M1456 1025h0M1423 1088h0M1435 1065h0M1427 1059h0M1460 1070h0M1440 1008h0M1396 1072h0M1398 1010h0M1435 1117h0M1407 1033h0M1453 1069h0M1444 1046h0M1455 1076h0M1452 1001h0" stroke="#474747" stroke-width="11" stroke-linecap="round"/>
<path d="M1476 1073h0M1443 1049h0M1512 1026h0M1431 1025h0M1429 1088h0M1398 1063h0M1437 1060h0M1464 1057h0M1427 1066h0M1432 1017h0M1415 1034h0M1429 1025h0M1433 1042h0M1444 1088h0M1405 1032h0M1427 1049h0M1457 1065h0M1401 1046h0M1398 1077h0M1500 1052h0M1408 1088h0M1505 1027h0M1453 1088h0M1459 1109h0M1468 1058h0M1443 1005h0M1406 1004h0M1435 1056h0M1461 1094h0M1441 1062h0M1438 1058h0M1462 1042h0M1433 1113h0M1500 1035h0M1453 1033h0M1431 1071h0M1448 1093h0M1456 1025h0M1423 1088h0M1435 1065h0M1427 1059h0M1460 1070h0M1440 1008h0M1396 1072h0M1398 1010h0M1435 1117h0M1407 1033h0M1453 1069h0M1444 1046h0" stroke="#292a74" stroke-width="9.2" stroke-linecap="round"/>
<path d="M1455 1076h0M1452 1001h0" stroke="#1b6332" stroke-width="9.2" stroke-linecap="round"/>
<path d="M1421 1062h0M1478 1053h0M1473 1000h0M1386 1043h0M1504 1064h0M1430 1039h0M1441 1130h0M1419 1062h0M1510 1063h0M1393 1036h0M1457 1035h0M1394 1041h0M1468 1063h0M1448 1070h0M1408 1040h0M1458 1046h0M1467 1111h0M1433 1025h0M1477 1015h0M1447 1062h0M1384 1020h0M1498 1048h0M1430 1118h0M1449 1072h0M1483 1109h0M1418 1034h0M1447 1011h0M1468 1073h0M1449 1097h0M1473 1052h0M1458 1059h0M1373 1034h0M1421 1055h0M1494 1101h0M1480 1054h0M1432 1107h0M1429 1106h0M1405 1059h0M1424 1057h0M1475 1113h0M1461 1030h0M1436 998h0M1463 1068h0M1444 1065h0M1430 1146h0M1440 1080h0M1431 1032h0M1405 1067h0M1447 1041h0M1379 1049h0M1425 1040h0M1435 1047h0" stroke="#474747" stroke-width="11" stroke-linecap="round"/>
<path d="M1421 1062h0M1478 1053h0M1473 1000h0M1386 1043h0M1504 1064h0M1430 1039h0M1441 1130h0M1419 1062h0M1510 1063h0M1393 1036h0M1457 1035h0M1394 1041h0M1468 1063h0M1448 1070h0M1408 1040h0M1458 1046h0M1467 1111h0M1433 1025h0M1477 1015h0M1447 1062h0M1384 1020h0M1498 1048h0M1430 1118h0M1449 1072h0M1483 1109h0M1418 1034h0M1447 1011h0M1468 1073h0M1449 1097h0M1473 1052h0M1458 1059h0M1373 1034h0M1421 1055h0M1494 1101h0M1480 1054h0M1432 1107h0M1429 1106h0M1405 1059h0M1424 1057h0M1475 1113h0M1461 1030h0M1436 998h0M1463 1068h0M1444 1065h0M1430 1146h0M1440 1080h0M1431 1032h0M1405 1067h0M1447 1041h0M1379 1049h0" stroke="#292a74" stroke-width="9.2" stroke-linecap="round"/>
<path d="M1425 1040h0M1435 1047h0" stroke="#1b6332" stroke-width="9.2" stroke-linecap="round"/>
<path d="M1433 1073h0M1467 1027h0M1389 1062h0M1460 1059h0M1466 1149h0M1408 1107h0M1460 1070h0M1512 1065h0M1431 1096h0M1443 1050h0M1422 1080h0M1417 1051h0M1434 1033h0M1477 1093h0M1465 1081h0M1488 1075h0M1439 1102h0M1452 1056h0M1474 1118h0M1440 1033h0M1425 1124h0M1415 1111h0M1446 1039h0M1443 1029h0M1420 1037h0M1456 1042h0M1410 1009h0M1415 1051h0M1449 1066h0M1406 1074h0M1457 1045h0M1487 1118h0M1462 1064h0M1412 1029h0M1418 1023h0M1462 1077h0M1462 1065h0M1471 1042h0M1446 1120h0M1393 1039h0M1448 1055h0M1456 1049h0M1429 1072h0M1422 1066h0M1464 1088h0M1426 1069h0M1429 1077h0M1421 1112h0M1472 1093h0M1419 1037h0M1433 1094h0M1458 1080h0" stroke="#474747" stroke-width="11" stroke-linecap="round"/>
<path d="M1433 1073h0M1467 1027h0M1389 1062h0M1460 1059h0M1466 1149h0M1408 1107h0M1460 1070h0M1512 1065h0M1431 1096h0M1443 1050h0M1422 1080h0M1417 1051h0M1434 1033h0M1477 1093h0M1465 1081h0M1488 1075h0M1439 1102h0M1452 1056h0M1474 1118h0M1440 1033h0M1425 1124h0M1415 1111h0M1446 1039h0M1443 1029h0M1420 1037h0M1456 1042h0M1410 1009h0M1415 1051h0M1449 1066h0M1406 1074h0M1457 1045h0M1487 1118h0M1462 1064h0M1412 1029h0M1418 1023h0M1462 1077h0M1462 1065h0M1471 1042h0M1446 1120h0M1393 1039h0M1448 1055h0M1456 1049h0M1429 1072h0" stroke="#292a74" stroke-width="9.2" stroke-linecap="round"/>
<path d="M1422 1066h0M1464 1088h0M1426 1069h0M1429 1077h0M1421 1112h0M1472 1093h0M1419 1037h0M1433 1094h0M1458 1080h0" stroke="#1b6332" stroke-width="9.2" stroke-linecap="round"/>
<path d="M1387 1037h0M1463 1094h0M1371 1090h0M1423 1036h0M1445 1058h0M1449 1094h0M1452 1135h0M1414 1040h0M1454 1053h0M1441 1040h0M1460 1080h0M1413 1044h0M1454 1134h0M1437 1036h0M1447 1016h0M1436 1067h0M1395 1083h0M1488 1086h0M1419 1084h0M1437 1082h0M1414 1055h0M1454 1106h0M1432 1042h0M1451 1016h0M1429 1081h0M1464 1017h0M1447 1028h0M1466 1035h0M1424 1031h0M1449 1045h0M1455 1049h0M1379 1051h0M1481 1094h0M1428 1057h0M1413 1018h0M1456 1083h0M1430 1105h0M1448 1089h0M1428 1031h0M1445 1059h0M1478 1059h0M1437 1087h0M1440 1119h0M1489 1079h0M1472 1050h0M1438 1056h0M1462 1075h0M1428 1022h0M1451 1100h0M1457 1120h0M1438 1117h0" stroke="#474747" stroke-width="11" stroke-linecap="round"/>
<path d="M1387 1037h0M1463 1094h0M1371 1090h0M1423 1036h0M1445 1058h0M1449 1094h0M1452 1135h0M1414 1040h0M1454 1053h0M1441 1040h0M1460 1080h0M1413 1044h0M1454 1134h0M1437 1036h0M1447 1016h0M1436 1067h0M1395 1083h0M1488 1086h0M1419 1084h0M1437 1082h0M1414 1055h0M1454 1106h0M1432 1042h0M1451 1016h0M1429 1081h0M1464 1017h0M1447 1028h0M1466 1035h0M1424 1031h0M1449 1045h0M1455 1049h0M1379 1051h0M1481 1094h0M1428 1057h0M1413 1018h0M1456 1083h0M1430 1105h0M1448 1089h0M1428 1031h0M1445 1059h0M1478 1059h0M1437 1087h0M1440 1119h0M1489 1079h0M1472 1050h0M1438 1056h0" stroke="#292a74" stroke-width="9.2" stroke-linecap="round"/>
<path d="M1462 1075h0M1428 1022h0M1451 1100h0M1457 1120h0M1438 1117h0" stroke="#1b6332" stroke-width="9.2" stroke-linecap="round"/>
<path d="M1486 1092h0M1429 1055h0M1427 1103h0M1428 1104h0M1452 1040h0M1437 1061h0M1457 1123h0M1416 1055h0M1473 1075h0M1405 1079h0M1439 1007h0M1432 1069h0M1479 1073h0M1433 1095h0M1422 1091h0M1452 1070h0M1445 1072h0M1402 1001h0M1442 1115h0M1488 1036h0M1469 1026h0M1467 1005h0M1442 1068h0M1438 1075h0M1425 983h0M1391 1044h0M1478 1072h0M1489 1033h0M1504 1035h0M1423 1018h0M1422 1107h0M1477 1032h0M1473 1098h0M1467 1066h0M1435 1050h0M1418 1074h0M1463 1105h0M1472 1084h0M1437 1059h0M1417 1031h0M1446 1095h0M1458 1099h0M1421 1059h0M1472 1092h0M1404 1037h0M1455 1112h0M1469 1058h0M1439 958h0M1473 1115h0M1442 1057h0M1457 1031h0M1457 1075h0" stroke="#474747" stroke-width="11" stroke-linecap="round"/>
<path d="M1486 1092h0M1429 1055h0M1427 1103h0M1428 1104h0M1452 1040h0M1437 1061h0M1457 1123h0M1416 1055h0" stroke="#1b6332" stroke-width="9.2" stroke-linecap="round"/>
<path d="M1473 1075h0M1405 1079h0M1439 1007h0M1432 1069h0M1479 1073h0M1433 1095h0M1422 1091h0M1452 1070h0M1445 1072h0M1402 1001h0M1442 1115h0M1488 1036h0M1469 1026h0M1467 1005h0M1442 1068h0M1438 1075h0M1425 983h0M1391 1044h0M1478 1072h0M1489 1033h0M1504 1035h0M1423 1018h0M1422 1107h0M1477 1032h0M1473 1098h0M1467 1066h0M1435 1050h0M1418 1074h0M1463 1105h0M1472 1084h0M1437 1059h0M1417 1031h0M1446 1095h0M1458 1099h0M1421 1059h0M1472 1092h0M1404 1037h0M1455 1112h0M1469 1058h0M1439 958h0M1473 1115h0M1442 1057h0M1457 1031h0M1457 1075h0" stroke="#292a74" stroke-width="9.2" stroke-linecap="round"/>
<path d="M1483 1017h0M1498 1099h0M1491 1106h0M1434 1111h0M1450 1074h0M1399 1036h0M1503 1066h0M1448 1022h0M1462 1067h0M1451 1056h0M1459 1049h0M1405 1052h0M1449 1044h0M1471 1119h0M1404 1064h0M1407 1025h0M1370 1027h0M1436 1057h0M1489 1022h0M1424 1089h0M1524 1093h0M1438 1114h0M1428 1044h0M1461 1058h0M1480 1043h0M1420 1057h0M1508 1104h0M1434 1033h0M1389 1086h0M1486 1039h0M1425 1002h0M1439 1077h0M1475 1089h0M1429 995h0M1417 1013h0M1465 1086h0M1441 998h0M1486 1063h0M1454 1057h0M1485 1083h0M1448 1028h0M1433 1015h0M1446 1023h0M1430 1026h0M1470 1021h0M1444 1082h0M1516 1093h0M1422 1070h0M1443 1082h0M1432 1106h0M1447 1041h0M1406 1111h0" stroke="#474747" stroke-width="11" stroke-linecap="round"/>
<path d="M1483 1017h0M1498 1099h0M1491 1106h0M1434 1111h0M1450 1074h0M1399 1036h0M1503 1066h0M1448 1022h0M1462 1067h0M1451 1056h0M1459 1049h0M1405 1052h0M1449 1044h0M1471 1119h0M1404 1064h0M1407 1025h0M1370 1027h0M1436 1057h0M1489 1022h0M1424 1089h0M1524 1093h0M1438 1114h0M1428 1044h0M1461 1058h0M1480 1043h0M1420 1057h0M1508 1104h0M1434 1033h0M1389 1086h0M1486 1039h0M1425 1002h0M1439 1077h0M1475 1089h0M1429 995h0M1417 1013h0M1465 1086h0M1441 998h0M1486 1063h0M1454 1057h0M1485 1083h0M1448 1028h0M1433 1015h0M1446 1023h0M1430 1026h0M1470 1021h0M1444 1082h0M1516 1093h0M1422 1070h0" stroke="#292a74" stroke-width="9.2" stroke-linecap="round"/>
<path d="M1443 1082h0M1432 1106h0M1447 1041h0M1406 1111h0" stroke="#1b6332" stroke-width="9.2" stroke-linecap="round"/>
<path d="M1424 1108h0M1417 1097h0M1452 1056h0M1427 1070h0M1440 1060h0M1490 1090h0M1457 1005h0M1477 1081h0M1463 1091h0M1489 998h0M1475 1105h0M1445 1080h0M1439 1061h0M1498 1075h0M1431 1046h0M1461 1119h0M1419 1077h0M1439 1101h0M1475 1028h0M1440 1052h0M1457 1066h0M1430 1059h0M1465 1071h0M1469 1111h0M1493 1095h0M1489 1068h0M1480 1061h0M1444 1038h0M1391 1010h0M1458 1124h0M1413 1073h0M1481 1053h0M1410 1089h0M1485 1061h0M1461 1065h0M1481 1102h0M1462 1055h0M1432 1038h0M1406 1021h0M1406 969h0M1408 1064h0M1452 1061h0M1448 1064h0M1381 1052h0M1485 1071h0M1451 1078h0M1472 1083h0M1418 1098h0M1433 1118h0M1461 1088h0M1403 1056h0" stroke="#474747" stroke-width="11" stroke-linecap="round"/>
<path d="M1424 1108h0M1417 1097h0M1452 1056h0M1427 1070h0M1440 1060h0M1490 1090h0M1457 1005h0M1477 1081h0M1463 1091h0M1489 998h0M1475 1105h0M1445 1080h0M1439 1061h0M1498 1075h0M1431 1046h0M1461 1119h0M1419 1077h0M1439 1101h0M1475 1028h0M1440 1052h0M1457 1066h0M1430 1059h0M1465 1071h0M1469 1111h0M1493 1095h0M1489 1068h0M1480 1061h0M1444 1038h0M1391 1010h0M1458 1124h0M1413 1073h0M1481 1053h0M1410 1089h0M1485 1061h0M1461 1065h0M1481 1102h0M1462 1055h0M1432 1038h0M1406 1021h0M1406 969h0M1408 1064h0M1452 1061h0M1448 1064h0M1381 1052h0M1485 1071h0M1451 1078h0M1472 1083h0" stroke="#292a74" stroke-width="9.2" stroke-linecap="round"/>
<path d="M1418 1098h0M1433 1118h0M1461 1088h0M1403 1056h0" stroke="#1b6332" stroke-width="9.2" stroke-linecap="round"/>
<path d="M1478 1051h0M1422 1063h0M1441 1047h0M1481 1086h0M1442 1057h0M1435 1102h0M1414 1108h0M1493 1085h0M1477 1089h0M1437 1045h0M1445 1024h0M1411 1085h0M1448 1054h0M1412 1094h0M1456 1057h0M1431 1057h0M1395 988h0M1442 1107h0M1467 1030h0M1462 1027h0M1470 1015h0M1440 1120h0M1481 1084h0M1509 1107h0M1402 971h0M1441 1086h0M1418 1063h0M1456 1079h0M1432 1059h0M1435 1008h0M1447 1084h0M1430 1069h0M1427 1024h0M1436 1040h0M1455 1035h0M1455 1158h0M1431 1081h0M1476 1086h0M1450 1123h0M1492 1049h0M1422 1112h0M1445 1057h0M1480 1104h0M1409 1043h0M1437 1048h0M1445 1077h0M1408 1063h0M1472 1111h0M1470 1043h0M1443 1071h0M1422 1062h0M1437 1158h0" stroke="#474747" stroke-width="11" stroke-linecap="round"/>
<path d="M1478 1051h0M1422 1063h0M1441 1047h0M1481 1086h0M1442 1057h0M1435 1102h0M1414 1108h0M1493 1085h0M1477 1089h0M1437 1045h0M1445 1024h0M1411 1085h0M1448 1054h0M1412 1094h0M1456 1057h0M1431 1057h0M1395 988h0M1442 1107h0M1467 1030h0M1462 1027h0M1470 1015h0M1440 1120h0M1481 1084h0M1509 1107h0M1402 971h0M1441 1086h0M1418 1063h0M1456 1079h0M1432 1059h0M1435 1008h0M1447 1084h0M1430 1069h0M1427 1024h0M1436 1040h0M1455 1035h0M1455 1158h0M1431 1081h0M1476 1086h0M1450 1123h0M1492 1049h0M1422 1112h0M1445 1057h0M1480 1104h0M1409 1043h0M1437 1048h0M1445 1077h0M1408 1063h0" stroke="#292a74" stroke-width="9.2" stroke-linecap="round"/>
<path d="M1472 1111h0M1470 1043h0M1443 1071h0M1422 1062h0M1437 1158h0" stroke="#1b6332" stroke-width="9.2" stroke-linecap="round"/>
<path d="M1431 1022h0M1452 1027h0M1414 1062h0M1416 1035h0M1440 1115h0M1439 1049h0M1465 1083h0M1470 1040h0M1461 1107h0M1479 1090h0M1461 1022h0M1435 1090h0M1406 1101h0M1439 1070h0M1440 1016h0M1431 1095h0M1457 1076h0M1454 1063h0M1467 1079h0M1481 1082h0M1419 1085h0M1452 1074h0M1431 1006h0M1430 1021h0M1464 1121h0M1465 1012h0M1413 1047h0M1414 1039h0M1456 1082h0M1440 1043h0M1422 1008h0M1427 998h0M1475 1071h0M1479 1038h0M1484 1076h0M1465 1163h0M1449 1011h0M1471 1017h0M1442 1088h0M1427 1058h0M1456 1117h0M1438 1077h0M1476 1118h0M1423 1039h0M1392 1059h0M1428 1040h0M1398 1043h0M1488 1115h0M1427 1071h0M1432 1140h0M1485 1148h0M1486 1098h0" stroke="#474747" stroke-width="11" stroke-linecap="round"/>
<path d="M1431 1022h0M1452 1027h0M1414 1062h0M1416 1035h0M1440 1115h0M1439 1049h0M1465 1083h0M1470 1040h0M1461 1107h0M1479 1090h0M1461 1022h0M1435 1090h0M1406 1101h0M1439 1070h0M1440 1016h0M1431 1095h0M1457 1076h0M1454 1063h0M1467 1079h0M1481 1082h0M1419 1085h0M1452 1074h0M1431 1006h0M1430 1021h0M1464 1121h0M1465 1012h0M1413 1047h0M1414 1039h0M1456 1082h0M1440 1043h0M1422 1008h0M1427 998h0M1475 1071h0M1479 1038h0M1484 1076h0M1465 1163h0M1449 1011h0M1471 1017h0M1442 1088h0M1427 1058h0M1456 1117h0M1438 1077h0M1476 1118h0M1423 1039h0M1392 1059h0" stroke="#292a74" stroke-width="9.2" stroke-linecap="round"/>
<path d="M1428 1040h0M1398 1043h0M1488 1115h0M1427 1071h0M1432 1140h0M1485 1148h0M1486 1098h0" stroke="#1b6332" stroke-width="9.2" stroke-linecap="round"/>
<path d="M1454 1056h0M1453 1070h0M1428 1064h0M1436 1118h0M1471 1057h0M1461 984h0M1477 1097h0M1455 1050h0M1464 1104h0M1459 1031h0M1451 1039h0M1439 1072h0M1431 1096h0M1419 1124h0M1489 1058h0M1440 1087h0M1477 1092h0M1442 1066h0M1414 1071h0M1387 1008h0M1405 1054h0M1467 1004h0M1464 1016h0M1472 1098h0M1400 1036h0M1437 994h0M1433 1098h0M1471 1105h0M1416 1098h0M1472 1089h0M1482 1123h0M1472 1105h0M1406 1031h0M1445 1020h0M1464 1048h0M1433 1057h0M1456 1012h0M1412 1041h0M1436 1070h0M1444 1088h0M1474 1089h0M1421 1100h0M1427 1122h0M1457 1121h0M1418 1022h0M1426 1018h0M1424 1073h0M1439 1024h0M1461 1026h0M1436 1035h0M1485 1067h0" stroke="#474747" stroke-width="11" stroke-linecap="round"/>
<path d="M1454 1056h0M1453 1070h0M1428 1064h0M1436 1118h0M1471 1057h0M1461 984h0M1477 1097h0M1455 1050h0M1464 1104h0M1459 1031h0M1451 1039h0M1439 1072h0M1431 1096h0M1419 1124h0M1489 1058h0M1440 1087h0M1477 1092h0M1442 1066h0M1414 1071h0M1387 1008h0M1405 1054h0M1467 1004h0M1464 1016h0M1472 1098h0M1400 1036h0M1437 994h0M1433 1098h0M1471 1105h0M1416 1098h0M1472 1089h0M1482 1123h0M1472 1105h0M1406 1031h0M1445 1020h0M1464 1048h0M1433 1057h0M1456 1012h0M1412 1041h0M1436 1070h0M1444 1088h0M1474 1089h0M1421 1100h0M1427 1122h0M1457 1121h0M1418 1022h0M1426 1018h0" stroke="#292a74" stroke-width="9.2" stroke-linecap="round"/>
<path d="M1424 1073h0M1439 1024h0M1461 1026h0M1436 1035h0M1485 1067h0" stroke="#1b6332" stroke-width="9.2" stroke-linecap="round"/>
<path d="M1459 1069h0M1443 1076h0M1470 1037h0M1456 1098h0M1457 1111h0M1478 1057h0M1490 1065h0M1416 1088h0M1431 1077h0M1485 1092h0M1468 1100h0M1417 1035h0M1409 1106h0M1458 1054h0M1431 1048h0M1426 1113h0M1481 1084h0M1464 1117h0M1445 1056h0M1444 1098h0M1468 1063h0M1412 1039h0M1474 1053h0M1431 998h0M1469 1050h0M1457 1072h0M1450 1063h0M1433 1068h0M1456 1060h0M1447 1066h0M1458 1023h0M1426 1080h0M1426 1050h0M1445 1038h0M1462 1075h0M1416 1046h0M1470 1046h0M1376 1065h0M1428 1060h0M1399 1018h0M1422 1117h0M1469 1083h0M1418 1093h0M1417 1036h0M1484 1092h0M1411 1055h0M1431 1055h0M1466 1043h0M1412 1070h0M1434 1018h0M1414 1022h0M1458 1094h0" stroke="#474747" stroke-width="11" stroke-linecap="round"/>
<path d="M1459 1069h0M1443 1076h0M1470 1037h0M1456 1098h0M1457 1111h0M1478 1057h0M1490 1065h0M1416 1088h0M1431 1077h0M1485 1092h0M1468 1100h0M1417 1035h0M1409 1106h0M1458 1054h0M1431 1048h0M1426 1113h0M1481 1084h0M1464 1117h0M1445 1056h0M1444 1098h0M1468 1063h0M1412 1039h0M1474 1053h0M1431 998h0M1469 1050h0M1457 1072h0M1450 1063h0M1433 1068h0M1456 1060h0M1447 1066h0M1458 1023h0M1426 1080h0M1426 1050h0M1445 1038h0M1462 1075h0M1416 1046h0M1470 1046h0M1376 1065h0M1428 1060h0M1399 1018h0M1422 1117h0M1469 1083h0M1418 1093h0M1417 1036h0M1484 1092h0M1411 1055h0M1431 1055h0M1466 1043h0" stroke="#292a74" stroke-width="9.2" stroke-linecap="round"/>
<path d="M1412 1070h0M1434 1018h0M1414 1022h0M1458 1094h0" stroke="#1b6332" stroke-width="9.2" stroke-linecap="round"/>
<path d="M1433 1066h0M1447 1013h0M1480 1055h0M1443 1079h0M1479 1152h0M1491 1070h0M1425 1093h0M1474 1054h0M1414 1131h0M1453 1052h0M1452 1089h0M1446 1054h0M1449 985h0M1395 1092h0M1447 1040h0M1452 1036h0M1459 1043h0M1457 1094h0M1432 1022h0M1480 1045h0M1429 1102h0M1475 1139h0M1461 1053h0M1438 1052h0M1444 1047h0M1488 1038h0M1447 1069h0M1454 1011h0M1410 1089h0M1420 1033h0M1428 1031h0M1473 1021h0M1476 1042h0M1393 1059h0M1432 1086h0M1468 1041h0M1448 1053h0M1443 1126h0M1440 1142h0M1419 1041h0M1480 1087h0M1449 1111h0M1408 1034h0M1460 1105h0M1428 1106h0M1432 1010h0M1502 1016h0M1465 1065h0M1438 1046h0M1446 1082h0M1453 1100h0M1418 1057h0" stroke="#474747" stroke-width="11" stroke-linecap="round"/>
<path d="M1433 1066h0M1447 1013h0M1480 1055h0M1443 1079h0M1479 1152h0M1491 1070h0M1425 1093h0M1474 1054h0M1414 1131h0M1453 1052h0M1452 1089h0M1446 1054h0M1449 985h0M1395 1092h0M1447 1040h0M1452 1036h0M1459 1043h0M1457 1094h0M1432 1022h0M1480 1045h0M1429 1102h0M1475 1139h0M1461 1053h0M1438 1052h0M1444 1047h0M1488 1038h0M1447 1069h0M1454 1011h0M1410 1089h0M1420 1033h0M1428 1031h0M1473 1021h0M1476 1042h0M1393 1059h0M1432 1086h0M1468 1041h0M1448 1053h0M1443 1126h0M1440 1142h0M1419 1041h0M1480 1087h0M1449 1111h0M1408 1034h0M1460 1105h0M1428 1106h0M1432 1010h0M1502 1016h0" stroke="#292a74" stroke-width="9.2" stroke-linecap="round"/>
<path d="M1465 1065h0M1438 1046h0M1446 1082h0M1453 1100h0M1418 1057h0" stroke="#1b6332" stroke-width="9.2" stroke-linecap="round"/>
<path d="M1419 1069h0M1493 1053h0M1448 1067h0M1463 1084h0M1478 1094h0M1454 1054h0M1437 1085h0M1454 1066h0M1457 1046h0M1464 1082h0M1433 1103h0M1459 1014h0M1440 1074h0M1445 1068h0M1421 1031h0M1418 1029h0M1449 1108h0M1477 1033h0M1456 1091h0M1458 1091h0M1470 1104h0M1439 1075h0M1449 1073h0M1443 1047h0M1454 1083h0M1437 1088h0M1417 1100h0M1451 1138h0M1420 1086h0M1456 1100h0" stroke="#474747" stroke-width="11" stroke-linecap="round"/>
<path d="M1419 1069h0M1493 1053h0M1448 1067h0M1463 1084h0M1478 1094h0M1454 1054h0M1437 1085h0M1454 1066h0M1457 1046h0M1464 1082h0M1433 1103h0M1459 1014h0M1440 1074h0M1445 1068h0M1421 1031h0M1418 1029h0M1449 1108h0M1477 1033h0" stroke="#f0644a" stroke-width="9.2" stroke-linecap="round"/>
<path d="M1456 1091h0M1458 1091h0M1470 1104h0M1439 1075h0M1449 1073h0M1443 1047h0M1454 1083h0M1437 1088h0" stroke="#d49dc8" stroke-width="9.2" stroke-linecap="round"/>
<path d="M1417 1100h0M1451 1138h0M1420 1086h0M1456 1100h0" stroke="#1b6332" stroke-width="9.2" stroke-linecap="round"/>
<path d="M1473 1042h0M1456 1066h0M1420 1077h0M1437 1078h0M1474 1024h0M1480 1074h0M1454 1034h0M1449 1080h0M1429 1040h0M1441 1072h0M1445 1063h0M1439 1053h0M1453 1099h0M1465 1109h0M1455 1025h0M1446 1107h0M1441 1070h0M1455 1054h0M1452 1082h0M1451 1058h0M1434 1107h0M1441 1130h0M1452 1018h0M1410 1096h0M1428 1074h0M1449 1099h0M1489 1034h0M1439 1125h0M1437 1088h0M1436 1129h0" stroke="#474747" stroke-width="11" stroke-linecap="round"/>
<path d="M1473 1042h0M1456 1066h0M1420 1077h0M1437 1078h0M1474 1024h0M1480 1074h0M1454 1034h0M1449 1080h0M1429 1040h0M1441 1072h0M1445 1063h0M1439 1053h0M1453 1099h0M1465 1109h0M1455 1025h0M1446 1107h0M1441 1070h0M1455 1054h0M1452 1082h0M1451 1058h0" stroke="#f0644a" stroke-width="9.2" stroke-linecap="round"/>
<path d="M1434 1107h0M1441 1130h0M1452 1018h0M1410 1096h0" stroke="#1b6332" stroke-width="9.2" stroke-linecap="round"/>
<path d="M1428 1074h0M1449 1099h0M1489 1034h0M1439 1125h0M1437 1088h0M1436 1129h0" stroke="#d49dc8" stroke-width="9.2" stroke-linecap="round"/>
<path d="M1404 1053h0M1467 1081h0M1464 1032h0M1425 1134h0M1426 1077h0M1476 1058h0M1460 1033h0M1437 1003h0M1458 1043h0M1465 1041h0M1472 1092h0M1459 1103h0M1459 1036h0M1476 1123h0M1463 1098h0M1461 1068h0M1475 1069h0M1430 1043h0M1440 1059h0M1439 1074h0M1434 1051h0M1448 1059h0M1461 1069h0M1437 1121h0M1446 1053h0M1455 1084h0M1467 1101h0M1436 1079h0M1461 1078h0M1451 1056h0" stroke="#474747" stroke-width="11" stroke-linecap="round"/>
<path d="M1404 1053h0M1467 1081h0M1464 1032h0M1425 1134h0" stroke="#1b6332" stroke-width="9.2" stroke-linecap="round"/>
<path d="M1426 1077h0M1476 1058h0M1460 1033h0M1437 1003h0M1458 1043h0M1465 1041h0M1472 1092h0M1459 1103h0M1459 1036h0M1476 1123h0M1463 1098h0M1461 1068h0M1475 1069h0M1430 1043h0M1440 1059h0M1439 1074h0" stroke="#f0644a" stroke-width="9.2" stroke-linecap="round"/>
<path d="M1434 1051h0M1448 1059h0M1461 1069h0M1437 1121h0M1446 1053h0M1455 1084h0M1467 1101h0M1436 1079h0M1461 1078h0M1451 1056h0" stroke="#d49dc8" stroke-width="9.2" stroke-linecap="round"/>
<path d="M1439 1080h0M1459 1042h0M1458 1096h0M1439 1083h0M1469 1042h0M1454 1034h0M1472 1094h0M1432 1063h0M1450 1078h0M1452 1108h0M1442 1071h0M1447 1049h0M1457 1066h0M1454 1057h0M1430 1062h0M1433 1052h0M1482 1102h0M1462 1128h0M1459 1074h0M1477 1109h0M1466 1110h0M1451 1146h0M1444 1074h0M1458 1060h0M1448 1101h0M1424 1087h0M1427 1035h0M1475 1102h0M1456 1032h0M1449 1048h0" stroke="#474747" stroke-width="11" stroke-linecap="round"/>
<path d="M1439 1080h0M1459 1042h0M1458 1096h0M1439 1083h0M1469 1042h0M1454 1034h0M1472 1094h0M1432 1063h0M1450 1078h0M1452 1108h0M1442 1071h0M1447 1049h0M1457 1066h0M1454 1057h0M1430 1062h0M1433 1052h0M1482 1102h0M1462 1128h0M1459 1074h0M1477 1109h0" stroke="#f0644a" stroke-width="9.2" stroke-linecap="round"/>
<path d="M1466 1110h0M1451 1146h0M1444 1074h0M1458 1060h0" stroke="#d49dc8" stroke-width="9.2" stroke-linecap="round"/>
<path d="M1448 1101h0M1424 1087h0M1427 1035h0M1475 1102h0M1456 1032h0M1449 1048h0" stroke="#1b6332" stroke-width="9.2" stroke-linecap="round"/>
<path d="M1440 1043h0M1432 1055h0M1438 1097h0M1456 1057h0M1454 1063h0M1453 1045h0M1453 1073h0M1479 1045h0M1448 1047h0M1463 1042h0M1464 1031h0M1442 1080h0M1457 1044h0M1475 1050h0M1449 1035h0M1459 1088h0M1456 1083h0M1469 1052h0M1447 1040h0M1471 1083h0M1433 1036h0M1456 1087h0M1469 1071h0M1431 1050h0M1428 1061h0M1471 1051h0M1474 1063h0M1463 1090h0M1459 1142h0M1443 1168h0" stroke="#474747" stroke-width="11" stroke-linecap="round"/>
<path d="M1440 1043h0M1432 1055h0M1438 1097h0M1456 1057h0M1454 1063h0M1453 1045h0M1453 1073h0M1479 1045h0M1448 1047h0M1463 1042h0M1464 1031h0M1442 1080h0M1457 1044h0M1475 1050h0M1449 1035h0M1459 1088h0M1456 1083h0M1469 1052h0M1447 1040h0M1471 1083h0M1433 1036h0M1456 1087h0M1469 1071h0" stroke="#f0644a" stroke-width="9.2" stroke-linecap="round"/>
<path d="M1431 1050h0M1428 1061h0M1471 1051h0M1474 1063h0M1463 1090h0" stroke="#d49dc8" stroke-width="9.2" stroke-linecap="round"/>
<path d="M1459 1142h0M1443 1168h0" stroke="#1b6332" stroke-width="9.2" stroke-linecap="round"/>
<path d="M1463 1140h0M1475 1086h0M1471 1134h0M1477 1069h0M1453 1066h0M1440 1082h0M1466 1108h0M1460 1053h0M1445 1052h0M1469 1086h0M1450 1044h0M1450 1049h0M1463 1075h0M1454 1056h0M1459 1090h0M1484 1071h0M1453 1074h0M1449 1045h0M1423 1091h0M1415 1089h0M1441 1111h0M1451 1062h0M1445 1081h0M1435 1049h0M1449 1073h0M1448 1051h0M1466 1029h0M1448 1038h0M1460 1077h0M1437 1071h0" stroke="#474747" stroke-width="11" stroke-linecap="round"/>
<path d="M1463 1140h0M1475 1086h0M1471 1134h0M1477 1069h0M1453 1066h0M1440 1082h0M1466 1108h0M1460 1053h0" stroke="#d49dc8" stroke-width="9.2" stroke-linecap="round"/>
<path d="M1445 1052h0M1469 1086h0M1450 1044h0M1450 1049h0M1463 1075h0M1454 1056h0M1459 1090h0M1484 1071h0M1453 1074h0M1449 1045h0M1423 1091h0M1415 1089h0M1441 1111h0M1451 1062h0M1445 1081h0M1435 1049h0M1449 1073h0M1448 1051h0M1466 1029h0M1448 1038h0M1460 1077h0" stroke="#f0644a" stroke-width="9.2" stroke-linecap="round"/>
<path d="M1437 1071h0" stroke="#1b6332" stroke-width="9.2" stroke-linecap="round"/>
<path d="M1453 1084h0M1419 1064h0M1447 1093h0M1443 1114h0M1448 1068h0M1438 1051h0M1418 1033h0M1459 1095h0M1417 1092h0M1457 1048h0M1463 1065h0M1413 1038h0M1464 1080h0M1422 1031h0M1474 1107h0M1458 1086h0M1437 1095h0M1422 1047h0M1438 1051h0M1475 1066h0M1483 1081h0M1479 1048h0M1466 1088h0M1470 1089h0M1473 1082h0M1466 1070h0M1456 1078h0M1460 1103h0M1414 1147h0M1449 1152h0" stroke="#474747" stroke-width="11" stroke-linecap="round"/>
<path d="M1453 1084h0M1419 1064h0M1447 1093h0M1443 1114h0M1448 1068h0M1438 1051h0M1418 1033h0M1459 1095h0M1417 1092h0M1457 1048h0M1463 1065h0M1413 1038h0M1464 1080h0M1422 1031h0M1474 1107h0M1458 1086h0M1437 1095h0M1422 1047h0M1438 1051h0M1475 1066h0" stroke="#f0644a" stroke-width="9.2" stroke-linecap="round"/>
<path d="M1483 1081h0M1479 1048h0M1466 1088h0M1470 1089h0M1473 1082h0M1466 1070h0M1456 1078h0" stroke="#d49dc8" stroke-width="9.2" stroke-linecap="round"/>
<path d="M1460 1103h0M1414 1147h0M1449 1152h0" stroke="#1b6332" stroke-width="9.2" stroke-linecap="round"/>
<path d="M1452 1025h0M1466 1080h0M1476 1102h0M1489 1098h0M1460 1040h0M1476 1037h0M1460 1066h0M1418 1048h0M1469 1044h0M1446 1062h0M1445 1044h0M1459 1075h0M1445 1033h0M1473 1106h0M1485 1044h0M1475 1135h0M1456 1103h0M1472 1103h0M1471 1099h0M1419 1091h0M1450 1105h0M1399 1067h0M1435 1076h0M1430 1069h0M1455 1062h0M1439 1119h0M1447 1095h0M1485 1098h0M1438 1120h0M1446 1080h0" stroke="#474747" stroke-width="11" stroke-linecap="round"/>
<path d="M1452 1025h0M1466 1080h0M1476 1102h0M1489 1098h0M1460 1040h0M1476 1037h0M1460 1066h0M1418 1048h0M1469 1044h0M1446 1062h0M1445 1044h0M1459 1075h0M1445 1033h0M1473 1106h0M1485 1044h0M1475 1135h0" stroke="#f0644a" stroke-width="9.2" stroke-linecap="round"/>
<path d="M1456 1103h0M1472 1103h0M1471 1099h0M1419 1091h0M1450 1105h0M1399 1067h0M1435 1076h0M1430 1069h0M1455 1062h0M1439 1119h0M1447 1095h0" stroke="#1b6332" stroke-width="9.2" stroke-linecap="round"/>
<path d="M1485 1098h0M1438 1120h0M1446 1080h0" stroke="#d49dc8" stroke-width="9.2" stroke-linecap="round"/>
<path d="M1438 1068h0M1457 1037h0M1424 1077h0M1437 1032h0M1404 1065h0M1458 1082h0M1461 1005h0M1463 1056h0M1447 1077h0M1447 1017h0M1456 1102h0M1435 1060h0M1441 1041h0M1467 1058h0M1438 1060h0M1455 1055h0M1458 1089h0M1443 1023h0M1434 1094h0M1451 1078h0M1433 1086h0M1438 1070h0M1473 1130h0M1424 1097h0M1440 1100h0M1456 1095h0M1461 1093h0M1455 1010h0M1427 1058h0M1434 1045h0" stroke="#474747" stroke-width="11" stroke-linecap="round"/>
<path d="M1438 1068h0M1457 1037h0M1424 1077h0M1437 1032h0M1404 1065h0M1458 1082h0M1461 1005h0M1463 1056h0M1447 1077h0M1447 1017h0M1456 1102h0M1435 1060h0M1441 1041h0M1467 1058h0M1438 1060h0M1455 1055h0M1458 1089h0M1443 1023h0M1434 1094h0M1451 1078h0" stroke="#f0644a" stroke-width="9.2" stroke-linecap="round"/>
<path d="M1433 1086h0M1438 1070h0M1473 1130h0M1424 1097h0M1440 1100h0M1456 1095h0" stroke="#d49dc8" stroke-width="9.2" stroke-linecap="round"/>
<path d="M1461 1093h0M1455 1010h0M1427 1058h0M1434 1045h0" stroke="#1b6332" stroke-width="9.2" stroke-linecap="round"/>
<path d="M1458 1032h0M1430 1079h0M1446 1068h0M1420 1083h0M1474 1027h0M1476 1069h0M1466 1085h0M1468 1074h0M1436 999h0M1466 1091h0M1420 1078h0M1428 1039h0M1461 1034h0M1443 1047h0M1443 1087h0M1427 1076h0M1450 1049h0M1466 1051h0M1443 1058h0M1469 1086h0M1469 1079h0M1447 1085h0M1445 1079h0M1479 1086h0M1416 1082h0M1467 1084h0M1461 1037h0M1437 1108h0M1417 1126h0M1481 1063h0" stroke="#474747" stroke-width="11" stroke-linecap="round"/>
<path d="M1458 1032h0M1430 1079h0M1446 1068h0M1420 1083h0M1474 1027h0M1476 1069h0M1466 1085h0M1468 1074h0M1436 999h0M1466 1091h0M1420 1078h0M1428 1039h0M1461 1034h0M1443 1047h0M1443 1087h0M1427 1076h0M1450 1049h0M1466 1051h0M1443 1058h0" stroke="#f0644a" stroke-width="9.2" stroke-linecap="round"/>
<path d="M1469 1086h0M1469 1079h0M1447 1085h0M1445 1079h0M1479 1086h0" stroke="#d49dc8" stroke-width="9.2" stroke-linecap="round"/>
<path d="M1416 1082h0M1467 1084h0M1461 1037h0M1437 1108h0M1417 1126h0M1481 1063h0" stroke="#1b6332" stroke-width="9.2" stroke-linecap="round"/>
<path d="M1457 1008h0M1456 1054h0M1446 1066h0M1445 1032h0M1464 1063h0M1460 1023h0M1452 1030h0M1464 1055h0M1457 1081h0M1442 1087h0M1456 1086h0M1461 1075h0M1461 1078h0M1459 1070h0M1434 1087h0M1476 1051h0M1437 1075h0M1414 1103h0M1408 1015h0M1449 1094h0M1424 1131h0M1435 1053h0M1449 1060h0M1469 1068h0M1439 1059h0M1460 1085h0M1461 1123h0M1446 1070h0M1445 1049h0M1459 1046h0" stroke="#474747" stroke-width="11" stroke-linecap="round"/>
<path d="M1457 1008h0M1456 1054h0M1446 1066h0M1445 1032h0M1464 1063h0M1460 1023h0M1452 1030h0M1464 1055h0M1457 1081h0M1442 1087h0M1456 1086h0M1461 1075h0M1461 1078h0M1459 1070h0M1434 1087h0M1476 1051h0M1437 1075h0" stroke="#f0644a" stroke-width="9.2" stroke-linecap="round"/>
<path d="M1414 1103h0M1408 1015h0M1449 1094h0M1424 1131h0M1435 1053h0M1449 1060h0M1469 1068h0M1439 1059h0M1460 1085h0" stroke="#1b6332" stroke-width="9.2" stroke-linecap="round"/>
<path d="M1461 1123h0M1446 1070h0M1445 1049h0M1459 1046h0" stroke="#d49dc8" stroke-width="9.2" stroke-linecap="round"/>
<path d="M1466 1125h0M1459 1087h0M1455 1040h0M1466 1133h0M1417 1044h0M1428 1045h0M1463 1091h0M1438 1036h0M1470 1011h0M1454 1069h0M1436 1089h0M1446 1014h0M1483 1068h0M1464 1093h0M1445 1064h0M1466 1067h0M1424 1054h0M1452 1029h0M1463 1057h0M1422 1078h0M1465 1081h0M1451 1094h0M1458 1065h0M1452 1108h0M1477 1142h0M1419 1126h0M1444 1069h0M1432 1104h0M1446 1075h0M1423 1096h0" stroke="#474747" stroke-width="11" stroke-linecap="round"/>
<path d="M1466 1125h0M1459 1087h0M1455 1040h0M1466 1133h0" stroke="#d49dc8" stroke-width="9.2" stroke-linecap="round"/>
<path d="M1417 1044h0M1428 1045h0M1463 1091h0M1438 1036h0M1470 1011h0M1454 1069h0M1436 1089h0M1446 1014h0M1483 1068h0M1464 1093h0M1445 1064h0M1466 1067h0M1424 1054h0M1452 1029h0M1463 1057h0M1422 1078h0M1465 1081h0M1451 1094h0M1458 1065h0M1452 1108h0" stroke="#f0644a" stroke-width="9.2" stroke-linecap="round"/>
<path d="M1477 1142h0M1419 1126h0M1444 1069h0M1432 1104h0M1446 1075h0M1423 1096h0" stroke="#1b6332" stroke-width="9.2" stroke-linecap="round"/>
<line x1="1319.5" y1="896.4" x2="1319.5" y2="1184.6" stroke="#3f3f3f" stroke-width="1.5" />
<line x1="1319.5" y1="1184.6" x2="1603.9" y2="1184.6" stroke="#3f3f3f" stroke-width="1.5" />
<line x1="1363.4" y1="1184.6" x2="1363.4" y2="1194.6" stroke="#737373" stroke-width="1.8" />
<text x="1363.4" y="1223.6" font-size="22" text-anchor="middle" >11</text>
<line x1="1434.6" y1="1184.6" x2="1434.6" y2="1194.6" stroke="#737373" stroke-width="1.8" />
<text x="1434.6" y="1223.6" font-size="22" text-anchor="middle" >12</text>
<line x1="1506.1" y1="1184.6" x2="1506.1" y2="1194.6" stroke="#737373" stroke-width="1.8" />
<text x="1506.1" y="1223.6" font-size="22" text-anchor="middle" >13</text>
<line x1="1577.4" y1="1184.6" x2="1577.4" y2="1194.6" stroke="#737373" stroke-width="1.8" />
<text x="1577.4" y="1223.6" font-size="22" text-anchor="middle" >14</text>
<line x1="1309.5" y1="1151.5" x2="1319.5" y2="1151.5" stroke="#737373" stroke-width="1.8" />
<text x="1297" y="1159.3" font-size="22" text-anchor="end" >9</text>
<line x1="1309.5" y1="1095.3" x2="1319.5" y2="1095.3" stroke="#737373" stroke-width="1.8" />
<text x="1297" y="1103.1" font-size="22" text-anchor="end" >10</text>
<line x1="1309.5" y1="1039.1" x2="1319.5" y2="1039.1" stroke="#737373" stroke-width="1.8" />
<text x="1297" y="1046.9" font-size="22" text-anchor="end" >11</text>
<line x1="1309.5" y1="982.7" x2="1319.5" y2="982.7" stroke="#737373" stroke-width="1.8" />
<text x="1297" y="990.5" font-size="22" text-anchor="end" >12</text>
<line x1="1309.5" y1="926.2" x2="1319.5" y2="926.2" stroke="#737373" stroke-width="1.8" />
<text x="1297" y="934" font-size="22" text-anchor="end" >13</text>
<text x="1437.3" y="926.2" font-size="23" ><tspan font-style="italic">ρ</tspan> = −0.2</text>
<text x="1461.6" y="1265" font-size="23" text-anchor="middle" ><tspan font-style="italic">MAP3K2</tspan> (gene expression)</text>
<text x="1251" y="1040.5" font-size="23" text-anchor="middle" transform="rotate(-90 1251 1040.5)" ><tspan font-style="italic">ESRRA</tspan> (gene expression)</text>
<path d="M1802 1059h0M1884 1024h0M1824 1014h0M1809 980h0M1868 1068h0M1858 1071h0M1836 1041h0M1823 1063h0M1816 1035h0M1825 1068h0M1847 1039h0M1810 990h0M1856 1041h0M1807 1017h0M1836 1008h0M1843 1008h0M1817 1021h0M1842 1108h0M1837 1088h0M1801 975h0M1800 1066h0M1824 1045h0M1863 1002h0M1873 1085h0M1797 1121h0M1829 1077h0M1857 1012h0M1826 1000h0M1859 1020h0M1812 943h0M1802 984h0M1811 1117h0M1814 1114h0M1824 1047h0M1789 995h0M1817 1124h0M1809 1037h0M1869 1092h0M1822 1016h0M1808 954h0M1835 1040h0M1869 1154h0M1774 1061h0M1813 1073h0M1811 1037h0M1819 978h0M1852 1065h0M1830 1072h0M1840 1104h0M1846 1113h0M1807 1093h0M1785 1042h0M1814 1015h0M1817 1033h0M1807 1062h0M1808 1025h0M1814 1069h0M1826 1000h0M1832 1098h0M1851 1116h0M1828 1038h0M1813 1067h0M1816 984h0M1821 1067h0M1821 1027h0M1830 1029h0M1848 995h0M1803 983h0M1843 1100h0M1779 1116h0M1837 1076h0M1849 1021h0M1795 1001h0M1850 1071h0M1827 962h0M1825 1046h0M1825 984h0M1837 1046h0M1790 1093h0M1824 1063h0M1787 997h0M1804 993h0M1835 1036h0M1775 943h0M1842 1031h0M1836 1013h0M1796 1009h0M1802 1045h0M1803 1082h0M1817 1031h0M1860 1048h0M1875 1064h0M1811 1021h0M1801 1044h0M1803 988h0M1822 999h0M1818 1054h0M1837 976h0M1869 1045h0M1790 1093h0M1825 1088h0M1758 1042h0M1805 1008h0M1804 1056h0M1780 980h0M1843 948h0M1798 1068h0M1821 1028h0M1820 1070h0M1832 983h0M1802 1105h0M1771 990h0M1858 1058h0M1818 1029h0M1805 1020h0M1862 1067h0M1771 1061h0M1828 959h0M1768 1001h0M1832 1020h0M1832 974h0M1790 1057h0M1792 991h0M1819 1041h0M1825 1102h0M1828 1065h0M1815 1027h0M1816 1070h0M1825 1076h0M1840 1010h0M1881 1040h0M1817 1055h0M1840 1104h0M1811 1008h0M1808 986h0M1874 1039h0M1815 1007h0M1870 1051h0M1843 990h0M1856 997h0M1790 1017h0M1781 987h0M1874 1047h0M1812 970h0M1808 986h0M1818 1039h0M1822 983h0M1775 1014h0M1862 1049h0M1818 1024h0M1846 1059h0M1873 1018h0M1836 1040h0M1794 1026h0M1840 954h0M1811 1133h0M1826 1051h0M1825 980h0M1824 1067h0M1791 1082h0M1771 970h0M1836 966h0M1799 1046h0M1834 1025h0M1803 1047h0M1810 1070h0M1852 1016h0M1778 999h0M1805 1030h0M1827 1079h0M1827 1029h0M1801 1055h0M1814 1056h0M1775 1018h0M1867 1041h0M1795 1087h0M1835 1006h0M1786 1047h0M1804 1046h0M1799 1078h0M1795 1062h0M1794 1093h0M1837 1045h0M1808 1068h0M1780 1048h0M1849 995h0M1842 1070h0M1825 1002h0M1830 1075h0M1825 1040h0M1793 1101h0M1843 1038h0M1829 1015h0M1822 1167h0M1835 1079h0M1824 1024h0M1797 1027h0M1842 1069h0M1797 1043h0M1779 1010h0M1849 1031h0M1800 1103h0M1819 1009h0M1855 1077h0M1821 1035h0M1831 1036h0M1795 1047h0M1792 985h0M1787 1005h0M1829 1022h0M1806 966h0M1802 1054h0M1829 1045h0M1783 994h0M1833 1044h0M1848 1081h0M1843 1023h0M1857 1018h0M1819 1092h0M1797 1010h0M1819 1064h0M1805 1036h0M1784 1025h0M1842 985h0M1811 1025h0M1838 997h0M1849 1054h0M1743 1012h0M1789 1058h0M1801 981h0M1824 1037h0M1795 1057h0M1830 998h0M1823 1006h0M1808 1016h0M1821 1023h0M1780 1017h0M1788 1019h0M1831 1040h0M1783 1046h0M1823 1023h0M1828 1055h0M1793 973h0M1780 1028h0M1844 1044h0M1855 1116h0M1876 1063h0M1833 1045h0M1843 1115h0M1785 1058h0M1802 1066h0M1833 1045h0M1799 1003h0M1824 1112h0M1857 1027h0M1810 992h0M1814 994h0M1809 1040h0M1832 1104h0M1838 1017h0M1830 1036h0M1795 1008h0M1790 1004h0M1848 1051h0M1881 1107h0M1850 1073h0M1887 1111h0M1802 1022h0M1832 1057h0M1769 1114h0M1851 1129h0M1831 1022h0M1797 1095h0M1789 1108h0M1801 996h0M1830 1053h0M1811 1070h0M1809 1041h0M1795 981h0M1824 1046h0M1821 988h0M1816 1014h0M1778 1038h0M1853 1014h0M1787 1080h0M1822 1097h0M1825 1070h0M1811 996h0M1807 1068h0M1848 1059h0M1787 1073h0M1852 1046h0M1772 1057h0M1798 1012h0M1829 1076h0M1862 1051h0M1901 1021h0M1769 1071h0M1794 1083h0M1834 1088h0M1850 1121h0M1825 1003h0M1876 1049h0M1834 1009h0M1801 1058h0M1781 1033h0M1798 998h0M1835 1031h0M1830 988h0M1737 1034h0M1816 1123h0M1818 1092h0M1809 1080h0M1816 1050h0M1770 1068h0M1830 1091h0M1758 1055h0M1795 1097h0M1875 1052h0M1793 1043h0M1786 1014h0M1831 988h0M1834 1051h0M1882 984h0M1800 1061h0M1833 1069h0M1781 1057h0M1832 1084h0M1829 996h0M1804 1122h0M1855 1034h0M1831 1030h0M1845 1040h0M1825 1049h0M1825 1018h0M1818 990h0M1830 1058h0M1850 1042h0M1788 990h0M1825 1126h0M1825 1006h0M1796 1074h0M1801 1054h0M1888 1015h0M1822 1014h0M1812 1038h0M1826 1059h0M1852 1074h0M1756 1028h0M1784 1007h0M1813 998h0M1841 1034h0M1827 1036h0M1812 997h0M1802 1057h0M1798 1041h0M1836 1035h0M1779 1045h0M1759 998h0M1782 1044h0M1821 1054h0M1858 949h0M1794 1067h0M1809 1006h0M1783 1022h0M1821 1073h0M1814 1025h0M1841 1093h0M1795 1085h0M1801 1025h0M1831 1132h0M1799 1116h0M1799 1068h0M1849 1077h0M1807 1031h0M1845 1127h0M1782 1023h0M1830 1069h0M1838 1054h0M1783 1081h0M1814 1084h0M1864 1040h0M1811 1047h0M1797 965h0M1792 988h0M1829 1048h0M1848 1018h0M1830 1073h0M1816 1065h0M1829 1018h0M1814 1058h0M1829 1059h0M1772 1084h0M1821 1055h0M1835 1060h0M1812 1041h0M1829 1008h0M1832 1061h0M1788 1134h0M1807 1099h0M1847 1017h0M1836 1064h0M1854 1016h0M1828 950h0M1868 1130h0M1833 986h0M1843 1032h0M1853 1055h0M1818 1119h0M1769 1089h0M1816 1002h0M1850 1131h0M1801 953h0M1791 1025h0M1790 1043h0M1868 1144h0M1808 1043h0M1794 999h0M1801 1023h0M1828 1027h0M1809 1031h0M1834 1028h0M1809 1006h0M1813 960h0M1827 1076h0M1864 1059h0M1797 1002h0M1774 1057h0M1864 1123h0M1858 1046h0M1810 1069h0M1841 999h0M1824 988h0M1839 998h0M1779 975h0M1827 994h0M1872 1059h0M1809 1087h0M1794 1013h0M1828 955h0M1797 1016h0M1854 987h0M1789 998h0M1754 1012h0M1843 1095h0M1835 1038h0M1856 999h0M1799 1043h0M1802 1042h0M1810 1082h0M1863 1108h0M1801 1070h0M1822 1102h0M1834 1003h0M1809 979h0M1843 1105h0M1850 1017h0M1766 1019h0M1870 1073h0M1822 1041h0M1829 972h0M1860 1056h0M1814 1019h0M1854 1073h0M1856 1054h0M1805 1137h0M1858 1056h0M1858 1028h0M1812 1116h0M1839 1056h0M1838 1135h0M1763 1007h0M1794 1051h0M1822 1028h0M1798 1114h0M1843 1041h0M1790 1031h0M1815 1096h0M1797 1003h0M1840 978h0M1840 1062h0M1817 1076h0M1832 1026h0M1858 963h0M1818 1056h0M1844 1091h0M1854 1050h0M1795 1083h0M1790 1043h0M1780 1089h0M1832 1095h0M1821 971h0M1870 1034h0M1811 1069h0M1841 1071h0M1823 978h0M1794 1060h0M1813 1004h0M1862 1033h0M1766 994h0M1993 961h0M1734 1055h0M1825 1170h0M1877 910h0M1805 915h0M1818 920h0M1750 1081h0M1761 1097h0" stroke="#4b4b4b" stroke-width="9.4" stroke-linecap="round"/>
<line x1="1723.3" y1="896.3" x2="1723.3" y2="1184.5" stroke="#3f3f3f" stroke-width="1.5" />
<line x1="1723.3" y1="1184.5" x2="2006.6" y2="1184.5" stroke="#3f3f3f" stroke-width="1.5" />
<line x1="1757.5" y1="1184.5" x2="1757.5" y2="1194.5" stroke="#737373" stroke-width="1.8" />
<text x="1757.5" y="1223.5" font-size="22" text-anchor="middle" >0</text>
<line x1="1834.6" y1="1184.5" x2="1834.6" y2="1194.5" stroke="#737373" stroke-width="1.8" />
<text x="1834.6" y="1223.5" font-size="22" text-anchor="middle" >1</text>
<line x1="1911.9" y1="1184.5" x2="1911.9" y2="1194.5" stroke="#737373" stroke-width="1.8" />
<text x="1911.9" y="1223.5" font-size="22" text-anchor="middle" >2</text>
<line x1="1989" y1="1184.5" x2="1989" y2="1194.5" stroke="#737373" stroke-width="1.8" />
<text x="1989" y="1223.5" font-size="22" text-anchor="middle" >3</text>
<line x1="1713.3" y1="1184" x2="1723.3" y2="1184" stroke="#737373" stroke-width="1.8" />
<text x="1700.8" y="1191.8" font-size="22" text-anchor="end" >−2</text>
<line x1="1713.3" y1="1091.9" x2="1723.3" y2="1091.9" stroke="#737373" stroke-width="1.8" />
<text x="1700.8" y="1099.7" font-size="22" text-anchor="end" >−1</text>
<line x1="1713.3" y1="1000.1" x2="1723.3" y2="1000.1" stroke="#737373" stroke-width="1.8" />
<text x="1700.8" y="1007.9" font-size="22" text-anchor="end" >0</text>
<line x1="1713.3" y1="908.5" x2="1723.3" y2="908.5" stroke="#737373" stroke-width="1.8" />
<text x="1700.8" y="916.3" font-size="22" text-anchor="end" >1</text>
<text x="1852.2" y="928.8" font-size="23" ><tspan font-style="italic">ρ</tspan> = −0.1</text>
<text x="1865.2" y="1263.7" font-size="23" text-anchor="middle" ><tspan font-style="italic">MAP3K2</tspan> (gene expression)</text>
<text x="1652" y="1040.5" font-size="23" text-anchor="middle" transform="rotate(-90 1652 1040.5)" ><tspan font-style="italic">ESRRA</tspan> (gene expression)</text>
<text x="2000.1" y="920.2" font-size="22" >Batch</text>
<circle cx="2019.9" cy="945.5" r="7.4" fill="#1b6332"/>
<text x="2039.5" y="953.5" font-size="23" >Group1</text>
<circle cx="2019.9" cy="978" r="7.4" fill="#292a74"/>
<text x="2039.5" y="986" font-size="23" >Group2</text>
<circle cx="2019.9" cy="1010.3" r="7.4" fill="#f0644a"/>
<text x="2039.5" y="1018.3" font-size="23" >Group3</text>
<circle cx="2019.9" cy="1042.5" r="7.4" fill="#d49dc8"/>
<text x="2039.5" y="1050.5" font-size="23" >Group4</text>
<text x="210" y="1335" font-size="31" font-weight="bold" font-family='"Liberation Serif", serif' >g</text>
<polygon points="405.3,1484.4 408.6,1471.2 411.9,1462.4 420.7,1453.5 429.6,1446.9 440.6,1440.3 453.8,1433.7 467.1,1427.1 480.3,1422.7 493.5,1416 506.8,1411.6 524.4,1407.2 542.1,1402.8 557.5,1400.6 568.5,1402.8 575.2,1409.4 579.6,1422.7 581.8,1440.3 579.6,1453.5 577.4,1466.8 573,1475.6 564.1,1484.4 559.7,1502.1 550.9,1510.9 542.1,1515.3 528.8,1524.1 511.2,1528.5 493.5,1535.2 475.9,1539.6 458.2,1541.8 440.6,1541.8 427.4,1539.6 416.3,1533 409.7,1519.7 405.3,1506.5 403.1,1495.5" fill="#2a72b8"/>
<polygon points="577.4,1484.4 581.8,1473.4 590.6,1466.8 603.8,1460.2 617.1,1451.3 630.3,1444.7 643.5,1435.9 656.8,1429.3 674.4,1418.2 689.9,1409.4 705.3,1400.6 723,1389.6 736.2,1378.5 745,1374.1 758.3,1374.1 760,1396.2 760,1429.3 759.4,1458 753.9,1466.8 745,1484.4 736.2,1497.7 723,1510.9 705.3,1521.9 687.7,1533 670,1537.4 652.4,1541.8 634.7,1544 612.7,1544 590.6,1541.8 579.6,1535.2 577.4,1517.5 575.2,1502.1" fill="#2a72b8"/>
<g clip-path="url(#hg)"><ellipse cx="481" cy="1485" rx="60" ry="24" transform="rotate(0 481 1485)" fill="#0f58a6" opacity="0.75" filter="url(#hgb0)"/><ellipse cx="482" cy="1485" rx="30" ry="10" transform="rotate(0 482 1485)" fill="#233a78" opacity="0.9" filter="url(#hgb1)"/><ellipse cx="675" cy="1484" rx="68" ry="26" transform="rotate(-8 675 1484)" fill="#0f58a6" opacity="0.75" filter="url(#hgb2)"/><ellipse cx="676" cy="1485" rx="32" ry="10" transform="rotate(-5 676 1485)" fill="#233a78" opacity="0.9" filter="url(#hgb3)"/></g>
<path d="M589.3 1427.9h0M513.4 1403.4h0M584.5 1419.6h0M584.6 1396.2h0M603.9 1396.2h0M541.9 1390.7h0M596 1428.3h0M606.4 1411.8h0M592.7 1399.7h0M571.1 1394.5h0M525.5 1395.4h0M581 1404.7h0M593.9 1417.8h0M487.8 1409.6h0M577.7 1385.5h0M495.9 1411.3h0M581.7 1442.3h0M489.7 1416.3h0M497.8 1405.4h0M490.1 1409.7h0M581.3 1427.5h0M596 1410.9h0M511.7 1409.2h0M560.6 1396.6h0M594.7 1391h0M528.4 1395.2h0M585.2 1417h0M592.3 1386.2h0M595.9 1403.9h0M602.2 1383.5h0M570.7 1385.6h0M589.7 1404h0M606.4 1405.6h0M574.6 1402.6h0M566.3 1384.7h0M525.6 1405.3h0M565.7 1378.1h0M584.4 1430.4h0M585 1430h0M555 1383h0M578.8 1410.1h0M503.5 1403h0M530.4 1396.4h0M591.4 1386.2h0M568.6 1374.4h0M572.6 1395.8h0M548.3 1384.1h0M565.7 1403.8h0M592.6 1429.6h0M537.2 1397h0M585.8 1391.3h0M584.2 1431.6h0M560.1 1397.6h0M583.8 1422.9h0M466.2 1420.9h0M514.9 1408h0M481.1 1412.4h0M584.8 1402.1h0M585.7 1422.7h0M580.6 1411.2h0M545.8 1390.9h0M594.5 1384.3h0M578 1411.2h0M585.5 1426.7h0M567.9 1375.6h0M591.8 1422.5h0M592.7 1422.9h0M570.7 1399.7h0M596.9 1426.3h0M580.4 1433.1h0" stroke="#2a72b8" stroke-width="4.2" stroke-linecap="round"/>
<path d="M573.6 1502.3h0M581.2 1504.1h0M559 1523.1h0M580.3 1505.6h0M576.5 1510.5h0M582.1 1527.8h0M554.5 1544.2h0M583.5 1503.2h0M575.4 1541.6h0M589.2 1537.6h0M582 1547.6h0M585.4 1518h0M580.1 1533.2h0M566.7 1513.3h0M588.7 1516.6h0M577.3 1541h0M571.2 1513.9h0M566.8 1506.7h0M557.1 1546.1h0M556.1 1540.9h0M576.7 1510.5h0M555 1541.8h0M585 1535.7h0M586.6 1523.9h0M584.6 1529.5h0" stroke="#2a72b8" stroke-width="4.2" stroke-linecap="round"/>
<path d="M405.8 1497.7h0M426.4 1454.1h0M573.9 1416.2h0M528.8 1403.1h0M406.6 1521.3h0M545.9 1515h0M572.6 1404.4h0M565.9 1485.9h0M512.6 1412.8h0M566.1 1482h0M451.1 1540.7h0M534.2 1402.8h0M469.2 1423.1h0M469.1 1422h0M500.1 1417.4h0M549.2 1512.1h0M433.2 1533.4h0M419 1532.2h0M544.3 1511.1h0M524.4 1526.4h0M445.2 1437.9h0M571.3 1483.4h0M573.9 1400.6h0M566.5 1480.4h0M403.4 1486.2h0M403.2 1504.2h0M506.3 1534.8h0M465.6 1425.1h0M572.3 1472.7h0M400.3 1478.7h0M407.6 1466.2h0M431.8 1451.4h0M470.9 1426.5h0M470 1542.4h0M459.8 1435.6h0M405.3 1477.3h0M493.4 1411.6h0M579.7 1470.2h0M526.5 1525h0M480.8 1420.2h0M425.5 1455h0M497.1 1533h0M508 1529.5h0M498 1412h0M498.5 1533.2h0M492.2 1537.4h0M441.8 1443.7h0M579.1 1450.2h0M407.9 1509.5h0M475.8 1539.4h0M412.6 1465.3h0M572.8 1410.4h0M467.6 1430.7h0M565.5 1486.9h0M433.8 1443.5h0M465.9 1540.4h0M579.1 1417h0M417 1531.9h0M564.8 1402.2h0M527.8 1409.4h0" stroke="#2a72b8" stroke-width="3.8" stroke-linecap="round"/>
<path d="M737.4 1373.5h0M616 1455.3h0M579.8 1478.3h0M744.3 1492h0M653.2 1426.1h0M754.4 1375.7h0M675.1 1419.4h0M612.7 1540h0M584.5 1541.3h0M729.6 1504.5h0M645.6 1544.9h0M619.2 1451.9h0M578 1513.4h0M675.2 1421.5h0M760.7 1411.6h0M666.8 1420.7h0M744.3 1378.1h0M691.2 1527.5h0M585 1470.1h0M646.4 1432.4h0M680.3 1533.2h0M697.7 1529.1h0M738.9 1380h0M582.4 1475.6h0M653.7 1431h0M619.8 1541.4h0M632.1 1439.2h0M700.1 1524.7h0M616.1 1456.6h0M628.6 1445.7h0M740.4 1378.4h0M576.1 1511.8h0M714.1 1397.8h0M744.3 1485.5h0M757.2 1386.8h0M629.7 1447.1h0M730 1503.9h0M743.9 1481h0M579.5 1511.9h0M760.1 1419h0M679.7 1419.5h0M716.1 1514.8h0M643.7 1433.5h0M747.9 1474.2h0M751.2 1373.9h0M646.2 1541.9h0M678.8 1414.8h0M701.5 1410.5h0M581.8 1480.7h0M760.4 1426.6h0M582.1 1465.7h0M591.1 1462.3h0M727.2 1509.5h0M714.2 1516.4h0M585.4 1538.2h0M722.1 1512.3h0M762 1379.6h0M708.9 1398.2h0M701.8 1401.6h0M758 1419.7h0" stroke="#2a72b8" stroke-width="3.8" stroke-linecap="round"/>
<line x1="575.7" y1="1631.9" x2="575.7" y2="1339.4" stroke="#000" stroke-width="3.6" stroke-dasharray="16 16"/>
<line x1="374" y1="1484.4" x2="777.4" y2="1484.4" stroke="#000" stroke-width="3.6" stroke-dasharray="16 16"/>
<line x1="374" y1="1630.3" x2="777.4" y2="1339.4" stroke="#000" stroke-width="4.2" />
<line x1="374" y1="1339.4" x2="374" y2="1630.3" stroke="#3f3f3f" stroke-width="1.5" />
<line x1="374" y1="1630.3" x2="777.4" y2="1630.3" stroke="#3f3f3f" stroke-width="1.5" />
<line x1="461" y1="1630.3" x2="461" y2="1640.3" stroke="#737373" stroke-width="1.8" />
<text x="461" y="1669.3" font-size="22" text-anchor="middle" >0.5</text>
<line x1="575.7" y1="1630.3" x2="575.7" y2="1640.3" stroke="#737373" stroke-width="1.8" />
<text x="575.7" y="1669.3" font-size="22" text-anchor="middle" >0</text>
<line x1="690" y1="1630.3" x2="690" y2="1640.3" stroke="#737373" stroke-width="1.8" />
<text x="690" y="1669.3" font-size="22" text-anchor="middle" >0.5</text>
<line x1="364" y1="1567.2" x2="374" y2="1567.2" stroke="#737373" stroke-width="1.8" />
<text x="351.5" y="1575" font-size="22" text-anchor="end" >−0.5</text>
<line x1="364" y1="1484.4" x2="374" y2="1484.4" stroke="#737373" stroke-width="1.8" />
<text x="351.5" y="1492.2" font-size="22" text-anchor="end" >0</text>
<line x1="364" y1="1401.5" x2="374" y2="1401.5" stroke="#737373" stroke-width="1.8" />
<text x="351.5" y="1409.3" font-size="22" text-anchor="end" >0.5</text>
<text x="705.8" y="1539.5" font-size="23" >Count</text>
<rect x="705.2" y="1553.7" width="11.6" height="68.3" fill="url(#cb3)"/>
<line x1="705.2" y1="1568" x2="707.7" y2="1568" stroke="#fff" stroke-width="1.2" />
<line x1="714.3" y1="1568" x2="716.8" y2="1568" stroke="#fff" stroke-width="1.2" />
<line x1="705.2" y1="1593" x2="707.7" y2="1593" stroke="#fff" stroke-width="1.2" />
<line x1="714.3" y1="1593" x2="716.8" y2="1593" stroke="#fff" stroke-width="1.2" />
<text x="729.4" y="1568" font-size="23" >1,000</text>
<text x="729.4" y="1597.8" font-size="23" >500</text>
<text x="575" y="1709.7" font-size="23" text-anchor="middle" >Spearman correlation (FPKM.UQ)</text>
<text x="281" y="1484.4" font-size="23" text-anchor="middle" transform="rotate(-90 281 1484.4)" >Spearman correlation (RUV-III)</text>
<text x="836" y="1338" font-size="30" font-weight="bold" >h</text>
<polyline points="970.7,1431.3 983.8,1436.6 994.3,1447.1 1002.2,1457.6 1010.1,1470.7 1020.6,1475.9 1028.5,1483.8 1036.3,1493 1046.8,1495.6 1054.7,1503.5 1062.6,1508.8 1070.5,1510.1 1073.1,1518 1087.6,1518 1087.6,1532.4 1088.9,1539.8 1103.3,1539.8 1103.3,1548.2 1113.8,1548.2 1113.8,1558.7 1119.9,1558.7 1119.9,1571.8 1187.3,1571.8 1187.3,1590.2 1191.3,1590.2 1191.3,1609.3 1221.5,1609.3 1221.5,1632.2 1258.2,1632.2" fill="none" stroke="#377eb8" stroke-width="4" stroke-linejoin="miter"/>
<polyline points="970.7,1431.3 983.8,1435.2 997,1441.8 1010.1,1452.3 1023.2,1462.8 1031.1,1474.6 1039,1478.6 1046.8,1483.8 1052.1,1494.3 1060,1507.5 1065.2,1515.3 1067.9,1525.8 1073.1,1531.1 1078.4,1533.7 1083.6,1539 1084.9,1549.5 1086.2,1561.3 1092.8,1561.3 1095.4,1570.5 1098.1,1575.7 1100.7,1577 1102,1584.9 1103.3,1608.6 1259.6,1608.6" fill="none" stroke="#4daf4a" stroke-width="4" stroke-linejoin="miter"/>
<polyline points="970.7,1431.3 983.8,1436.6 994.3,1447.1 1002.2,1457.6 1010.1,1470.7 1020.6,1475.9 1028.5,1483.8 1036.3,1493 1046.8,1495.6 1054.7,1503.5 1062.6,1508.8 1070.5,1510.1" fill="none" stroke="#111" stroke-width="2.4" opacity="0.85"/>
<polyline points="970.7,1431.3 983.8,1435.2 997,1441.8 1010.1,1452.3 1023.2,1462.8 1031.1,1474.6 1039,1478.6 1046.8,1483.8 1052.1,1494.3 1060,1507.5 1065.2,1515.3 1067.9,1525.8 1073.1,1531.1 1078.4,1533.7 1083.6,1539" fill="none" stroke="#111" stroke-width="2.4" opacity="0.85"/>
<path d="M969.8 1431.9h5m-2.5 -2.5v5M1007.6 1470.7h5m-2.5 -2.5v5M1078.1 1518h5m-2.5 -2.5v5M986.8 1442h5m-2.5 -2.5v5M977.8 1435.1h5m-2.5 -2.5v5M994.2 1450.3h5m-2.5 -2.5v5M998.8 1456.4h5m-2.5 -2.5v5M1068.2 1510.9h5m-2.5 -2.5v5M968.8 1431.5h5m-2.5 -2.5v5M1007.5 1470.5h5m-2.5 -2.5v5M968.6 1431.5h5m-2.5 -2.5v5M1014.8 1474.3h5m-2.5 -2.5v5M1001.7 1460.9h5m-2.5 -2.5v5M988.5 1443.7h5m-2.5 -2.5v5M1045.1 1496.4h5m-2.5 -2.5v5M1025.1 1482.9h5m-2.5 -2.5v5M976.2 1434.5h5m-2.5 -2.5v5M1007.2 1470.1h5m-2.5 -2.5v5M1063.2 1509.3h5m-2.5 -2.5v5M1049.9 1501.2h5m-2.5 -2.5v5M1031.4 1490.2h5m-2.5 -2.5v5M1006.3 1468.6h5m-2.5 -2.5v5M1026.8 1484.7h5m-2.5 -2.5v5M1028 1486.2h5m-2.5 -2.5v5M978.5 1435.4h5m-2.5 -2.5v5M1007.9 1470.9h5m-2.5 -2.5v5M1037.8 1494h5m-2.5 -2.5v5M1059.9 1508.7h5m-2.5 -2.5v5M1064 1509.4h5m-2.5 -2.5v5M1049.2 1500.5h5m-2.5 -2.5v5M987.3 1442.5h5m-2.5 -2.5v5M1003.9 1464.6h5m-2.5 -2.5v5M972.7 1433.1h5m-2.5 -2.5v5M1070.8 1518h5m-2.5 -2.5v5M1012.5 1473.1h5m-2.5 -2.5v5M1070.5 1517.7h5m-2.5 -2.5v5M1007.9 1470.8h5m-2.5 -2.5v5M1049.8 1501.1h5m-2.5 -2.5v5M1072.7 1518h5m-2.5 -2.5v5M996.2 1452.9h5m-2.5 -2.5v5M974.8 1434h5m-2.5 -2.5v5M1066 1509.8h5m-2.5 -2.5v5M1015.9 1474.9h5m-2.5 -2.5v5M1002.8 1462.7h5m-2.5 -2.5v5M1021.8 1479.7h5m-2.5 -2.5v5M1058.6 1507.8h5m-2.5 -2.5v5M1016.9 1475.4h5m-2.5 -2.5v5M1083.3 1518h5m-2.5 -2.5v5M1081.1 1518h5m-2.5 -2.5v5M1017.4 1475.6h5m-2.5 -2.5v5M1031.7 1490.6h5m-2.5 -2.5v5M1018.1 1476h5m-2.5 -2.5v5M969.9 1432h5m-2.5 -2.5v5M1026.4 1484.4h5m-2.5 -2.5v5M1052.6 1503.8h5m-2.5 -2.5v5M1006.9 1469.5h5m-2.5 -2.5v5M974.3 1433.7h5m-2.5 -2.5v5M985.1 1440.3h5m-2.5 -2.5v5M1074.4 1518h5m-2.5 -2.5v5M1039 1494.3h5m-2.5 -2.5v5M1125 1571.8h5m-2.5 -2.5v5M1246.6 1632.2h5m-2.5 -2.5v5M1251.6 1632.2h5m-2.5 -2.5v5M1249.2 1632.2h5m-2.5 -2.5v5M1249.3 1632.2h5m-2.5 -2.5v5M1133.9 1571.8h5m-2.5 -2.5v5M1241.5 1632.2h5m-2.5 -2.5v5M1254.7 1632.2h5m-2.5 -2.5v5" stroke="#000" stroke-width="1.1"/>
<path d="M1028.6 1474.6h5m-2.5 -2.5v5M1066.7 1527.1h5m-2.5 -2.5v5M1070.1 1530.6h5m-2.5 -2.5v5M987.3 1438.2h5m-2.5 -2.5v5M989.9 1439.5h5m-2.5 -2.5v5M990 1439.6h5m-2.5 -2.5v5M1047 1489.2h5m-2.5 -2.5v5M1033.7 1477.2h5m-2.5 -2.5v5M1042.3 1482.5h5m-2.5 -2.5v5M1015.5 1458.6h5m-2.5 -2.5v5M1080.3 1538.1h5m-2.5 -2.5v5M1005.4 1450.5h5m-2.5 -2.5v5M990.7 1440h5m-2.5 -2.5v5M1040.6 1481.3h5m-2.5 -2.5v5M1062.7 1515.3h5m-2.5 -2.5v5M978.5 1434.4h5m-2.5 -2.5v5M1038.8 1480.1h5m-2.5 -2.5v5M1022 1464.8h5m-2.5 -2.5v5M997.5 1444.3h5m-2.5 -2.5v5M1076.7 1534.6h5m-2.5 -2.5v5M1051.8 1498h5m-2.5 -2.5v5M1075.9 1533.8h5m-2.5 -2.5v5M1054.4 1502.4h5m-2.5 -2.5v5M1056.1 1505.2h5m-2.5 -2.5v5M1036 1478.4h5m-2.5 -2.5v5M1024 1467.8h5m-2.5 -2.5v5M1076.2 1534.1h5m-2.5 -2.5v5M976.1 1433.7h5m-2.5 -2.5v5M1058.9 1509.5h5m-2.5 -2.5v5M1037.9 1479.5h5m-2.5 -2.5v5M1032 1476.3h5m-2.5 -2.5v5M1077.6 1535.4h5m-2.5 -2.5v5M1077.2 1535.1h5m-2.5 -2.5v5M1066.3 1526.7h5m-2.5 -2.5v5M1041.5 1481.9h5m-2.5 -2.5v5M971.7 1432.3h5m-2.5 -2.5v5M975.8 1433.6h5m-2.5 -2.5v5M1010.6 1454.7h5m-2.5 -2.5v5M1006.3 1451.3h5m-2.5 -2.5v5M972.6 1432.6h5m-2.5 -2.5v5M1076.7 1534.5h5m-2.5 -2.5v5M997.7 1444.4h5m-2.5 -2.5v5M1006.1 1451.1h5m-2.5 -2.5v5M1070.4 1530.8h5m-2.5 -2.5v5M980.4 1435h5m-2.5 -2.5v5M1023.7 1467.2h5m-2.5 -2.5v5M1057.6 1507.6h5m-2.5 -2.5v5M995.6 1442.7h5m-2.5 -2.5v5M1049.4 1493.9h5m-2.5 -2.5v5M999.8 1446.1h5m-2.5 -2.5v5M1055.3 1503.9h5m-2.5 -2.5v5M1021.9 1464.6h5m-2.5 -2.5v5M1045.5 1486h5m-2.5 -2.5v5M1068.8 1529.2h5m-2.5 -2.5v5M1007.6 1452.3h5m-2.5 -2.5v5M1059.3 1510.3h5m-2.5 -2.5v5M1008.5 1453h5m-2.5 -2.5v5M968.6 1431.4h5m-2.5 -2.5v5M992 1440.6h5m-2.5 -2.5v5M993.6 1441.4h5m-2.5 -2.5v5M1154 1608.6h5m-2.5 -2.5v5M1155.3 1608.6h5m-2.5 -2.5v5M1134 1608.6h5m-2.5 -2.5v5M1139.9 1608.6h5m-2.5 -2.5v5M1235.5 1608.6h5m-2.5 -2.5v5M1240.3 1608.6h5m-2.5 -2.5v5M1210.2 1608.6h5m-2.5 -2.5v5M1224.5 1608.6h5m-2.5 -2.5v5M1132.3 1608.6h5m-2.5 -2.5v5M1111.7 1608.6h5m-2.5 -2.5v5" stroke="#000" stroke-width="1.1"/>
<line x1="956.5" y1="1421.3" x2="956.5" y2="1642.2" stroke="#3f3f3f" stroke-width="1.5" />
<line x1="956.5" y1="1642.2" x2="1273.5" y2="1642.2" stroke="#3f3f3f" stroke-width="1.5" />
<line x1="970.7" y1="1642.2" x2="970.7" y2="1652.2" stroke="#737373" stroke-width="1.8" />
<text x="970.7" y="1681.2" font-size="22" text-anchor="middle" >0</text>
<line x1="1054.7" y1="1642.2" x2="1054.7" y2="1652.2" stroke="#737373" stroke-width="1.8" />
<text x="1054.7" y="1681.2" font-size="22" text-anchor="middle" >2,500</text>
<line x1="1138.8" y1="1642.2" x2="1138.8" y2="1652.2" stroke="#737373" stroke-width="1.8" />
<text x="1138.8" y="1681.2" font-size="22" text-anchor="middle" >5,000</text>
<line x1="1222.3" y1="1642.2" x2="1222.3" y2="1652.2" stroke="#737373" stroke-width="1.8" />
<text x="1222.3" y="1681.2" font-size="22" text-anchor="middle" >7,500</text>
<line x1="946.5" y1="1594.1" x2="956.5" y2="1594.1" stroke="#737373" stroke-width="1.8" />
<text x="934" y="1601.9" font-size="22" text-anchor="end" >40%</text>
<line x1="946.5" y1="1539.8" x2="956.5" y2="1539.8" stroke="#737373" stroke-width="1.8" />
<text x="934" y="1547.6" font-size="22" text-anchor="end" >60%</text>
<line x1="946.5" y1="1485.4" x2="956.5" y2="1485.4" stroke="#737373" stroke-width="1.8" />
<text x="934" y="1493.2" font-size="22" text-anchor="end" >80%</text>
<line x1="946.5" y1="1431.3" x2="956.5" y2="1431.3" stroke="#737373" stroke-width="1.8" />
<text x="934" y="1439.1" font-size="22" text-anchor="end" >100%</text>
<text x="957.6" y="1371.4" font-size="23" ><tspan font-style="italic">ESRRA</tspan></text>
<text x="957.6" y="1405" font-size="23" ><tspan font-style="italic">P</tspan> value (log rank) = 0.55</text>
<text x="852.5" y="1532.4" font-size="22" text-anchor="middle" transform="rotate(-90 852.5 1532.4)" >Survival</text>
<text x="1115" y="1717.5" font-size="23" text-anchor="middle" >Time (days)</text>
<polyline points="1441.2,1431.3 1450.7,1436.6 1458.6,1445.7 1466.4,1454.9 1474.3,1468.1 1479.6,1477.3 1490.1,1483.8 1498,1491.7 1505.8,1504.8 1513.7,1510.1 1521.6,1518 1526.8,1526.4 1536,1526.4 1540,1536.3 1543.9,1542.9 1550.5,1544.2 1551.8,1550.8 1557,1550.8 1557,1558.7 1574.1,1558.7 1574.1,1575.7 1584.6,1575.7 1584.6,1584.9 1590.4,1584.9 1590.4,1597.5 1691.5,1597.5 1691.5,1624.3 1730.4,1624.3" fill="none" stroke="#377eb8" stroke-width="4" stroke-linejoin="miter"/>
<polyline points="1441.2,1431.3 1458.6,1435.2 1469.1,1437.9 1482.2,1447.1 1498,1458.9 1508.5,1465.4 1516.3,1470.7 1521.6,1478.6 1529.5,1491.7 1537.4,1504.8 1545.2,1510.1 1555.2,1512.2 1557,1523.2 1558.4,1546.8 1564.9,1547.4 1564.9,1556 1567.6,1562.1 1571.5,1562.1 1572.8,1584.4 1658.2,1584.4 1658.2,1608.6 1662.1,1608.6 1662.1,1633 1729.1,1633" fill="none" stroke="#4daf4a" stroke-width="4" stroke-linejoin="miter"/>
<polyline points="1441.2,1431.3 1450.7,1436.6 1458.6,1445.7 1466.4,1454.9 1474.3,1468.1 1479.6,1477.3 1490.1,1483.8 1498,1491.7 1505.8,1504.8 1513.7,1510.1 1521.6,1518 1526.8,1526.4 1536,1526.4 1540,1536.3 1543.9,1542.9 1550.5,1544.2 1551.8,1550.8" fill="none" stroke="#111" stroke-width="2.4" opacity="0.85"/>
<polyline points="1441.2,1431.3 1458.6,1435.2 1469.1,1437.9 1482.2,1447.1 1498,1458.9 1508.5,1465.4 1516.3,1470.7 1521.6,1478.6 1529.5,1491.7 1537.4,1504.8 1545.2,1510.1 1555.2,1512.2" fill="none" stroke="#111" stroke-width="2.4" opacity="0.85"/>
<path d="M1461.9 1452.6h5m-2.5 -2.5v5M1520.3 1520h5m-2.5 -2.5v5M1530.5 1526.4h5m-2.5 -2.5v5M1462.4 1453.1h5m-2.5 -2.5v5M1500.8 1500.5h5m-2.5 -2.5v5M1537.5 1536.3h5m-2.5 -2.5v5M1503.2 1504.6h5m-2.5 -2.5v5M1497.4 1494.9h5m-2.5 -2.5v5M1521.2 1521.3h5m-2.5 -2.5v5M1442.3 1433.3h5m-2.5 -2.5v5M1459.4 1449.6h5m-2.5 -2.5v5M1488.3 1484.6h5m-2.5 -2.5v5M1537.4 1536.2h5m-2.5 -2.5v5M1546.6 1543.9h5m-2.5 -2.5v5M1449.3 1437.8h5m-2.5 -2.5v5M1532.5 1526.4h5m-2.5 -2.5v5M1446.7 1435.7h5m-2.5 -2.5v5M1449.5 1438.1h5m-2.5 -2.5v5M1535.2 1530.7h5m-2.5 -2.5v5M1510.6 1509.6h5m-2.5 -2.5v5M1441.9 1433h5m-2.5 -2.5v5M1522.3 1523.1h5m-2.5 -2.5v5M1448.6 1437h5m-2.5 -2.5v5M1450.3 1439h5m-2.5 -2.5v5M1491.4 1487.7h5m-2.5 -2.5v5M1467.2 1460.4h5m-2.5 -2.5v5M1550.2 1550.8h5m-2.5 -2.5v5M1540.5 1541.4h5m-2.5 -2.5v5M1515.5 1514.4h5m-2.5 -2.5v5M1535.8 1532.2h5m-2.5 -2.5v5M1450.1 1438.8h5m-2.5 -2.5v5M1506.1 1506.7h5m-2.5 -2.5v5M1516.3 1515.2h5m-2.5 -2.5v5M1466.6 1459.3h5m-2.5 -2.5v5M1532 1526.4h5m-2.5 -2.5v5M1502.2 1502.9h5m-2.5 -2.5v5M1490.5 1486.7h5m-2.5 -2.5v5M1493 1489.3h5m-2.5 -2.5v5M1476.2 1475.7h5m-2.5 -2.5v5M1532.3 1526.4h5m-2.5 -2.5v5M1443.3 1433.9h5m-2.5 -2.5v5M1451.8 1440.7h5m-2.5 -2.5v5M1541.7 1543h5m-2.5 -2.5v5M1467.1 1460.2h5m-2.5 -2.5v5M1494.6 1490.8h5m-2.5 -2.5v5M1469.7 1464.5h5m-2.5 -2.5v5M1536.7 1534.3h5m-2.5 -2.5v5M1534.5 1528.8h5m-2.5 -2.5v5M1512.3 1511.2h5m-2.5 -2.5v5M1520.9 1520.8h5m-2.5 -2.5v5M1509.6 1509h5m-2.5 -2.5v5M1537.4 1536.1h5m-2.5 -2.5v5M1484.8 1482.1h5m-2.5 -2.5v5M1511.6 1510.4h5m-2.5 -2.5v5M1450.8 1439.6h5m-2.5 -2.5v5M1551 1550.8h5m-2.5 -2.5v5M1512 1510.9h5m-2.5 -2.5v5M1534.2 1527.9h5m-2.5 -2.5v5M1509.1 1508.7h5m-2.5 -2.5v5M1465.3 1457.2h5m-2.5 -2.5v5M1495.1 1491.3h5m-2.5 -2.5v5M1461.4 1452h5m-2.5 -2.5v5M1486.6 1483.2h5m-2.5 -2.5v5M1536.3 1533.5h5m-2.5 -2.5v5M1520.4 1520h5m-2.5 -2.5v5M1547.5 1544.1h5m-2.5 -2.5v5M1487.7 1484h5m-2.5 -2.5v5M1489.3 1485.6h5m-2.5 -2.5v5M1524.7 1526.4h5m-2.5 -2.5v5M1521.2 1521.4h5m-2.5 -2.5v5M1691.8 1624.3h5m-2.5 -2.5v5M1656.3 1597.5h5m-2.5 -2.5v5M1715.6 1624.3h5m-2.5 -2.5v5M1656.2 1597.5h5m-2.5 -2.5v5M1691.3 1624.3h5m-2.5 -2.5v5M1615.9 1597.5h5m-2.5 -2.5v5M1713.5 1624.3h5m-2.5 -2.5v5M1699.1 1624.3h5m-2.5 -2.5v5" stroke="#000" stroke-width="1.1"/>
<path d="M1490.7 1455.3h5m-2.5 -2.5v5M1444.2 1432.5h5m-2.5 -2.5v5M1461.4 1436.6h5m-2.5 -2.5v5M1459.8 1436.2h5m-2.5 -2.5v5M1529.8 1496.5h5m-2.5 -2.5v5M1477 1445.2h5m-2.5 -2.5v5M1530 1496.7h5m-2.5 -2.5v5M1460.7 1436.4h5m-2.5 -2.5v5M1525 1488.4h5m-2.5 -2.5v5M1531.1 1498.6h5m-2.5 -2.5v5M1532 1500.1h5m-2.5 -2.5v5M1467.2 1438.3h5m-2.5 -2.5v5M1513.7 1470.6h5m-2.5 -2.5v5M1547.8 1511.2h5m-2.5 -2.5v5M1530.8 1498.1h5m-2.5 -2.5v5M1481.2 1448.2h5m-2.5 -2.5v5M1526.7 1491.2h5m-2.5 -2.5v5M1523.2 1485.3h5m-2.5 -2.5v5M1464.7 1437.4h5m-2.5 -2.5v5M1459.2 1436h5m-2.5 -2.5v5M1543.5 1510.3h5m-2.5 -2.5v5M1533.5 1502.5h5m-2.5 -2.5v5M1470.5 1440.6h5m-2.5 -2.5v5M1557.1 1546.9h5m-2.5 -2.5v5M1532.2 1500.4h5m-2.5 -2.5v5M1491 1455.5h5m-2.5 -2.5v5M1516.5 1474.7h5m-2.5 -2.5v5M1517.1 1475.6h5m-2.5 -2.5v5M1485.2 1451.2h5m-2.5 -2.5v5M1511.3 1469h5m-2.5 -2.5v5M1564.3 1560.3h5m-2.5 -2.5v5M1483.7 1450h5m-2.5 -2.5v5M1535.1 1505h5m-2.5 -2.5v5M1550.8 1511.8h5m-2.5 -2.5v5M1509.7 1467.9h5m-2.5 -2.5v5M1456.9 1435.5h5m-2.5 -2.5v5M1459.4 1436.1h5m-2.5 -2.5v5M1539.5 1507.9h5m-2.5 -2.5v5M1563.2 1557.8h5m-2.5 -2.5v5M1465.9 1437.7h5m-2.5 -2.5v5M1532.2 1500.4h5m-2.5 -2.5v5M1559.2 1547.1h5m-2.5 -2.5v5M1528 1493.3h5m-2.5 -2.5v5M1514.8 1472.1h5m-2.5 -2.5v5M1487.3 1452.8h5m-2.5 -2.5v5M1533.6 1502.7h5m-2.5 -2.5v5M1531.6 1499.4h5m-2.5 -2.5v5M1484.1 1450.3h5m-2.5 -2.5v5M1526.4 1490.7h5m-2.5 -2.5v5M1488.1 1453.3h5m-2.5 -2.5v5M1544.2 1510.4h5m-2.5 -2.5v5M1443.9 1432.5h5m-2.5 -2.5v5M1523.8 1486.5h5m-2.5 -2.5v5M1507.8 1466.6h5m-2.5 -2.5v5M1516.1 1474h5m-2.5 -2.5v5M1442.4 1432.1h5m-2.5 -2.5v5M1486.6 1452.2h5m-2.5 -2.5v5M1535.8 1505.5h5m-2.5 -2.5v5M1519.5 1479.3h5m-2.5 -2.5v5M1531.9 1499.9h5m-2.5 -2.5v5M1439.5 1431.5h5m-2.5 -2.5v5M1463.7 1437.2h5m-2.5 -2.5v5M1526.2 1490.3h5m-2.5 -2.5v5M1526.7 1491.2h5m-2.5 -2.5v5M1542.1 1509.7h5m-2.5 -2.5v5M1457 1435.5h5m-2.5 -2.5v5M1451.2 1434.1h5m-2.5 -2.5v5M1481.9 1448.7h5m-2.5 -2.5v5M1530.6 1497.7h5m-2.5 -2.5v5M1510.3 1468.4h5m-2.5 -2.5v5M1657 1608.6h5m-2.5 -2.5v5M1704.9 1633h5m-2.5 -2.5v5M1604.9 1584.4h5m-2.5 -2.5v5M1573.1 1584.4h5m-2.5 -2.5v5M1703.3 1633h5m-2.5 -2.5v5M1638.2 1584.4h5m-2.5 -2.5v5M1658.3 1608.6h5m-2.5 -2.5v5M1666.9 1633h5m-2.5 -2.5v5" stroke="#000" stroke-width="1.1"/>
<line x1="1426.5" y1="1421.3" x2="1426.5" y2="1642.2" stroke="#3f3f3f" stroke-width="1.5" />
<line x1="1426.5" y1="1642.2" x2="1744.3" y2="1642.2" stroke="#3f3f3f" stroke-width="1.5" />
<line x1="1441.2" y1="1642.2" x2="1441.2" y2="1652.2" stroke="#737373" stroke-width="1.8" />
<text x="1441.2" y="1681.2" font-size="22" text-anchor="middle" >0</text>
<line x1="1525.3" y1="1642.2" x2="1525.3" y2="1652.2" stroke="#737373" stroke-width="1.8" />
<text x="1525.3" y="1681.2" font-size="22" text-anchor="middle" >2,500</text>
<line x1="1609" y1="1642.2" x2="1609" y2="1652.2" stroke="#737373" stroke-width="1.8" />
<text x="1609" y="1681.2" font-size="22" text-anchor="middle" >5,000</text>
<line x1="1693.1" y1="1642.2" x2="1693.1" y2="1652.2" stroke="#737373" stroke-width="1.8" />
<text x="1693.1" y="1681.2" font-size="22" text-anchor="middle" >7 ,500</text>
<line x1="1416.5" y1="1594.9" x2="1426.5" y2="1594.9" stroke="#737373" stroke-width="1.8" />
<text x="1404" y="1602.7" font-size="22" text-anchor="end" >40%</text>
<line x1="1416.5" y1="1540.3" x2="1426.5" y2="1540.3" stroke="#737373" stroke-width="1.8" />
<text x="1404" y="1548.1" font-size="22" text-anchor="end" >60%</text>
<line x1="1416.5" y1="1485.9" x2="1426.5" y2="1485.9" stroke="#737373" stroke-width="1.8" />
<text x="1404" y="1493.7" font-size="22" text-anchor="end" >80%</text>
<line x1="1416.5" y1="1431.8" x2="1426.5" y2="1431.8" stroke="#737373" stroke-width="1.8" />
<text x="1404" y="1439.6" font-size="22" text-anchor="end" >100%</text>
<text x="1428.4" y="1371.4" font-size="23" ><tspan font-style="italic">ESRRA</tspan></text>
<text x="1428.4" y="1405" font-size="23" ><tspan font-style="italic">P</tspan> value (log rank) &lt; 0.01</text>
<text x="1620.6" y="1438.6" font-size="25.5" >Strata</text>
<line x1="1640" y1="1470.8" x2="1696.3" y2="1470.8" stroke="#377eb8" stroke-width="8" stroke-linecap="round"/>
<line x1="1640" y1="1502.7" x2="1696.3" y2="1502.7" stroke="#4daf4a" stroke-width="8" stroke-linecap="round"/>
<text x="1709.4" y="1477.6" font-size="23" >High <tspan font-style="italic">ESRRA</tspan> (542)</text>
<text x="1709.4" y="1510" font-size="23" >Low <tspan font-style="italic">ESRRA</tspan> (542)</text>
<text x="1324.6" y="1532.4" font-size="22" text-anchor="middle" transform="rotate(-90 1324.6 1532.4)" >Survival</text>
<text x="1586" y="1717.5" font-size="23" text-anchor="middle" >Time (days)</text>
<text x="210" y="1784" font-size="30" font-weight="bold" >i</text>
<path d="M593 1863h0M518 1944h0M592 1906h0M547 1944h0M567 1945h0M519 1953h0M533 1932h0M545 1937h0M644 1924h0M581 1850h0M495 1975h0M528 1910h0M552 1930h0M541 1994h0M582 1907h0M604 1946h0M630 2024h0M664 1935h0M565 2034h0M586 1929h0M623 1969h0M653 1998h0M696 1971h0M618 1931h0M616 1980h0M574 1967h0M612 1951h0M660 1942h0M595 1950h0M615 2034h0M533 1905h0M483 1992h0M444 1896h0M596 1941h0M608 1943h0M609 1989h0M608 1953h0M591 1931h0M603 1958h0M538 1939h0M539 1958h0M660 1900h0M602 1909h0M645 1960h0M522 1958h0M508 1953h0M633 1987h0M621 1902h0M535 1911h0M526 1998h0M569 1979h0M528 1931h0M641 1907h0M652 1944h0M651 2009h0M583 1941h0M572 1969h0M564 1917h0M580 1920h0M591 1898h0M600 2008h0M537 1949h0M667 1913h0M621 1979h0M605 1997h0M595 1905h0M621 1947h0M631 1980h0M617 1942h0M581 1950h0M585 1968h0M623 2014h0M569 1944h0M567 1915h0M559 1946h0M578 1991h0M617 1836h0M657 1957h0M552 1907h0M618 1948h0M665 1917h0M616 1960h0M544 1925h0M509 1897h0" stroke="#474747" stroke-width="11" stroke-linecap="round"/>
<path d="M593 1863h0M518 1944h0M592 1906h0M547 1944h0M567 1945h0M519 1953h0M533 1932h0M545 1937h0M644 1924h0M581 1850h0M495 1975h0M528 1910h0M552 1930h0M541 1994h0M582 1907h0M604 1946h0" stroke="#f0644a" stroke-width="9.2" stroke-linecap="round"/>
<path d="M630 2024h0M664 1935h0M565 2034h0M586 1929h0M623 1969h0M653 1998h0M696 1971h0M618 1931h0M616 1980h0M574 1967h0M612 1951h0M660 1942h0M595 1950h0M615 2034h0" stroke="#1b6332" stroke-width="9.2" stroke-linecap="round"/>
<path d="M533 1905h0M483 1992h0M444 1896h0" stroke="#d49dc8" stroke-width="9.2" stroke-linecap="round"/>
<path d="M596 1941h0M608 1943h0M609 1989h0M608 1953h0M591 1931h0M603 1958h0M538 1939h0M539 1958h0M660 1900h0M602 1909h0M645 1960h0M522 1958h0M508 1953h0M633 1987h0M621 1902h0M535 1911h0M526 1998h0M569 1979h0M528 1931h0M641 1907h0M652 1944h0M651 2009h0M583 1941h0M572 1969h0M564 1917h0M580 1920h0M591 1898h0M600 2008h0M537 1949h0M667 1913h0M621 1979h0M605 1997h0M595 1905h0M621 1947h0M631 1980h0M617 1942h0M581 1950h0M585 1968h0M623 2014h0M569 1944h0M567 1915h0M559 1946h0M578 1991h0M617 1836h0M657 1957h0M552 1907h0M618 1948h0M665 1917h0M616 1960h0M544 1925h0M509 1897h0" stroke="#292a74" stroke-width="9.2" stroke-linecap="round"/>
<path d="M504 1914h0M475 1896h0M471 1913h0M454 1911h0M514 1907h0M619 1936h0M605 1981h0M668 1941h0M561 1946h0M604 1941h0M609 1897h0M633 1935h0M607 2002h0M620 1954h0M597 1962h0M684 1917h0M576 1922h0M584 1996h0M572 1945h0M585 2025h0M638 1981h0M598 1951h0M569 1964h0M650 1891h0M592 1995h0M589 1919h0M634 1958h0M624 1951h0M544 1994h0M610 1984h0M569 1927h0M629 1909h0M604 1895h0M671 1963h0M546 1946h0M617 1975h0M536 2004h0M618 1900h0M622 1905h0M586 1882h0M623 1967h0M640 1989h0M616 1938h0M646 1892h0M578 1912h0M576 1957h0M578 1961h0M620 2009h0M585 1932h0M651 1938h0M582 1927h0M625 1932h0M513 1951h0M553 1943h0M570 1929h0M521 1971h0M599 1878h0M553 1865h0M498 1971h0M554 1943h0M555 1974h0M596 1908h0M607 1970h0M539 1918h0M562 1908h0M593 1906h0M598 1867h0M534 1914h0M557 1879h0M537 1946h0M531 1965h0M539 1911h0M597 1895h0M535 1921h0M514 1915h0M568 1966h0M568 1916h0M607 1990h0M637 1889h0M639 1979h0M626 1998h0M546 1984h0M639 1976h0M601 1965h0" stroke="#474747" stroke-width="11" stroke-linecap="round"/>
<path d="M504 1914h0M475 1896h0M471 1913h0M454 1911h0M514 1907h0" stroke="#d49dc8" stroke-width="9.2" stroke-linecap="round"/>
<path d="M619 1936h0M605 1981h0M668 1941h0M561 1946h0M604 1941h0M609 1897h0M633 1935h0M607 2002h0M620 1954h0M597 1962h0M684 1917h0M576 1922h0M584 1996h0M572 1945h0M585 2025h0M638 1981h0M598 1951h0M569 1964h0M650 1891h0M592 1995h0M589 1919h0M634 1958h0M624 1951h0M544 1994h0M610 1984h0M569 1927h0M629 1909h0M604 1895h0M671 1963h0M546 1946h0M617 1975h0M536 2004h0M618 1900h0M622 1905h0M586 1882h0M623 1967h0M640 1989h0M616 1938h0M646 1892h0M578 1912h0M576 1957h0M578 1961h0M620 2009h0M585 1932h0M651 1938h0M582 1927h0M625 1932h0M513 1951h0M553 1943h0" stroke="#292a74" stroke-width="9.2" stroke-linecap="round"/>
<path d="M570 1929h0M521 1971h0M599 1878h0M553 1865h0M498 1971h0M554 1943h0M555 1974h0M596 1908h0M607 1970h0M539 1918h0M562 1908h0M593 1906h0M598 1867h0M534 1914h0M557 1879h0M537 1946h0M531 1965h0M539 1911h0M597 1895h0M535 1921h0M514 1915h0M568 1966h0M568 1916h0" stroke="#f0644a" stroke-width="9.2" stroke-linecap="round"/>
<path d="M607 1990h0M637 1889h0M639 1979h0M626 1998h0M546 1984h0M639 1976h0M601 1965h0" stroke="#1b6332" stroke-width="9.2" stroke-linecap="round"/>
<path d="M542 1965h0M675 1944h0M534 1962h0M565 1945h0M564 1937h0M612 1910h0M575 1899h0M473 1973h0M633 1889h0M546 1982h0M598 2039h0M609 1908h0M638 1952h0M604 1999h0M635 1952h0M612 1972h0M606 1948h0M576 1989h0M653 1922h0M582 1960h0M579 1966h0M659 1996h0M567 1961h0M640 1904h0M616 1858h0M582 1927h0M656 1938h0M561 1947h0M532 2053h0M614 1988h0M565 1938h0M582 1985h0M578 1971h0M632 1875h0M649 1944h0M664 2027h0M553 1953h0M665 1934h0M574 1858h0M610 1888h0M594 1914h0M606 1955h0M566 1939h0M605 1937h0M541 1990h0M611 1976h0M642 1950h0M586 1991h0M621 1913h0M654 1951h0M654 1949h0M607 1960h0M658 1940h0M645 1958h0M611 1936h0M510 1895h0M452 1963h0M483 1895h0M523 1928h0M475 1925h0M591 1911h0M586 1871h0M566 1965h0M547 1929h0M514 1957h0M592 1928h0M599 1940h0M609 1917h0M483 1923h0M572 1909h0M593 1973h0M494 1891h0M580 1904h0M558 1913h0M516 1929h0M591 1903h0M557 1979h0M497 1885h0M596 1899h0M557 1877h0M558 1949h0M581 1934h0M589 1931h0M594 1993h0" stroke="#474747" stroke-width="11" stroke-linecap="round"/>
<path d="M542 1965h0M675 1944h0M534 1962h0M565 1945h0M564 1937h0M612 1910h0M575 1899h0M473 1973h0M633 1889h0M546 1982h0M598 2039h0M609 1908h0M638 1952h0M604 1999h0M635 1952h0M612 1972h0M606 1948h0M576 1989h0M653 1922h0M582 1960h0M579 1966h0M659 1996h0M567 1961h0M640 1904h0M616 1858h0M582 1927h0M656 1938h0M561 1947h0M532 2053h0M614 1988h0M565 1938h0M582 1985h0M578 1971h0M632 1875h0M649 1944h0M664 2027h0M553 1953h0M665 1934h0M574 1858h0M610 1888h0M594 1914h0M606 1955h0M566 1939h0M605 1937h0M541 1990h0" stroke="#292a74" stroke-width="9.2" stroke-linecap="round"/>
<path d="M611 1976h0M642 1950h0M586 1991h0M621 1913h0M654 1951h0M654 1949h0M607 1960h0M658 1940h0M645 1958h0M611 1936h0" stroke="#1b6332" stroke-width="9.2" stroke-linecap="round"/>
<path d="M510 1895h0M452 1963h0M483 1895h0M523 1928h0M475 1925h0" stroke="#d49dc8" stroke-width="9.2" stroke-linecap="round"/>
<path d="M591 1911h0M586 1871h0M566 1965h0M547 1929h0M514 1957h0M592 1928h0M599 1940h0M609 1917h0M483 1923h0M572 1909h0M593 1973h0M494 1891h0M580 1904h0M558 1913h0M516 1929h0M591 1903h0M557 1979h0M497 1885h0M596 1899h0M557 1877h0M558 1949h0M581 1934h0M589 1931h0M594 1993h0" stroke="#f0644a" stroke-width="9.2" stroke-linecap="round"/>
<path d="M602 1967h0M571 1890h0M524 1902h0M548 1945h0M594 1944h0M525 1897h0M556 1896h0M561 1937h0M518 1993h0M550 1949h0M569 1936h0M555 1929h0M561 1980h0M515 2010h0M628 1951h0M536 1927h0M464 1970h0M518 1938h0M670 1928h0M541 1986h0M564 1928h0M607 1879h0M579 1952h0M605 1948h0M568 1973h0M560 2011h0M597 1935h0M639 1992h0M589 1877h0M587 1968h0M564 1968h0M580 1983h0M645 1937h0M643 1935h0M575 1946h0M592 1934h0M600 1895h0M640 1916h0M587 1920h0M639 1935h0M635 1974h0M532 1943h0M571 1948h0M577 1915h0M549 1925h0M651 1981h0M571 1987h0M554 1895h0M646 1861h0M595 1955h0M574 1956h0M605 1983h0M568 1930h0M561 1887h0M640 1984h0M572 1920h0M614 1913h0M608 1843h0M617 2015h0M574 1949h0M571 1915h0M593 1931h0M604 1987h0M565 1964h0M586 2018h0M590 1938h0M588 1999h0M665 1921h0M578 1966h0M653 1976h0M624 1906h0M682 1917h0M667 1900h0M649 1972h0M625 1903h0M620 1939h0M632 1948h0M645 1931h0M441 1948h0M561 1838h0M550 1895h0M532 1937h0M438 1944h0M531 1882h0" stroke="#474747" stroke-width="11" stroke-linecap="round"/>
<path d="M602 1967h0M571 1890h0M524 1902h0M548 1945h0M594 1944h0M525 1897h0M556 1896h0M561 1937h0M518 1993h0M550 1949h0M569 1936h0M555 1929h0M561 1980h0M515 2010h0M628 1951h0M536 1927h0M464 1970h0M518 1938h0" stroke="#f0644a" stroke-width="9.2" stroke-linecap="round"/>
<path d="M670 1928h0M541 1986h0M564 1928h0M607 1879h0M579 1952h0M605 1948h0M568 1973h0M560 2011h0M597 1935h0M639 1992h0M589 1877h0M587 1968h0M564 1968h0M580 1983h0M645 1937h0M643 1935h0M575 1946h0M592 1934h0M600 1895h0M640 1916h0M587 1920h0M639 1935h0M635 1974h0M532 1943h0M571 1948h0M577 1915h0M549 1925h0M651 1981h0M571 1987h0M554 1895h0M646 1861h0M595 1955h0M574 1956h0M605 1983h0M568 1930h0M561 1887h0M640 1984h0M572 1920h0M614 1913h0M608 1843h0M617 2015h0M574 1949h0M571 1915h0M593 1931h0M604 1987h0M565 1964h0M586 2018h0M590 1938h0" stroke="#292a74" stroke-width="9.2" stroke-linecap="round"/>
<path d="M588 1999h0M665 1921h0M578 1966h0M653 1976h0M624 1906h0M682 1917h0M667 1900h0M649 1972h0M625 1903h0M620 1939h0M632 1948h0M645 1931h0" stroke="#1b6332" stroke-width="9.2" stroke-linecap="round"/>
<path d="M441 1948h0M561 1838h0M550 1895h0M532 1937h0M438 1944h0M531 1882h0" stroke="#d49dc8" stroke-width="9.2" stroke-linecap="round"/>
<path d="M574 1949h0M627 1915h0M606 1962h0M592 1899h0M601 1996h0M608 1927h0M648 1921h0M567 1961h0M723 1940h0M675 1902h0M623 1902h0M564 1947h0M611 1984h0M589 1916h0M594 1942h0M522 1927h0M622 1922h0M653 1912h0M616 1912h0M562 1956h0M503 1983h0M561 1993h0M608 1912h0M548 1933h0M550 1991h0M610 1888h0M589 1938h0M635 1891h0M563 1926h0M662 1889h0M568 2009h0M605 1979h0M681 1932h0M611 1964h0M558 1988h0M655 1970h0M560 1953h0M564 1953h0M625 1954h0M594 1950h0M626 1911h0M604 2004h0M569 1918h0M585 1973h0M586 1923h0M628 1936h0M586 1929h0M519 1931h0M535 1864h0M511 1969h0M543 1888h0M586 1904h0M503 2014h0M588 1923h0M509 1922h0M524 1955h0M566 1924h0M513 1963h0M499 1919h0M544 1901h0M592 1866h0M497 1991h0M586 1921h0M612 1970h0M588 2027h0M589 1959h0M591 2011h0M654 1954h0M575 1926h0M657 1948h0M623 1947h0M649 1918h0M643 1988h0M641 1893h0M646 1995h0M564 1944h0M498 1866h0M507 1902h0M508 1894h0M511 1886h0M477 1959h0M481 1921h0M501 1947h0M483 1864h0" stroke="#474747" stroke-width="11" stroke-linecap="round"/>
<path d="M574 1949h0M627 1915h0M606 1962h0M592 1899h0M601 1996h0M608 1927h0M648 1921h0M567 1961h0M723 1940h0M675 1902h0M623 1902h0M564 1947h0M611 1984h0M589 1916h0M594 1942h0M522 1927h0M622 1922h0M653 1912h0M616 1912h0M562 1956h0M503 1983h0M561 1993h0M608 1912h0M548 1933h0M550 1991h0M610 1888h0M589 1938h0M635 1891h0M563 1926h0M662 1889h0M568 2009h0M605 1979h0M681 1932h0M611 1964h0M558 1988h0M655 1970h0M560 1953h0M564 1953h0M625 1954h0M594 1950h0M626 1911h0M604 2004h0M569 1918h0M585 1973h0M586 1923h0M628 1936h0M586 1929h0" stroke="#292a74" stroke-width="9.2" stroke-linecap="round"/>
<path d="M519 1931h0M535 1864h0M511 1969h0M543 1888h0M586 1904h0M503 2014h0M588 1923h0M509 1922h0M524 1955h0M566 1924h0M513 1963h0M499 1919h0M544 1901h0M592 1866h0M497 1991h0M586 1921h0" stroke="#f0644a" stroke-width="9.2" stroke-linecap="round"/>
<path d="M612 1970h0M588 2027h0M589 1959h0M591 2011h0M654 1954h0M575 1926h0M657 1948h0M623 1947h0M649 1918h0M643 1988h0M641 1893h0M646 1995h0M564 1944h0" stroke="#1b6332" stroke-width="9.2" stroke-linecap="round"/>
<path d="M498 1866h0M507 1902h0M508 1894h0M511 1886h0M477 1959h0M481 1921h0M501 1947h0M483 1864h0" stroke="#d49dc8" stroke-width="9.2" stroke-linecap="round"/>
<path d="M600 1887h0M510 1892h0M502 1927h0M515 1910h0M524 1914h0M553 1971h0M563 1861h0M510 1929h0M485 1989h0M575 1936h0M580 1905h0M534 1961h0M523 1920h0M543 1938h0M504 1980h0M643 1897h0M548 1953h0M534 1932h0M552 1877h0M568 1908h0M696 1925h0M587 1979h0M564 1986h0M537 1923h0M675 1978h0M600 1985h0M611 1955h0M642 1972h0M580 1927h0M533 2007h0M583 1935h0M481 1935h0M631 1947h0M580 1983h0M612 2003h0M628 1866h0M582 2004h0M534 1970h0M611 1875h0M620 1966h0M579 1989h0M597 1906h0M512 1914h0M546 1996h0M566 1931h0M587 2006h0M550 1978h0M585 1974h0M642 1957h0M572 1975h0M640 1876h0M599 1926h0M623 1947h0M542 1959h0M535 1937h0M633 1926h0M640 1985h0M558 1974h0M526 1983h0M561 1930h0M616 1927h0M601 1947h0M563 1910h0M584 1862h0M642 1921h0M542 2006h0M607 1962h0M556 1909h0M657 1945h0M633 1955h0M656 2002h0M633 1996h0M604 2001h0M671 1960h0M587 1988h0M555 2026h0M624 1957h0M605 1948h0M500 1912h0M509 1843h0M519 1970h0M486 1923h0M436 1947h0M424 1939h0M511 1875h0" stroke="#474747" stroke-width="11" stroke-linecap="round"/>
<path d="M600 1887h0M510 1892h0M502 1927h0M515 1910h0M524 1914h0M553 1971h0M563 1861h0M510 1929h0M485 1989h0M575 1936h0M580 1905h0M534 1961h0M523 1920h0M543 1938h0M504 1980h0M643 1897h0M548 1953h0M534 1932h0M552 1877h0M568 1908h0" stroke="#f0644a" stroke-width="9.2" stroke-linecap="round"/>
<path d="M696 1925h0M587 1979h0M564 1986h0M537 1923h0M675 1978h0M600 1985h0M611 1955h0M642 1972h0M580 1927h0M533 2007h0M583 1935h0M481 1935h0M631 1947h0M580 1983h0M612 2003h0M628 1866h0M582 2004h0M534 1970h0M611 1875h0M620 1966h0M579 1989h0M597 1906h0M512 1914h0M546 1996h0M566 1931h0M587 2006h0M550 1978h0M585 1974h0M642 1957h0M572 1975h0M640 1876h0M599 1926h0M623 1947h0M542 1959h0M535 1937h0M633 1926h0M640 1985h0M558 1974h0M526 1983h0M561 1930h0M616 1927h0M601 1947h0M563 1910h0M584 1862h0M642 1921h0M542 2006h0M607 1962h0M556 1909h0" stroke="#292a74" stroke-width="9.2" stroke-linecap="round"/>
<path d="M657 1945h0M633 1955h0M656 2002h0M633 1996h0M604 2001h0M671 1960h0M587 1988h0M555 2026h0M624 1957h0M605 1948h0" stroke="#1b6332" stroke-width="9.2" stroke-linecap="round"/>
<path d="M500 1912h0M509 1843h0M519 1970h0M486 1923h0M436 1947h0M424 1939h0M511 1875h0" stroke="#d49dc8" stroke-width="9.2" stroke-linecap="round"/>
<path d="M528 1960h0M598 1898h0M527 1941h0M570 1905h0M535 1936h0M546 1914h0M569 1961h0M512 1913h0M484 1980h0M550 1894h0M528 1938h0M572 1946h0M550 1931h0M555 1927h0M522 1890h0M553 2030h0M621 1996h0M553 2026h0M677 1979h0M562 1944h0M617 1971h0M586 1973h0M582 1941h0M619 1955h0M665 1955h0M623 1966h0M514 1897h0M558 1980h0M626 1953h0M588 1966h0M622 1968h0M694 1958h0M499 1987h0M601 1936h0M674 1908h0M573 1941h0M567 1978h0M537 1956h0M586 2008h0M580 1933h0M602 1900h0M506 1999h0M619 2005h0M594 1966h0M618 1964h0M575 1972h0M594 1918h0M522 1918h0M662 1936h0M577 1927h0M564 1980h0M583 1935h0M635 1901h0M600 1951h0M596 1918h0M650 1930h0M590 1861h0M572 1908h0M471 1948h0M640 2007h0M630 2007h0M577 1983h0M636 1975h0M645 1974h0M562 1995h0M658 1980h0M612 1955h0M628 1946h0M617 1959h0M626 1981h0M582 1989h0M602 1935h0M614 1989h0M576 1998h0M607 1951h0M617 2024h0M473 1911h0M482 1901h0M521 1851h0M544 1889h0M493 1920h0M574 1866h0M489 1863h0M441 1990h0" stroke="#474747" stroke-width="11" stroke-linecap="round"/>
<path d="M528 1960h0M598 1898h0M527 1941h0M570 1905h0M535 1936h0M546 1914h0M569 1961h0M512 1913h0M484 1980h0M550 1894h0M528 1938h0M572 1946h0M550 1931h0M555 1927h0M522 1890h0" stroke="#f0644a" stroke-width="9.2" stroke-linecap="round"/>
<path d="M553 2030h0M621 1996h0M553 2026h0M677 1979h0M562 1944h0M617 1971h0M586 1973h0M582 1941h0M619 1955h0M665 1955h0M623 1966h0M514 1897h0M558 1980h0M626 1953h0M588 1966h0M622 1968h0M694 1958h0M499 1987h0M601 1936h0M674 1908h0M573 1941h0M567 1978h0M537 1956h0M586 2008h0M580 1933h0M602 1900h0M506 1999h0M619 2005h0M594 1966h0M618 1964h0M575 1972h0M594 1918h0M522 1918h0M662 1936h0M577 1927h0M564 1980h0M583 1935h0M635 1901h0M600 1951h0M596 1918h0M650 1930h0M590 1861h0M572 1908h0M471 1948h0" stroke="#292a74" stroke-width="9.2" stroke-linecap="round"/>
<path d="M640 2007h0M630 2007h0M577 1983h0M636 1975h0M645 1974h0M562 1995h0M658 1980h0M612 1955h0M628 1946h0M617 1959h0M626 1981h0M582 1989h0M602 1935h0M614 1989h0M576 1998h0M607 1951h0M617 2024h0" stroke="#1b6332" stroke-width="9.2" stroke-linecap="round"/>
<path d="M473 1911h0M482 1901h0M521 1851h0M544 1889h0M493 1920h0M574 1866h0M489 1863h0M441 1990h0" stroke="#d49dc8" stroke-width="9.2" stroke-linecap="round"/>
<path d="M679 1945h0M661 1928h0M647 1924h0M682 1947h0M658 1963h0M641 1981h0M605 1974h0M672 1980h0M639 1983h0M629 1921h0M661 1901h0M643 1884h0M612 1920h0M591 2022h0M537 1918h0M606 1916h0M528 1971h0M619 1960h0M634 1942h0M538 2021h0M536 1945h0M625 1945h0M600 1991h0M563 1932h0M595 1981h0M659 1932h0M557 1961h0M594 1875h0M632 1973h0M611 1962h0M635 1965h0M574 1945h0M668 1994h0M544 1954h0M571 2024h0M628 1999h0M592 1991h0M619 1958h0M599 1932h0M565 1867h0M573 1980h0M581 1991h0M578 1913h0M602 1985h0M623 1956h0M573 1922h0M625 1916h0M623 1884h0M567 1933h0M643 1926h0M597 1968h0M638 1993h0M601 1888h0M573 1992h0M577 1902h0M577 1907h0M693 1951h0M623 1925h0M582 1984h0M571 1964h0M470 1902h0M487 1904h0M472 1885h0M508 1863h0M520 1925h0M541 1861h0M477 1892h0M505 1904h0M528 1894h0M463 1930h0M470 1930h0M523 1927h0M582 1958h0M616 1957h0M589 1900h0M544 1945h0M540 1857h0M530 1952h0M487 1902h0M535 1952h0M601 1927h0M504 2012h0M523 1929h0M579 1921h0" stroke="#474747" stroke-width="11" stroke-linecap="round"/>
<path d="M679 1945h0M661 1928h0M647 1924h0M682 1947h0M658 1963h0M641 1981h0M605 1974h0M672 1980h0M639 1983h0M629 1921h0" stroke="#1b6332" stroke-width="9.2" stroke-linecap="round"/>
<path d="M661 1901h0M643 1884h0M612 1920h0M591 2022h0M537 1918h0M606 1916h0M528 1971h0M619 1960h0M634 1942h0M538 2021h0M536 1945h0M625 1945h0M600 1991h0M563 1932h0M595 1981h0M659 1932h0M557 1961h0M594 1875h0M632 1973h0M611 1962h0M635 1965h0M574 1945h0M668 1994h0M544 1954h0M571 2024h0M628 1999h0M592 1991h0M619 1958h0M599 1932h0M565 1867h0M573 1980h0M581 1991h0M578 1913h0M602 1985h0M623 1956h0M573 1922h0M625 1916h0M623 1884h0M567 1933h0M643 1926h0M597 1968h0M638 1993h0M601 1888h0M573 1992h0M577 1902h0M577 1907h0M693 1951h0M623 1925h0M582 1984h0M571 1964h0" stroke="#292a74" stroke-width="9.2" stroke-linecap="round"/>
<path d="M470 1902h0M487 1904h0M472 1885h0M508 1863h0M520 1925h0M541 1861h0M477 1892h0M505 1904h0M528 1894h0M463 1930h0M470 1930h0" stroke="#d49dc8" stroke-width="9.2" stroke-linecap="round"/>
<path d="M523 1927h0M582 1958h0M616 1957h0M589 1900h0M544 1945h0M540 1857h0M530 1952h0M487 1902h0M535 1952h0M601 1927h0M504 2012h0M523 1929h0M579 1921h0" stroke="#f0644a" stroke-width="9.2" stroke-linecap="round"/>
<path d="M591 1960h0M643 1928h0M604 1929h0M683 1970h0M675 1935h0M565 1994h0M568 1902h0M538 1912h0M497 1941h0M610 1899h0M638 1901h0M652 1965h0M530 1999h0M681 1916h0M566 1912h0M552 1959h0M602 1964h0M612 1918h0M655 1941h0M597 1884h0M619 1892h0M560 1967h0M573 1928h0M580 1948h0M569 1911h0M580 1943h0M596 2001h0M563 1997h0M639 1919h0M630 1945h0M564 1955h0M642 1900h0M628 1911h0M605 1956h0M590 1921h0M604 1920h0M556 1924h0M552 1970h0M563 1880h0M530 1887h0M568 1958h0M620 1928h0M558 1995h0M596 1902h0M650 1918h0M532 1976h0M528 1928h0M593 1899h0M596 1972h0M552 1935h0M577 1876h0M555 1926h0M532 1909h0M590 1923h0M562 1986h0M461 1941h0M597 1936h0M620 1871h0M538 1917h0M574 1943h0M500 1933h0M523 1994h0M552 1906h0M529 1875h0M624 1900h0M535 1912h0M599 1966h0M620 1984h0M661 1927h0M602 1956h0M667 1956h0M607 1968h0M657 1981h0M631 1991h0M661 1935h0M660 1945h0M602 1987h0M587 1977h0M649 2030h0M473 1926h0M508 1870h0M501 1928h0M436 1953h0M494 1897h0" stroke="#474747" stroke-width="11" stroke-linecap="round"/>
<path d="M591 1960h0M643 1928h0M604 1929h0M683 1970h0M675 1935h0M565 1994h0M568 1902h0M538 1912h0M497 1941h0M610 1899h0M638 1901h0M652 1965h0M530 1999h0M681 1916h0M566 1912h0M552 1959h0M602 1964h0M612 1918h0M655 1941h0M597 1884h0M619 1892h0M560 1967h0M573 1928h0M580 1948h0M569 1911h0M580 1943h0M596 2001h0M563 1997h0M639 1919h0M630 1945h0M564 1955h0M642 1900h0M628 1911h0M605 1956h0M590 1921h0M604 1920h0M556 1924h0M552 1970h0M563 1880h0M530 1887h0M568 1958h0M620 1928h0M558 1995h0M596 1902h0M650 1918h0M532 1976h0M528 1928h0" stroke="#292a74" stroke-width="9.2" stroke-linecap="round"/>
<path d="M593 1899h0M596 1972h0M552 1935h0M577 1876h0M555 1926h0M532 1909h0M590 1923h0M562 1986h0M461 1941h0M597 1936h0M620 1871h0M538 1917h0M574 1943h0M500 1933h0M523 1994h0M552 1906h0M529 1875h0M624 1900h0M535 1912h0" stroke="#f0644a" stroke-width="9.2" stroke-linecap="round"/>
<path d="M599 1966h0M620 1984h0M661 1927h0M602 1956h0M667 1956h0M607 1968h0M657 1981h0M631 1991h0M661 1935h0M660 1945h0M602 1987h0M587 1977h0M649 2030h0" stroke="#1b6332" stroke-width="9.2" stroke-linecap="round"/>
<path d="M473 1926h0M508 1870h0M501 1928h0M436 1953h0M494 1897h0" stroke="#d49dc8" stroke-width="9.2" stroke-linecap="round"/>
<path d="M586 1934h0M497 1950h0M528 1924h0M468 1941h0M651 1909h0M605 1913h0M552 1917h0M570 1906h0M554 1893h0M536 1958h0M539 1922h0M572 1900h0M585 1957h0M561 1884h0M505 1938h0M563 2006h0M635 1955h0M564 1948h0M564 1914h0M506 1977h0M599 2004h0M559 1954h0M573 1980h0M626 1962h0M520 1947h0M542 1988h0M654 1912h0M607 1975h0M660 1934h0M547 1990h0M534 1929h0M631 1944h0M540 1966h0M666 1914h0M639 1913h0M586 1964h0M630 2009h0M519 1910h0M644 1949h0M603 1945h0M623 1940h0M534 1963h0M532 1911h0M586 1984h0M564 1956h0M592 1947h0M621 2003h0M567 1994h0M572 1914h0M642 1974h0M518 1939h0M658 1907h0M583 1907h0M574 1951h0M634 1961h0M555 1868h0M606 1927h0M644 1895h0M576 1977h0M581 1916h0M557 1974h0M607 1985h0M624 1895h0M539 1889h0M606 1958h0M604 2020h0M606 1989h0M650 1926h0M682 1966h0M587 1918h0M604 2057h0M573 2015h0M627 1955h0M606 1941h0M637 2054h0M564 2022h0M412 1911h0M492 1931h0M514 1895h0M526 1891h0M515 1906h0M458 1912h0M507 1955h0M502 1943h0" stroke="#474747" stroke-width="11" stroke-linecap="round"/>
<path d="M586 1934h0M497 1950h0M528 1924h0M468 1941h0M651 1909h0M605 1913h0M552 1917h0M570 1906h0M554 1893h0M536 1958h0M539 1922h0M572 1900h0M585 1957h0M561 1884h0M505 1938h0M563 2006h0M635 1955h0M564 1948h0M564 1914h0M506 1977h0M599 2004h0" stroke="#f0644a" stroke-width="9.2" stroke-linecap="round"/>
<path d="M559 1954h0M573 1980h0M626 1962h0M520 1947h0M542 1988h0M654 1912h0M607 1975h0M660 1934h0M547 1990h0M534 1929h0M631 1944h0M540 1966h0M666 1914h0M639 1913h0M586 1964h0M630 2009h0M519 1910h0M644 1949h0M603 1945h0M623 1940h0M534 1963h0M532 1911h0M586 1984h0M564 1956h0M592 1947h0M621 2003h0M567 1994h0M572 1914h0M642 1974h0M518 1939h0M658 1907h0M583 1907h0M574 1951h0M634 1961h0M555 1868h0M606 1927h0M644 1895h0M576 1977h0M581 1916h0M557 1974h0M607 1985h0M624 1895h0M539 1889h0" stroke="#292a74" stroke-width="9.2" stroke-linecap="round"/>
<path d="M606 1958h0M604 2020h0M606 1989h0M650 1926h0M682 1966h0M587 1918h0M604 2057h0M573 2015h0M627 1955h0M606 1941h0M637 2054h0M564 2022h0" stroke="#1b6332" stroke-width="9.2" stroke-linecap="round"/>
<path d="M412 1911h0M492 1931h0M514 1895h0M526 1891h0M515 1906h0M458 1912h0M507 1955h0M502 1943h0" stroke="#d49dc8" stroke-width="9.2" stroke-linecap="round"/>
<path d="M583 1942h0M534 1926h0M614 1871h0M579 1967h0M537 1955h0M547 1925h0M509 1927h0M511 1923h0M538 1947h0M581 1972h0M595 2017h0M520 1918h0M610 1879h0M578 1908h0M590 1919h0M591 1872h0M636 1881h0M562 1920h0M490 1945h0M558 1997h0M617 1955h0M567 1957h0M633 1925h0M536 2008h0M675 1986h0M552 2030h0M644 1998h0M618 1899h0M522 1964h0M566 1957h0M525 1883h0M675 1893h0M679 1994h0M566 2007h0M516 1918h0M600 1900h0M627 1888h0M565 1965h0M597 1943h0M605 1934h0M596 1949h0M641 1909h0M671 1944h0M648 1977h0M637 1973h0M573 1968h0M657 1945h0M602 1920h0M655 2009h0M568 1958h0M571 1960h0M568 1952h0M662 1900h0M577 1958h0M589 1955h0M605 1993h0M570 1944h0M567 1929h0M572 1953h0M518 1903h0M628 1908h0M536 1941h0M632 1918h0M625 1931h0M548 1854h0M561 1866h0M456 1905h0M445 1966h0M449 1959h0M466 1958h0M566 1874h0M468 1888h0M470 1904h0M651 1965h0M602 2006h0M607 1976h0M638 1944h0M618 1974h0M601 1934h0M546 1960h0M586 1943h0M603 1978h0M615 1929h0M604 1916h0" stroke="#474747" stroke-width="11" stroke-linecap="round"/>
<path d="M583 1942h0M534 1926h0M614 1871h0M579 1967h0M537 1955h0M547 1925h0M509 1927h0M511 1923h0M538 1947h0M581 1972h0M595 2017h0M520 1918h0M610 1879h0M578 1908h0M590 1919h0M591 1872h0M636 1881h0M562 1920h0M490 1945h0M558 1997h0M617 1955h0M567 1957h0" stroke="#f0644a" stroke-width="9.2" stroke-linecap="round"/>
<path d="M633 1925h0M536 2008h0M675 1986h0M552 2030h0M644 1998h0M618 1899h0M522 1964h0M566 1957h0M525 1883h0M675 1893h0M679 1994h0M566 2007h0M516 1918h0M600 1900h0M627 1888h0M565 1965h0M597 1943h0M605 1934h0M596 1949h0M641 1909h0M671 1944h0M648 1977h0M637 1973h0M573 1968h0M657 1945h0M602 1920h0M655 2009h0M568 1958h0M571 1960h0M568 1952h0M662 1900h0M577 1958h0M589 1955h0M605 1993h0M570 1944h0M567 1929h0M572 1953h0M518 1903h0M628 1908h0M536 1941h0M632 1918h0M625 1931h0" stroke="#292a74" stroke-width="9.2" stroke-linecap="round"/>
<path d="M548 1854h0M561 1866h0M456 1905h0M445 1966h0M449 1959h0M466 1958h0M566 1874h0M468 1888h0M470 1904h0" stroke="#d49dc8" stroke-width="9.2" stroke-linecap="round"/>
<path d="M651 1965h0M602 2006h0M607 1976h0M638 1944h0M618 1974h0M601 1934h0M546 1960h0M586 1943h0M603 1978h0M615 1929h0M604 1916h0" stroke="#1b6332" stroke-width="9.2" stroke-linecap="round"/>
<path d="M574 1937h0M628 1910h0M639 1902h0M654 1871h0M579 1953h0M574 1915h0M628 2006h0M578 1972h0M592 1914h0M617 1897h0M606 1925h0M550 1991h0M601 1947h0M628 1958h0M520 1973h0M540 1975h0M666 1954h0M647 1912h0M555 1960h0M547 1977h0M554 1922h0M631 1921h0M598 1962h0M627 1950h0M661 1912h0M650 1891h0M544 1966h0M605 1894h0M565 1996h0M566 1988h0M534 1976h0M515 1985h0M572 1961h0M630 1908h0M670 1960h0M637 1911h0M533 1990h0M616 1934h0M634 1932h0M606 1946h0M602 1956h0M582 1997h0M595 1993h0M613 1858h0M618 1961h0M611 2022h0M608 1964h0M576 1979h0M604 1971h0M545 1957h0M585 1976h0M565 1899h0M524 1997h0M576 1936h0M582 1933h0M511 1947h0M626 1900h0M571 1976h0M580 1915h0M498 2002h0M574 1943h0M567 1932h0M513 1949h0M603 1910h0M577 1961h0M551 1884h0M565 1930h0M537 1883h0M571 1962h0M612 1955h0M598 2010h0M636 1997h0M606 1935h0M671 1952h0M593 1980h0M616 1930h0M600 1916h0M633 1931h0M611 1986h0M637 1937h0M491 1891h0M524 1837h0M491 1958h0M517 1875h0M439 1951h0" stroke="#474747" stroke-width="11" stroke-linecap="round"/>
<path d="M574 1937h0M628 1910h0M639 1902h0M654 1871h0M579 1953h0M574 1915h0M628 2006h0M578 1972h0M592 1914h0M617 1897h0M606 1925h0M550 1991h0M601 1947h0M628 1958h0M520 1973h0M540 1975h0M666 1954h0M647 1912h0M555 1960h0M547 1977h0M554 1922h0M631 1921h0M598 1962h0M627 1950h0M661 1912h0M650 1891h0M544 1966h0M605 1894h0M565 1996h0M566 1988h0M534 1976h0M515 1985h0M572 1961h0M630 1908h0M670 1960h0M637 1911h0M533 1990h0M616 1934h0M634 1932h0M606 1946h0M602 1956h0M582 1997h0M595 1993h0M613 1858h0M618 1961h0M611 2022h0" stroke="#292a74" stroke-width="9.2" stroke-linecap="round"/>
<path d="M608 1964h0M576 1979h0M604 1971h0M545 1957h0M585 1976h0M565 1899h0M524 1997h0M576 1936h0M582 1933h0M511 1947h0M626 1900h0M571 1976h0M580 1915h0M498 2002h0M574 1943h0M567 1932h0M513 1949h0M603 1910h0M577 1961h0M551 1884h0M565 1930h0M537 1883h0M571 1962h0" stroke="#f0644a" stroke-width="9.2" stroke-linecap="round"/>
<path d="M612 1955h0M598 2010h0M636 1997h0M606 1935h0M671 1952h0M593 1980h0M616 1930h0M600 1916h0M633 1931h0M611 1986h0M637 1937h0" stroke="#1b6332" stroke-width="9.2" stroke-linecap="round"/>
<path d="M491 1891h0M524 1837h0M491 1958h0M517 1875h0M439 1951h0" stroke="#d49dc8" stroke-width="9.2" stroke-linecap="round"/>
<path d="M399 1894h0" stroke="#474747" stroke-width="11" stroke-linecap="round"/>
<path d="M399 1894h0" stroke="#f0644a" stroke-width="9.2" stroke-linecap="round"/>
<path d="M742 1822h0" stroke="#474747" stroke-width="11" stroke-linecap="round"/>
<path d="M742 1822h0" stroke="#292a74" stroke-width="9.2" stroke-linecap="round"/>
<path d="M742 1898h0" stroke="#474747" stroke-width="11" stroke-linecap="round"/>
<path d="M742 1898h0" stroke="#292a74" stroke-width="9.2" stroke-linecap="round"/>
<path d="M444 2038h0" stroke="#474747" stroke-width="11" stroke-linecap="round"/>
<path d="M444 2038h0" stroke="#292a74" stroke-width="9.2" stroke-linecap="round"/>
<path d="M645 2049h0" stroke="#474747" stroke-width="11" stroke-linecap="round"/>
<path d="M645 2049h0" stroke="#1b6332" stroke-width="9.2" stroke-linecap="round"/>
<path d="M596 2057h0" stroke="#474747" stroke-width="11" stroke-linecap="round"/>
<path d="M596 2057h0" stroke="#292a74" stroke-width="9.2" stroke-linecap="round"/>
<line x1="428.2" y1="1940.9" x2="604.7" y2="1842.4" stroke="#b38ad3" stroke-width="4" />
<line x1="400.3" y1="1963.5" x2="672.4" y2="1873.8" stroke="#14b8c4" stroke-width="4" />
<line x1="431.2" y1="1987" x2="740" y2="1909.1" stroke="#7ab13f" stroke-width="4" />
<line x1="523.8" y1="1982.6" x2="685.6" y2="1940" stroke="#f4766c" stroke-width="4" />
<line x1="383.5" y1="1780.6" x2="383.5" y2="2068" stroke="#3f3f3f" stroke-width="1.5" />
<line x1="383.5" y1="2068" x2="757.6" y2="2068" stroke="#3f3f3f" stroke-width="1.5" />
<line x1="423.2" y1="2068" x2="423.2" y2="2078" stroke="#737373" stroke-width="1.8" />
<text x="423.2" y="2107" font-size="22" text-anchor="middle" >16</text>
<line x1="493" y1="2068" x2="493" y2="2078" stroke="#737373" stroke-width="1.8" />
<text x="493" y="2107" font-size="22" text-anchor="middle" >17</text>
<line x1="562" y1="2068" x2="562" y2="2078" stroke="#737373" stroke-width="1.8" />
<text x="562" y="2107" font-size="22" text-anchor="middle" >18</text>
<line x1="631.2" y1="2068" x2="631.2" y2="2078" stroke="#737373" stroke-width="1.8" />
<text x="631.2" y="2107" font-size="22" text-anchor="middle" >19</text>
<line x1="700.3" y1="2068" x2="700.3" y2="2078" stroke="#737373" stroke-width="1.8" />
<text x="700.3" y="2107" font-size="22" text-anchor="middle" >20</text>
<line x1="373.5" y1="2018.8" x2="383.5" y2="2018.8" stroke="#737373" stroke-width="1.8" />
<text x="361" y="2026.6" font-size="22" text-anchor="end" >17</text>
<line x1="373.5" y1="1943" x2="383.5" y2="1943" stroke="#737373" stroke-width="1.8" />
<text x="361" y="1950.8" font-size="22" text-anchor="end" >18</text>
<line x1="373.5" y1="1867.4" x2="383.5" y2="1867.4" stroke="#737373" stroke-width="1.8" />
<text x="361" y="1875.2" font-size="22" text-anchor="end" >19</text>
<line x1="373.5" y1="1791.5" x2="383.5" y2="1791.5" stroke="#737373" stroke-width="1.8" />
<text x="361" y="1799.3" font-size="22" text-anchor="end" >20</text>
<text x="407" y="1815.9" font-size="23" fill="#f4766c" ><tspan font-style="italic">ρ</tspan> = 0.3</text>
<text x="407" y="1844.4" font-size="23" fill="#7ab13f" ><tspan font-style="italic">ρ</tspan> = 0.3</text>
<text x="407" y="1873.8" font-size="23" fill="#14b8c4" ><tspan font-style="italic">ρ</tspan> = 0.4</text>
<text x="407" y="1903.2" font-size="23" fill="#b38ad3" ><tspan font-style="italic">ρ</tspan> = 0.5</text>
<text x="562" y="1812" font-size="23" ><tspan font-style="italic">ρ</tspan> = 0.1</text>
<text x="570.9" y="2147.4" font-size="23" text-anchor="middle" ><tspan font-style="italic">CNOT1</tspan> (gene expression)</text>
<text x="316" y="1923.8" font-size="23" text-anchor="middle" transform="rotate(-90 316 1923.8)" ><tspan font-style="italic">E2F4</tspan> (gene expression)</text>
<path d="M1119 1917h0M1064 1966h0M1041 1966h0M1139 1889h0M1011 1940h0M1056 1945h0M1025 1943h0M1043 1979h0M1034 1943h0M1016 1979h0M1103 1895h0M1031 1975h0M981 1968h0M1009 1974h0M985 2010h0M1071 1919h0M1064 1939h0M1062 1972h0M1044 2002h0M1046 1965h0M966 1997h0M1033 1941h0M989 2004h0M1059 1930h0M1038 1939h0M1058 1886h0M1084 1947h0M1042 1923h0M1045 1980h0M1056 1966h0M1001 1921h0M1095 1972h0M1090 1886h0M984 2008h0M1058 1946h0M1045 1946h0M1026 1963h0M1048 1928h0M1008 1925h0M1010 1953h0M1076 1955h0M1016 1958h0M1010 1961h0M1007 1984h0M1055 1948h0M1017 1941h0M1018 2004h0M1029 1948h0M1034 1966h0M1053 1926h0M1053 1995h0M1119 1929h0M1062 1962h0M1010 1980h0M996 1991h0M986 1947h0M991 1958h0M1028 1971h0M1109 1923h0M968 1989h0M1021 1966h0M974 1953h0M1114 1935h0M1026 1960h0M1043 1959h0M1032 1940h0M1045 1935h0M1013 1940h0M1072 1886h0M1033 1940h0M1042 1972h0M1048 1961h0M1085 1948h0M1000 1980h0M1071 1949h0M1076 1939h0M1021 1969h0" stroke="#474747" stroke-width="11" stroke-linecap="round"/>
<path d="M1119 1917h0M1064 1966h0M1041 1966h0M1139 1889h0M1011 1940h0M1056 1945h0M1025 1943h0M1043 1979h0M1034 1943h0M1016 1979h0M1103 1895h0M1031 1975h0M981 1968h0M1009 1974h0M985 2010h0M1071 1919h0M1064 1939h0M1062 1972h0M1044 2002h0M1046 1965h0M966 1997h0M1033 1941h0M989 2004h0M1059 1930h0M1038 1939h0M1058 1886h0M1084 1947h0M1042 1923h0M1045 1980h0M1056 1966h0M1001 1921h0M1095 1972h0M1090 1886h0M984 2008h0M1058 1946h0M1045 1946h0M1026 1963h0M1048 1928h0M1008 1925h0M1010 1953h0M1076 1955h0M1016 1958h0M1010 1961h0M1007 1984h0M1055 1948h0M1017 1941h0M1018 2004h0M1029 1948h0M1034 1966h0M1053 1926h0M1053 1995h0M1119 1929h0M1062 1962h0" stroke="#292a74" stroke-width="9.2" stroke-linecap="round"/>
<path d="M1010 1980h0M996 1991h0M986 1947h0M991 1958h0M1028 1971h0M1109 1923h0M968 1989h0M1021 1966h0M974 1953h0M1114 1935h0M1026 1960h0M1043 1959h0M1032 1940h0M1045 1935h0M1013 1940h0" stroke="#f0644a" stroke-width="9.2" stroke-linecap="round"/>
<path d="M1072 1886h0M1033 1940h0M1042 1972h0M1048 1961h0M1085 1948h0M1000 1980h0" stroke="#1b6332" stroke-width="9.2" stroke-linecap="round"/>
<path d="M1071 1949h0M1076 1939h0M1021 1969h0" stroke="#d49dc8" stroke-width="9.2" stroke-linecap="round"/>
<path d="M1033 1991h0M1078 1947h0M1079 1926h0M1042 1937h0M1026 1985h0M1085 1907h0M1011 1940h0M1064 1971h0M1034 1961h0M967 1996h0M1043 1981h0M1057 1948h0M1096 1880h0M1102 1880h0M1060 1926h0M1079 1969h0M1113 1902h0M1072 1937h0M1064 1934h0M1041 1948h0M1054 1889h0M1086 1935h0M1055 1943h0M1034 1943h0M1035 1943h0M1122 1899h0M1092 1933h0M1043 1939h0M1023 1990h0M1056 1945h0M1039 1956h0M1047 1942h0M1098 1951h0M996 2001h0M1005 2008h0M1007 1964h0M1113 1916h0M1007 1982h0M1044 1920h0M1094 1923h0M1036 1963h0M1003 1947h0M1064 1922h0M1060 1879h0M1040 1943h0M1064 1931h0M1028 1928h0M1037 1959h0M1101 1917h0M1041 1974h0M998 1975h0M1031 1918h0M1048 1934h0M1049 1956h0M1112 1886h0M1045 1931h0M1044 1954h0M1048 1977h0M1066 1967h0M978 1981h0M1083 1897h0M991 1942h0M1032 1914h0M1004 1961h0M1042 1916h0M1073 1941h0M1014 1932h0M1019 1940h0M1066 1921h0M1020 1939h0M1055 1907h0M1011 1972h0M1020 1927h0M1043 1933h0M1013 2010h0M1051 1937h0M1049 1950h0M1103 1914h0" stroke="#474747" stroke-width="11" stroke-linecap="round"/>
<path d="M1033 1991h0M1078 1947h0M1079 1926h0M1042 1937h0M1026 1985h0M1085 1907h0M1011 1940h0M1064 1971h0M1034 1961h0M967 1996h0M1043 1981h0M1057 1948h0M1096 1880h0M1102 1880h0M1060 1926h0M1079 1969h0M1113 1902h0M1072 1937h0M1064 1934h0M1041 1948h0M1054 1889h0M1086 1935h0M1055 1943h0M1034 1943h0M1035 1943h0M1122 1899h0M1092 1933h0M1043 1939h0M1023 1990h0M1056 1945h0M1039 1956h0M1047 1942h0M1098 1951h0M996 2001h0M1005 2008h0M1007 1964h0M1113 1916h0M1007 1982h0M1044 1920h0M1094 1923h0M1036 1963h0M1003 1947h0M1064 1922h0M1060 1879h0M1040 1943h0M1064 1931h0M1028 1928h0M1037 1959h0M1101 1917h0M1041 1974h0M998 1975h0M1031 1918h0M1048 1934h0M1049 1956h0" stroke="#292a74" stroke-width="9.2" stroke-linecap="round"/>
<path d="M1112 1886h0M1045 1931h0M1044 1954h0M1048 1977h0M1066 1967h0M978 1981h0M1083 1897h0M991 1942h0" stroke="#d49dc8" stroke-width="9.2" stroke-linecap="round"/>
<path d="M1032 1914h0M1004 1961h0M1042 1916h0M1073 1941h0M1014 1932h0" stroke="#1b6332" stroke-width="9.2" stroke-linecap="round"/>
<path d="M1019 1940h0M1066 1921h0M1020 1939h0M1055 1907h0M1011 1972h0M1020 1927h0M1043 1933h0M1013 2010h0M1051 1937h0M1049 1950h0M1103 1914h0" stroke="#f0644a" stroke-width="9.2" stroke-linecap="round"/>
<path d="M1097 1937h0M1045 1905h0M1070 1924h0M1028 1959h0M1097 1880h0M1063 1952h0M1094 1918h0M1048 1932h0M1031 1941h0M1054 1932h0M1087 1914h0M1112 1899h0M991 1946h0M1110 1897h0M1101 1895h0M1093 1906h0M1040 1905h0M1042 1954h0M1045 1886h0M1084 1920h0M1016 1962h0M1008 1948h0M1032 1974h0M1033 1967h0M1012 1980h0M1037 1908h0M1044 1934h0M1042 1919h0M1111 1898h0M1099 1958h0M1088 1921h0M1045 1972h0M1042 1958h0M1029 2004h0M1035 2016h0M1054 1980h0M1042 1936h0M1100 1913h0M1057 1911h0M1081 1951h0M1060 1913h0M1098 1899h0M1030 1952h0M1063 1923h0M1041 1974h0M1106 1897h0M1007 1926h0M995 2009h0M1059 1952h0M1035 1909h0M1077 1894h0M1070 1916h0M1009 1940h0M1095 1930h0M1047 1954h0M1090 1956h0M997 2003h0M1083 1923h0M991 2000h0M1056 1926h0M969 2026h0M1038 1939h0M989 1993h0M1040 1951h0M1077 1919h0M1031 1978h0M1051 1926h0M964 1953h0M1070 1925h0M1022 1968h0M1060 1943h0M1034 1955h0M1042 1984h0M1063 1917h0M1104 1912h0M1104 1932h0M1034 1971h0" stroke="#474747" stroke-width="11" stroke-linecap="round"/>
<path d="M1097 1937h0M1045 1905h0M1070 1924h0M1028 1959h0M1097 1880h0M1063 1952h0M1094 1918h0" stroke="#1b6332" stroke-width="9.2" stroke-linecap="round"/>
<path d="M1048 1932h0M1031 1941h0M1054 1932h0M1087 1914h0M1112 1899h0M991 1946h0M1110 1897h0M1101 1895h0M1093 1906h0M1040 1905h0M1042 1954h0M1045 1886h0M1084 1920h0M1016 1962h0M1008 1948h0M1032 1974h0M1033 1967h0M1012 1980h0M1037 1908h0M1044 1934h0M1042 1919h0M1111 1898h0M1099 1958h0M1088 1921h0M1045 1972h0M1042 1958h0M1029 2004h0M1035 2016h0M1054 1980h0M1042 1936h0M1100 1913h0M1057 1911h0M1081 1951h0M1060 1913h0M1098 1899h0M1030 1952h0M1063 1923h0M1041 1974h0M1106 1897h0M1007 1926h0M995 2009h0M1059 1952h0M1035 1909h0M1077 1894h0M1070 1916h0" stroke="#292a74" stroke-width="9.2" stroke-linecap="round"/>
<path d="M1009 1940h0M1095 1930h0M1047 1954h0M1090 1956h0M997 2003h0M1083 1923h0M991 2000h0M1056 1926h0M969 2026h0" stroke="#d49dc8" stroke-width="9.2" stroke-linecap="round"/>
<path d="M1038 1939h0M989 1993h0M1040 1951h0M1077 1919h0M1031 1978h0M1051 1926h0M964 1953h0M1070 1925h0M1022 1968h0M1060 1943h0M1034 1955h0M1042 1984h0M1063 1917h0M1104 1912h0M1104 1932h0M1034 1971h0" stroke="#f0644a" stroke-width="9.2" stroke-linecap="round"/>
<path d="M1029 1941h0M1006 1943h0M1012 1931h0M963 2020h0M1103 1906h0M1075 1928h0M1077 1962h0M1030 1931h0M1041 1936h0M1019 1971h0M1020 1948h0M1017 1953h0M1028 2013h0M1036 1966h0M1049 1929h0M1041 1934h0M1055 1999h0M985 1974h0M1116 1941h0M1039 1970h0M1057 1963h0M996 1975h0M1023 1957h0M962 1976h0M1049 1937h0M1049 1958h0M1024 2014h0M1010 1961h0M1021 1934h0M1043 1896h0M1041 1953h0M1082 1924h0M1007 1973h0M1062 1956h0M1027 1994h0M1044 1952h0M1032 1971h0M1025 1907h0M1131 1899h0M1044 1964h0M1067 1957h0M1021 1977h0M993 1994h0M1029 1947h0M1070 1952h0M1059 1964h0M1025 1932h0M1060 1919h0M1021 1971h0M983 2017h0M1013 1950h0M1114 1895h0M976 2006h0M1049 1938h0M1015 1988h0M1001 1951h0M1068 1911h0M1026 1950h0M1045 1990h0M1015 1936h0M1046 1960h0M1018 1942h0M1020 1944h0M1028 1976h0M1042 1957h0M1043 1908h0M1071 1967h0M1069 1905h0M1063 1932h0M1025 1972h0M1102 1956h0M1011 1925h0M1065 1918h0M1015 1980h0M1000 1974h0M1028 1992h0M1075 1933h0M1045 1923h0" stroke="#474747" stroke-width="11" stroke-linecap="round"/>
<path d="M1029 1941h0M1006 1943h0M1012 1931h0M963 2020h0M1103 1906h0M1075 1928h0M1077 1962h0M1030 1931h0M1041 1936h0M1019 1971h0M1020 1948h0M1017 1953h0M1028 2013h0M1036 1966h0M1049 1929h0M1041 1934h0M1055 1999h0M985 1974h0M1116 1941h0M1039 1970h0M1057 1963h0M996 1975h0M1023 1957h0M962 1976h0M1049 1937h0M1049 1958h0M1024 2014h0M1010 1961h0M1021 1934h0M1043 1896h0M1041 1953h0M1082 1924h0M1007 1973h0M1062 1956h0M1027 1994h0M1044 1952h0M1032 1971h0M1025 1907h0M1131 1899h0M1044 1964h0M1067 1957h0M1021 1977h0M993 1994h0M1029 1947h0M1070 1952h0M1059 1964h0M1025 1932h0M1060 1919h0" stroke="#292a74" stroke-width="9.2" stroke-linecap="round"/>
<path d="M1021 1971h0M983 2017h0M1013 1950h0M1114 1895h0M976 2006h0M1049 1938h0M1015 1988h0M1001 1951h0M1068 1911h0M1026 1950h0M1045 1990h0M1015 1936h0M1046 1960h0M1018 1942h0M1020 1944h0M1028 1976h0M1042 1957h0" stroke="#f0644a" stroke-width="9.2" stroke-linecap="round"/>
<path d="M1043 1908h0M1071 1967h0M1069 1905h0M1063 1932h0" stroke="#1b6332" stroke-width="9.2" stroke-linecap="round"/>
<path d="M1025 1972h0M1102 1956h0M1011 1925h0M1065 1918h0M1015 1980h0M1000 1974h0M1028 1992h0M1075 1933h0M1045 1923h0" stroke="#d49dc8" stroke-width="9.2" stroke-linecap="round"/>
<path d="M1084 1970h0M1015 1995h0M1054 1941h0M1045 1972h0M1082 1933h0M1014 1972h0M1005 1950h0M1025 1931h0M1119 1940h0M1036 1940h0M1112 1936h0M1070 1945h0M1080 1953h0M1093 1917h0M1090 1959h0M1025 1981h0M980 1979h0M1044 1911h0M1071 1959h0M1046 1947h0M993 1982h0M1087 1961h0M994 1995h0M1061 1919h0M1059 1951h0M963 2011h0M1022 1975h0M1002 1993h0M1073 1917h0M1125 1922h0M1063 1931h0M1068 1945h0M1049 1940h0M1085 1930h0M1061 1979h0M1059 1921h0M1005 1965h0M1012 1956h0M1066 1945h0M1067 1908h0M1086 1930h0M1097 1917h0M1082 1928h0M1100 1946h0M1003 1954h0M968 1969h0M1048 1928h0M998 1992h0M1091 1940h0M1070 1952h0M1018 1959h0M1058 1922h0M1024 1991h0M1025 1960h0M1067 1930h0M1100 1941h0M1031 1967h0M1003 2013h0M1043 1920h0M1062 1951h0M1061 1931h0M1046 1925h0M1015 1990h0M1051 1952h0M1010 1955h0M1039 1954h0M1046 1968h0M1056 1949h0M1023 1951h0M999 1975h0M1095 1922h0M1098 1905h0M1044 1925h0M1089 1898h0M1072 1948h0M1060 1911h0M1026 1910h0" stroke="#474747" stroke-width="11" stroke-linecap="round"/>
<path d="M1084 1970h0M1015 1995h0M1054 1941h0M1045 1972h0M1082 1933h0M1014 1972h0M1005 1950h0M1025 1931h0M1119 1940h0M1036 1940h0M1112 1936h0M1070 1945h0M1080 1953h0M1093 1917h0M1090 1959h0M1025 1981h0M980 1979h0M1044 1911h0M1071 1959h0M1046 1947h0M993 1982h0M1087 1961h0M994 1995h0M1061 1919h0M1059 1951h0M963 2011h0M1022 1975h0M1002 1993h0M1073 1917h0M1125 1922h0M1063 1931h0M1068 1945h0M1049 1940h0M1085 1930h0M1061 1979h0M1059 1921h0M1005 1965h0M1012 1956h0M1066 1945h0M1067 1908h0M1086 1930h0M1097 1917h0M1082 1928h0M1100 1946h0M1003 1954h0" stroke="#292a74" stroke-width="9.2" stroke-linecap="round"/>
<path d="M968 1969h0M1048 1928h0M998 1992h0M1091 1940h0M1070 1952h0M1018 1959h0" stroke="#d49dc8" stroke-width="9.2" stroke-linecap="round"/>
<path d="M1058 1922h0M1024 1991h0M1025 1960h0M1067 1930h0M1100 1941h0M1031 1967h0M1003 2013h0M1043 1920h0M1062 1951h0M1061 1931h0M1046 1925h0M1015 1990h0M1051 1952h0M1010 1955h0M1039 1954h0M1046 1968h0M1056 1949h0M1023 1951h0M999 1975h0" stroke="#f0644a" stroke-width="9.2" stroke-linecap="round"/>
<path d="M1095 1922h0M1098 1905h0M1044 1925h0M1089 1898h0M1072 1948h0M1060 1911h0M1026 1910h0" stroke="#1b6332" stroke-width="9.2" stroke-linecap="round"/>
<path d="M1086 1916h0M994 1964h0M1059 1924h0M1015 1951h0M1093 1878h0M1026 1993h0M1048 1951h0M1047 1958h0M1054 1938h0M1106 1921h0M1014 1923h0M1058 1926h0M983 1952h0M1057 1940h0M1076 1905h0M1096 1959h0M1071 1960h0M1062 1940h0M995 1991h0M1058 1954h0M1028 1976h0M1015 1910h0M1035 1974h0M1130 1905h0M1087 1923h0M1088 1888h0M1080 1918h0M1052 1983h0M974 1977h0M1051 1978h0M1028 1957h0M1016 1983h0M1068 1953h0M1022 1926h0M1023 1952h0M1022 1969h0M1028 1958h0M1027 1995h0M961 1987h0M1054 1959h0M1042 1949h0M1043 1953h0M1044 1932h0M1005 1971h0M1016 1957h0M1071 1915h0M1004 1946h0M1059 1925h0M1023 1933h0M1005 1946h0M1067 1914h0M1025 1984h0M1040 1911h0M1115 1920h0M1077 1933h0M995 1985h0M1002 1979h0M1035 1929h0M1053 1915h0M1098 1860h0M1039 1938h0M1053 1936h0M1055 1913h0M1063 1933h0M996 1931h0M1016 1978h0M1087 1933h0M1074 1894h0M1011 1984h0M1028 1985h0M1095 1967h0M1037 1963h0M1107 1913h0M1009 1974h0M1075 1906h0M1060 1937h0M1061 1964h0M996 1937h0" stroke="#474747" stroke-width="11" stroke-linecap="round"/>
<path d="M1086 1916h0M994 1964h0M1059 1924h0M1015 1951h0M1093 1878h0M1026 1993h0M1048 1951h0M1047 1958h0M1054 1938h0M1106 1921h0M1014 1923h0M1058 1926h0M983 1952h0M1057 1940h0M1076 1905h0M1096 1959h0M1071 1960h0M1062 1940h0M995 1991h0M1058 1954h0M1028 1976h0M1015 1910h0M1035 1974h0M1130 1905h0M1087 1923h0M1088 1888h0M1080 1918h0M1052 1983h0M974 1977h0M1051 1978h0M1028 1957h0M1016 1983h0M1068 1953h0M1022 1926h0M1023 1952h0M1022 1969h0M1028 1958h0M1027 1995h0" stroke="#292a74" stroke-width="9.2" stroke-linecap="round"/>
<path d="M961 1987h0M1054 1959h0M1042 1949h0M1043 1953h0M1044 1932h0M1005 1971h0M1016 1957h0M1071 1915h0M1004 1946h0M1059 1925h0M1023 1933h0M1005 1946h0M1067 1914h0M1025 1984h0" stroke="#f0644a" stroke-width="9.2" stroke-linecap="round"/>
<path d="M1040 1911h0M1115 1920h0M1077 1933h0M995 1985h0M1002 1979h0M1035 1929h0M1053 1915h0M1098 1860h0M1039 1938h0M1053 1936h0M1055 1913h0M1063 1933h0M996 1931h0M1016 1978h0" stroke="#1b6332" stroke-width="9.2" stroke-linecap="round"/>
<path d="M1087 1933h0M1074 1894h0M1011 1984h0M1028 1985h0M1095 1967h0M1037 1963h0M1107 1913h0M1009 1974h0M1075 1906h0M1060 1937h0M1061 1964h0M996 1937h0" stroke="#d49dc8" stroke-width="9.2" stroke-linecap="round"/>
<path d="M1076 1962h0M1097 1939h0M1054 1898h0M1041 1996h0M1099 1921h0M1032 1960h0M1075 1922h0M1071 1926h0M969 1980h0M1060 1947h0M1073 1961h0M1033 1917h0M1066 1942h0M1024 1941h0M1078 1909h0M1079 1940h0M1034 1984h0M1051 1944h0M1006 1965h0M1035 1913h0M1031 2016h0M1041 1942h0M1034 2003h0M1041 1953h0M1021 1996h0M1032 1949h0M1066 1937h0M1105 1900h0M1129 1918h0M1066 1938h0M1075 1970h0M1025 1955h0M1048 1931h0M1053 1927h0M1019 1974h0M1049 1941h0M1099 1922h0M1037 1928h0M1065 1909h0M1062 1988h0M1033 1895h0M1046 1949h0M1042 2002h0M1070 1932h0M1121 1932h0M1122 1899h0M1056 1975h0M996 1974h0M1022 1901h0M1031 1958h0M1041 1954h0M1046 1933h0M1048 1948h0M1022 1975h0M996 1964h0M984 2017h0M1005 1979h0M1022 1930h0M1048 1949h0M1016 1920h0M1044 1907h0M1048 1913h0M1040 1961h0M1039 1974h0M1076 1955h0M1023 1959h0M1016 2006h0M1027 1990h0M1061 1981h0M999 1964h0M1028 1916h0M1062 1908h0M1088 1905h0M1102 1869h0M983 1990h0M1045 1962h0M1086 1945h0" stroke="#474747" stroke-width="11" stroke-linecap="round"/>
<path d="M1076 1962h0M1097 1939h0M1054 1898h0M1041 1996h0M1099 1921h0M1032 1960h0M1075 1922h0M1071 1926h0M969 1980h0M1060 1947h0M1073 1961h0M1033 1917h0M1066 1942h0M1024 1941h0M1078 1909h0M1079 1940h0M1034 1984h0M1051 1944h0M1006 1965h0M1035 1913h0M1031 2016h0M1041 1942h0M1034 2003h0M1041 1953h0M1021 1996h0M1032 1949h0M1066 1937h0M1105 1900h0M1129 1918h0M1066 1938h0M1075 1970h0M1025 1955h0M1048 1931h0M1053 1927h0M1019 1974h0M1049 1941h0M1099 1922h0M1037 1928h0M1065 1909h0M1062 1988h0M1033 1895h0M1046 1949h0M1042 2002h0M1070 1932h0M1121 1932h0M1122 1899h0M1056 1975h0M996 1974h0M1022 1901h0M1031 1958h0M1041 1954h0" stroke="#292a74" stroke-width="9.2" stroke-linecap="round"/>
<path d="M1046 1933h0M1048 1948h0M1022 1975h0M996 1964h0M984 2017h0M1005 1979h0M1022 1930h0M1048 1949h0M1016 1920h0M1044 1907h0M1048 1913h0M1040 1961h0M1039 1974h0M1076 1955h0M1023 1959h0M1016 2006h0M1027 1990h0" stroke="#f0644a" stroke-width="9.2" stroke-linecap="round"/>
<path d="M1061 1981h0M999 1964h0M1028 1916h0M1062 1908h0M1088 1905h0M1102 1869h0" stroke="#1b6332" stroke-width="9.2" stroke-linecap="round"/>
<path d="M983 1990h0M1045 1962h0M1086 1945h0" stroke="#d49dc8" stroke-width="9.2" stroke-linecap="round"/>
<path d="M1071 1917h0M1088 1915h0M1021 1982h0M993 1994h0M985 1946h0M1022 1979h0M1055 1981h0M1040 1960h0M1004 1961h0M1033 1977h0M1057 1920h0M1018 1930h0M1026 1935h0M1054 1931h0M978 1965h0M955 1990h0M1031 1940h0M1062 1950h0M1011 1937h0M1012 1963h0M1009 1950h0M1072 1917h0M1087 1932h0M1064 1970h0M1095 1933h0M1040 1982h0M1087 1954h0M1005 1964h0M1087 1922h0M1072 1890h0M1047 1940h0M1071 1942h0M1040 1922h0M1127 1900h0M1008 1970h0M1102 1907h0M1059 1950h0M1056 1894h0M1006 1969h0M1027 1942h0M1054 1947h0M1097 1922h0M1074 1931h0M1037 1958h0M992 1985h0M1087 1927h0M1073 1916h0M1081 1908h0M1026 1971h0M1059 1988h0M988 1989h0M1112 1884h0M1081 1963h0M1051 1946h0M1043 1958h0M982 2010h0M1064 1892h0M1048 1955h0M1085 1897h0M1014 1999h0M1037 1950h0M1038 1991h0M1047 1940h0M1077 1919h0M1088 1915h0M1014 1959h0M1032 1976h0M1119 1937h0M1026 1959h0M1052 1964h0M1051 1943h0M998 1986h0M1011 1947h0M1074 1944h0M1025 1947h0M1047 1977h0M981 1972h0M1091 1888h0" stroke="#474747" stroke-width="11" stroke-linecap="round"/>
<path d="M1071 1917h0M1088 1915h0M1021 1982h0M993 1994h0M985 1946h0M1022 1979h0M1055 1981h0M1040 1960h0M1004 1961h0M1033 1977h0M1057 1920h0M1018 1930h0M1026 1935h0M1054 1931h0M978 1965h0M955 1990h0M1031 1940h0M1062 1950h0M1011 1937h0M1012 1963h0M1009 1950h0" stroke="#f0644a" stroke-width="9.2" stroke-linecap="round"/>
<path d="M1072 1917h0M1087 1932h0M1064 1970h0M1095 1933h0M1040 1982h0M1087 1954h0M1005 1964h0M1087 1922h0" stroke="#d49dc8" stroke-width="9.2" stroke-linecap="round"/>
<path d="M1072 1890h0M1047 1940h0M1071 1942h0M1040 1922h0M1127 1900h0M1008 1970h0M1102 1907h0M1059 1950h0M1056 1894h0" stroke="#1b6332" stroke-width="9.2" stroke-linecap="round"/>
<path d="M1006 1969h0M1027 1942h0M1054 1947h0M1097 1922h0M1074 1931h0M1037 1958h0M992 1985h0M1087 1927h0M1073 1916h0M1081 1908h0M1026 1971h0M1059 1988h0M988 1989h0M1112 1884h0M1081 1963h0M1051 1946h0M1043 1958h0M982 2010h0M1064 1892h0M1048 1955h0M1085 1897h0M1014 1999h0M1037 1950h0M1038 1991h0M1047 1940h0M1077 1919h0M1088 1915h0M1014 1959h0M1032 1976h0M1119 1937h0M1026 1959h0M1052 1964h0M1051 1943h0M998 1986h0M1011 1947h0M1074 1944h0M1025 1947h0M1047 1977h0M981 1972h0M1091 1888h0" stroke="#292a74" stroke-width="9.2" stroke-linecap="round"/>
<path d="M1095 1875h0M1075 1912h0M1022 1981h0M1051 1955h0M1034 1961h0M1006 1958h0M1026 1901h0M1028 1980h0M1069 1944h0M1030 1922h0M1071 1904h0M1019 1940h0M1085 1928h0M1073 1901h0M1027 1935h0M997 2017h0M1033 1971h0M1028 1937h0M1028 1978h0M1069 1973h0M1003 1926h0M1053 1935h0M1001 1962h0M1051 1974h0M1021 1949h0M1038 1935h0M995 1973h0M996 1955h0M1030 1956h0M1054 2001h0M1039 1931h0M1037 1926h0M1056 1908h0M1019 1972h0M1044 1924h0M1063 1913h0M1087 1897h0M1044 1925h0M1032 1978h0M1059 1953h0M1056 1956h0M1029 1950h0M1060 1937h0M973 1976h0M1076 1947h0M1078 1950h0M1056 1942h0M1036 1925h0M1018 1907h0M1017 1953h0M1029 1981h0M1039 1980h0M1025 1933h0M996 1967h0M1070 1900h0M1070 1916h0M983 1982h0M999 1969h0M992 1964h0M1054 1974h0M1040 1956h0M1023 1953h0M1039 1970h0M1047 1948h0M978 1967h0M1107 1910h0M1037 1945h0M971 1978h0M970 1989h0M1093 1958h0M1036 1976h0M1095 1930h0M1080 1974h0M1054 1912h0M1089 1914h0M1091 1891h0M1007 1928h0" stroke="#474747" stroke-width="11" stroke-linecap="round"/>
<path d="M1095 1875h0M1075 1912h0M1022 1981h0M1051 1955h0M1034 1961h0M1006 1958h0M1026 1901h0M1028 1980h0M1069 1944h0M1030 1922h0M1071 1904h0M1019 1940h0M1085 1928h0M1073 1901h0M1027 1935h0M997 2017h0M1033 1971h0M1028 1937h0M1028 1978h0M1069 1973h0M1003 1926h0M1053 1935h0M1001 1962h0M1051 1974h0M1021 1949h0M1038 1935h0M995 1973h0M996 1955h0M1030 1956h0M1054 2001h0M1039 1931h0M1037 1926h0M1056 1908h0M1019 1972h0M1044 1924h0M1063 1913h0M1087 1897h0M1044 1925h0M1032 1978h0M1059 1953h0M1056 1956h0M1029 1950h0M1060 1937h0M973 1976h0M1076 1947h0M1078 1950h0M1056 1942h0M1036 1925h0M1018 1907h0" stroke="#292a74" stroke-width="9.2" stroke-linecap="round"/>
<path d="M1017 1953h0M1029 1981h0M1039 1980h0M1025 1933h0M996 1967h0M1070 1900h0M1070 1916h0M983 1982h0M999 1969h0M992 1964h0M1054 1974h0M1040 1956h0M1023 1953h0M1039 1970h0M1047 1948h0M978 1967h0M1107 1910h0" stroke="#f0644a" stroke-width="9.2" stroke-linecap="round"/>
<path d="M1037 1945h0M971 1978h0M970 1989h0M1093 1958h0" stroke="#d49dc8" stroke-width="9.2" stroke-linecap="round"/>
<path d="M1036 1976h0M1095 1930h0M1080 1974h0M1054 1912h0M1089 1914h0M1091 1891h0M1007 1928h0" stroke="#1b6332" stroke-width="9.2" stroke-linecap="round"/>
<path d="M1001 1974h0M1053 1920h0M1034 1991h0M1044 1951h0M1082 1903h0M1031 1932h0M1082 1882h0M1047 1932h0M1045 1956h0M1071 1921h0M1025 1961h0M1064 1917h0M1039 1954h0M1069 1943h0M989 1948h0M998 1962h0M1016 1969h0M954 2005h0M993 2024h0M1037 1968h0M1063 1946h0M995 1935h0M1047 1981h0M1048 1909h0M1055 1939h0M1060 1943h0M994 1946h0M1007 1993h0M1078 1957h0M1048 1945h0M1062 1933h0M1007 1965h0M1033 1969h0M1073 1911h0M1031 1928h0M1004 1992h0M980 1977h0M1075 1882h0M1071 1950h0M1035 1977h0M1022 1964h0M1032 1965h0M1086 1924h0M1063 1963h0M1012 1966h0M1034 1935h0M1087 1887h0M1009 1993h0M1060 1928h0M1030 1959h0M1097 1900h0M1022 1952h0M1033 1988h0M1102 1915h0M1079 1922h0M1078 1900h0M1059 1949h0M1076 1954h0M1063 1934h0M1089 1930h0M1095 1926h0M1010 1959h0M1120 1904h0M976 1990h0M1025 1993h0M1051 1987h0M1015 1981h0M1017 1937h0M1039 1954h0M1046 1957h0M1030 1945h0M1070 1919h0M1034 1950h0M1057 1969h0M1020 1911h0M1064 1909h0M1041 1924h0M984 1959h0" stroke="#474747" stroke-width="11" stroke-linecap="round"/>
<path d="M1001 1974h0M1053 1920h0M1034 1991h0M1044 1951h0M1082 1903h0M1031 1932h0M1082 1882h0M1047 1932h0M1045 1956h0M1071 1921h0" stroke="#1b6332" stroke-width="9.2" stroke-linecap="round"/>
<path d="M1025 1961h0M1064 1917h0M1039 1954h0M1069 1943h0M989 1948h0M998 1962h0M1016 1969h0M954 2005h0M993 2024h0M1037 1968h0M1063 1946h0M995 1935h0M1047 1981h0M1048 1909h0" stroke="#f0644a" stroke-width="9.2" stroke-linecap="round"/>
<path d="M1055 1939h0M1060 1943h0M994 1946h0M1007 1993h0M1078 1957h0M1048 1945h0M1062 1933h0M1007 1965h0M1033 1969h0M1073 1911h0M1031 1928h0M1004 1992h0M980 1977h0M1075 1882h0M1071 1950h0M1035 1977h0M1022 1964h0M1032 1965h0M1086 1924h0M1063 1963h0M1012 1966h0M1034 1935h0M1087 1887h0M1009 1993h0M1060 1928h0M1030 1959h0M1097 1900h0M1022 1952h0M1033 1988h0M1102 1915h0M1079 1922h0M1078 1900h0M1059 1949h0M1076 1954h0M1063 1934h0M1089 1930h0M1095 1926h0M1010 1959h0M1120 1904h0M976 1990h0M1025 1993h0M1051 1987h0M1015 1981h0M1017 1937h0M1039 1954h0M1046 1957h0M1030 1945h0M1070 1919h0M1034 1950h0" stroke="#292a74" stroke-width="9.2" stroke-linecap="round"/>
<path d="M1057 1969h0M1020 1911h0M1064 1909h0M1041 1924h0M984 1959h0" stroke="#d49dc8" stroke-width="9.2" stroke-linecap="round"/>
<path d="M1063 1908h0M1012 1956h0M1018 1935h0M1000 1965h0M1030 1984h0M991 1948h0M1056 1961h0M1064 1921h0M1022 1966h0M1043 1906h0M1024 1930h0M1018 1930h0M1039 1900h0M982 1959h0M1039 1969h0M1006 1944h0M1033 1958h0M1038 1974h0M1007 1943h0M1049 1974h0M1062 1924h0M1027 1978h0M1059 1950h0M1034 1983h0M1042 1962h0M1036 1941h0M1026 1920h0M1061 1934h0M1099 1903h0M1097 1953h0M1097 1896h0M1021 1972h0M1036 1967h0M1105 1946h0M1081 1920h0M1072 1928h0M1095 1936h0M1066 1900h0M1054 1963h0M1023 1977h0M1005 1953h0M1051 1962h0M1036 1951h0M1070 1907h0M1009 1994h0M1038 1971h0M1046 1915h0M1080 1927h0M1088 1916h0M983 1997h0M990 1973h0M1055 1933h0M1051 1974h0M1049 1954h0M1072 1925h0M1032 1987h0M1036 1971h0M1017 1969h0M1089 1916h0M1099 1903h0M1013 1992h0M1042 1929h0M1002 1946h0M1022 1957h0M1041 1899h0M1089 1900h0M1070 1936h0M1045 1929h0M1089 1912h0M1031 1917h0M1046 1890h0M1134 1882h0M1082 1869h0M1044 1951h0M1057 1920h0M1028 1950h0M1096 1873h0" stroke="#474747" stroke-width="11" stroke-linecap="round"/>
<path d="M1063 1908h0M1012 1956h0M1018 1935h0M1000 1965h0M1030 1984h0M991 1948h0M1056 1961h0M1064 1921h0M1022 1966h0M1043 1906h0M1024 1930h0M1018 1930h0M1039 1900h0M982 1959h0M1039 1969h0M1006 1944h0" stroke="#f0644a" stroke-width="9.2" stroke-linecap="round"/>
<path d="M1033 1958h0M1038 1974h0M1007 1943h0M1049 1974h0M1062 1924h0M1027 1978h0M1059 1950h0M1034 1983h0M1042 1962h0M1036 1941h0M1026 1920h0M1061 1934h0M1099 1903h0M1097 1953h0M1097 1896h0M1021 1972h0M1036 1967h0M1105 1946h0M1081 1920h0M1072 1928h0M1095 1936h0M1066 1900h0M1054 1963h0M1023 1977h0M1005 1953h0M1051 1962h0M1036 1951h0M1070 1907h0M1009 1994h0M1038 1971h0M1046 1915h0M1080 1927h0M1088 1916h0M983 1997h0M990 1973h0M1055 1933h0M1051 1974h0M1049 1954h0M1072 1925h0" stroke="#292a74" stroke-width="9.2" stroke-linecap="round"/>
<path d="M1032 1987h0M1036 1971h0M1017 1969h0M1089 1916h0M1099 1903h0M1013 1992h0M1042 1929h0M1002 1946h0M1022 1957h0M1041 1899h0" stroke="#d49dc8" stroke-width="9.2" stroke-linecap="round"/>
<path d="M1089 1900h0M1070 1936h0M1045 1929h0M1089 1912h0M1031 1917h0M1046 1890h0M1134 1882h0M1082 1869h0M1044 1951h0M1057 1920h0M1028 1950h0M1096 1873h0" stroke="#1b6332" stroke-width="9.2" stroke-linecap="round"/>
<path d="M1002 1949h0M1067 1908h0M1026 1928h0M1080 1914h0M1066 1912h0M1042 1962h0M1035 1963h0M1035 1955h0M1059 1937h0M999 1935h0M990 1966h0M1002 1981h0M1046 1916h0M1064 1931h0M1052 1948h0M1070 1934h0M1021 1956h0M1110 1917h0M1068 1928h0M1080 1923h0M1027 1921h0M1093 1959h0M1046 1963h0M1082 1968h0M1061 1959h0M1060 1902h0M1062 1911h0M1048 1952h0M1078 1974h0M1080 1924h0M1026 1964h0M1016 2011h0M1028 1986h0M1045 1953h0M994 2009h0M1036 1990h0M1063 1957h0M1089 1907h0M1021 1949h0M1046 1976h0M1058 1981h0M1077 1956h0M1065 1964h0M1007 1964h0M1035 1981h0M1084 1934h0M1019 2000h0M980 1954h0M1105 1886h0M1037 1929h0M1055 1910h0M1003 1992h0M1037 1934h0M1040 1946h0M1114 1885h0M985 2003h0M1009 1968h0M1010 1994h0M1030 1950h0M1052 1953h0M995 1998h0M1011 1953h0M1041 1942h0M1000 1967h0M1075 1902h0M1001 1946h0M1051 1968h0M1017 1997h0M1085 1944h0M1086 1899h0M1013 1967h0M1073 1948h0M1092 1931h0M1056 1933h0M1033 1913h0M1012 1950h0M1098 1936h0M1010 1952h0" stroke="#474747" stroke-width="11" stroke-linecap="round"/>
<path d="M1002 1949h0M1067 1908h0M1026 1928h0M1080 1914h0M1066 1912h0M1042 1962h0M1035 1963h0M1035 1955h0M1059 1937h0M999 1935h0M990 1966h0M1002 1981h0M1046 1916h0" stroke="#1b6332" stroke-width="9.2" stroke-linecap="round"/>
<path d="M1064 1931h0M1052 1948h0M1070 1934h0M1021 1956h0M1110 1917h0M1068 1928h0M1080 1923h0M1027 1921h0M1093 1959h0M1046 1963h0M1082 1968h0M1061 1959h0M1060 1902h0M1062 1911h0M1048 1952h0M1078 1974h0M1080 1924h0M1026 1964h0M1016 2011h0M1028 1986h0M1045 1953h0M994 2009h0M1036 1990h0M1063 1957h0M1089 1907h0M1021 1949h0M1046 1976h0M1058 1981h0M1077 1956h0M1065 1964h0M1007 1964h0M1035 1981h0M1084 1934h0M1019 2000h0M980 1954h0M1105 1886h0M1037 1929h0M1055 1910h0M1003 1992h0" stroke="#292a74" stroke-width="9.2" stroke-linecap="round"/>
<path d="M1037 1934h0M1040 1946h0M1114 1885h0M985 2003h0M1009 1968h0M1010 1994h0M1030 1950h0M1052 1953h0M995 1998h0M1011 1953h0M1041 1942h0M1000 1967h0M1075 1902h0M1001 1946h0M1051 1968h0M1017 1997h0M1085 1944h0M1086 1899h0M1013 1967h0M1073 1948h0M1092 1931h0M1056 1933h0M1033 1913h0" stroke="#f0644a" stroke-width="9.2" stroke-linecap="round"/>
<path d="M1012 1950h0M1098 1936h0M1010 1952h0" stroke="#d49dc8" stroke-width="9.2" stroke-linecap="round"/>
<path d="M905 2054h0" stroke="#474747" stroke-width="11" stroke-linecap="round"/>
<path d="M905 2054h0" stroke="#292a74" stroke-width="9.2" stroke-linecap="round"/>
<path d="M1248 1814h0" stroke="#474747" stroke-width="11" stroke-linecap="round"/>
<path d="M1248 1814h0" stroke="#292a74" stroke-width="9.2" stroke-linecap="round"/>
<path d="M1229 1881h0" stroke="#474747" stroke-width="11" stroke-linecap="round"/>
<path d="M1229 1881h0" stroke="#292a74" stroke-width="9.2" stroke-linecap="round"/>
<path d="M1097 1793h0" stroke="#474747" stroke-width="11" stroke-linecap="round"/>
<path d="M1097 1793h0" stroke="#292a74" stroke-width="9.2" stroke-linecap="round"/>
<path d="M1014 2050h0" stroke="#474747" stroke-width="11" stroke-linecap="round"/>
<path d="M1014 2050h0" stroke="#d49dc8" stroke-width="9.2" stroke-linecap="round"/>
<line x1="906.2" y1="2016.5" x2="1245.9" y2="1840.9" stroke="#7ab13f" stroke-width="4" />
<line x1="931.2" y1="1986.5" x2="1134.1" y2="1891.5" stroke="#f4766c" stroke-width="4" />
<line x1="947.4" y1="1998.8" x2="1148.8" y2="1884.1" stroke="#b38ad3" stroke-width="4" />
<line x1="915.9" y1="2009.1" x2="1157" y2="1873.8" stroke="#14b8c4" stroke-width="4" />
<line x1="889.4" y1="1780.6" x2="889.4" y2="2068" stroke="#3f3f3f" stroke-width="1.5" />
<line x1="889.4" y1="2068" x2="1263" y2="2068" stroke="#3f3f3f" stroke-width="1.5" />
<line x1="927.4" y1="2068" x2="927.4" y2="2078" stroke="#737373" stroke-width="1.8" />
<text x="927.4" y="2107" font-size="22" text-anchor="middle" >12</text>
<line x1="1018.8" y1="2068" x2="1018.8" y2="2078" stroke="#737373" stroke-width="1.8" />
<text x="1018.8" y="2107" font-size="22" text-anchor="middle" >13</text>
<line x1="1110.6" y1="2068" x2="1110.6" y2="2078" stroke="#737373" stroke-width="1.8" />
<text x="1110.6" y="2107" font-size="22" text-anchor="middle" >14</text>
<line x1="1201.8" y1="2068" x2="1201.8" y2="2078" stroke="#737373" stroke-width="1.8" />
<text x="1201.8" y="2107" font-size="22" text-anchor="middle" >15</text>
<line x1="879.4" y1="2058.2" x2="889.4" y2="2058.2" stroke="#737373" stroke-width="1.8" />
<text x="866.9" y="2066" font-size="22" text-anchor="end" >10</text>
<line x1="879.4" y1="1973.8" x2="889.4" y2="1973.8" stroke="#737373" stroke-width="1.8" />
<text x="866.9" y="1981.6" font-size="22" text-anchor="end" >11</text>
<line x1="879.4" y1="1889.4" x2="889.4" y2="1889.4" stroke="#737373" stroke-width="1.8" />
<text x="866.9" y="1897.2" font-size="22" text-anchor="end" >12</text>
<line x1="879.4" y1="1805.3" x2="889.4" y2="1805.3" stroke="#737373" stroke-width="1.8" />
<text x="866.9" y="1813.1" font-size="22" text-anchor="end" >13</text>
<text x="912" y="1815.9" font-size="23" fill="#f4766c" ><tspan font-style="italic">ρ</tspan> = 0.6</text>
<text x="912" y="1844.4" font-size="23" fill="#7ab13f" ><tspan font-style="italic">ρ</tspan> = 0.6</text>
<text x="912" y="1876.8" font-size="23" fill="#14b8c4" ><tspan font-style="italic">ρ</tspan> = 0.7</text>
<text x="912" y="1904.7" font-size="23" fill="#b38ad3" ><tspan font-style="italic">ρ</tspan> = 0.6</text>
<text x="1068" y="1812" font-size="23" ><tspan font-style="italic">ρ</tspan> = 0.6</text>
<text x="1076.8" y="2147.4" font-size="23" text-anchor="middle" ><tspan font-style="italic">CNOT1</tspan> (gene expression)</text>
<text x="818" y="1923.8" font-size="23" text-anchor="middle" transform="rotate(-90 818 1923.8)" ><tspan font-style="italic">E2F4</tspan> (gene expression)</text>
<path d="M1629 1949h0M1557 1915h0M1450 2016h0M1603 1925h0M1530 1974h0M1616 1884h0M1568 1946h0M1611 1944h0M1643 1906h0M1552 1981h0M1446 1992h0M1483 1967h0M1550 1882h0M1548 1982h0M1589 1923h0M1603 1934h0M1597 1898h0M1523 1958h0M1529 1980h0M1489 1966h0M1436 1997h0M1467 2040h0M1538 2003h0M1534 1959h0M1672 1886h0M1494 1927h0M1557 1968h0M1508 1947h0M1518 1952h0M1538 1981h0M1507 1925h0M1506 2001h0M1575 1944h0M1637 1928h0M1516 1951h0M1576 1953h0M1506 1944h0M1464 1973h0M1538 1955h0M1459 2005h0M1598 1941h0M1627 1920h0M1547 1972h0M1508 1939h0M1582 1892h0M1584 1923h0M1570 1937h0M1546 1997h0M1520 1945h0M1589 1939h0M1581 1949h0M1526 1943h0M1612 1942h0M1548 1979h0M1560 1885h0M1449 1984h0M1542 1921h0M1505 1984h0M1533 1947h0M1533 1981h0M1560 1979h0M1499 2005h0M1505 1912h0M1574 1896h0M1492 1942h0M1542 1987h0M1612 1925h0M1508 1954h0M1432 1979h0M1496 1998h0M1470 1959h0M1490 1920h0M1588 1906h0M1455 1966h0M1497 1965h0M1533 1976h0M1546 1955h0M1565 1896h0M1553 1962h0M1509 1956h0M1514 1937h0M1468 1966h0M1591 1899h0M1527 1991h0M1640 1915h0M1543 1968h0M1442 2004h0M1588 1944h0M1523 1961h0M1545 1935h0M1556 1970h0M1482 1967h0M1574 1935h0M1525 1931h0M1607 1931h0M1482 1952h0M1479 1965h0M1577 2001h0M1501 1938h0M1535 1965h0M1586 1965h0M1517 1975h0M1484 1977h0M1542 1972h0M1539 1956h0M1538 2042h0M1519 1996h0M1497 1970h0M1535 1914h0M1543 1905h0M1547 1963h0M1661 1908h0M1534 1995h0M1542 1955h0M1573 1931h0M1520 2017h0M1475 1963h0M1484 1966h0M1485 2021h0M1554 1941h0M1571 2000h0M1582 2006h0M1597 1924h0M1567 1927h0M1608 1971h0M1586 1940h0M1584 1931h0M1560 1940h0M1623 1924h0M1675 1866h0M1453 1975h0M1556 1954h0M1575 1945h0M1516 1892h0M1537 1931h0M1510 1968h0M1531 1984h0M1518 1967h0M1604 1913h0M1522 1975h0M1488 2001h0M1581 1917h0M1506 1940h0M1567 1955h0M1645 1948h0M1490 2010h0M1601 1953h0M1610 1914h0M1476 1992h0M1636 1943h0M1682 1884h0M1579 1925h0M1557 1925h0M1606 1891h0M1570 1942h0M1586 1965h0M1571 1911h0M1547 1958h0M1492 1982h0M1631 1968h0M1521 1981h0M1579 1981h0M1602 1955h0M1496 1931h0M1568 1969h0M1573 1955h0M1562 1899h0M1624 1888h0M1563 1897h0M1523 2014h0M1585 1895h0M1632 1970h0M1526 1957h0M1495 1977h0M1597 1925h0M1583 1970h0M1484 1998h0M1469 1975h0M1489 2016h0M1534 2033h0M1582 1939h0M1631 1926h0M1653 1919h0M1624 1934h0M1552 1938h0M1599 1896h0M1493 1952h0M1638 1976h0M1517 1931h0M1509 1967h0M1496 1927h0M1496 1954h0M1557 1966h0M1582 1985h0M1503 1961h0M1536 1953h0M1620 1938h0M1486 1946h0M1573 1948h0M1489 1953h0M1609 1938h0M1561 2006h0M1566 1951h0M1483 2046h0M1626 1897h0M1579 1986h0M1701 1884h0M1534 1940h0M1519 1961h0M1560 1986h0M1564 1937h0M1577 1892h0M1512 1947h0M1484 2027h0M1545 1961h0M1560 1954h0M1582 1908h0M1582 1940h0M1603 1924h0M1569 1938h0M1592 1924h0M1595 1952h0M1559 1975h0M1453 1980h0M1526 2009h0M1539 2017h0M1543 1945h0M1511 2007h0M1455 2046h0M1553 1925h0M1635 1932h0M1546 1980h0M1618 1980h0M1502 2007h0M1528 1955h0M1510 2004h0M1507 1960h0M1579 1860h0M1527 1991h0M1549 1942h0M1464 1995h0M1538 1976h0M1507 1963h0M1535 1924h0M1621 1910h0M1541 1942h0M1557 1921h0M1561 1946h0M1487 1983h0M1508 1897h0M1597 1910h0M1582 1936h0M1562 1893h0M1531 1948h0M1532 1937h0M1499 1936h0M1645 1965h0M1537 1945h0M1626 1931h0M1550 1946h0M1462 1955h0M1597 1949h0M1478 1958h0M1470 2005h0M1444 1992h0M1543 1982h0M1536 1974h0M1622 1995h0M1523 1972h0M1533 1945h0M1531 1937h0M1484 1988h0M1500 1987h0M1439 1960h0M1595 1963h0M1471 1963h0M1537 2004h0M1495 1961h0M1572 1913h0M1602 1898h0M1500 1962h0M1628 1944h0M1571 1946h0M1523 1949h0M1539 1947h0M1569 1923h0M1646 1919h0M1507 1937h0M1440 2036h0M1494 1923h0M1548 1956h0M1511 1918h0M1478 1948h0M1465 1982h0M1593 1991h0M1547 1986h0M1559 1955h0M1518 1994h0M1547 1979h0M1575 1948h0M1557 1980h0M1667 1860h0M1538 1943h0M1675 1875h0M1578 1919h0M1501 1938h0M1492 1971h0M1492 1969h0M1612 1928h0M1584 1947h0M1537 1967h0M1597 1938h0M1532 1945h0M1532 2011h0M1527 1923h0M1458 2022h0M1531 2009h0M1536 1920h0M1565 1953h0M1509 2010h0M1508 1966h0M1616 1967h0M1519 1946h0M1527 1957h0M1512 1980h0M1579 1964h0M1579 1902h0M1534 1964h0M1487 1939h0M1538 1958h0M1646 1905h0M1513 1980h0M1525 1985h0M1598 1931h0M1589 1939h0M1526 1965h0M1514 1938h0M1615 1944h0M1556 1983h0M1526 1952h0M1555 1959h0M1491 1988h0M1490 2012h0M1624 1910h0M1542 1968h0M1487 1961h0M1609 1935h0M1553 1951h0M1596 1943h0M1533 1968h0M1582 1930h0M1578 1961h0M1493 1967h0M1567 2000h0M1601 1872h0M1509 2019h0M1514 1933h0M1475 1966h0M1542 1948h0M1533 1966h0M1536 1966h0M1511 1936h0M1675 1902h0M1573 1937h0M1492 1992h0M1589 1946h0M1465 2000h0M1591 1947h0M1622 1926h0M1426 1979h0M1579 1942h0M1500 1998h0M1530 1967h0M1591 1915h0M1486 1970h0M1662 1888h0M1509 1990h0M1623 1913h0M1617 1915h0M1571 1935h0M1550 1932h0M1568 1886h0M1573 1966h0M1584 1978h0M1431 1976h0M1560 1977h0M1560 1971h0M1663 1856h0M1541 1955h0M1574 1922h0M1449 2033h0M1491 1982h0M1510 1973h0M1554 1927h0M1465 1968h0M1584 1955h0M1539 1919h0M1434 1976h0M1614 1920h0M1570 1947h0M1613 1944h0M1489 1966h0M1528 2015h0M1621 1975h0M1514 1949h0M1559 1958h0M1522 1999h0M1480 1993h0M1524 1936h0M1614 1897h0M1531 1985h0M1632 1924h0M1556 1933h0M1585 1912h0M1524 1956h0M1521 1972h0M1451 1943h0M1567 1930h0M1573 1964h0M1539 1941h0M1588 1937h0M1570 1944h0M1572 1979h0M1537 1977h0M1530 1965h0M1491 1978h0M1488 2023h0M1511 2007h0M1605 1900h0M1622 1869h0M1590 1924h0M1415 2048h0M1509 2004h0M1486 2036h0M1504 1974h0M1590 1965h0M1555 1947h0M1507 1925h0M1541 1939h0M1480 1967h0M1582 1947h0M1551 1987h0M1613 1946h0M1533 1974h0M1534 1966h0M1580 1895h0M1535 1930h0M1497 1991h0M1551 1978h0M1418 2023h0M1533 2004h0M1443 1996h0M1536 2024h0M1612 1946h0M1542 1991h0M1573 1952h0M1533 2027h0M1610 1918h0M1643 1859h0M1551 1944h0M1581 1965h0M1543 1963h0M1580 1921h0M1516 1985h0M1662 1937h0M1675 1927h0M1604 1946h0M1584 1912h0M1525 1966h0M1486 1980h0M1564 1952h0M1467 1987h0M1537 1966h0M1518 1988h0M1524 1993h0M1475 1943h0M1575 1967h0M1508 1979h0M1488 1987h0M1559 1978h0M1507 2008h0M1541 1950h0M1583 1952h0M1602 1904h0M1615 1903h0M1649 1979h0M1598 1973h0M1543 1995h0M1552 1900h0M1600 1955h0M1554 1962h0M1627 1957h0M1487 1964h0M1479 1970h0M1542 1904h0M1512 1974h0M1554 1925h0M1653 1947h0M1593 1873h0M1555 1938h0M1580 1943h0M1494 1991h0M1622 1935h0M1570 1943h0M1558 1961h0M1569 1957h0M1578 1961h0M1552 1992h0M1493 1969h0M1489 1994h0M1485 1962h0M1586 1939h0M1584 1926h0M1591 1859h0M1566 1955h0M1557 1938h0M1449 1948h0M1644 1923h0M1508 1971h0M1575 1950h0M1544 2004h0M1525 1955h0M1460 2030h0M1587 1948h0M1544 1933h0M1587 1937h0M1531 2018h0M1432 2001h0M1557 1977h0M1594 1983h0M1569 1942h0M1568 1881h0M1629 1916h0M1454 1953h0M1553 1946h0M1608 1924h0M1518 1904h0M1489 1945h0M1530 1965h0M1540 1944h0M1563 1931h0M1578 1949h0M1571 1948h0M1559 1890h0M1611 1896h0M1578 1951h0M1556 1919h0M1535 1979h0M1496 1944h0M1616 1907h0M1509 1995h0M1534 1916h0M1518 1920h0M1566 1904h0M1666 1871h0M1550 1957h0M1573 1926h0M1576 1917h0M1532 1935h0M1557 1935h0M1642 1793h0M1739 1828h0M1751 1844h0M1721 1933h0M1449 2053h0M1540 2041h0M1449 1929h0M1413 2000h0" stroke="#808080" stroke-width="9.2" stroke-linecap="round"/>
<line x1="1412.9" y1="2002.4" x2="1751.8" y2="1900.3" stroke="#000" stroke-width="4" />
<line x1="1395.3" y1="1780.6" x2="1395.3" y2="2068" stroke="#3f3f3f" stroke-width="1.5" />
<line x1="1395.3" y1="2068" x2="1768" y2="2068" stroke="#3f3f3f" stroke-width="1.5" />
<line x1="1485.6" y1="2068" x2="1485.6" y2="2078" stroke="#737373" stroke-width="1.8" />
<text x="1485.6" y="2107" font-size="22" text-anchor="middle" >−1</text>
<line x1="1606.2" y1="2068" x2="1606.2" y2="2078" stroke="#737373" stroke-width="1.8" />
<text x="1606.2" y="2107" font-size="22" text-anchor="middle" >0</text>
<line x1="1726.8" y1="2068" x2="1726.8" y2="2078" stroke="#737373" stroke-width="1.8" />
<text x="1726.8" y="2107" font-size="22" text-anchor="middle" >1</text>
<line x1="1385.3" y1="2033.5" x2="1395.3" y2="2033.5" stroke="#737373" stroke-width="1.8" />
<text x="1372.8" y="2041.3" font-size="22" text-anchor="end" >−2</text>
<line x1="1385.3" y1="1954.7" x2="1395.3" y2="1954.7" stroke="#737373" stroke-width="1.8" />
<text x="1372.8" y="1962.5" font-size="22" text-anchor="end" >−1</text>
<line x1="1385.3" y1="1875.9" x2="1395.3" y2="1875.9" stroke="#737373" stroke-width="1.8" />
<text x="1372.8" y="1883.7" font-size="22" text-anchor="end" >0</text>
<line x1="1385.3" y1="1796.8" x2="1395.3" y2="1796.8" stroke="#737373" stroke-width="1.8" />
<text x="1372.8" y="1804.6" font-size="22" text-anchor="end" >1</text>
<text x="1561.2" y="1812" font-size="23" ><tspan font-style="italic">ρ</tspan> = 0.6</text>
<text x="1582.6" y="2147.4" font-size="23" text-anchor="middle" ><tspan font-style="italic">CNOT1</tspan> (gene expression)</text>
<text x="1325" y="1923.8" font-size="23" text-anchor="middle" transform="rotate(-90 1325 1923.8)" ><tspan font-style="italic">E2F4</tspan> (gene expression)</text>
</svg></body></html>
